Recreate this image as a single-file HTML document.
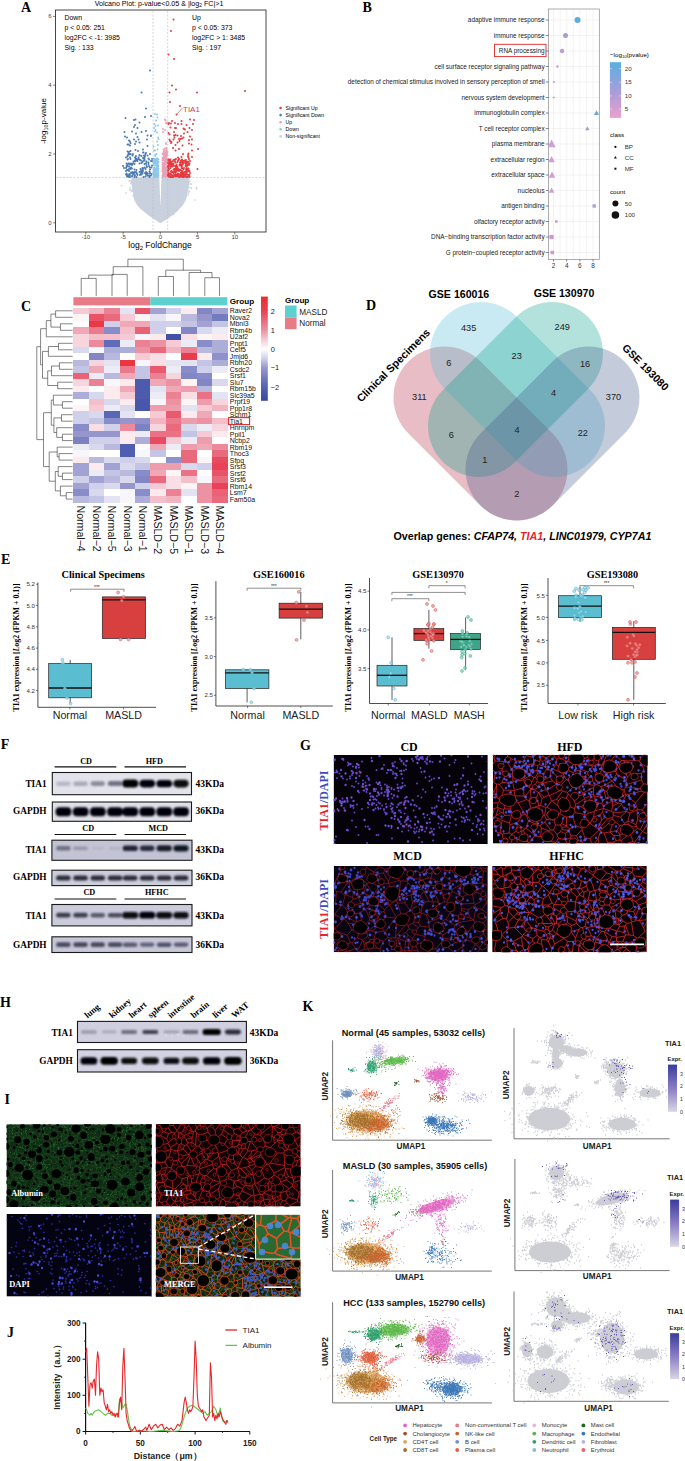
<!DOCTYPE html><html><head><meta charset="utf-8"><style>html,body{margin:0;padding:0;background:#fff;overflow:hidden}svg{display:block}</style></head><body>
<svg width="685" height="1461" viewBox="0 0 685 1461">
<rect width="685" height="1461" fill="#fff"/>
<text x="21" y="12.3" font-size="14" text-anchor="start" font-family='"Liberation Serif",serif' font-weight="bold" fill="#000">A</text>
<rect x="55.5" y="10" width="210.5" height="222" fill="none" stroke="#333" stroke-width="0.9"/>
<text x="159" y="6" font-size="7.1" text-anchor="middle" font-family='"Liberation Sans",sans-serif' fill="#000">Volcano Plot: p-value&lt;0.05 &amp; |log<tspan font-size="5" dy="1.3">2</tspan><tspan dy="-1.3"> FC|&gt;1</tspan></text>
<line x1="53" x2="55.5" y1="222.8" y2="222.8" stroke="#333" stroke-width="0.6"/>
<text x="51.5" y="224.8" font-size="6" text-anchor="end" font-family='"Liberation Sans",sans-serif' fill="#444">0</text>
<line x1="53" x2="55.5" y1="154" y2="154" stroke="#333" stroke-width="0.6"/>
<text x="51.5" y="156" font-size="6" text-anchor="end" font-family='"Liberation Sans",sans-serif' fill="#444">2</text>
<line x1="53" x2="55.5" y1="85.2" y2="85.2" stroke="#333" stroke-width="0.6"/>
<text x="51.5" y="87.2" font-size="6" text-anchor="end" font-family='"Liberation Sans",sans-serif' fill="#444">4</text>
<line x1="53" x2="55.5" y1="16.4" y2="16.4" stroke="#333" stroke-width="0.6"/>
<text x="51.5" y="18.4" font-size="6" text-anchor="end" font-family='"Liberation Sans",sans-serif' fill="#444">6</text>
<line y1="232" y2="234.5" x1="85.8" x2="85.8" stroke="#333" stroke-width="0.6"/>
<text x="85.8" y="238.6" font-size="6" text-anchor="middle" font-family='"Liberation Sans",sans-serif' fill="#444">-10</text>
<line y1="232" y2="234.5" x1="123.1" x2="123.1" stroke="#333" stroke-width="0.6"/>
<text x="123.1" y="238.6" font-size="6" text-anchor="middle" font-family='"Liberation Sans",sans-serif' fill="#444">-5</text>
<line y1="232" y2="234.5" x1="160.3" x2="160.3" stroke="#333" stroke-width="0.6"/>
<text x="160.3" y="238.6" font-size="6" text-anchor="middle" font-family='"Liberation Sans",sans-serif' fill="#444">0</text>
<line y1="232" y2="234.5" x1="197.6" x2="197.6" stroke="#333" stroke-width="0.6"/>
<text x="197.6" y="238.6" font-size="6" text-anchor="middle" font-family='"Liberation Sans",sans-serif' fill="#444">5</text>
<line y1="232" y2="234.5" x1="234.8" x2="234.8" stroke="#333" stroke-width="0.6"/>
<text x="234.8" y="238.6" font-size="6" text-anchor="middle" font-family='"Liberation Sans",sans-serif' fill="#444">10</text>
<text x="160" y="248" font-size="8.5" text-anchor="middle" font-family='"Liberation Sans",sans-serif' fill="#000">log<tspan font-size="6" dy="1.5">2</tspan><tspan dy="-1.5"> FoldChange</tspan></text>
<text transform="translate(46.3,121) rotate(-90)" font-size="8" text-anchor="middle" font-family="Liberation Sans">-log<tspan font-size="5.5" dy="1.5">10</tspan><tspan dy="-1.5">p-value</tspan></text>
<path d="M131.5 177.6L131.3 183L132.4 189.5L134.2 200L137 205L140.3 208.8L145 212.6L149 215.8L155 219.8L160.4 223.2L166 219.8L171.8 215.8L176 212.6L179.7 208.8L183 205L185.8 200L188.4 189.5L189.5 183L189.3 177.6Z" fill="#C9D1DE"/>
<path transform="scale(.5)" d="M243 371h0m15-9h0m3 4h0m0-5h0m0 1h0m2-1h0m0 5h0m2 2h0m1-7h0m4 7h0m4 1h0m22-8h0m81 8h0m2-6h0m2 5h0m2 0h0m-123 7h0m0 5h0m0-1h0m3 2h0m1 2h0m1-3h0m10 1h0m99-2h0m4 3h0m1 1h0m1-8h0m3 1h0m10 2h0m0-3h0m-141 11h0m14 4h0m2 3h0m1-2h0m0 2h0m1-4h0m0-3h0m0 3h0m3 6h0m1-3h0m6-4h0m64 4h0m26-1h0m1-1h0m1 3h0m0-8h0m4 5h0m1-4h0m-105 11h0m0 0h0m4 3h0m0 2h0m5 5h0m0-2h0m58-9h0m20 8h0m2-3h0m2-1h0m5-4h0m1 0h0m21 4h0m-107 9h0m2-1h0m65 11h0m4-2h0m1-3h0m2-6h0m-59 21h0m44-3h0m1-2h0m4-3h0m0 8h0m2-9h0m0 1h0" stroke="#C9D1DE" stroke-width="3.4" stroke-linecap="round" fill="none"/>
<path d="M159.3 177.6L161.5 177.6L160.4 207Z" fill="#fff"/>
<line x1="56" x2="265" y1="177.6" y2="177.6" stroke="#bbb" stroke-width="0.6" stroke-dasharray="2,1.5"/>
<line y1="11" y2="231" x1="153.0" x2="153.0" stroke="#bbb" stroke-width="0.6" stroke-dasharray="2,1.5"/>
<line y1="11" y2="231" x1="167.7" x2="167.7" stroke="#bbb" stroke-width="0.6" stroke-dasharray="2,1.5"/>
<path transform="scale(.5)" d="M310 228h0m4 1h0m1 6h0m-6 13h0m3-7h0m4 10h0m-8 5h0m2 7h0m1-11h0m0 8h0m3 5h0m2 10h0m-2 8h0m3-5h0m-10 15h0m8 6h0m1-9h0m-8 11h0m2 0h0m0 9h0m3-2h0m-6 9h0m0 6h0m1-3h0m0 0h0m0-1h0m0 4h0m1-5h0m0 0h0m0 1h0m0 2h0m1-3h0m1 1h0m0 3h0m0-2h0m0 0h0m0-8h0m1 7h0m0 0h0m1 2h0m0-2h0m0 1h0m0 1h0m1 1h0m0-5h0m0 5h0m0-5h0m1 4h0m0-4h0m0 1h0m1 0h0m1 1h0m-10 7h0m0 1h0m0-3h0m1 0h0m0 7h0m0-2h0m0-1h0m0-4h0m0 0h0m1 2h0m0 9h0m0 0h0m1-9h0m0-2h0m2 6h0m0-6h0m0 0h0m0 7h0m1-5h0m0 1h0m0 3h0m0-5h0m0 8h0m0-2h0m1 2h0m0 0h0m0-8h0m0 5h0m0 0h0m1 2h0m0-8h0m0 4h0m0 6h0m1-8h0m0-1h0m0 6h0m0 2h0m0-3h0m1 2h0m0 0h0m0-8h0m-10 21h0m0-2h0m0 4h0m0 0h0m0-7h0m0-1h0m1-3h0m0 5h0m0 0h0m0 6h0m0-6h0m0 1h0m0-4h0m0 6h0m0 3h0m0-9h0m1 8h0m0-4h0m0-2h0m0 7h0m0-2h0m0-5h0m0-2h0m1-1h0m0 3h0m0-2h0m0 8h0m0-6h0m0 4h0m1-5h0m0-1h0m0 6h0m0 1h0m0 2h0m1-10h0m0 0h0m0 8h0m0 0h0m0-7h0m0-1h0m0 6h0m0-3h0m1-2h0m0 3h0m0-3h0m0-1h0m1-1h0m0 5h0m0-5h0m0 10h0m1-7h0m0-1h0m0 9h0m0-1h0m0-5h0m0 5h0m0-8h0m1 3h0m1 2h0m0 4h0m0-10h0m-10 12h0m0 2h0m0 3h0m1-3h0m0 3h0m0-6h0m0 5h0m0-3h0m0-2h0m1 6h0m0-4h0m0 4h0m1-3h0m0 0h0m0 3h0m0-6h0m0 0h0m1 2h0m1 4h0m0-6h0m0 2h0m0 4h0m0-2h0m0 2h0m1-1h0m0 1h0m1-4h0m0 1h0m0 3h0m0-1h0m0-5h0m0 1h0m1 0h0m1 2h0m0-2h0m1 3h0m0-1h0m0 0h0" stroke="#8CC8E8" stroke-width="3.8" stroke-linecap="round" fill="none"/>
<path transform="scale(.5)" d="M330 239h0m0 0h0m1 2h0m1 5h0m2-1h0m0 2h0m-8 11h0m4 2h0m-4 4h0m0 0h0m6 22h0m-5 13h0m3-2h0m2-9h0m1 8h0m-8 12h0m1 1h0m1-1h0m0-1h0m0-3h0m0 2h0m1-1h0m0-2h0m0 2h0m1 2h0m0 0h0m0-5h0m0 7h0m0 2h0m1-4h0m1 2h0m0-1h0m1-1h0m0-2h0m0-3h0m0 6h0m1 3h0m0-3h0m0 3h0m0-7h0m0-4h0m1 2h0m0 7h0m0-6h0m0 4h0m0-5h0m1 9h0m0-6h0m0-1h0m-10 16h0m0-5h0m0 2h0m1 3h0m1-3h0m0 2h0m0-2h0m0-1h0m1 2h0m0-5h0m1 1h0m0-1h0m0 9h0m1-1h0m0 1h0m0-9h0m1 3h0m0 4h0m0 2h0m2-4h0m0 0h0m0-2h0m0 7h0m0-8h0m2 4h0m0 4h0m0-3h0m-10 13h0m0-5h0m0 1h0m0-1h0m0-3h0m1 6h0m0-6h0m0 7h0m1 1h0m0-7h0m1 7h0m0-5h0m1 2h0m0 4h0m0-5h0m0 3h0m0-3h0m0 2h0m0-4h0m0 8h0m1-11h0m0 3h0m1-2h0m0 4h0m1 5h0m1 1h0m0-6h0m1 4h0m0 0h0m0-9h0m0 10h0m0-9h0m1 0h0m0 2h0m-10 16h0m0-6h0m0 5h0m0-2h0m1 4h0m0-7h0m0 10h0m0-1h0m0-3h0m0 1h0m1 0h0m0 0h0m0 0h0m0-8h0m0 3h0m0-3h0m0 8h0m0-6h0m0-1h0m1-1h0m0 3h0m0 4h0m0 0h0m0-4h0m0 7h0m0-10h0m0 11h0m1-7h0m0 5h0m0-1h0m0-4h0m0 4h0m0-1h0m0 4h0m1-7h0m0 6h0m0 0h0m0 1h0m0-2h0m0-7h0m0 7h0m1-8h0m0 5h0m0-2h0m0-2h0m0 2h0m0 1h0m1 1h0m0 5h0m0-9h0m0 8h0m0 0h0m0 1h0m0-1h0m1-10h0m0 9h0m0 0h0m0 2h0m1-1h0m0-6h0m0 4h0m0 3h0m0-5h0m0-4h0m0-1h0m1 7h0m0 0h0m0-3h0m0 5h0m-10 6h0m0-1h0m1-3h0m0 0h0m0 4h0m0 1h0m0 1h0m1-3h0m0 2h0m0-1h0m0-1h0m0-1h0m1 3h0m0-2h0m0 2h0m1-4h0m0-1h0m1 4h0m0-2h0m1 4h0m0 0h0m0-3h0m1-1h0m1 3h0m0 0h0m0-1h0m0-4h0m0 5h0m0-3h0m1 0h0m0 3h0m0 0h0m1-3h0m0 0h0m0 3h0m0-2h0m0-1h0" stroke="#E9A1B9" stroke-width="3.8" stroke-linecap="round" fill="none"/>
<path transform="scale(.5)" d="M300 141h0m-17 44h0m9 32h0m-41 19h0m20 3h0m19-5h0m12-2h0m-34 8h0m2 10h0m9-5h0m-15 18h0m4-9h0m7 2h0m17 6h0m-43 2h0m1 9h0m4 2h0m18-8h0m3 7h0m8-10h0m12 7h0m7 0h0m0 1h0m-44 9h0m2 2h0m1 3h0m7-7h0m4 4h0m5-4h0m2 6h0m15-6h0m-39 10h0m2 0h0m3 2h0m10-3h0m16 11h0m9-7h0m-40 11h0m1 7h0m1-3h0m1-3h0m0 5h0m1-1h0m2 0h0m0-6h0m4 9h0m0-1h0m1-2h0m5-8h0m5 2h0m3 8h0m0 1h0m7-6h0m1 0h0m1 6h0m3-3h0m1-2h0m3 5h0m5-3h0m-48 7h0m3 4h0m0-7h0m0 1h0m1 5h0m4-3h0m1 3h0m6 5h0m3-2h0m0 2h0m0-8h0m1 5h0m0-4h0m1-4h0m1 6h0m0 3h0m2 1h0m0-3h0m2-4h0m1 3h0m2 2h0m2 1h0m1-9h0m3 4h0m1 5h0m2-7h0m0 0h0m0 7h0m0-3h0m0-3h0m1-3h0m3 11h0m0 0h0m4-6h0m1 2h0m4 3h0m2 0h0m0-4h0m-58 14h0m7-5h0m0 5h0m1 1h0m1-3h0m2-3h0m1 6h0m0-6h0m2 2h0m2 6h0m0-8h0m1 2h0m0-1h0m1 2h0m2-3h0m3 1h0m10-1h0m4-1h0m2-2h0m4 4h0m0 7h0m0 0h0m3-8h0m1 4h0m0-7h0m1 10h0m3-6h0m0-3h0m1 7h0m2 3h0m3 0h0m1-4h0m-56 5h0m4 6h0m0-6h0m1 11h0m1-7h0m3 1h0m0-2h0m1 3h0m1-5h0m2 1h0m1 7h0m1 1h0m0 0h0m1-9h0m1 7h0m1 3h0m2-2h0m1-6h0m1 5h0m2 0h0m1 2h0m0-6h0m1 7h0m5-3h0m2-6h0m1 4h0m0 2h0m3-4h0m0-1h0m0-3h0m0 9h0m0-3h0m0 5h0m1-5h0m0-4h0m0-1h0m0 0h0m4 9h0m1-9h0m0 1h0m0 0h0m1 6h0m2 2h0m1 1h0m4-4h0m0 4h0m1-1h0m0-7h0m-48 10h0m2 0h0m0 2h0m0 2h0m3-1h0m1-3h0m0 5h0m0-5h0m1-1h0m1 6h0m0-4h0m4 2h0m0 1h0m1-2h0m2-3h0m2 6h0m0-5h0m1 2h0m3 3h0m1-6h0m1 2h0m5 0h0m1-2h0m2 1h0m4 5h0m4-1h0m1-4h0m3 2h0m0-1h0m0 0h0m3 2h0m1 2h0m0-2h0m0 2h0m3-3h0m1-3h0" stroke="#4A7AB5" stroke-width="4.0" stroke-linecap="round" fill="none"/>
<path transform="scale(.5)" d="M347 39h0m-5 23h0m-5 47h0m11 9h0m-4 53h0m8 8h0m-13 6h0m55 0h0m96-3h0m-150 22h0m20 8h0m-7 17h0m27 10h0m-43 9h0m1-2h0m4 1h0m2-5h0m6 4h0m6 2h0m7-6h0m0 6h0m10 2h0m13-2h0m2-8h0m-47 15h0m9 1h0m2 0h0m15 1h0m1 1h0m2 1h0m9-3h0m5 4h0m-47 6h0m2 3h0m9-5h0m0 7h0m1 4h0m2-5h0m4 1h0m7 1h0m5 3h0m1-8h0m7-3h0m5 9h0m-41 6h0m1 3h0m2 4h0m1-2h0m4-5h0m8 6h0m3-7h0m1 4h0m2-4h0m3-1h0m14 3h0m0 7h0m6-8h0m-38 17h0m5-6h0m7 8h0m7-7h0m18-2h0m13 9h0m-45 3h0m15 7h0m10 2h0m1-3h0m7-6h0m-47 20h0m0-2h0m1 3h0m1-3h0m1 3h0m1-2h0m0 0h0m0-1h0m5 3h0m1-2h0m3 3h0m0-4h0m1 0h0m1-1h0m4 4h0m0-1h0m0-6h0m2 4h0m0-1h0m4 3h0m0 2h0m0 0h0m1-9h0m1 8h0m0-2h0m0-1h0m2 3h0m0 1h0m3-2h0m1 2h0m2-3h0m4 3h0m0-10h0m1 2h0m1 3h0m2 4h0m4-8h0m-48 18h0m0-6h0m0 8h0m1 1h0m1-3h0m0-3h0m0-2h0m1 0h0m0-3h0m0 1h0m1 0h0m0 3h0m1 4h0m1-5h0m0 1h0m0-3h0m1-1h0m0 1h0m1 8h0m0-3h0m0-3h0m1 6h0m0-2h0m1-2h0m1 2h0m0-4h0m3 5h0m0 0h0m1-7h0m1 10h0m1-6h0m0 5h0m0-3h0m2-7h0m0 10h0m0-10h0m4 7h0m0-1h0m1-5h0m0 3h0m1-3h0m1 5h0m1-1h0m0 5h0m0-1h0m1-4h0m0 3h0m1-8h0m0 2h0m0 3h0m0 0h0m2-3h0m0 1h0m4-1h0m0 6h0m1-3h0m0-5h0m0 1h0m0 0h0m1 3h0m0-3h0m1-1h0m0 8h0m2-3h0m0 0h0m1-3h0m1 3h0m0 1h0m1-3h0m-43 14h0m1-4h0m0 8h0m0-8h0m1 2h0m3-3h0m0 11h0m1-4h0m1-1h0m1 2h0m1 0h0m2-5h0m0 7h0m1-2h0m1-2h0m0-4h0m0 6h0m1 0h0m1-7h0m1 7h0m0-2h0m0-4h0m0 1h0m0-2h0m2 4h0m1-5h0m0 3h0m0-1h0m1 9h0m0-6h0m1-2h0m0-1h0m1 3h0m0 1h0m1-2h0m2 0h0m1 7h0m0-2h0m1-9h0m0 5h0m1-5h0m0 8h0m1 2h0m0-3h0m0 3h0m0-1h0m2-8h0m0 2h0m1-3h0m0 9h0m2-1h0m1-1h0m1 2h0m0-7h0m0 4h0m0 5h0m0-9h0m0 9h0m1-1h0m0-10h0m0 11h0m0-7h0m1 2h0m1-3h0m0 1h0m1-3h0m0 6h0m0-1h0m1-5h0m1 4h0m1 1h0m1 4h0m15-8h0m-59 13h0m0-2h0m1 4h0m1-5h0m0 5h0m0-1h0m1 1h0m1-1h0m0 2h0m0-6h0m2 6h0m0 0h0m1 0h0m0 0h0m0-5h0m1 5h0m0-3h0m0 2h0m1-2h0m0 2h0m1-1h0m0 2h0m0-2h0m0 2h0m1 0h0m0-2h0m0-1h0m1-1h0m0 1h0m3 1h0m0-4h0m0 5h0m1-1h0m1-3h0m1 4h0m1-2h0m1 0h0m0 1h0m1 0h0m0 1h0m0-1h0m0-4h0m1 5h0m0-4h0m0 5h0m1 0h0m1-5h0m0 5h0m1-5h0m0-1h0m0 1h0m0 0h0m0 3h0m1-4h0m2 6h0m0-4h0m0 2h0m1-3h0m0 2h0m1-1h0m0-2h0m0 6h0m1-3h0m0 0h0m0 2h0m1-3h0m0 1h0m0 2h0m0 1h0m0-3h0m0-3h0m0 6h0m2-1h0m0-3h0m1 2h0m1-4h0m0 5h0m0-4h0m1 0h0m0 5h0m1-5h0m1 5h0m0 0h0m1-1h0m0-3h0m1 0h0m1 3h0m1 1h0m0-4h0" stroke="#E63A3F" stroke-width="4.0" stroke-linecap="round" fill="none"/>
<line x1="176.6" y1="114.5" x2="182.5" y2="108" stroke="#E63A3F" stroke-width="0.6"/>
<text x="183" y="111.5" font-size="8" text-anchor="start" font-family='"Liberation Sans",sans-serif' fill="#E63A3F">TIA1</text>
<text x="64.5" y="19.6" font-size="6.9" text-anchor="start" font-family='"Liberation Sans",sans-serif' fill="#000">Down</text>
<text x="64.5" y="29.6" font-size="6.9" text-anchor="start" font-family='"Liberation Sans",sans-serif' fill="#000">p &lt; 0.05: 251</text>
<text x="64.5" y="39.6" font-size="6.9" text-anchor="start" font-family='"Liberation Sans",sans-serif' fill="#000">log2FC &lt; -1: 3985</text>
<text x="64.5" y="49.6" font-size="6.9" text-anchor="start" font-family='"Liberation Sans",sans-serif' fill="#000">Sig. : 133</text>
<text x="192" y="19.6" font-size="6.9" text-anchor="start" font-family='"Liberation Sans",sans-serif' fill="#000">Up</text>
<text x="192" y="29.6" font-size="6.9" text-anchor="start" font-family='"Liberation Sans",sans-serif' fill="#000">p &lt; 0.05: 373</text>
<text x="192" y="39.6" font-size="6.9" text-anchor="start" font-family='"Liberation Sans",sans-serif' fill="#000">log2FC &gt; 1: 3485</text>
<text x="192" y="49.6" font-size="6.9" text-anchor="start" font-family='"Liberation Sans",sans-serif' fill="#000">Sig. : 197</text>
<circle cx="280.6" cy="108" r="1.3" fill="#E63A3F"/>
<text x="285.6" y="109.8" font-size="5.2" text-anchor="start" font-family='"Liberation Sans",sans-serif' fill="#000">Significant Up</text>
<circle cx="280.6" cy="115.1" r="1.3" fill="#4A7AB5"/>
<text x="285.6" y="116.9" font-size="5.2" text-anchor="start" font-family='"Liberation Sans",sans-serif' fill="#000">Significant Down</text>
<circle cx="280.6" cy="122.2" r="1.3" fill="#E9A1B9"/>
<text x="285.6" y="124" font-size="5.2" text-anchor="start" font-family='"Liberation Sans",sans-serif' fill="#000">Up</text>
<circle cx="280.6" cy="129.3" r="1.3" fill="#8CC8E8"/>
<text x="285.6" y="131.1" font-size="5.2" text-anchor="start" font-family='"Liberation Sans",sans-serif' fill="#000">Down</text>
<circle cx="280.6" cy="136.4" r="1.3" fill="#C9D1DE"/>
<text x="285.6" y="138.2" font-size="5.2" text-anchor="start" font-family='"Liberation Sans",sans-serif' fill="#000">Non-significant</text>
<text x="362.5" y="12.3" font-size="14" text-anchor="start" font-family='"Liberation Serif",serif' font-weight="bold" fill="#000">B</text>
<rect x="548.5" y="9" width="50.799999999999955" height="250.5" fill="#fff"/>
<line x1="553.5" x2="553.5" y1="9" y2="259.5" stroke="#ebebeb" stroke-width="0.6"/>
<line x1="560.1" x2="560.1" y1="9" y2="259.5" stroke="#ebebeb" stroke-width="0.6"/>
<line x1="566.7" x2="566.7" y1="9" y2="259.5" stroke="#ebebeb" stroke-width="0.6"/>
<line x1="573.2" x2="573.2" y1="9" y2="259.5" stroke="#ebebeb" stroke-width="0.6"/>
<line x1="579.8" x2="579.8" y1="9" y2="259.5" stroke="#ebebeb" stroke-width="0.6"/>
<line x1="586.4" x2="586.4" y1="9" y2="259.5" stroke="#ebebeb" stroke-width="0.6"/>
<line x1="593" x2="593" y1="9" y2="259.5" stroke="#ebebeb" stroke-width="0.6"/>
<line x1="548.5" x2="599.3" y1="20" y2="20" stroke="#ebebeb" stroke-width="0.6"/>
<line x1="548.5" x2="599.3" y1="35.5" y2="35.5" stroke="#ebebeb" stroke-width="0.6"/>
<line x1="548.5" x2="599.3" y1="51" y2="51" stroke="#ebebeb" stroke-width="0.6"/>
<line x1="548.5" x2="599.3" y1="66.5" y2="66.5" stroke="#ebebeb" stroke-width="0.6"/>
<line x1="548.5" x2="599.3" y1="82" y2="82" stroke="#ebebeb" stroke-width="0.6"/>
<line x1="548.5" x2="599.3" y1="97.5" y2="97.5" stroke="#ebebeb" stroke-width="0.6"/>
<line x1="548.5" x2="599.3" y1="113" y2="113" stroke="#ebebeb" stroke-width="0.6"/>
<line x1="548.5" x2="599.3" y1="128.5" y2="128.5" stroke="#ebebeb" stroke-width="0.6"/>
<line x1="548.5" x2="599.3" y1="144" y2="144" stroke="#ebebeb" stroke-width="0.6"/>
<line x1="548.5" x2="599.3" y1="159.5" y2="159.5" stroke="#ebebeb" stroke-width="0.6"/>
<line x1="548.5" x2="599.3" y1="175" y2="175" stroke="#ebebeb" stroke-width="0.6"/>
<line x1="548.5" x2="599.3" y1="190.5" y2="190.5" stroke="#ebebeb" stroke-width="0.6"/>
<line x1="548.5" x2="599.3" y1="206" y2="206" stroke="#ebebeb" stroke-width="0.6"/>
<line x1="548.5" x2="599.3" y1="221.5" y2="221.5" stroke="#ebebeb" stroke-width="0.6"/>
<line x1="548.5" x2="599.3" y1="237" y2="237" stroke="#ebebeb" stroke-width="0.6"/>
<line x1="548.5" x2="599.3" y1="252.5" y2="252.5" stroke="#ebebeb" stroke-width="0.6"/>
<rect x="548.5" y="9" width="50.799999999999955" height="250.5" fill="none" stroke="#8a8a8a" stroke-width="0.7"/>
<text x="544.6" y="22.2" font-size="6.4" text-anchor="end" font-family='"Liberation Sans",sans-serif' fill="#1a1a1a">adaptive immune response</text>
<line x1="545.8" x2="548.5" y1="20" y2="20" stroke="#333" stroke-width="0.6"/>
<text x="544.6" y="37.7" font-size="6.4" text-anchor="end" font-family='"Liberation Sans",sans-serif' fill="#1a1a1a">immune response</text>
<line x1="545.8" x2="548.5" y1="35.5" y2="35.5" stroke="#333" stroke-width="0.6"/>
<text x="544.6" y="53.2" font-size="6.4" text-anchor="end" font-family='"Liberation Sans",sans-serif' fill="#1a1a1a">RNA processing</text>
<line x1="545.8" x2="548.5" y1="51" y2="51" stroke="#333" stroke-width="0.6"/>
<text x="544.6" y="68.7" font-size="6.4" text-anchor="end" font-family='"Liberation Sans",sans-serif' fill="#1a1a1a">cell surface receptor signaling pathway</text>
<line x1="545.8" x2="548.5" y1="66.5" y2="66.5" stroke="#333" stroke-width="0.6"/>
<text x="544.6" y="84.2" font-size="6.4" text-anchor="end" font-family='"Liberation Sans",sans-serif' fill="#1a1a1a">detection of chemical stimulus involved in sensory perception of smell</text>
<line x1="545.8" x2="548.5" y1="82" y2="82" stroke="#333" stroke-width="0.6"/>
<text x="544.6" y="99.7" font-size="6.4" text-anchor="end" font-family='"Liberation Sans",sans-serif' fill="#1a1a1a">nervous system development</text>
<line x1="545.8" x2="548.5" y1="97.5" y2="97.5" stroke="#333" stroke-width="0.6"/>
<text x="544.6" y="115.2" font-size="6.4" text-anchor="end" font-family='"Liberation Sans",sans-serif' fill="#1a1a1a">immunoglobulin complex</text>
<line x1="545.8" x2="548.5" y1="113" y2="113" stroke="#333" stroke-width="0.6"/>
<text x="544.6" y="130.7" font-size="6.4" text-anchor="end" font-family='"Liberation Sans",sans-serif' fill="#1a1a1a">T cell receptor complex</text>
<line x1="545.8" x2="548.5" y1="128.5" y2="128.5" stroke="#333" stroke-width="0.6"/>
<text x="544.6" y="146.2" font-size="6.4" text-anchor="end" font-family='"Liberation Sans",sans-serif' fill="#1a1a1a">plasma membrane</text>
<line x1="545.8" x2="548.5" y1="144" y2="144" stroke="#333" stroke-width="0.6"/>
<text x="544.6" y="161.7" font-size="6.4" text-anchor="end" font-family='"Liberation Sans",sans-serif' fill="#1a1a1a">extracellular region</text>
<line x1="545.8" x2="548.5" y1="159.5" y2="159.5" stroke="#333" stroke-width="0.6"/>
<text x="544.6" y="177.2" font-size="6.4" text-anchor="end" font-family='"Liberation Sans",sans-serif' fill="#1a1a1a">extracellular space</text>
<line x1="545.8" x2="548.5" y1="175" y2="175" stroke="#333" stroke-width="0.6"/>
<text x="544.6" y="192.7" font-size="6.4" text-anchor="end" font-family='"Liberation Sans",sans-serif' fill="#1a1a1a">nucleolus</text>
<line x1="545.8" x2="548.5" y1="190.5" y2="190.5" stroke="#333" stroke-width="0.6"/>
<text x="544.6" y="208.2" font-size="6.4" text-anchor="end" font-family='"Liberation Sans",sans-serif' fill="#1a1a1a">antigen binding</text>
<line x1="545.8" x2="548.5" y1="206" y2="206" stroke="#333" stroke-width="0.6"/>
<text x="544.6" y="223.7" font-size="6.4" text-anchor="end" font-family='"Liberation Sans",sans-serif' fill="#1a1a1a">olfactory receptor activity</text>
<line x1="545.8" x2="548.5" y1="221.5" y2="221.5" stroke="#333" stroke-width="0.6"/>
<text x="544.6" y="239.2" font-size="6.4" text-anchor="end" font-family='"Liberation Sans",sans-serif' fill="#1a1a1a">DNA−binding transcription factor activity</text>
<line x1="545.8" x2="548.5" y1="237" y2="237" stroke="#333" stroke-width="0.6"/>
<text x="544.6" y="254.7" font-size="6.4" text-anchor="end" font-family='"Liberation Sans",sans-serif' fill="#1a1a1a">G protein−coupled receptor activity</text>
<line x1="545.8" x2="548.5" y1="252.5" y2="252.5" stroke="#333" stroke-width="0.6"/>
<line y1="259.5" y2="261.5" x1="553.5" x2="553.5" stroke="#333" stroke-width="0.6"/>
<text x="553.5" y="268.3" font-size="6.4" text-anchor="middle" font-family='"Liberation Sans",sans-serif' fill="#333">2</text>
<line y1="259.5" y2="261.5" x1="566.7" x2="566.7" stroke="#333" stroke-width="0.6"/>
<text x="566.7" y="268.3" font-size="6.4" text-anchor="middle" font-family='"Liberation Sans",sans-serif' fill="#333">4</text>
<line y1="259.5" y2="261.5" x1="579.8" x2="579.8" stroke="#333" stroke-width="0.6"/>
<text x="579.8" y="268.3" font-size="6.4" text-anchor="middle" font-family='"Liberation Sans",sans-serif' fill="#333">6</text>
<line y1="259.5" y2="261.5" x1="593" x2="593" stroke="#333" stroke-width="0.6"/>
<text x="593" y="268.3" font-size="6.4" text-anchor="middle" font-family='"Liberation Sans",sans-serif' fill="#333">8</text>
<rect x="494.5" y="44.3" width="51.5" height="12.3" fill="none" stroke="#E0262B" stroke-width="0.9"/>
<circle cx="577.5" cy="20" r="3.0" fill="#5DAEE0"/>
<circle cx="565.5" cy="35.5" r="2.5" fill="#A99BD9"/>
<circle cx="562" cy="51" r="2.2" fill="#BC9CD8"/>
<circle cx="557.4" cy="66.5" r="1.2" fill="#DA92D0"/>
<circle cx="554" cy="82" r="1.1" fill="#DC93CF"/>
<circle cx="553.8" cy="97.5" r="1.1" fill="#DC93CF"/>
<path d="M596.5 110.2L599.1 115.1L593.9 115.1Z" fill="#6AA8DA"/>
<path d="M587.4 126.2L589.5 130.2L585.2 130.2Z" fill="#9D9CD8"/>
<path d="M551.6 139.6L555.7 147.3L547.5 147.3Z" fill="#CDA0D8"/>
<path d="M551.6 155.9L554.9 162.2L548.3 162.2Z" fill="#D29CD4"/>
<path d="M552 171.4L555.3 177.7L548.7 177.7Z" fill="#D29CD4"/>
<path d="M551.6 187.5L554.4 192.8L548.8 192.8Z" fill="#D49AD2"/>
<rect x="592.5" y="204.3" width="3.4" height="3.4" fill="#A9A3DA"/>
<rect x="555" y="220.2" width="2.5" height="2.5" fill="#DA92CE"/>
<rect x="549.4" y="234.9" width="4.2" height="4.2" fill="#DA92CE"/>
<rect x="550.5" y="250.7" width="3.6" height="3.6" fill="#DA92CE"/>
<text x="610" y="57" font-size="6.2" text-anchor="start" font-family='"Liberation Sans",sans-serif' fill="#000">−log<tspan font-size="4.2" dy="1.2">10</tspan><tspan dy="-1.2">(pvalue)</tspan></text>
<defs><linearGradient id="gb" x1="0" y1="0" x2="0" y2="1"><stop offset="0" stop-color="#58AFE1"/><stop offset="0.35" stop-color="#8FA3DC"/><stop offset="0.6" stop-color="#B39CD8"/><stop offset="1" stop-color="#E8A2CD"/></linearGradient></defs>
<rect x="609.9" y="62.2" width="11.2" height="55.7" fill="url(#gb)"/>
<line x1="609.9" x2="611.8" y1="68.6" y2="68.6" stroke="#fff" stroke-width="0.5"/><line x1="619.2" x2="621.1" y1="68.6" y2="68.6" stroke="#fff" stroke-width="0.5"/>
<text x="624.7" y="70.7" font-size="6.2" text-anchor="start" font-family='"Liberation Sans",sans-serif' fill="#333">20</text>
<line x1="609.9" x2="611.8" y1="82.3" y2="82.3" stroke="#fff" stroke-width="0.5"/><line x1="619.2" x2="621.1" y1="82.3" y2="82.3" stroke="#fff" stroke-width="0.5"/>
<text x="624.7" y="84.4" font-size="6.2" text-anchor="start" font-family='"Liberation Sans",sans-serif' fill="#333">15</text>
<line x1="609.9" x2="611.8" y1="95.9" y2="95.9" stroke="#fff" stroke-width="0.5"/><line x1="619.2" x2="621.1" y1="95.9" y2="95.9" stroke="#fff" stroke-width="0.5"/>
<text x="624.7" y="98" font-size="6.2" text-anchor="start" font-family='"Liberation Sans",sans-serif' fill="#333">10</text>
<line x1="609.9" x2="611.8" y1="109" y2="109" stroke="#fff" stroke-width="0.5"/><line x1="619.2" x2="621.1" y1="109" y2="109" stroke="#fff" stroke-width="0.5"/>
<text x="624.7" y="111.1" font-size="6.2" text-anchor="start" font-family='"Liberation Sans",sans-serif' fill="#333">5</text>
<text x="610" y="137.4" font-size="6.2" text-anchor="start" font-family='"Liberation Sans",sans-serif' fill="#000">class</text>
<circle cx="615.4" cy="146.9" r="1.1" fill="#111"/>
<text x="624.7" y="149" font-size="6.2" text-anchor="start" font-family='"Liberation Sans",sans-serif' fill="#333">BP</text>
<path d="M615.4 156.1L616.9 158.6L613.9 158.6Z" fill="#111"/>
<text x="624.7" y="159.6" font-size="6.2" text-anchor="start" font-family='"Liberation Sans",sans-serif' fill="#333">CC</text>
<rect x="614.4" y="167.7" width="2" height="2" fill="#111"/>
<text x="624.7" y="170.8" font-size="6.2" text-anchor="start" font-family='"Liberation Sans",sans-serif' fill="#333">MF</text>
<text x="610" y="194" font-size="6.2" text-anchor="start" font-family='"Liberation Sans",sans-serif' fill="#000">count</text>
<circle cx="615.4" cy="203.6" r="3" fill="#111"/>
<text x="624.7" y="205.7" font-size="6.2" text-anchor="start" font-family='"Liberation Sans",sans-serif' fill="#333">50</text>
<circle cx="615.4" cy="215" r="3.8" fill="#111"/>
<text x="624.7" y="217.1" font-size="6.2" text-anchor="start" font-family='"Liberation Sans",sans-serif' fill="#333">100</text>
<text x="21" y="310.5" font-size="14" text-anchor="start" font-family='"Liberation Serif",serif' font-weight="bold" fill="#000">C</text>
<g shape-rendering="crispEdges"><rect x="73.4" y="307.6" width="15.7" height="6.8" fill="#F5CAD4"/><rect x="88.8" y="307.6" width="15.7" height="6.8" fill="#F1B4C0"/><rect x="104.2" y="307.6" width="15.7" height="6.8" fill="#EB8293"/><rect x="119.6" y="307.6" width="15.7" height="6.8" fill="#E3E3F2"/><rect x="135" y="307.6" width="15.7" height="6.8" fill="#E95267"/><rect x="150.4" y="307.6" width="15.7" height="6.8" fill="#A2A2D3"/><rect x="165.9" y="307.6" width="15.7" height="6.8" fill="#D0D0EA"/><rect x="181.3" y="307.6" width="15.7" height="6.8" fill="#FBEAEE"/><rect x="196.7" y="307.6" width="15.7" height="6.8" fill="#8286C5"/><rect x="212.1" y="307.6" width="15.7" height="6.8" fill="#A2A2D3"/><rect x="73.4" y="314.1" width="15.7" height="6.8" fill="#FDF4F6"/><rect x="88.8" y="314.1" width="15.7" height="6.8" fill="#E95267"/><rect x="104.2" y="314.1" width="15.7" height="6.8" fill="#EA6A7D"/><rect x="119.6" y="314.1" width="15.7" height="6.8" fill="#F5CAD4"/><rect x="135" y="314.1" width="15.7" height="6.8" fill="#FDF4F6"/><rect x="150.4" y="314.1" width="15.7" height="6.8" fill="#E3E3F2"/><rect x="165.9" y="314.1" width="15.7" height="6.8" fill="#F6F6FB"/><rect x="181.3" y="314.1" width="15.7" height="6.8" fill="#B9B9DE"/><rect x="196.7" y="314.1" width="15.7" height="6.8" fill="#9696CD"/><rect x="212.1" y="314.1" width="15.7" height="6.8" fill="#747CC0"/><rect x="73.4" y="320.6" width="15.7" height="6.8" fill="#FFFFFF"/><rect x="88.8" y="320.6" width="15.7" height="6.8" fill="#EA3946"/><rect x="104.2" y="320.6" width="15.7" height="6.8" fill="#D0D0EA"/><rect x="119.6" y="320.6" width="15.7" height="6.8" fill="#F0A8B6"/><rect x="135" y="320.6" width="15.7" height="6.8" fill="#F0A8B6"/><rect x="150.4" y="320.6" width="15.7" height="6.8" fill="#D0D0EA"/><rect x="165.9" y="320.6" width="15.7" height="6.8" fill="#D0D0EA"/><rect x="181.3" y="320.6" width="15.7" height="6.8" fill="#C4C4E4"/><rect x="196.7" y="320.6" width="15.7" height="6.8" fill="#A2A2D3"/><rect x="212.1" y="320.6" width="15.7" height="6.8" fill="#C4C4E4"/><rect x="73.4" y="327.1" width="15.7" height="6.8" fill="#F0A8B6"/><rect x="88.8" y="327.1" width="15.7" height="6.8" fill="#EB7A8C"/><rect x="104.2" y="327.1" width="15.7" height="6.8" fill="#888CC8"/><rect x="119.6" y="327.1" width="15.7" height="6.8" fill="#F3BFCA"/><rect x="135" y="327.1" width="15.7" height="6.8" fill="#EA6276"/><rect x="150.4" y="327.1" width="15.7" height="6.8" fill="#D0D0EA"/><rect x="165.9" y="327.1" width="15.7" height="6.8" fill="#FFFFFF"/><rect x="181.3" y="327.1" width="15.7" height="6.8" fill="#8286C5"/><rect x="196.7" y="327.1" width="15.7" height="6.8" fill="#D9D9EE"/><rect x="212.1" y="327.1" width="15.7" height="6.8" fill="#ECECF7"/><rect x="73.4" y="333.6" width="15.7" height="6.8" fill="#F7D5DD"/><rect x="88.8" y="333.6" width="15.7" height="6.8" fill="#F3BFCA"/><rect x="104.2" y="333.6" width="15.7" height="6.8" fill="#F3BFCA"/><rect x="119.6" y="333.6" width="15.7" height="6.8" fill="#F5CAD4"/><rect x="135" y="333.6" width="15.7" height="6.8" fill="#F6F6FB"/><rect x="150.4" y="333.6" width="15.7" height="6.8" fill="#FBEAEE"/><rect x="165.9" y="333.6" width="15.7" height="6.8" fill="#4250A6"/><rect x="181.3" y="333.6" width="15.7" height="6.8" fill="#F9DFE5"/><rect x="196.7" y="333.6" width="15.7" height="6.8" fill="#FDF4F6"/><rect x="212.1" y="333.6" width="15.7" height="6.8" fill="#FBEAEE"/><rect x="73.4" y="340.1" width="15.7" height="6.8" fill="#F7D5DD"/><rect x="88.8" y="340.1" width="15.7" height="6.8" fill="#EC8A9B"/><rect x="104.2" y="340.1" width="15.7" height="6.8" fill="#606CB7"/><rect x="119.6" y="340.1" width="15.7" height="6.8" fill="#ECECF7"/><rect x="135" y="340.1" width="15.7" height="6.8" fill="#EB8293"/><rect x="150.4" y="340.1" width="15.7" height="6.8" fill="#EC92A2"/><rect x="165.9" y="340.1" width="15.7" height="6.8" fill="#F5CAD4"/><rect x="181.3" y="340.1" width="15.7" height="6.8" fill="#ECECF7"/><rect x="196.7" y="340.1" width="15.7" height="6.8" fill="#888CC8"/><rect x="212.1" y="340.1" width="15.7" height="6.8" fill="#ADADD9"/><rect x="73.4" y="346.5" width="15.7" height="6.8" fill="#D9D9EE"/><rect x="88.8" y="346.5" width="15.7" height="6.8" fill="#F6F6FB"/><rect x="104.2" y="346.5" width="15.7" height="6.8" fill="#ADADD9"/><rect x="119.6" y="346.5" width="15.7" height="6.8" fill="#ADADD9"/><rect x="135" y="346.5" width="15.7" height="6.8" fill="#EC92A2"/><rect x="150.4" y="346.5" width="15.7" height="6.8" fill="#EA6A7D"/><rect x="165.9" y="346.5" width="15.7" height="6.8" fill="#F1B4C0"/><rect x="181.3" y="346.5" width="15.7" height="6.8" fill="#EB8293"/><rect x="196.7" y="346.5" width="15.7" height="6.8" fill="#B9B9DE"/><rect x="212.1" y="346.5" width="15.7" height="6.8" fill="#ADADD9"/><rect x="73.4" y="353" width="15.7" height="6.8" fill="#FFFFFF"/><rect x="88.8" y="353" width="15.7" height="6.8" fill="#8286C5"/><rect x="104.2" y="353" width="15.7" height="6.8" fill="#B9B9DE"/><rect x="119.6" y="353" width="15.7" height="6.8" fill="#FFFFFF"/><rect x="135" y="353" width="15.7" height="6.8" fill="#F5CAD4"/><rect x="150.4" y="353" width="15.7" height="6.8" fill="#F9DFE5"/><rect x="165.9" y="353" width="15.7" height="6.8" fill="#FFFFFF"/><rect x="181.3" y="353" width="15.7" height="6.8" fill="#EA3C4C"/><rect x="196.7" y="353" width="15.7" height="6.8" fill="#FBEAEE"/><rect x="212.1" y="353" width="15.7" height="6.8" fill="#8F91CA"/><rect x="73.4" y="359.5" width="15.7" height="6.8" fill="#B9B9DE"/><rect x="88.8" y="359.5" width="15.7" height="6.8" fill="#F7D5DD"/><rect x="104.2" y="359.5" width="15.7" height="6.8" fill="#E3E3F2"/><rect x="119.6" y="359.5" width="15.7" height="6.8" fill="#EB3640"/><rect x="135" y="359.5" width="15.7" height="6.8" fill="#F6F6FB"/><rect x="150.4" y="359.5" width="15.7" height="6.8" fill="#F9DFE5"/><rect x="165.9" y="359.5" width="15.7" height="6.8" fill="#E3E3F2"/><rect x="181.3" y="359.5" width="15.7" height="6.8" fill="#E3E3F2"/><rect x="196.7" y="359.5" width="15.7" height="6.8" fill="#C4C4E4"/><rect x="212.1" y="359.5" width="15.7" height="6.8" fill="#ADADD9"/><rect x="73.4" y="366" width="15.7" height="6.8" fill="#C4C4E4"/><rect x="88.8" y="366" width="15.7" height="6.8" fill="#F0A8B6"/><rect x="104.2" y="366" width="15.7" height="6.8" fill="#ECECF7"/><rect x="119.6" y="366" width="15.7" height="6.8" fill="#EB7A8C"/><rect x="135" y="366" width="15.7" height="6.8" fill="#C4C4E4"/><rect x="150.4" y="366" width="15.7" height="6.8" fill="#E95A6E"/><rect x="165.9" y="366" width="15.7" height="6.8" fill="#ECECF7"/><rect x="181.3" y="366" width="15.7" height="6.8" fill="#888CC8"/><rect x="196.7" y="366" width="15.7" height="6.8" fill="#D0D0EA"/><rect x="212.1" y="366" width="15.7" height="6.8" fill="#ECECF7"/><rect x="73.4" y="372.5" width="15.7" height="6.8" fill="#EA6276"/><rect x="88.8" y="372.5" width="15.7" height="6.8" fill="#ECECF7"/><rect x="104.2" y="372.5" width="15.7" height="6.8" fill="#B9B9DE"/><rect x="119.6" y="372.5" width="15.7" height="6.8" fill="#F0A8B6"/><rect x="135" y="372.5" width="15.7" height="6.8" fill="#C4C4E4"/><rect x="150.4" y="372.5" width="15.7" height="6.8" fill="#EB8293"/><rect x="165.9" y="372.5" width="15.7" height="6.8" fill="#F7D5DD"/><rect x="181.3" y="372.5" width="15.7" height="6.8" fill="#8286C5"/><rect x="196.7" y="372.5" width="15.7" height="6.8" fill="#888CC8"/><rect x="212.1" y="372.5" width="15.7" height="6.8" fill="#FFFFFF"/><rect x="73.4" y="379" width="15.7" height="6.8" fill="#F7D5DD"/><rect x="88.8" y="379" width="15.7" height="6.8" fill="#EB8293"/><rect x="104.2" y="379" width="15.7" height="6.8" fill="#F6F6FB"/><rect x="119.6" y="379" width="15.7" height="6.8" fill="#FBEAEE"/><rect x="135" y="379" width="15.7" height="6.8" fill="#4C5BAD"/><rect x="150.4" y="379" width="15.7" height="6.8" fill="#F0A8B6"/><rect x="165.9" y="379" width="15.7" height="6.8" fill="#EC92A2"/><rect x="181.3" y="379" width="15.7" height="6.8" fill="#FDF4F6"/><rect x="196.7" y="379" width="15.7" height="6.8" fill="#8286C5"/><rect x="212.1" y="379" width="15.7" height="6.8" fill="#D9D9EE"/><rect x="73.4" y="385.5" width="15.7" height="6.8" fill="#FBEAEE"/><rect x="88.8" y="385.5" width="15.7" height="6.8" fill="#FFFFFF"/><rect x="104.2" y="385.5" width="15.7" height="6.8" fill="#FBEAEE"/><rect x="119.6" y="385.5" width="15.7" height="6.8" fill="#F0A8B6"/><rect x="135" y="385.5" width="15.7" height="6.8" fill="#4C5BAD"/><rect x="150.4" y="385.5" width="15.7" height="6.8" fill="#E3E3F2"/><rect x="165.9" y="385.5" width="15.7" height="6.8" fill="#F0A8B6"/><rect x="181.3" y="385.5" width="15.7" height="6.8" fill="#EE9DAC"/><rect x="196.7" y="385.5" width="15.7" height="6.8" fill="#B9B9DE"/><rect x="212.1" y="385.5" width="15.7" height="6.8" fill="#FFFFFF"/><rect x="73.4" y="392" width="15.7" height="6.8" fill="#ADADD9"/><rect x="88.8" y="392" width="15.7" height="6.8" fill="#D9D9EE"/><rect x="104.2" y="392" width="15.7" height="6.8" fill="#FBEAEE"/><rect x="119.6" y="392" width="15.7" height="6.8" fill="#F5CAD4"/><rect x="135" y="392" width="15.7" height="6.8" fill="#4C5BAD"/><rect x="150.4" y="392" width="15.7" height="6.8" fill="#ECECF7"/><rect x="165.9" y="392" width="15.7" height="6.8" fill="#EB8293"/><rect x="181.3" y="392" width="15.7" height="6.8" fill="#F9DFE5"/><rect x="196.7" y="392" width="15.7" height="6.8" fill="#EA7284"/><rect x="212.1" y="392" width="15.7" height="6.8" fill="#E3E3F2"/><rect x="73.4" y="398.5" width="15.7" height="6.8" fill="#FFFFFF"/><rect x="88.8" y="398.5" width="15.7" height="6.8" fill="#F3BFCA"/><rect x="104.2" y="398.5" width="15.7" height="6.8" fill="#D9D9EE"/><rect x="119.6" y="398.5" width="15.7" height="6.8" fill="#FBEAEE"/><rect x="135" y="398.5" width="15.7" height="6.8" fill="#4857AB"/><rect x="150.4" y="398.5" width="15.7" height="6.8" fill="#F6F6FB"/><rect x="165.9" y="398.5" width="15.7" height="6.8" fill="#EC92A2"/><rect x="181.3" y="398.5" width="15.7" height="6.8" fill="#FDF4F6"/><rect x="196.7" y="398.5" width="15.7" height="6.8" fill="#EE9DAC"/><rect x="212.1" y="398.5" width="15.7" height="6.8" fill="#F7D5DD"/><rect x="73.4" y="405" width="15.7" height="6.8" fill="#FDF4F6"/><rect x="88.8" y="405" width="15.7" height="6.8" fill="#F5CAD4"/><rect x="104.2" y="405" width="15.7" height="6.8" fill="#ECECF7"/><rect x="119.6" y="405" width="15.7" height="6.8" fill="#D9D9EE"/><rect x="135" y="405" width="15.7" height="6.8" fill="#4857AB"/><rect x="150.4" y="405" width="15.7" height="6.8" fill="#EE9DAC"/><rect x="165.9" y="405" width="15.7" height="6.8" fill="#EE9DAC"/><rect x="181.3" y="405" width="15.7" height="6.8" fill="#E3E3F2"/><rect x="196.7" y="405" width="15.7" height="6.8" fill="#F5CAD4"/><rect x="212.1" y="405" width="15.7" height="6.8" fill="#F1B4C0"/><rect x="73.4" y="411.4" width="15.7" height="6.8" fill="#D0D0EA"/><rect x="88.8" y="411.4" width="15.7" height="6.8" fill="#D9D9EE"/><rect x="104.2" y="411.4" width="15.7" height="6.8" fill="#5967B5"/><rect x="119.6" y="411.4" width="15.7" height="6.8" fill="#E3E3F2"/><rect x="135" y="411.4" width="15.7" height="6.8" fill="#FFFFFF"/><rect x="150.4" y="411.4" width="15.7" height="6.8" fill="#F5CAD4"/><rect x="165.9" y="411.4" width="15.7" height="6.8" fill="#E95A6E"/><rect x="181.3" y="411.4" width="15.7" height="6.8" fill="#FBEAEE"/><rect x="196.7" y="411.4" width="15.7" height="6.8" fill="#F0A8B6"/><rect x="212.1" y="411.4" width="15.7" height="6.8" fill="#FFFFFF"/><rect x="73.4" y="417.9" width="15.7" height="6.8" fill="#D0D0EA"/><rect x="88.8" y="417.9" width="15.7" height="6.8" fill="#C4C4E4"/><rect x="104.2" y="417.9" width="15.7" height="6.8" fill="#888CC8"/><rect x="119.6" y="417.9" width="15.7" height="6.8" fill="#9696CD"/><rect x="135" y="417.9" width="15.7" height="6.8" fill="#8F91CA"/><rect x="150.4" y="417.9" width="15.7" height="6.8" fill="#F1B4C0"/><rect x="165.9" y="417.9" width="15.7" height="6.8" fill="#EB7A8C"/><rect x="181.3" y="417.9" width="15.7" height="6.8" fill="#EE9DAC"/><rect x="196.7" y="417.9" width="15.7" height="6.8" fill="#EC92A2"/><rect x="212.1" y="417.9" width="15.7" height="6.8" fill="#F3BFCA"/><rect x="73.4" y="424.4" width="15.7" height="6.8" fill="#888CC8"/><rect x="88.8" y="424.4" width="15.7" height="6.8" fill="#F9DFE5"/><rect x="104.2" y="424.4" width="15.7" height="6.8" fill="#D0D0EA"/><rect x="119.6" y="424.4" width="15.7" height="6.8" fill="#EC8A9B"/><rect x="135" y="424.4" width="15.7" height="6.8" fill="#7B81C2"/><rect x="150.4" y="424.4" width="15.7" height="6.8" fill="#F7D5DD"/><rect x="165.9" y="424.4" width="15.7" height="6.8" fill="#EA6A7D"/><rect x="181.3" y="424.4" width="15.7" height="6.8" fill="#D9D9EE"/><rect x="196.7" y="424.4" width="15.7" height="6.8" fill="#ECECF7"/><rect x="212.1" y="424.4" width="15.7" height="6.8" fill="#F7D5DD"/><rect x="73.4" y="430.9" width="15.7" height="6.8" fill="#9696CD"/><rect x="88.8" y="430.9" width="15.7" height="6.8" fill="#9696CD"/><rect x="104.2" y="430.9" width="15.7" height="6.8" fill="#9696CD"/><rect x="119.6" y="430.9" width="15.7" height="6.8" fill="#FBEAEE"/><rect x="135" y="430.9" width="15.7" height="6.8" fill="#ECECF7"/><rect x="150.4" y="430.9" width="15.7" height="6.8" fill="#EA7284"/><rect x="165.9" y="430.9" width="15.7" height="6.8" fill="#EA7284"/><rect x="181.3" y="430.9" width="15.7" height="6.8" fill="#C4C4E4"/><rect x="196.7" y="430.9" width="15.7" height="6.8" fill="#F5CAD4"/><rect x="212.1" y="430.9" width="15.7" height="6.8" fill="#FBEAEE"/><rect x="73.4" y="437.4" width="15.7" height="6.8" fill="#7B81C2"/><rect x="88.8" y="437.4" width="15.7" height="6.8" fill="#D0D0EA"/><rect x="104.2" y="437.4" width="15.7" height="6.8" fill="#D0D0EA"/><rect x="119.6" y="437.4" width="15.7" height="6.8" fill="#FBEAEE"/><rect x="135" y="437.4" width="15.7" height="6.8" fill="#ADADD9"/><rect x="150.4" y="437.4" width="15.7" height="6.8" fill="#E84A5F"/><rect x="165.9" y="437.4" width="15.7" height="6.8" fill="#F5CAD4"/><rect x="181.3" y="437.4" width="15.7" height="6.8" fill="#ECECF7"/><rect x="196.7" y="437.4" width="15.7" height="6.8" fill="#EE9DAC"/><rect x="212.1" y="437.4" width="15.7" height="6.8" fill="#FFFFFF"/><rect x="73.4" y="443.9" width="15.7" height="6.8" fill="#ECECF7"/><rect x="88.8" y="443.9" width="15.7" height="6.8" fill="#D9D9EE"/><rect x="104.2" y="443.9" width="15.7" height="6.8" fill="#B9B9DE"/><rect x="119.6" y="443.9" width="15.7" height="6.8" fill="#4F5EB0"/><rect x="135" y="443.9" width="15.7" height="6.8" fill="#FEFAFB"/><rect x="150.4" y="443.9" width="15.7" height="6.8" fill="#F0A8B6"/><rect x="165.9" y="443.9" width="15.7" height="6.8" fill="#ECECF7"/><rect x="181.3" y="443.9" width="15.7" height="6.8" fill="#EE9DAC"/><rect x="196.7" y="443.9" width="15.7" height="6.8" fill="#F0A8B6"/><rect x="212.1" y="443.9" width="15.7" height="6.8" fill="#EC8A9B"/><rect x="73.4" y="450.4" width="15.7" height="6.8" fill="#F6F6FB"/><rect x="88.8" y="450.4" width="15.7" height="6.8" fill="#FFFFFF"/><rect x="104.2" y="450.4" width="15.7" height="6.8" fill="#FFFFFF"/><rect x="119.6" y="450.4" width="15.7" height="6.8" fill="#4F5EB0"/><rect x="135" y="450.4" width="15.7" height="6.8" fill="#F6F6FB"/><rect x="150.4" y="450.4" width="15.7" height="6.8" fill="#C4C4E4"/><rect x="165.9" y="450.4" width="15.7" height="6.8" fill="#FFFFFF"/><rect x="181.3" y="450.4" width="15.7" height="6.8" fill="#EA6A7D"/><rect x="196.7" y="450.4" width="15.7" height="6.8" fill="#FFFFFF"/><rect x="212.1" y="450.4" width="15.7" height="6.8" fill="#EA6A7D"/><rect x="73.4" y="456.9" width="15.7" height="6.8" fill="#FBEAEE"/><rect x="88.8" y="456.9" width="15.7" height="6.8" fill="#B9B9DE"/><rect x="104.2" y="456.9" width="15.7" height="6.8" fill="#D9D9EE"/><rect x="119.6" y="456.9" width="15.7" height="6.8" fill="#D0D0EA"/><rect x="135" y="456.9" width="15.7" height="6.8" fill="#D9D9EE"/><rect x="150.4" y="456.9" width="15.7" height="6.8" fill="#FFFFFF"/><rect x="165.9" y="456.9" width="15.7" height="6.8" fill="#8F91CA"/><rect x="181.3" y="456.9" width="15.7" height="6.8" fill="#EA6A7D"/><rect x="196.7" y="456.9" width="15.7" height="6.8" fill="#FDF4F6"/><rect x="212.1" y="456.9" width="15.7" height="6.8" fill="#E84A5F"/><rect x="73.4" y="463.4" width="15.7" height="6.8" fill="#A2A2D3"/><rect x="88.8" y="463.4" width="15.7" height="6.8" fill="#FBEAEE"/><rect x="104.2" y="463.4" width="15.7" height="6.8" fill="#A2A2D3"/><rect x="119.6" y="463.4" width="15.7" height="6.8" fill="#D9D9EE"/><rect x="135" y="463.4" width="15.7" height="6.8" fill="#C4C4E4"/><rect x="150.4" y="463.4" width="15.7" height="6.8" fill="#EE9DAC"/><rect x="165.9" y="463.4" width="15.7" height="6.8" fill="#EE9DAC"/><rect x="181.3" y="463.4" width="15.7" height="6.8" fill="#D9D9EE"/><rect x="196.7" y="463.4" width="15.7" height="6.8" fill="#D0D0EA"/><rect x="212.1" y="463.4" width="15.7" height="6.8" fill="#E84258"/><rect x="73.4" y="469.9" width="15.7" height="6.8" fill="#A2A2D3"/><rect x="88.8" y="469.9" width="15.7" height="6.8" fill="#ECECF7"/><rect x="104.2" y="469.9" width="15.7" height="6.8" fill="#C4C4E4"/><rect x="119.6" y="469.9" width="15.7" height="6.8" fill="#B9B9DE"/><rect x="135" y="469.9" width="15.7" height="6.8" fill="#888CC8"/><rect x="150.4" y="469.9" width="15.7" height="6.8" fill="#F0A8B6"/><rect x="165.9" y="469.9" width="15.7" height="6.8" fill="#FDF4F6"/><rect x="181.3" y="469.9" width="15.7" height="6.8" fill="#EA7284"/><rect x="196.7" y="469.9" width="15.7" height="6.8" fill="#FFFFFF"/><rect x="212.1" y="469.9" width="15.7" height="6.8" fill="#E95267"/><rect x="73.4" y="476.3" width="15.7" height="6.8" fill="#D0D0EA"/><rect x="88.8" y="476.3" width="15.7" height="6.8" fill="#A2A2D3"/><rect x="104.2" y="476.3" width="15.7" height="6.8" fill="#B9B9DE"/><rect x="119.6" y="476.3" width="15.7" height="6.8" fill="#D9D9EE"/><rect x="135" y="476.3" width="15.7" height="6.8" fill="#8286C5"/><rect x="150.4" y="476.3" width="15.7" height="6.8" fill="#EA6A7D"/><rect x="165.9" y="476.3" width="15.7" height="6.8" fill="#F9DFE5"/><rect x="181.3" y="476.3" width="15.7" height="6.8" fill="#F3BFCA"/><rect x="196.7" y="476.3" width="15.7" height="6.8" fill="#F6F6FB"/><rect x="212.1" y="476.3" width="15.7" height="6.8" fill="#EA6A7D"/><rect x="73.4" y="482.8" width="15.7" height="6.8" fill="#A2A2D3"/><rect x="88.8" y="482.8" width="15.7" height="6.8" fill="#D0D0EA"/><rect x="104.2" y="482.8" width="15.7" height="6.8" fill="#D9D9EE"/><rect x="119.6" y="482.8" width="15.7" height="6.8" fill="#9696CD"/><rect x="135" y="482.8" width="15.7" height="6.8" fill="#D0D0EA"/><rect x="150.4" y="482.8" width="15.7" height="6.8" fill="#F5CAD4"/><rect x="165.9" y="482.8" width="15.7" height="6.8" fill="#F9DFE5"/><rect x="181.3" y="482.8" width="15.7" height="6.8" fill="#FDF4F6"/><rect x="196.7" y="482.8" width="15.7" height="6.8" fill="#EC92A2"/><rect x="212.1" y="482.8" width="15.7" height="6.8" fill="#E84258"/><rect x="73.4" y="489.3" width="15.7" height="6.8" fill="#888CC8"/><rect x="88.8" y="489.3" width="15.7" height="6.8" fill="#D9D9EE"/><rect x="104.2" y="489.3" width="15.7" height="6.8" fill="#FFFFFF"/><rect x="119.6" y="489.3" width="15.7" height="6.8" fill="#F6F6FB"/><rect x="135" y="489.3" width="15.7" height="6.8" fill="#888CC8"/><rect x="150.4" y="489.3" width="15.7" height="6.8" fill="#FBEAEE"/><rect x="165.9" y="489.3" width="15.7" height="6.8" fill="#EB8293"/><rect x="181.3" y="489.3" width="15.7" height="6.8" fill="#E3E3F2"/><rect x="196.7" y="489.3" width="15.7" height="6.8" fill="#EC92A2"/><rect x="212.1" y="489.3" width="15.7" height="6.8" fill="#EA6276"/><rect x="73.4" y="495.8" width="15.7" height="6.8" fill="#B9B9DE"/><rect x="88.8" y="495.8" width="15.7" height="6.8" fill="#C4C4E4"/><rect x="104.2" y="495.8" width="15.7" height="6.8" fill="#E3E3F2"/><rect x="119.6" y="495.8" width="15.7" height="6.8" fill="#F6F6FB"/><rect x="135" y="495.8" width="15.7" height="6.8" fill="#ADADD9"/><rect x="150.4" y="495.8" width="15.7" height="6.8" fill="#F3BFCA"/><rect x="165.9" y="495.8" width="15.7" height="6.8" fill="#F1B4C0"/><rect x="181.3" y="495.8" width="15.7" height="6.8" fill="#FFFFFF"/><rect x="196.7" y="495.8" width="15.7" height="6.8" fill="#EC92A2"/><rect x="212.1" y="495.8" width="15.7" height="6.8" fill="#EA6A7D"/></g>
<rect x="73.4" y="297.2" width="77" height="8.2" fill="#E87C86"/>
<rect x="150.4" y="297.2" width="77" height="8.2" fill="#5ED0CD"/>
<text x="229.8" y="304.2" font-size="8.1" text-anchor="start" font-family='"Liberation Sans",sans-serif' font-weight="bold" fill="#000">Group</text>
<text x="229.8" y="313.2" font-size="6.9" text-anchor="start" font-family='"Liberation Sans",sans-serif' fill="#111">Raver2</text>
<text x="229.8" y="319.7" font-size="6.9" text-anchor="start" font-family='"Liberation Sans",sans-serif' fill="#111">Nova2</text>
<text x="229.8" y="326.2" font-size="6.9" text-anchor="start" font-family='"Liberation Sans",sans-serif' fill="#111">Mbnl3</text>
<text x="229.8" y="332.7" font-size="6.9" text-anchor="start" font-family='"Liberation Sans",sans-serif' fill="#111">Rbm4b</text>
<text x="229.8" y="339.2" font-size="6.9" text-anchor="start" font-family='"Liberation Sans",sans-serif' fill="#111">U2af2</text>
<text x="229.8" y="345.7" font-size="6.9" text-anchor="start" font-family='"Liberation Sans",sans-serif' fill="#111">Pnpt1</text>
<text x="229.8" y="352.2" font-size="6.9" text-anchor="start" font-family='"Liberation Sans",sans-serif' fill="#111">Celf5</text>
<text x="229.8" y="358.7" font-size="6.9" text-anchor="start" font-family='"Liberation Sans",sans-serif' fill="#111">Jmjd6</text>
<text x="229.8" y="365.2" font-size="6.9" text-anchor="start" font-family='"Liberation Sans",sans-serif' fill="#111">Rbm20</text>
<text x="229.8" y="371.7" font-size="6.9" text-anchor="start" font-family='"Liberation Sans",sans-serif' fill="#111">Csdc2</text>
<text x="229.8" y="378.1" font-size="6.9" text-anchor="start" font-family='"Liberation Sans",sans-serif' fill="#111">Srsf1</text>
<text x="229.8" y="384.6" font-size="6.9" text-anchor="start" font-family='"Liberation Sans",sans-serif' fill="#111">Slu7</text>
<text x="229.8" y="391.1" font-size="6.9" text-anchor="start" font-family='"Liberation Sans",sans-serif' fill="#111">Rbm15b</text>
<text x="229.8" y="397.6" font-size="6.9" text-anchor="start" font-family='"Liberation Sans",sans-serif' fill="#111">Slc39a5</text>
<text x="229.8" y="404.1" font-size="6.9" text-anchor="start" font-family='"Liberation Sans",sans-serif' fill="#111">Prpf19</text>
<text x="229.8" y="410.6" font-size="6.9" text-anchor="start" font-family='"Liberation Sans",sans-serif' fill="#111">Ppp1r8</text>
<text x="229.8" y="417.1" font-size="6.9" text-anchor="start" font-family='"Liberation Sans",sans-serif' fill="#111">Scnm1</text>
<text x="229.8" y="423.6" font-size="6.9" text-anchor="start" font-family='"Liberation Sans",sans-serif' fill="#111">Tia1</text>
<text x="229.8" y="430.1" font-size="6.9" text-anchor="start" font-family='"Liberation Sans",sans-serif' fill="#111">Hnrnpm</text>
<text x="229.8" y="436.6" font-size="6.9" text-anchor="start" font-family='"Liberation Sans",sans-serif' fill="#111">Ppil1</text>
<text x="229.8" y="443" font-size="6.9" text-anchor="start" font-family='"Liberation Sans",sans-serif' fill="#111">Ncbp2</text>
<text x="229.8" y="449.5" font-size="6.9" text-anchor="start" font-family='"Liberation Sans",sans-serif' fill="#111">Rbm19</text>
<text x="229.8" y="456" font-size="6.9" text-anchor="start" font-family='"Liberation Sans",sans-serif' fill="#111">Thoc3</text>
<text x="229.8" y="462.5" font-size="6.9" text-anchor="start" font-family='"Liberation Sans",sans-serif' fill="#111">Sfpq</text>
<text x="229.8" y="469" font-size="6.9" text-anchor="start" font-family='"Liberation Sans",sans-serif' fill="#111">Srsf3</text>
<text x="229.8" y="475.5" font-size="6.9" text-anchor="start" font-family='"Liberation Sans",sans-serif' fill="#111">Srsf2</text>
<text x="229.8" y="482" font-size="6.9" text-anchor="start" font-family='"Liberation Sans",sans-serif' fill="#111">Srsf6</text>
<text x="229.8" y="488.5" font-size="6.9" text-anchor="start" font-family='"Liberation Sans",sans-serif' fill="#111">Rbm14</text>
<text x="229.8" y="495" font-size="6.9" text-anchor="start" font-family='"Liberation Sans",sans-serif' fill="#111">Lsm7</text>
<text x="229.8" y="501.5" font-size="6.9" text-anchor="start" font-family='"Liberation Sans",sans-serif' fill="#111">Fam50a</text>
<rect x="228.6" y="417.6" width="21" height="7" fill="none" stroke="#E0262B" stroke-width="1.1"/>
<text transform="translate(77.3,505.5) rotate(90)" font-size="10.6" font-family="Liberation Sans" fill="#111">Normal−4</text>
<text transform="translate(92.7,505.5) rotate(90)" font-size="10.6" font-family="Liberation Sans" fill="#111">Normal−2</text>
<text transform="translate(108.1,505.5) rotate(90)" font-size="10.6" font-family="Liberation Sans" fill="#111">Normal−5</text>
<text transform="translate(123.5,505.5) rotate(90)" font-size="10.6" font-family="Liberation Sans" fill="#111">Normal−3</text>
<text transform="translate(138.9,505.5) rotate(90)" font-size="10.6" font-family="Liberation Sans" fill="#111">Normal−1</text>
<text transform="translate(154.4,505.5) rotate(90)" font-size="10.6" font-family="Liberation Sans" fill="#111">MASLD−2</text>
<text transform="translate(169.8,505.5) rotate(90)" font-size="10.6" font-family="Liberation Sans" fill="#111">MASLD−5</text>
<text transform="translate(185.2,505.5) rotate(90)" font-size="10.6" font-family="Liberation Sans" fill="#111">MASLD−1</text>
<text transform="translate(200.6,505.5) rotate(90)" font-size="10.6" font-family="Liberation Sans" fill="#111">MASLD−3</text>
<text transform="translate(216,505.5) rotate(90)" font-size="10.6" font-family="Liberation Sans" fill="#111">MASLD−4</text>
<path d="M81.2 295.9L81.2 278.4M96.2 295.9L96.2 278.4M81.2 278.4L96.2 278.4M88.7 278.4L88.7 275.1M88.7 275.1L113.2 275.1M112 295.9L112 274.4M127.2 295.9L127.2 274.4M112 274.4L127.2 274.4M113.2 275.1L113.2 266.7M113.2 266.7L142.9 266.7M142.9 295.9L142.9 266.7M127.9 266.7L127.9 259.2M127.9 259.2L183.3 259.2M183.3 259.2L183.3 270.2M165.8 270.2L200.6 270.2M165.8 270.2L165.8 276.5M158.3 276.5L173.5 276.5M158.3 295.9L158.3 276.5M173.5 295.9L173.5 276.5M200.6 270.2L200.6 272.5M189.1 272.5L212 272.5M189.1 295.9L189.1 272.5M212 272.5L212 277.7M204.8 277.7L219.5 277.7M204.8 295.9L204.8 277.7M219.5 295.9L219.5 277.7" stroke="#333" stroke-width="0.6" fill="none"/>
<path d="M72.6 310.8H55.6V317.3H72.6M72.6 323.8H60.4V330.3H72.6M55.6 314.1H50.9V327.1H60.4M50.9 320.6H46.3V336.8H72.6M72.6 343.3H58.5V349.8H72.6M58.5 346.5H48.4V356.3H72.6M72.6 362.8H59.4V369.3H72.6M59.4 366H51.5V375.7H72.6M72.6 382.2H57.7V388.7H72.6M51.5 370.9H47.7V385.5H57.7M48.4 351.4H42.5V378.2H47.7M46.3 328.7H40.6V364.8H42.5M72.6 401.7H62.4V408.2H72.6M72.6 395.2H53.4V405H62.4M72.6 414.7H61.5V421.2H72.6M72.6 434.2H62.4V440.6H72.6M72.6 427.7H56.7V437.4H62.4M61.5 417.9H53.9V432.5H56.7M53.4 400.1H51.3V425.2H53.9M72.6 453.6H59.1V460.1H72.6M72.6 447.1H57.2V456.9H59.1M72.6 473.1H62.4V479.6H72.6M72.6 466.6H58.2V476.3H62.4M72.6 492.6H66.2V499.1H72.6M72.6 486.1H60.4V495.8H66.2M58.2 471.5H55.3V490.9H60.4M57.2 452H49.2V481.2H55.3M51.3 412.7H43.5V466.6H49.2M40.6 346.7H36.8V439.6H43.5" stroke="#333" stroke-width="0.6" fill="none"/>
<defs><linearGradient id="gc" x1="0" y1="0" x2="0" y2="1"><stop offset="0.000" stop-color="#EE2A2A"/><stop offset="0.141" stop-color="#E84258"/><stop offset="0.322" stop-color="#EC92A2"/><stop offset="0.413" stop-color="#F5CAD4"/><stop offset="0.504" stop-color="#FFFFFF"/><stop offset="0.594" stop-color="#D0D0EA"/><stop offset="0.685" stop-color="#9696CD"/><stop offset="0.866" stop-color="#5262B2"/><stop offset="1.000" stop-color="#3A48A0"/></linearGradient></defs>
<rect x="261" y="296.6" width="6.8" height="104.2" fill="url(#gc)"/>
<text x="270.8" y="314" font-size="7.4" text-anchor="start" font-family='"Liberation Sans",sans-serif' fill="#222">2</text>
<text x="270.8" y="333" font-size="7.4" text-anchor="start" font-family='"Liberation Sans",sans-serif' fill="#222">1</text>
<text x="270.8" y="351.7" font-size="7.4" text-anchor="start" font-family='"Liberation Sans",sans-serif' fill="#222">0</text>
<text x="270.8" y="370.4" font-size="7.4" text-anchor="start" font-family='"Liberation Sans",sans-serif' fill="#222">−1</text>
<text x="270.8" y="389.5" font-size="7.4" text-anchor="start" font-family='"Liberation Sans",sans-serif' fill="#222">−2</text>
<text x="285" y="302.6" font-size="8.1" text-anchor="start" font-family='"Liberation Sans",sans-serif' font-weight="bold" fill="#000">Group</text>
<rect x="285" y="305.5" width="11.6" height="11.9" fill="#5ED0CD"/><rect x="285" y="317.4" width="11.6" height="11.8" fill="#E87C86"/>
<text x="299.3" y="314.6" font-size="8.2" text-anchor="start" font-family='"Liberation Sans",sans-serif' fill="#222">MASLD</text>
<text x="299.3" y="326.3" font-size="8.2" text-anchor="start" font-family='"Liberation Sans",sans-serif' fill="#222">Normal</text>
<text x="366" y="309.5" font-size="14" text-anchor="start" font-family='"Liberation Serif",serif' font-weight="bold" fill="#000">D</text>
<g>
<rect x="378.6" y="382.5" width="203.8" height="102" rx="51" transform="rotate(45 480.5 433.5)" fill="#B2263E" fill-opacity="0.3"/>
<rect x="414.9" y="338.5" width="205.2" height="102" rx="51" transform="rotate(45 517.5 389.5)" fill="#4DBBD5" fill-opacity="0.3"/>
<rect x="412.9" y="338.5" width="205.2" height="102" rx="51" transform="rotate(135 515.5 389.5)" fill="#00A087" fill-opacity="0.3"/>
<rect x="450.6" y="382.5" width="203.8" height="102" rx="51" transform="rotate(135 552.5 433.5)" fill="#3C5488" fill-opacity="0.3"/>
</g>
<text x="468.6" y="331" font-size="9.2" text-anchor="middle" font-family='"Liberation Sans",sans-serif' fill="#222">435</text>
<text x="562.2" y="329.7" font-size="9.2" text-anchor="middle" font-family='"Liberation Sans",sans-serif' fill="#222">249</text>
<text x="448.8" y="365.6" font-size="9.2" text-anchor="middle" font-family='"Liberation Sans",sans-serif' fill="#222">6</text>
<text x="516.7" y="359.1" font-size="9.2" text-anchor="middle" font-family='"Liberation Sans",sans-serif' fill="#222">23</text>
<text x="585" y="366.5" font-size="9.2" text-anchor="middle" font-family='"Liberation Sans",sans-serif' fill="#222">16</text>
<text x="419.4" y="400.3" font-size="9.2" text-anchor="middle" font-family='"Liberation Sans",sans-serif' fill="#222">311</text>
<text x="553.5" y="396.3" font-size="9.2" text-anchor="middle" font-family='"Liberation Sans",sans-serif' fill="#222">4</text>
<text x="613.5" y="400.3" font-size="9.2" text-anchor="middle" font-family='"Liberation Sans",sans-serif' fill="#222">370</text>
<text x="451.4" y="437.5" font-size="9.2" text-anchor="middle" font-family='"Liberation Sans",sans-serif' fill="#222">6</text>
<text x="517.1" y="433.1" font-size="9.2" text-anchor="middle" font-family='"Liberation Sans",sans-serif' fill="#222">4</text>
<text x="582.8" y="436.2" font-size="9.2" text-anchor="middle" font-family='"Liberation Sans",sans-serif' fill="#222">22</text>
<text x="484.7" y="462.9" font-size="9.2" text-anchor="middle" font-family='"Liberation Sans",sans-serif' fill="#222">1</text>
<text x="516.7" y="497.1" font-size="9.2" text-anchor="middle" font-family='"Liberation Sans",sans-serif' fill="#222">2</text>
<text x="458.9" y="297.6" font-size="10.6" text-anchor="middle" font-family='"Liberation Sans",sans-serif' font-weight="bold" fill="#000">GSE 160016</text>
<text x="564" y="296.6" font-size="10.6" text-anchor="middle" font-family='"Liberation Sans",sans-serif' font-weight="bold" fill="#000">GSE 130970</text>
<text transform="translate(396,368) rotate(-45)" font-size="10.8" font-weight="bold" text-anchor="middle" font-family="Liberation Sans">Clinical Specimens</text>
<text transform="translate(643,370) rotate(45)" font-size="10.6" font-weight="bold" text-anchor="middle" font-family="Liberation Sans">GSE 193080</text>
<text x="393.5" y="540" font-size="10.7" font-weight="bold" font-family="Liberation Sans">Overlap genes: <tspan font-style="italic">CFAP74, </tspan><tspan font-style="italic" fill="#E0262B">TIA1</tspan><tspan font-style="italic">, LINC01979, CYP7A1</tspan></text>
<text x="1" y="563.7" font-size="14" text-anchor="start" font-family='"Liberation Serif",serif' font-weight="bold" fill="#000">E</text>
<path d="M37.9 582.5V707.3H156" stroke="#222" stroke-width="0.8" fill="none"/>
<text x="103.2" y="577.5" font-size="10.3" text-anchor="middle" font-family='"Liberation Serif",serif' font-weight="bold" fill="#000">Clinical Specimens</text>
<line x1="35.9" x2="37.9" y1="584.2" y2="584.2" stroke="#222" stroke-width="0.6"/>
<text x="34.9" y="586.3" font-size="6.1" text-anchor="end" font-family='"Liberation Sans",sans-serif' fill="#333">5.2</text>
<line x1="35.9" x2="37.9" y1="605.4" y2="605.4" stroke="#222" stroke-width="0.6"/>
<text x="34.9" y="607.5" font-size="6.1" text-anchor="end" font-family='"Liberation Sans",sans-serif' fill="#333">5.0</text>
<line x1="35.9" x2="37.9" y1="626.9" y2="626.9" stroke="#222" stroke-width="0.6"/>
<text x="34.9" y="629" font-size="6.1" text-anchor="end" font-family='"Liberation Sans",sans-serif' fill="#333">4.8</text>
<line x1="35.9" x2="37.9" y1="648.1" y2="648.1" stroke="#222" stroke-width="0.6"/>
<text x="34.9" y="650.2" font-size="6.1" text-anchor="end" font-family='"Liberation Sans",sans-serif' fill="#333">4.6</text>
<line x1="35.9" x2="37.9" y1="669.3" y2="669.3" stroke="#222" stroke-width="0.6"/>
<text x="34.9" y="671.4" font-size="6.1" text-anchor="end" font-family='"Liberation Sans",sans-serif' fill="#333">4.4</text>
<line x1="35.9" x2="37.9" y1="690.5" y2="690.5" stroke="#222" stroke-width="0.6"/>
<text x="34.9" y="692.6" font-size="6.1" text-anchor="end" font-family='"Liberation Sans",sans-serif' fill="#333">4.2</text>
<text transform="translate(18.8,647.4) rotate(-90)" font-size="7.9" font-weight="bold" text-anchor="middle" font-family="Liberation Serif">TIA1 expression [<tspan font-style="italic">L</tspan>og2 (FPKM + 0.1)]</text>
<line x1="69.9" x2="69.9" y1="707.3" y2="709.3" stroke="#222" stroke-width="0.6"/>
<text x="69.9" y="719.2" font-size="10.7" text-anchor="middle" font-family='"Liberation Sans",sans-serif' fill="#222">Normal</text>
<line x1="123.6" x2="123.6" y1="707.3" y2="709.3" stroke="#222" stroke-width="0.6"/>
<text x="123.6" y="719.2" font-size="10.7" text-anchor="middle" font-family='"Liberation Sans",sans-serif' fill="#222">MASLD</text>
<line x1="70.2" x2="70.2" y1="659.8" y2="703.5" stroke="#333" stroke-width="0.8"/>
<rect x="48.7" y="663.6" width="42.9" height="34.2" fill="#5BBDD0" stroke="#222" stroke-width="0.7"/>
<line x1="48.7" x2="91.6" y1="688" y2="688" stroke="#111" stroke-width="1.3"/>
<circle cx="62.4" cy="659.8" r="1.45" fill="#A6E0EE" fill-opacity="0.75" stroke="#4AAAC8" stroke-width="0.5"/>
<circle cx="63" cy="663.2" r="1.45" fill="#A6E0EE" fill-opacity="0.75" stroke="#4AAAC8" stroke-width="0.5"/>
<circle cx="64.9" cy="688.5" r="1.45" fill="#A6E0EE" fill-opacity="0.75" stroke="#4AAAC8" stroke-width="0.5"/>
<circle cx="66.9" cy="697.8" r="1.45" fill="#A6E0EE" fill-opacity="0.75" stroke="#4AAAC8" stroke-width="0.5"/>
<circle cx="70.6" cy="703.5" r="1.45" fill="#A6E0EE" fill-opacity="0.75" stroke="#4AAAC8" stroke-width="0.5"/>
<line x1="123.9" x2="123.9" y1="596.9" y2="638.4" stroke="#333" stroke-width="0.8"/>
<rect x="102.3" y="596.9" width="43.2" height="41.5" fill="#D8403F" stroke="#222" stroke-width="0.7"/>
<line x1="102.3" x2="145.5" y1="599.9" y2="599.9" stroke="#111" stroke-width="1.3"/>
<circle cx="118.1" cy="592.4" r="1.45" fill="#F2A0A2" fill-opacity="0.75" stroke="#D04848" stroke-width="0.5"/>
<circle cx="123.6" cy="596.9" r="1.45" fill="#F2A0A2" fill-opacity="0.75" stroke="#D04848" stroke-width="0.5"/>
<circle cx="121.8" cy="600.7" r="1.45" fill="#F2A0A2" fill-opacity="0.75" stroke="#D04848" stroke-width="0.5"/>
<circle cx="120.6" cy="639.4" r="1.45" fill="#F2A0A2" fill-opacity="0.75" stroke="#D04848" stroke-width="0.5"/>
<circle cx="128.6" cy="639.4" r="1.45" fill="#F2A0A2" fill-opacity="0.75" stroke="#D04848" stroke-width="0.5"/>
<path d="M70.6 591.8000000000001V589.2H124V591.8000000000001" stroke="#444" stroke-width="0.6" fill="none"/>
<text x="96.9" y="588.8" font-size="5" text-anchor="middle" font-family='"Liberation Sans",sans-serif' fill="#333">***</text>
<path d="M215.9 581.2V706H332.8" stroke="#222" stroke-width="0.8" fill="none"/>
<text x="278.8" y="577.5" font-size="10.3" text-anchor="middle" font-family='"Liberation Serif",serif' font-weight="bold" fill="#000">GSE160016</text>
<line x1="213.9" x2="215.9" y1="617.9" y2="617.9" stroke="#222" stroke-width="0.6"/>
<text x="212.9" y="620" font-size="6.1" text-anchor="end" font-family='"Liberation Sans",sans-serif' fill="#333">3.5</text>
<line x1="213.9" x2="215.9" y1="656.6" y2="656.6" stroke="#222" stroke-width="0.6"/>
<text x="212.9" y="658.7" font-size="6.1" text-anchor="end" font-family='"Liberation Sans",sans-serif' fill="#333">3.0</text>
<line x1="213.9" x2="215.9" y1="695.3" y2="695.3" stroke="#222" stroke-width="0.6"/>
<text x="212.9" y="697.4" font-size="6.1" text-anchor="end" font-family='"Liberation Sans",sans-serif' fill="#333">2.5</text>
<text transform="translate(197.3,647.4) rotate(-90)" font-size="7.9" font-weight="bold" text-anchor="middle" font-family="Liberation Serif">TIA1 expression [<tspan font-style="italic">L</tspan>og2 (FPKM + 0.1)]</text>
<line x1="247.6" x2="247.6" y1="706" y2="708" stroke="#222" stroke-width="0.6"/>
<text x="247.6" y="719.2" font-size="10.7" text-anchor="middle" font-family='"Liberation Sans",sans-serif' fill="#222">Normal</text>
<line x1="300.8" x2="300.8" y1="706" y2="708" stroke="#222" stroke-width="0.6"/>
<text x="300.8" y="719.2" font-size="10.7" text-anchor="middle" font-family='"Liberation Sans",sans-serif' fill="#222">MASLD</text>
<line x1="247.1" x2="247.1" y1="669.8" y2="702.3" stroke="#333" stroke-width="0.8"/>
<rect x="225.4" y="669.8" width="43.5" height="18.7" fill="#5BBDD0" stroke="#222" stroke-width="0.7"/>
<line x1="225.4" x2="268.9" y1="672.8" y2="672.8" stroke="#111" stroke-width="1.3"/>
<circle cx="243.4" cy="669.8" r="1.45" fill="#A6E0EE" fill-opacity="0.75" stroke="#4AAAC8" stroke-width="0.5"/>
<circle cx="250.4" cy="669.8" r="1.45" fill="#A6E0EE" fill-opacity="0.75" stroke="#4AAAC8" stroke-width="0.5"/>
<circle cx="252.1" cy="672.8" r="1.45" fill="#A6E0EE" fill-opacity="0.75" stroke="#4AAAC8" stroke-width="0.5"/>
<circle cx="254.1" cy="688.5" r="1.45" fill="#A6E0EE" fill-opacity="0.75" stroke="#4AAAC8" stroke-width="0.5"/>
<circle cx="251.4" cy="702.3" r="1.45" fill="#A6E0EE" fill-opacity="0.75" stroke="#4AAAC8" stroke-width="0.5"/>
<line x1="300.8" x2="300.8" y1="591.9" y2="639.4" stroke="#333" stroke-width="0.8"/>
<rect x="279.1" y="603.2" width="43.4" height="14.9" fill="#D8403F" stroke="#222" stroke-width="0.7"/>
<line x1="279.1" x2="322.5" y1="609.2" y2="609.2" stroke="#111" stroke-width="1.3"/>
<circle cx="298.8" cy="591.9" r="1.45" fill="#F2A0A2" fill-opacity="0.75" stroke="#D04848" stroke-width="0.5"/>
<circle cx="296.3" cy="602.7" r="1.45" fill="#F2A0A2" fill-opacity="0.75" stroke="#D04848" stroke-width="0.5"/>
<circle cx="306.5" cy="606.2" r="1.45" fill="#F2A0A2" fill-opacity="0.75" stroke="#D04848" stroke-width="0.5"/>
<circle cx="307.5" cy="612.4" r="1.45" fill="#F2A0A2" fill-opacity="0.75" stroke="#D04848" stroke-width="0.5"/>
<circle cx="304" cy="620.1" r="1.45" fill="#F2A0A2" fill-opacity="0.75" stroke="#D04848" stroke-width="0.5"/>
<circle cx="296.6" cy="639.9" r="1.45" fill="#F2A0A2" fill-opacity="0.75" stroke="#D04848" stroke-width="0.5"/>
<path d="M247.1 590.8000000000001V588.2H300.8V590.8000000000001" stroke="#444" stroke-width="0.6" fill="none"/>
<text x="273.8" y="587.8" font-size="5" text-anchor="middle" font-family='"Liberation Sans",sans-serif' fill="#333">***</text>
<path d="M369.5 578V703.5H488" stroke="#222" stroke-width="0.8" fill="none"/>
<text x="438.1" y="577.5" font-size="10.3" text-anchor="middle" font-family='"Liberation Serif",serif' font-weight="bold" fill="#000">GSE130970</text>
<line x1="367.5" x2="369.5" y1="591.2" y2="591.2" stroke="#222" stroke-width="0.6"/>
<text x="366.5" y="593.3" font-size="6.1" text-anchor="end" font-family='"Liberation Sans",sans-serif' fill="#333">4.5</text>
<line x1="367.5" x2="369.5" y1="629.9" y2="629.9" stroke="#222" stroke-width="0.6"/>
<text x="366.5" y="632" font-size="6.1" text-anchor="end" font-family='"Liberation Sans",sans-serif' fill="#333">4.0</text>
<line x1="367.5" x2="369.5" y1="668.6" y2="668.6" stroke="#222" stroke-width="0.6"/>
<text x="366.5" y="670.7" font-size="6.1" text-anchor="end" font-family='"Liberation Sans",sans-serif' fill="#333">3.5</text>
<text transform="translate(350.8,647.4) rotate(-90)" font-size="7.9" font-weight="bold" text-anchor="middle" font-family="Liberation Serif">TIA1 expression [<tspan font-style="italic">L</tspan>og2 (FPKM + 0.1)]</text>
<line x1="388.2" x2="388.2" y1="703.5" y2="705.5" stroke="#222" stroke-width="0.6"/>
<text x="388.2" y="719.2" font-size="10.7" text-anchor="middle" font-family='"Liberation Sans",sans-serif' fill="#222">Normal</text>
<line x1="429.4" x2="429.4" y1="703.5" y2="705.5" stroke="#222" stroke-width="0.6"/>
<text x="429.4" y="719.2" font-size="10.7" text-anchor="middle" font-family='"Liberation Sans",sans-serif' fill="#222">MASLD</text>
<line x1="469.3" x2="469.3" y1="703.5" y2="705.5" stroke="#222" stroke-width="0.6"/>
<text x="469.3" y="719.2" font-size="10.7" text-anchor="middle" font-family='"Liberation Sans",sans-serif' fill="#222">MASH</text>
<line x1="392" x2="392" y1="637.4" y2="699.8" stroke="#333" stroke-width="0.8"/>
<rect x="377" y="665.3" width="30" height="20.7" fill="#5BBDD0" stroke="#222" stroke-width="0.7"/>
<line x1="377" x2="407" y1="675.3" y2="675.3" stroke="#111" stroke-width="1.3"/>
<circle cx="388.2" cy="637.4" r="1.45" fill="#A6E0EE" fill-opacity="0.75" stroke="#4AAAC8" stroke-width="0.5"/>
<circle cx="391.2" cy="662.8" r="1.45" fill="#A6E0EE" fill-opacity="0.75" stroke="#4AAAC8" stroke-width="0.5"/>
<circle cx="390.7" cy="673.1" r="1.45" fill="#A6E0EE" fill-opacity="0.75" stroke="#4AAAC8" stroke-width="0.5"/>
<circle cx="389.4" cy="677.3" r="1.45" fill="#A6E0EE" fill-opacity="0.75" stroke="#4AAAC8" stroke-width="0.5"/>
<circle cx="393.7" cy="688.5" r="1.45" fill="#A6E0EE" fill-opacity="0.75" stroke="#4AAAC8" stroke-width="0.5"/>
<circle cx="395.2" cy="699.8" r="1.45" fill="#A6E0EE" fill-opacity="0.75" stroke="#4AAAC8" stroke-width="0.5"/>
<line x1="428.9" x2="428.9" y1="609.9" y2="648.6" stroke="#333" stroke-width="0.8"/>
<rect x="413.9" y="628.6" width="29.9" height="11.8" fill="#D8403F" stroke="#222" stroke-width="0.7"/>
<line x1="413.9" x2="443.8" y1="633.6" y2="633.6" stroke="#111" stroke-width="1.3"/>
<circle cx="428.3" cy="624.4" r="1.45" fill="#F2A0A2" fill-opacity="0.75" stroke="#D04848" stroke-width="0.5"/>
<circle cx="432.3" cy="635.6" r="1.45" fill="#F2A0A2" fill-opacity="0.75" stroke="#D04848" stroke-width="0.5"/>
<circle cx="429.1" cy="640" r="1.45" fill="#F2A0A2" fill-opacity="0.75" stroke="#D04848" stroke-width="0.5"/>
<circle cx="430.3" cy="629.4" r="1.45" fill="#F2A0A2" fill-opacity="0.75" stroke="#D04848" stroke-width="0.5"/>
<circle cx="428.9" cy="623.7" r="1.45" fill="#F2A0A2" fill-opacity="0.75" stroke="#D04848" stroke-width="0.5"/>
<circle cx="430.5" cy="632.5" r="1.45" fill="#F2A0A2" fill-opacity="0.75" stroke="#D04848" stroke-width="0.5"/>
<circle cx="428.5" cy="636.3" r="1.45" fill="#F2A0A2" fill-opacity="0.75" stroke="#D04848" stroke-width="0.5"/>
<circle cx="426.7" cy="640.7" r="1.45" fill="#F2A0A2" fill-opacity="0.75" stroke="#D04848" stroke-width="0.5"/>
<circle cx="433.9" cy="624.5" r="1.45" fill="#F2A0A2" fill-opacity="0.75" stroke="#D04848" stroke-width="0.5"/>
<circle cx="433.9" cy="623.9" r="1.45" fill="#F2A0A2" fill-opacity="0.75" stroke="#D04848" stroke-width="0.5"/>
<circle cx="432.3" cy="637.9" r="1.45" fill="#F2A0A2" fill-opacity="0.75" stroke="#D04848" stroke-width="0.5"/>
<circle cx="431" cy="636.3" r="1.45" fill="#F2A0A2" fill-opacity="0.75" stroke="#D04848" stroke-width="0.5"/>
<circle cx="427.1" cy="643.7" r="1.45" fill="#F2A0A2" fill-opacity="0.75" stroke="#D04848" stroke-width="0.5"/>
<circle cx="426.2" cy="639.9" r="1.45" fill="#F2A0A2" fill-opacity="0.75" stroke="#D04848" stroke-width="0.5"/>
<circle cx="426.8" cy="632.3" r="1.45" fill="#F2A0A2" fill-opacity="0.75" stroke="#D04848" stroke-width="0.5"/>
<circle cx="424.6" cy="631.1" r="1.45" fill="#F2A0A2" fill-opacity="0.75" stroke="#D04848" stroke-width="0.5"/>
<circle cx="431.6" cy="651" r="1.45" fill="#F2A0A2" fill-opacity="0.75" stroke="#D04848" stroke-width="0.5"/>
<circle cx="427.9" cy="631" r="1.45" fill="#F2A0A2" fill-opacity="0.75" stroke="#D04848" stroke-width="0.5"/>
<circle cx="432.4" cy="627.5" r="1.45" fill="#F2A0A2" fill-opacity="0.75" stroke="#D04848" stroke-width="0.5"/>
<circle cx="427.8" cy="625" r="1.45" fill="#F2A0A2" fill-opacity="0.75" stroke="#D04848" stroke-width="0.5"/>
<circle cx="433.5" cy="633.7" r="1.45" fill="#F2A0A2" fill-opacity="0.75" stroke="#D04848" stroke-width="0.5"/>
<circle cx="432.4" cy="634" r="1.45" fill="#F2A0A2" fill-opacity="0.75" stroke="#D04848" stroke-width="0.5"/>
<circle cx="423.9" cy="630.6" r="1.45" fill="#F2A0A2" fill-opacity="0.75" stroke="#D04848" stroke-width="0.5"/>
<circle cx="426" cy="632.6" r="1.45" fill="#F2A0A2" fill-opacity="0.75" stroke="#D04848" stroke-width="0.5"/>
<circle cx="433" cy="634.9" r="1.45" fill="#F2A0A2" fill-opacity="0.75" stroke="#D04848" stroke-width="0.5"/>
<circle cx="428.6" cy="637.8" r="1.45" fill="#F2A0A2" fill-opacity="0.75" stroke="#D04848" stroke-width="0.5"/>
<circle cx="433.7" cy="640.7" r="1.45" fill="#F2A0A2" fill-opacity="0.75" stroke="#D04848" stroke-width="0.5"/>
<circle cx="427.9" cy="634.5" r="1.45" fill="#F2A0A2" fill-opacity="0.75" stroke="#D04848" stroke-width="0.5"/>
<circle cx="423" cy="659.8" r="1.45" fill="#F2A0A2" fill-opacity="0.75" stroke="#D04848" stroke-width="0.5"/>
<circle cx="427" cy="604" r="1.45" fill="#F2A0A2" fill-opacity="0.75" stroke="#D04848" stroke-width="0.5"/>
<circle cx="433" cy="606" r="1.45" fill="#F2A0A2" fill-opacity="0.75" stroke="#D04848" stroke-width="0.5"/>
<circle cx="435.5" cy="610" r="1.45" fill="#F2A0A2" fill-opacity="0.75" stroke="#D04848" stroke-width="0.5"/>
<line x1="465.6" x2="465.6" y1="617.4" y2="669.8" stroke="#333" stroke-width="0.8"/>
<rect x="450.6" y="633.6" width="29.9" height="15.8" fill="#3FA58A" stroke="#222" stroke-width="0.7"/>
<line x1="450.6" x2="480.5" y1="639.4" y2="639.4" stroke="#111" stroke-width="1.3"/>
<circle cx="462" cy="651.4" r="1.45" fill="#8AD8C0" fill-opacity="0.75" stroke="#3A9E84" stroke-width="0.5"/>
<circle cx="464.2" cy="645.6" r="1.45" fill="#8AD8C0" fill-opacity="0.75" stroke="#3A9E84" stroke-width="0.5"/>
<circle cx="469.8" cy="641.3" r="1.45" fill="#8AD8C0" fill-opacity="0.75" stroke="#3A9E84" stroke-width="0.5"/>
<circle cx="467.2" cy="633" r="1.45" fill="#8AD8C0" fill-opacity="0.75" stroke="#3A9E84" stroke-width="0.5"/>
<circle cx="460.7" cy="646.9" r="1.45" fill="#8AD8C0" fill-opacity="0.75" stroke="#3A9E84" stroke-width="0.5"/>
<circle cx="471.4" cy="644.2" r="1.45" fill="#8AD8C0" fill-opacity="0.75" stroke="#3A9E84" stroke-width="0.5"/>
<circle cx="462.1" cy="654.8" r="1.45" fill="#8AD8C0" fill-opacity="0.75" stroke="#3A9E84" stroke-width="0.5"/>
<circle cx="462.6" cy="636.6" r="1.45" fill="#8AD8C0" fill-opacity="0.75" stroke="#3A9E84" stroke-width="0.5"/>
<circle cx="468.8" cy="645" r="1.45" fill="#8AD8C0" fill-opacity="0.75" stroke="#3A9E84" stroke-width="0.5"/>
<circle cx="463.4" cy="644.6" r="1.45" fill="#8AD8C0" fill-opacity="0.75" stroke="#3A9E84" stroke-width="0.5"/>
<circle cx="463.1" cy="642.5" r="1.45" fill="#8AD8C0" fill-opacity="0.75" stroke="#3A9E84" stroke-width="0.5"/>
<circle cx="460.4" cy="641.9" r="1.45" fill="#8AD8C0" fill-opacity="0.75" stroke="#3A9E84" stroke-width="0.5"/>
<circle cx="460.6" cy="641.6" r="1.45" fill="#8AD8C0" fill-opacity="0.75" stroke="#3A9E84" stroke-width="0.5"/>
<circle cx="466.5" cy="634.6" r="1.45" fill="#8AD8C0" fill-opacity="0.75" stroke="#3A9E84" stroke-width="0.5"/>
<circle cx="462.4" cy="630.9" r="1.45" fill="#8AD8C0" fill-opacity="0.75" stroke="#3A9E84" stroke-width="0.5"/>
<circle cx="466.7" cy="636.4" r="1.45" fill="#8AD8C0" fill-opacity="0.75" stroke="#3A9E84" stroke-width="0.5"/>
<circle cx="464" cy="645.3" r="1.45" fill="#8AD8C0" fill-opacity="0.75" stroke="#3A9E84" stroke-width="0.5"/>
<circle cx="464.9" cy="653.6" r="1.45" fill="#8AD8C0" fill-opacity="0.75" stroke="#3A9E84" stroke-width="0.5"/>
<circle cx="471" cy="648.8" r="1.45" fill="#8AD8C0" fill-opacity="0.75" stroke="#3A9E84" stroke-width="0.5"/>
<circle cx="465.3" cy="649.5" r="1.45" fill="#8AD8C0" fill-opacity="0.75" stroke="#3A9E84" stroke-width="0.5"/>
<circle cx="466.4" cy="647" r="1.45" fill="#8AD8C0" fill-opacity="0.75" stroke="#3A9E84" stroke-width="0.5"/>
<circle cx="469.9" cy="646.3" r="1.45" fill="#8AD8C0" fill-opacity="0.75" stroke="#3A9E84" stroke-width="0.5"/>
<circle cx="461.7" cy="641.7" r="1.45" fill="#8AD8C0" fill-opacity="0.75" stroke="#3A9E84" stroke-width="0.5"/>
<circle cx="461.3" cy="646.9" r="1.45" fill="#8AD8C0" fill-opacity="0.75" stroke="#3A9E84" stroke-width="0.5"/>
<circle cx="470.4" cy="656" r="1.45" fill="#8AD8C0" fill-opacity="0.75" stroke="#3A9E84" stroke-width="0.5"/>
<circle cx="469.3" cy="637.1" r="1.45" fill="#8AD8C0" fill-opacity="0.75" stroke="#3A9E84" stroke-width="0.5"/>
<circle cx="462.5" cy="633.8" r="1.45" fill="#8AD8C0" fill-opacity="0.75" stroke="#3A9E84" stroke-width="0.5"/>
<circle cx="461.8" cy="657.6" r="1.45" fill="#8AD8C0" fill-opacity="0.75" stroke="#3A9E84" stroke-width="0.5"/>
<circle cx="462" cy="671" r="1.45" fill="#8AD8C0" fill-opacity="0.75" stroke="#3A9E84" stroke-width="0.5"/>
<circle cx="465" cy="668" r="1.45" fill="#8AD8C0" fill-opacity="0.75" stroke="#3A9E84" stroke-width="0.5"/>
<circle cx="468" cy="617" r="1.45" fill="#8AD8C0" fill-opacity="0.75" stroke="#3A9E84" stroke-width="0.5"/>
<circle cx="471" cy="620" r="1.45" fill="#8AD8C0" fill-opacity="0.75" stroke="#3A9E84" stroke-width="0.5"/>
<path d="M428.9 588.3000000000001V585.7H465.1V588.3000000000001" stroke="#444" stroke-width="0.6" fill="none"/>
<text x="446.8" y="585.3" font-size="5" text-anchor="middle" font-family='"Liberation Sans",sans-serif' fill="#333">*</text>
<path d="M391.9 595.0V592.4H465.1V595.0" stroke="#444" stroke-width="0.6" fill="none"/>
<text x="428" y="592" font-size="5" text-anchor="middle" font-family='"Liberation Sans",sans-serif' fill="#333"></text>
<path d="M391.9 601.3000000000001V598.7H428.9V601.3000000000001" stroke="#444" stroke-width="0.6" fill="none"/>
<text x="409.9" y="598.3" font-size="5" text-anchor="middle" font-family='"Liberation Sans",sans-serif' fill="#333">***</text>
<path d="M548 578V703.5H665.8" stroke="#222" stroke-width="0.8" fill="none"/>
<text x="612.4" y="577.5" font-size="10.3" text-anchor="middle" font-family='"Liberation Serif",serif' font-weight="bold" fill="#000">GSE193080</text>
<line x1="546" x2="548" y1="595.4" y2="595.4" stroke="#222" stroke-width="0.6"/>
<text x="545" y="597.5" font-size="6.1" text-anchor="end" font-family='"Liberation Sans",sans-serif' fill="#333">5.5</text>
<line x1="546" x2="548" y1="617.4" y2="617.4" stroke="#222" stroke-width="0.6"/>
<text x="545" y="619.5" font-size="6.1" text-anchor="end" font-family='"Liberation Sans",sans-serif' fill="#333">5.0</text>
<line x1="546" x2="548" y1="640.4" y2="640.4" stroke="#222" stroke-width="0.6"/>
<text x="545" y="642.5" font-size="6.1" text-anchor="end" font-family='"Liberation Sans",sans-serif' fill="#333">4.5</text>
<line x1="546" x2="548" y1="662.8" y2="662.8" stroke="#222" stroke-width="0.6"/>
<text x="545" y="664.9" font-size="6.1" text-anchor="end" font-family='"Liberation Sans",sans-serif' fill="#333">4.0</text>
<line x1="546" x2="548" y1="685.3" y2="685.3" stroke="#222" stroke-width="0.6"/>
<text x="545" y="687.4" font-size="6.1" text-anchor="end" font-family='"Liberation Sans",sans-serif' fill="#333">3.5</text>
<text transform="translate(527.3,647.4) rotate(-90)" font-size="7.9" font-weight="bold" text-anchor="middle" font-family="Liberation Serif">TIA1 expression [<tspan font-style="italic">L</tspan>og2 (FPKM + 0.1)]</text>
<line x1="577.9" x2="577.9" y1="703.5" y2="705.5" stroke="#222" stroke-width="0.6"/>
<text x="577.9" y="719.2" font-size="10.7" text-anchor="middle" font-family='"Liberation Sans",sans-serif' fill="#222">Low risk</text>
<line x1="633.6" x2="633.6" y1="703.5" y2="705.5" stroke="#222" stroke-width="0.6"/>
<text x="633.6" y="719.2" font-size="10.7" text-anchor="middle" font-family='"Liberation Sans",sans-serif' fill="#222">High risk</text>
<line x1="580" x2="580" y1="587.4" y2="621.9" stroke="#333" stroke-width="0.8"/>
<rect x="558.4" y="595.7" width="43.2" height="21.7" fill="#5BBDD0" stroke="#222" stroke-width="0.7"/>
<line x1="558.4" x2="601.6" y1="606.2" y2="606.2" stroke="#111" stroke-width="1.3"/>
<circle cx="579.3" cy="612.7" r="1.45" fill="#A6E0EE" fill-opacity="0.75" stroke="#4AAAC8" stroke-width="0.5"/>
<circle cx="574.7" cy="619.1" r="1.45" fill="#A6E0EE" fill-opacity="0.75" stroke="#4AAAC8" stroke-width="0.5"/>
<circle cx="576.1" cy="595.3" r="1.45" fill="#A6E0EE" fill-opacity="0.75" stroke="#4AAAC8" stroke-width="0.5"/>
<circle cx="578.4" cy="619.4" r="1.45" fill="#A6E0EE" fill-opacity="0.75" stroke="#4AAAC8" stroke-width="0.5"/>
<circle cx="580.9" cy="617.2" r="1.45" fill="#A6E0EE" fill-opacity="0.75" stroke="#4AAAC8" stroke-width="0.5"/>
<circle cx="575.6" cy="608.3" r="1.45" fill="#A6E0EE" fill-opacity="0.75" stroke="#4AAAC8" stroke-width="0.5"/>
<circle cx="578.3" cy="602.5" r="1.45" fill="#A6E0EE" fill-opacity="0.75" stroke="#4AAAC8" stroke-width="0.5"/>
<circle cx="584.7" cy="592.3" r="1.45" fill="#A6E0EE" fill-opacity="0.75" stroke="#4AAAC8" stroke-width="0.5"/>
<circle cx="585.8" cy="590.2" r="1.45" fill="#A6E0EE" fill-opacity="0.75" stroke="#4AAAC8" stroke-width="0.5"/>
<circle cx="581.9" cy="619.8" r="1.45" fill="#A6E0EE" fill-opacity="0.75" stroke="#4AAAC8" stroke-width="0.5"/>
<circle cx="582.3" cy="596.6" r="1.45" fill="#A6E0EE" fill-opacity="0.75" stroke="#4AAAC8" stroke-width="0.5"/>
<circle cx="581" cy="611.5" r="1.45" fill="#A6E0EE" fill-opacity="0.75" stroke="#4AAAC8" stroke-width="0.5"/>
<circle cx="575.7" cy="597.2" r="1.45" fill="#A6E0EE" fill-opacity="0.75" stroke="#4AAAC8" stroke-width="0.5"/>
<circle cx="574.4" cy="615.4" r="1.45" fill="#A6E0EE" fill-opacity="0.75" stroke="#4AAAC8" stroke-width="0.5"/>
<circle cx="574.2" cy="608.1" r="1.45" fill="#A6E0EE" fill-opacity="0.75" stroke="#4AAAC8" stroke-width="0.5"/>
<circle cx="584.9" cy="598.4" r="1.45" fill="#A6E0EE" fill-opacity="0.75" stroke="#4AAAC8" stroke-width="0.5"/>
<circle cx="582.4" cy="594.6" r="1.45" fill="#A6E0EE" fill-opacity="0.75" stroke="#4AAAC8" stroke-width="0.5"/>
<circle cx="585.6" cy="612.1" r="1.45" fill="#A6E0EE" fill-opacity="0.75" stroke="#4AAAC8" stroke-width="0.5"/>
<circle cx="574.3" cy="591.2" r="1.45" fill="#A6E0EE" fill-opacity="0.75" stroke="#4AAAC8" stroke-width="0.5"/>
<circle cx="581.6" cy="596.3" r="1.45" fill="#A6E0EE" fill-opacity="0.75" stroke="#4AAAC8" stroke-width="0.5"/>
<circle cx="579.8" cy="606.9" r="1.45" fill="#A6E0EE" fill-opacity="0.75" stroke="#4AAAC8" stroke-width="0.5"/>
<circle cx="582.8" cy="616.3" r="1.45" fill="#A6E0EE" fill-opacity="0.75" stroke="#4AAAC8" stroke-width="0.5"/>
<circle cx="577.8" cy="608.7" r="1.45" fill="#A6E0EE" fill-opacity="0.75" stroke="#4AAAC8" stroke-width="0.5"/>
<circle cx="586" cy="598" r="1.45" fill="#A6E0EE" fill-opacity="0.75" stroke="#4AAAC8" stroke-width="0.5"/>
<circle cx="574.9" cy="618.4" r="1.45" fill="#A6E0EE" fill-opacity="0.75" stroke="#4AAAC8" stroke-width="0.5"/>
<circle cx="580.6" cy="595.5" r="1.45" fill="#A6E0EE" fill-opacity="0.75" stroke="#4AAAC8" stroke-width="0.5"/>
<circle cx="582.8" cy="589.5" r="1.45" fill="#A6E0EE" fill-opacity="0.75" stroke="#4AAAC8" stroke-width="0.5"/>
<circle cx="584.8" cy="597.6" r="1.45" fill="#A6E0EE" fill-opacity="0.75" stroke="#4AAAC8" stroke-width="0.5"/>
<circle cx="585" cy="587.4" r="1.45" fill="#A6E0EE" fill-opacity="0.75" stroke="#4AAAC8" stroke-width="0.5"/>
<circle cx="588" cy="588" r="1.45" fill="#A6E0EE" fill-opacity="0.75" stroke="#4AAAC8" stroke-width="0.5"/>
<circle cx="576" cy="588.5" r="1.45" fill="#A6E0EE" fill-opacity="0.75" stroke="#4AAAC8" stroke-width="0.5"/>
<circle cx="579" cy="590" r="1.45" fill="#A6E0EE" fill-opacity="0.75" stroke="#4AAAC8" stroke-width="0.5"/>
<line x1="633.8" x2="633.8" y1="621.1" y2="699.8" stroke="#333" stroke-width="0.8"/>
<rect x="612.4" y="627.4" width="42.9" height="31.9" fill="#D8403F" stroke="#222" stroke-width="0.7"/>
<line x1="612.4" x2="655.3" y1="632.4" y2="632.4" stroke="#111" stroke-width="1.3"/>
<circle cx="637.1" cy="649.7" r="1.45" fill="#F2A0A2" fill-opacity="0.75" stroke="#D04848" stroke-width="0.5"/>
<circle cx="632.3" cy="648.4" r="1.45" fill="#F2A0A2" fill-opacity="0.75" stroke="#D04848" stroke-width="0.5"/>
<circle cx="637.2" cy="651.9" r="1.45" fill="#F2A0A2" fill-opacity="0.75" stroke="#D04848" stroke-width="0.5"/>
<circle cx="635" cy="656.7" r="1.45" fill="#F2A0A2" fill-opacity="0.75" stroke="#D04848" stroke-width="0.5"/>
<circle cx="633.1" cy="634.7" r="1.45" fill="#F2A0A2" fill-opacity="0.75" stroke="#D04848" stroke-width="0.5"/>
<circle cx="638.6" cy="647.7" r="1.45" fill="#F2A0A2" fill-opacity="0.75" stroke="#D04848" stroke-width="0.5"/>
<circle cx="628.1" cy="656.1" r="1.45" fill="#F2A0A2" fill-opacity="0.75" stroke="#D04848" stroke-width="0.5"/>
<circle cx="637.4" cy="655" r="1.45" fill="#F2A0A2" fill-opacity="0.75" stroke="#D04848" stroke-width="0.5"/>
<circle cx="627.3" cy="637.3" r="1.45" fill="#F2A0A2" fill-opacity="0.75" stroke="#D04848" stroke-width="0.5"/>
<circle cx="635.3" cy="651.8" r="1.45" fill="#F2A0A2" fill-opacity="0.75" stroke="#D04848" stroke-width="0.5"/>
<circle cx="633.6" cy="654.7" r="1.45" fill="#F2A0A2" fill-opacity="0.75" stroke="#D04848" stroke-width="0.5"/>
<circle cx="630.1" cy="643.3" r="1.45" fill="#F2A0A2" fill-opacity="0.75" stroke="#D04848" stroke-width="0.5"/>
<circle cx="636.7" cy="645.4" r="1.45" fill="#F2A0A2" fill-opacity="0.75" stroke="#D04848" stroke-width="0.5"/>
<circle cx="633.9" cy="635.9" r="1.45" fill="#F2A0A2" fill-opacity="0.75" stroke="#D04848" stroke-width="0.5"/>
<circle cx="635.5" cy="643.7" r="1.45" fill="#F2A0A2" fill-opacity="0.75" stroke="#D04848" stroke-width="0.5"/>
<circle cx="639.8" cy="644.7" r="1.45" fill="#F2A0A2" fill-opacity="0.75" stroke="#D04848" stroke-width="0.5"/>
<circle cx="630.5" cy="624.1" r="1.45" fill="#F2A0A2" fill-opacity="0.75" stroke="#D04848" stroke-width="0.5"/>
<circle cx="627.1" cy="645.9" r="1.45" fill="#F2A0A2" fill-opacity="0.75" stroke="#D04848" stroke-width="0.5"/>
<circle cx="631.1" cy="659.7" r="1.45" fill="#F2A0A2" fill-opacity="0.75" stroke="#D04848" stroke-width="0.5"/>
<circle cx="636.4" cy="655.3" r="1.45" fill="#F2A0A2" fill-opacity="0.75" stroke="#D04848" stroke-width="0.5"/>
<circle cx="628" cy="662.8" r="1.45" fill="#F2A0A2" fill-opacity="0.75" stroke="#D04848" stroke-width="0.5"/>
<circle cx="632" cy="662.8" r="1.45" fill="#F2A0A2" fill-opacity="0.75" stroke="#D04848" stroke-width="0.5"/>
<circle cx="635" cy="662" r="1.45" fill="#F2A0A2" fill-opacity="0.75" stroke="#D04848" stroke-width="0.5"/>
<circle cx="637" cy="673" r="1.45" fill="#F2A0A2" fill-opacity="0.75" stroke="#D04848" stroke-width="0.5"/>
<circle cx="635" cy="677" r="1.45" fill="#F2A0A2" fill-opacity="0.75" stroke="#D04848" stroke-width="0.5"/>
<circle cx="628" cy="699.8" r="1.45" fill="#F2A0A2" fill-opacity="0.75" stroke="#D04848" stroke-width="0.5"/>
<circle cx="636" cy="622" r="1.45" fill="#F2A0A2" fill-opacity="0.75" stroke="#D04848" stroke-width="0.5"/>
<circle cx="630" cy="622" r="1.45" fill="#F2A0A2" fill-opacity="0.75" stroke="#D04848" stroke-width="0.5"/>
<path d="M579.9 588.3000000000001V585.7H633.6V588.3000000000001" stroke="#444" stroke-width="0.6" fill="none"/>
<text x="606.6" y="585.3" font-size="5" text-anchor="middle" font-family='"Liberation Sans",sans-serif' fill="#333">***</text>
<text x="0.8" y="749" font-size="14" text-anchor="start" font-family='"Liberation Serif",serif' font-weight="bold" fill="#000">F</text>
<defs><filter id="bb" x="-30%" y="-60%" width="160%" height="220%"><feGaussianBlur stdDeviation="1.1"/></filter><filter id="bb2" x="-30%" y="-60%" width="160%" height="220%"><feGaussianBlur stdDeviation="0.8"/></filter></defs>
<text x="86.1" y="763.9" font-size="8.2" text-anchor="middle" font-family='"Liberation Serif",serif' font-weight="bold" fill="#000">CD</text>
<text x="154.3" y="763.9" font-size="8.2" text-anchor="middle" font-family='"Liberation Serif",serif' font-weight="bold" fill="#000">HFD</text>
<line x1="54.6" x2="116.3" y1="766.9" y2="766.9" stroke="#111" stroke-width="1.1"/><line x1="124.5" x2="186" y1="766.9" y2="766.9" stroke="#111" stroke-width="1.1"/>
<rect x="52.3" y="772.5" width="139.2" height="22.2" fill="#E3E3EC"/><g filter="url(#bb)"><rect x="56.1" y="781.4" width="14.5" height="4.5" rx="2.2" fill="#B8B8C4"/><rect x="73.3" y="781.4" width="14.5" height="4.5" rx="2.2" fill="#A8A8B8"/><rect x="90.5" y="781.2" width="14.5" height="4.8" rx="2.4" fill="#8A8A9C"/><rect x="107.8" y="781.1" width="14.5" height="5" rx="2.5" fill="#707084"/><rect x="122.1" y="779.5" width="16.2" height="8.1" rx="4" fill="#020204"/><rect x="139.4" y="779.8" width="15.7" height="7.6" rx="3.8" fill="#040408"/><rect x="156.4" y="780" width="15.7" height="7.3" rx="3.6" fill="#06060A"/><rect x="173.4" y="779.8" width="15.2" height="7.6" rx="3.8" fill="#08080C"/></g><rect x="52.3" y="772.5" width="139.2" height="22.2" fill="none" stroke="#1a1a1a" stroke-width="1.1"/>
<text x="46.6" y="787" font-size="9.3" text-anchor="end" font-family='"Liberation Serif",serif' font-weight="bold" fill="#000">TIA1</text>
<text x="195.6" y="787" font-size="9.5" text-anchor="start" font-family='"Liberation Serif",serif' font-weight="bold" fill="#000">43KDa</text>
<rect x="52.3" y="802" width="139.2" height="19.3" fill="#E0E0EA"/><g filter="url(#bb)"><rect x="55.6" y="807.2" width="15.7" height="9" rx="4" fill="#060608"/><rect x="72.8" y="807.2" width="15.7" height="9" rx="4" fill="#060608"/><rect x="90" y="807.2" width="15.7" height="9" rx="4" fill="#060608"/><rect x="107.2" y="807.2" width="15.7" height="9" rx="4" fill="#060608"/><rect x="122.4" y="807.2" width="15.7" height="9" rx="4" fill="#060608"/><rect x="139.4" y="807.2" width="15.7" height="9" rx="4" fill="#060608"/><rect x="156.4" y="807.2" width="15.7" height="9" rx="4" fill="#060608"/><rect x="173.2" y="807.2" width="15.7" height="9" rx="4" fill="#060608"/></g><rect x="52.3" y="802" width="139.2" height="19.3" fill="none" stroke="#1a1a1a" stroke-width="1.1"/>
<text x="46.6" y="813.8" font-size="9.3" text-anchor="end" font-family='"Liberation Serif",serif' font-weight="bold" fill="#000">GAPDH</text>
<text x="195.6" y="813.8" font-size="9.5" text-anchor="start" font-family='"Liberation Serif",serif' font-weight="bold" fill="#000">36KDa</text>
<text x="88.2" y="830.9" font-size="8.2" text-anchor="middle" font-family='"Liberation Serif",serif' font-weight="bold" fill="#000">CD</text>
<text x="158.2" y="830.9" font-size="8.2" text-anchor="middle" font-family='"Liberation Serif",serif' font-weight="bold" fill="#000">MCD</text>
<line x1="54.6" x2="116.3" y1="834.5" y2="834.5" stroke="#111" stroke-width="1.1"/><line x1="124.5" x2="186" y1="834.5" y2="834.5" stroke="#111" stroke-width="1.1"/>
<rect x="51.9" y="840.2" width="140.1" height="20.1" fill="#C2C4D4"/><g filter="url(#bb)"><rect x="56.1" y="846" width="14.5" height="4.5" rx="2.2" fill="#6E7084"/><rect x="73.3" y="846.6" width="14.5" height="3.4" rx="1.7" fill="#9496A8"/><rect x="92" y="847.1" width="11.6" height="2.2" rx="1.1" fill="#B4B6C6"/><rect x="109.2" y="846.9" width="11.6" height="2.8" rx="1.4" fill="#AEB0C0"/><rect x="122.6" y="845.5" width="15.2" height="5.6" rx="2.8" fill="#202230"/><rect x="139.9" y="845.6" width="14.5" height="5.3" rx="2.7" fill="#282A3A"/><rect x="156.6" y="845.3" width="15.2" height="5.9" rx="2.9" fill="#181A28"/><rect x="173.4" y="845.2" width="15.2" height="6.2" rx="3.1" fill="#101220"/></g><rect x="51.9" y="840.2" width="140.1" height="20.1" fill="none" stroke="#1a1a1a" stroke-width="1.1"/>
<text x="46.6" y="853" font-size="9.3" text-anchor="end" font-family='"Liberation Serif",serif' font-weight="bold" fill="#000">TIA1</text>
<text x="195.6" y="853" font-size="9.5" text-anchor="start" font-family='"Liberation Serif",serif' font-weight="bold" fill="#000">43KDa</text>
<rect x="51.9" y="870.2" width="140.1" height="15.4" fill="#CDCEDC"/><g filter="url(#bb)"><rect x="56.1" y="875.4" width="14.5" height="5" rx="2.5" fill="#2A2C3A"/><rect x="73.3" y="875.4" width="14.5" height="5" rx="2.5" fill="#2A2C3A"/><rect x="90.5" y="875.4" width="14.5" height="5" rx="2.5" fill="#2A2C3A"/><rect x="107.8" y="875.4" width="14.5" height="5" rx="2.5" fill="#2A2C3A"/><rect x="122.9" y="875.4" width="14.5" height="5" rx="2.5" fill="#2A2C3A"/><rect x="139.9" y="875.4" width="14.5" height="5" rx="2.5" fill="#2A2C3A"/><rect x="156.9" y="875.4" width="14.5" height="5" rx="2.5" fill="#2A2C3A"/><rect x="173.8" y="875.4" width="14.5" height="5" rx="2.5" fill="#2A2C3A"/></g><rect x="51.9" y="870.2" width="140.1" height="15.4" fill="none" stroke="#1a1a1a" stroke-width="1.1"/>
<text x="46.6" y="880.4" font-size="9.3" text-anchor="end" font-family='"Liberation Serif",serif' font-weight="bold" fill="#000">GAPDH</text>
<text x="195.6" y="880.4" font-size="9.5" text-anchor="start" font-family='"Liberation Serif",serif' font-weight="bold" fill="#000">36KDa</text>
<text x="89.3" y="894.8" font-size="8.2" text-anchor="middle" font-family='"Liberation Serif",serif' font-weight="bold" fill="#000">CD</text>
<text x="156.8" y="894.8" font-size="8.2" text-anchor="middle" font-family='"Liberation Serif",serif' font-weight="bold" fill="#000">HFHC</text>
<line x1="54.6" x2="116.3" y1="899" y2="899" stroke="#111" stroke-width="1.1"/><line x1="124.5" x2="186" y1="899" y2="899" stroke="#111" stroke-width="1.1"/>
<rect x="51.9" y="904.5" width="140.1" height="21.4" fill="#CBCCDB"/><g filter="url(#bb)"><rect x="56.1" y="912.8" width="14.5" height="4.8" rx="2.4" fill="#3A3C4C"/><rect x="73.3" y="912.8" width="14.5" height="4.8" rx="2.4" fill="#3E4050"/><rect x="90.5" y="913" width="14.5" height="4.5" rx="2.2" fill="#585A6C"/><rect x="107.8" y="913" width="14.5" height="4.5" rx="2.2" fill="#4A4C5E"/><rect x="122.2" y="912" width="16" height="6.4" rx="3.2" fill="#08080E"/><rect x="139.2" y="911.8" width="16" height="6.7" rx="3.4" fill="#06060C"/><rect x="156.2" y="912" width="16" height="6.4" rx="3.2" fill="#08080E"/><rect x="173.4" y="912" width="15.2" height="6.4" rx="3.2" fill="#0A0A12"/></g><rect x="51.9" y="904.5" width="140.1" height="21.4" fill="none" stroke="#1a1a1a" stroke-width="1.1"/>
<text x="46.6" y="919.2" font-size="9.3" text-anchor="end" font-family='"Liberation Serif",serif' font-weight="bold" fill="#000">TIA1</text>
<text x="195.6" y="919.2" font-size="9.5" text-anchor="start" font-family='"Liberation Serif",serif' font-weight="bold" fill="#000">43KDa</text>
<rect x="51.9" y="936.8" width="140.1" height="15.7" fill="#C6C8D8"/><g filter="url(#bb)"><rect x="56.1" y="942.3" width="14.5" height="4.8" rx="2.4" fill="#4A4C5E"/><rect x="73.3" y="942.3" width="14.5" height="4.8" rx="2.4" fill="#44465A"/><rect x="90.5" y="942.3" width="14.5" height="4.8" rx="2.4" fill="#46485C"/><rect x="107.8" y="942.3" width="14.5" height="4.8" rx="2.4" fill="#4A4C60"/><rect x="122.9" y="942.4" width="14.5" height="4.5" rx="2.2" fill="#5A5C70"/><rect x="139.9" y="942.5" width="14.5" height="4.2" rx="2.1" fill="#60627A"/><rect x="156.9" y="942.4" width="14.5" height="4.5" rx="2.2" fill="#50526A"/><rect x="173.8" y="942.5" width="14.5" height="4.2" rx="2.1" fill="#585A72"/></g><rect x="51.9" y="936.8" width="140.1" height="15.7" fill="none" stroke="#1a1a1a" stroke-width="1.1"/>
<text x="46.6" y="947.8" font-size="9.3" text-anchor="end" font-family='"Liberation Serif",serif' font-weight="bold" fill="#000">GAPDH</text>
<text x="195.6" y="947.8" font-size="9.5" text-anchor="start" font-family='"Liberation Serif",serif' font-weight="bold" fill="#000">36KDa</text>
<text x="300" y="749.5" font-size="14" text-anchor="start" font-family='"Liberation Serif",serif' font-weight="bold" fill="#000">G</text>
<defs><filter id="sb" x="-5%" y="-5%" width="110%" height="110%"><feGaussianBlur stdDeviation="0.35"/></filter><filter id="sb2" x="-5%" y="-5%" width="110%" height="110%"><feGaussianBlur stdDeviation="0.7"/></filter></defs>
<defs><filter id="hz" x="-50%" y="-50%" width="200%" height="200%"><feGaussianBlur stdDeviation="8"/></filter></defs>
<clipPath id="gc1"><rect x="333.6" y="755" width="154.2" height="89"/></clipPath><g clip-path="url(#gc1)"><rect x="333.6" y="755" width="154.2" height="89" fill="#05020A"/><path transform="scale(.5)" d="M859 1510h0m23 1h0m21-1h0m-234 10h0m17-2h0m58 4h0m15-10h0m44 10h0m10 0h0m19-8h0m3-2h0m3 7h0m4-4h0m12 4h0m6 4h0m20 0h0m56-10h0m-238 15h0m3 0h0m11 6h0m2-6h0m3 2h0m68-3h0m1 5h0m49-6h0m-161 18h0m8-4h0m9 7h0m15-2h0m7 1h0m8-1h0m44-8h0m11 3h0m5 0h0m68 3h0m-166 10h0m29 3h0m25 1h0m54-1h0m12-8h0m75 8h0m48-5h0m33 8h0m-268 11h0m35-2h0m13 2h0m17-2h0m3-3h0m150 5h0m5-1h0m15 2h0m7-2h0m26-7h0m-246 20h0m9-9h0m9 6h0m14-1h0m27-3h0m1 5h0m2 3h0m18-7h0m5-1h0m1 1h0m3-3h0m89 6h0m31 4h0m3-3h0m-225 15h0m37-8h0m5 6h0m11-8h0m2 4h0m5-3h0m12-2h0m0 8h0m1-5h0m12 4h0m7 2h0m18 1h0m65-1h0m11 2h0m2-9h0m4 6h0m31-4h0m18 6h0m1-7h0m-277 13h0m4-3h0m8 5h0m3 5h0m6-4h0m5-7h0m1 7h0m12-1h0m29 4h0m4-6h0m43 7h0m26-2h0m2-3h0m79-1h0m9 3h0m9-7h0m8 5h0m29 2h0m-262 7h0m61-2h0m29 5h0m10 4h0m14-9h0m11 0h0m3 7h0m11-7h0m7 1h0m10 7h0m34-4h0m52-3h0m12 3h0m36 3h0m-296 5h0m13 0h0m57-1h0m26 7h0m12-4h0m5 3h0m57 2h0m19-1h0m3-2h0m22-5h0m5 8h0m37-4h0m8-3h0m20 9h0m-232 10h0m54-4h0m7-4h0m6 7h0m3 4h0m3-9h0m11 6h0m3-2h0m15-4h0m5 9h0m41-10h0m8 6h0m8-5h0m18 5h0m16-3h0m3 5h0m26-2h0m-185 12h0m6 1h0m6 0h0m16-8h0m7 8h0m2 1h0m5-4h0m17 0h0m12 4h0m1 1h0m11-8h0m36 8h0m-196 6h0m45-2h0m57-2h0m48 4h0m16 5h0m4-2h0m80-3h0m16-1h0m-93 10h0m-51 14h0" stroke="#6448C8" stroke-width="4.75" stroke-linecap="round" fill="none"/><path transform="scale(.5)" d="M670 1519h0m14-1h0m3 2h0m37 3h0m19-7h0m57 2h0m14 4h0m10-4h0m2 4h0m8-4h0m6-2h0m3 1h0m2-3h0m1 4h0m4 5h0m3-5h0m2-4h0m34 3h0m22 3h0m53-7h0m11 10h0m-279 8h0m0-6h0m10 8h0m12 2h0m50-5h0m20 3h0m2-9h0m17 2h0m1 3h0m4 2h0m41-5h0m1 2h0m11-4h0m34 6h0m10-5h0m34 2h0m-273 18h0m3-4h0m6 6h0m24-5h0m1 0h0m1 5h0m7-11h0m1 11h0m6-4h0m34-3h0m10-2h0m11 8h0m9-6h0m3 4h0m4 3h0m1 0h0m3-11h0m6 6h0m3 0h0m0-1h0m5 0h0m4-2h0m29-3h0m2 8h0m84-8h0m41 8h0m-294 12h0m12 1h0m8 2h0m6-2h0m0-4h0m4-3h0m15 2h0m15 0h0m52-4h0m7 0h0m0 2h0m1 1h0m11 6h0m46-2h0m8-2h0m4 6h0m5-2h0m31-5h0m23 5h0m29-9h0m10 5h0m-249 10h0m5 4h0m9-6h0m5 4h0m2 6h0m5-11h0m15 5h0m6 2h0m2 4h0m9-2h0m4 2h0m21-2h0m10-3h0m5 5h0m24-4h0m25-5h0m56 6h0m21-5h0m-232 9h0m4 2h0m19 0h0m0 7h0m2 0h0m2-9h0m1 5h0m16 5h0m3 0h0m1-4h0m11 0h0m0-2h0m10 4h0m1-5h0m4-1h0m5 4h0m0-2h0m5 3h0m7-4h0m2 7h0m49-3h0m18-4h0m20 0h0m28 4h0m19 4h0m4-1h0m8-8h0m2 8h0m4 1h0m20-8h0m2-2h0m-253 12h0m15-1h0m8 9h0m6 1h0m7-2h0m14-1h0m2-7h0m5 5h0m1 2h0m7-3h0m53 4h0m7 3h0m8-11h0m46 3h0m5 4h0m0-7h0m9 1h0m2 7h0m0-3h0m4 6h0m2-8h0m1 8h0m1-10h0m28 6h0m2-3h0m8-3h0m8 2h0m5-1h0m-302 14h0m10 4h0m2 0h0m3-1h0m0 0h0m0-6h0m1 8h0m4-2h0m5-3h0m50 6h0m2-7h0m1 8h0m2-9h0m3 2h0m4 5h0m3 2h0m17-9h0m8-2h0m15 10h0m3-1h0m7-9h0m6 6h0m1 2h0m8-4h0m1 1h0m51 0h0m7 3h0m20 3h0m1-9h0m3 6h0m1-3h0m0 3h0m11-6h0m3 5h0m0 3h0m12-9h0m13 8h0m18-3h0m-291 16h0m13-2h0m0 0h0m13-6h0m0 4h0m1-3h0m3 1h0m2 4h0m0-5h0m7-2h0m10 9h0m12-3h0m2-6h0m13 8h0m2-7h0m3 5h0m1 3h0m4-1h0m3-6h0m4 7h0m4-10h0m9 4h0m4 4h0m1-7h0m8 5h0m39-2h0m31 4h0m5 0h0m50-7h0m0-1h0m1 10h0m10-1h0m-262 3h0m1 3h0m20-2h0m20 4h0m59-5h0m2 5h0m2 4h0m16-2h0m10-6h0m2 0h0m2 4h0m7 2h0m18-6h0m28 9h0m8-4h0m7 3h0m17 2h0m11-8h0m1-2h0m2 2h0m5 1h0m8-3h0m-210 20h0m85-3h0m22 3h0m3-5h0m2-3h0m5 9h0m28-7h0m10 3h0m19-3h0m3 3h0m2 1h0m16-7h0m1 3h0m0-1h0m23 0h0m1 9h0m9-9h0m2 5h0m4 1h0m13-7h0m4 10h0m3-2h0m8 1h0m-255 12h0m19-1h0m5 0h0m66-5h0m8-4h0m7 9h0m1-2h0m2 0h0m2 4h0m12 0h0m3-10h0m8 9h0m8 1h0m2-9h0m5-1h0m17 2h0m2 8h0m4-6h0m9 3h0m6 1h0m2-7h0m12 4h0m17-6h0m17 3h0m7 7h0m1-4h0m7-1h0m2-2h0m4 2h0m8 2h0m-279 10h0m87-5h0m21 7h0m13-2h0m11 2h0m1-6h0m1 9h0m3-3h0m5 0h0m1-4h0m6 0h0m5 4h0m3-6h0m9 0h0m6 1h0m26 5h0m74-6h0m1 4h0m-297 12h0m45-3h0m36 0h0m4 0h0m27 7h0m54-2h0m71 2h0m11 0h0m0-1h0m35-8h0m11 1h0m-298 12h0m1-1h0m0 7h0m65-1h0m110-2h0m22-3h0m30 2h0m30-2h0m14-1h0" stroke="#6448C8" stroke-width="3.8" stroke-linecap="round" fill="none"/><path transform="scale(.5)" d="M882 1511h0m21-1h0m-144 2h0m44 10h0m10 0h0m22-10h0m3 7h0m42 4h0m56-10h0m-222 15h0m3 2h0m69 2h0m49-6h0m-144 21h0m22-1h0m8-1h0m-38 8h0m29 3h0m166 0h0m48-5h0m-170 17h0m3-3h0m170 6h0m33-9h0m-237 11h0m9 6h0m14-1h0m28 2h0m20-4h0m98 3h0m31 4h0m-222 12h0m53-10h0m19 7h0m38 2h0m65-1h0m11 2h0m2-9h0m4 6h0m31-4h0m18 6h0m-272 3h0m11 10h0m6-4h0m5-7h0m46 4h0m43 7h0m26-2h0m81-4h0m9 3h0m17-2h0m29 2h0m-262 7h0m90 3h0m10 4h0m25-9h0m3 7h0m126-3h0m-260 8h0m13 0h0m57-1h0m100 8h0m19-1h0m25-7h0m5 8h0m65 2h0m-232 10h0m61-8h0m9 11h0m17-5h0m20 5h0m-65 8h0m12 1h0m23 0h0m2 1h0m5-4h0m17 0h0m12 4h0m1 1h0m11-8h0m-115 12h0m57-2h0m48 4h0m16 5h0m84-5h0m-128 23h0" stroke="#C050B8" stroke-width="1.9" stroke-linecap="round" fill="none"/></g>
<clipPath id="gc2"><rect x="492.8" y="754.8" width="154.8" height="88.8"/></clipPath><g clip-path="url(#gc2)"><rect x="492.8" y="754.8" width="154.8" height="88.8" fill="#0C0208"/><path filter="url(#sb)" transform="scale(.5)" d="M991 1545l-4 20M991 1545l-10-10M981 1535l-14 0M1298 1603l28 15M1298 1603l0-22M1279 1522l9 16M981 1535l9-13M990 1522l-2-6M988 1516l-10-4M1014 1500l1 14M1014 1500l9-36M1015 1514l17 8M1032 1522l9 0M1014 1500l-22 8M992 1508l-2-4M1054 1530l1 0M1054 1530l2 19M1055 1530l6 13M1061 1543l1 8M1062 1551l-3 1M1056 1549l3 3M1043 1539l6-11M1043 1539l13 10M1049 1528l5 2M1047 1559l12-7M1047 1559l-7-16M1043 1539l-3 4M1070 1555l5-7M1070 1555l-2 0M1068 1555l-6-4M1061 1543l13-2M1075 1548l-1-7M1055 1694l-15-2M1287 1689l12-5M1302 1686l-3-2M1270 1687l-1-2M1247 1689l-1 1M1247 1689l19-6M1266 1683l3 2M1270 1687l17 2M1228 1684l4 13M1228 1684l-13 1M1213 1690l2-5M1213 1690l15 14M1213 1690l0 0M1246 1690l-14 7M1271 1606l-19-16M1271 1606l21-26M1292 1580l-40 10M1298 1581l-5-2M1283 1560l0-13M1283 1560l10 19M1288 1538l-5 9M1293 1579l0 0M1011 1547l14 1M1011 1547l-7-6M1004 1541l3-18M1024 1539l2 7M1024 1539l-13-19M1007 1523l4-3M1025 1548l1-2M991 1545l13-4M990 1522l17 1M1049 1528l-3-4M1040 1543l-14 3M1032 1522l-8 17M1041 1522l5 2M1015 1514l-4 6M992 1508l-4 8M1058 1574l-6-2M1058 1574l10-19M1047 1559l0 1M1047 1560l5 12M1025 1548l1 15M1047 1560l-21 3M1004 1565l7-18M1004 1565l21-1M1026 1563l-1 1M1279 1522l-10-1M1269 1521l-6-37M985 1500l-9 8M985 1500l1-13M990 1504l-5-4M978 1512l-2-4M1046 1524l6-13M1052 1511l15 4M1068 1512l-1 3M1055 1530l12-3M1067 1515l0 12M1074 1541l2-12M1067 1527l9 2M1070 1555l6 5M1075 1548l12-1M1087 1547l1 12M1076 1560l9 5M1085 1565l1 0M1088 1559l-2 6M1088 1559l12-5M1087 1566l-1-1M1087 1566l18-4M1100 1554l5 8M1067 1579l-2-1M1067 1579l10 6M1065 1578l-3 0M1062 1596l-1-17M1062 1596l11-1M1073 1595l4-10M1077 1585l0 0M1062 1578l-1 1M1076 1560l-11 18M1085 1565l-18 14M1092 1579l-15 6M1092 1579l-5-13M1077 1585l0 0M1058 1574l4 4M1078 1611l-5-16M1078 1611l-16 6M1058 1602l4 15M1058 1602l4-6M1077 1585l12 9M1077 1585l7 12M1084 1597l5-3M1092 1579l2 1M1089 1594l9-4M1094 1580l4 10M1055 1694l3-6M1082 1695l-24-7M978 1601l3 5M981 1606l-1 2M978 1601l1-4M976 1586l3 11M1058 1602l-5-3M1061 1579l-11 14M1050 1593l3 6M987 1565l6 3M1004 1565l-5 4M999 1569l-6-1M1062 1617l-6 8M1052 1629l4-4M1052 1629l-1 0M1053 1599l-17 7M1036 1606l15 23M1283 1547l-22 1M1269 1521l-15 1M1261 1548l-7-26M1254 1522l-3-1M1196 1678l3 12M1196 1678l-11 13M1199 1690l-16 14M1185 1691l-2 13M1213 1690l-14 0M1144 1687l-6 5M1136 1693l2-1M1180 1677l-10-1M1180 1677l5 14M1165 1685l5-9M1247 1689l-5-7M1266 1683l-5-14M1261 1669l-3-1M1258 1668l-16 14M1253 1623l-27 3M1253 1623l0 0M1226 1626l1 5M1227 1631l14 3M1241 1634l12-11M1215 1685l-7-19M1196 1678l5-15M1208 1666l-7-3M1158 1576l-13-1M1158 1576l6-8M1164 1568l-1-4M1163 1564l-9-8M1145 1575l-1-10M1144 1565l6-9M1150 1556l4 0M1175 1568l-7-12M1175 1568l-11 0M1168 1556l-5 8M1161 1552l-7 4M1161 1552l8 1M1169 1553l-1 3M1182 1525l-7-10M1182 1525l9-13M1175 1515l4-17M1191 1512l-3-9M1162 1529l22 2M1162 1529l-4-7M1184 1531l-2-6M1158 1522l2-2M1160 1520l15-5M1158 1506l2 14M1191 1512l7 6M1188 1503l30-1M1198 1518l20-16M1184 1531l1 1M1198 1518l-2 10M1185 1532l11-4M1158 1506l-13 3M1218 1502l0 0M1160 1540l-9 2M1160 1540l1 12M1150 1556l-4-11M1151 1542l-5 3M1040 1692l-6-6M1034 1686l-4 4M1030 1697l0-7M1034 1679l0 7M1034 1679l8 0M1058 1688l0-2M1058 1686l-2-2M1042 1679l14 5M1068 1669l-16-13M1068 1669l7-19M1052 1656l5-14M1057 1642l15 6M1075 1650l-3-2M1035 1648l-3 15M1035 1648l14 10M1032 1663l12-1M1044 1662l3-1M1049 1658l-2 3M1042 1679l2-17M1056 1684l-9-23M1069 1672l-11 14M1069 1672l-1-3M1052 1656l-3 2M1034 1679l-9-7M1030 1690l-8-2M1025 1672l-3 16M1032 1663l-9 5M1025 1672l-2-4M980 1616l-3 6M980 1616l-1-3M979 1613l-8 0M984 1632l-7-10M984 1632l5-15M989 1617l-9-1M989 1617l6-2M981 1606l15 0M995 1615l1-9M980 1608l-1 5M984 1632l1 3M985 1635l-10 13M1048 1592l-18 0M1048 1592l-1-17M1030 1592l-2-11M1047 1575l-18 6M1028 1581l1 0M1029 1594l1-2M1029 1594l0 7M1050 1593l-2-1M1029 1601l7 5M1052 1572l-5 3M1029 1594l-26 2M1003 1596l4-16M1007 1580l21 1M1025 1564l4 17M1007 1580l-8-11M1000 1599l-6-4M1000 1599l3-3M993 1568l0 4M994 1595l-1-23M985 1635l5-1M990 1634l6 3M996 1637l-5 25M991 1662l3 3M1035 1648l0-2M1018 1666l5 2M1018 1666l2-17M1035 1646l-15 3M1052 1629l5 13M1051 1629l-7 1M1035 1646l9-16M1237 1533l16 18M1237 1533l5-12M1253 1551l-5-30M1242 1521l6 0M1261 1548l-6 6M1255 1554l-2-3M1251 1521l-3 0M1231 1510l11 11M1233 1540l-1 3M1233 1540l-19-9M1232 1543l-13 1M1219 1544l-6-12M1214 1531l-1 1M1231 1510l-17 21M1237 1533l-4 7M1180 1647l-16 9M1180 1647l-11-16M1164 1656l-13-5M1151 1651l-6-19M1145 1632l5-7M1169 1631l0-2M1150 1625l19 4M1164 1659l6 17M1164 1659l-11 12M1165 1685l-8-4M1153 1671l4 10M1144 1687l1-2M1157 1681l-12 4M1253 1623l-10-14M1226 1626l0-1M1226 1625l17-16M1252 1590l-1-1M1252 1590l-9 18M1225 1602l11 4M1225 1602l0-3M1225 1599l26-10M1236 1606l7 2M1225 1602l0 11M1225 1602l-19 10M1207 1617l-1-5M1207 1617l16 6M1223 1623l2-10M1225 1602l0 0M1236 1606l-11 7M1226 1625l-3-2M1243 1609l0-1M1264 1654l-1 0M1264 1654l-11-10M1263 1654l-15-5M1253 1644l-4 3M1248 1649l1-2M1261 1669l14-12M1258 1668l-4-4M1254 1664l9-10M1275 1657l-2-4M1273 1653l-9 1M1272 1649l1 4M1272 1649l-16-7M1256 1642l-3 2M1247 1650l1-1M1247 1650l7 14M1254 1664l0 0M1256 1642l4-16M1241 1634l8 13M1253 1623l7 3M1269 1685l16-22M1299 1684l-4-16M1285 1663l10 5M1295 1668l3-3M1180 1677l18-17M1201 1663l-1-1M1198 1660l2 2M1240 1651l-13-10M1240 1651l-6 10M1227 1641l-7 23M1234 1661l-14 3M1220 1664l0 0M1227 1631l-2 4M1247 1650l-7 1M1225 1635l1 4M1226 1639l1 2M1254 1664l-14 6M1240 1670l-6-9M1208 1666l12-2M1226 1639l-26 23M1162 1539l0-10M1162 1539l14 5M1185 1532l-1 3M1184 1535l-8 9M1160 1540l2-1M1169 1553l6-5M1175 1548l1-4M1209 1541l2-9M1209 1541l-6 0M1203 1541l-1-11M1211 1532l-7-2M1204 1530l-2 0M1214 1547l5-3M1214 1547l-5-6M1213 1532l-2 0M1211 1552l3-5M1211 1552l-12 4M1197 1550l2 6M1197 1550l6-9M1196 1528l6 2M1184 1535l13 15M1218 1502l-14 28M1088 1505l-12-1M1068 1512l8-4M1076 1504l0 4M1158 1522l-1 0M1145 1509l-3 4M1142 1513l15 9M1151 1542l0-15M1157 1522l-6 5M1112 1529l21 10M1112 1529l-6 9M1133 1540l0-1M1133 1540l-5 8M1106 1538l22 10M1087 1547l7-9M1094 1538l8 3M1100 1554l2-13M1102 1541l0 0M1092 1615l-3 16M1092 1615l-11-4M1078 1611l3 0M1078 1611l0 21M1089 1631l-9 2M1078 1632l2 1M1078 1611l0 0M1084 1597l-3 14M1056 1625l22 7M1072 1648l8-15M1094 1614l21 14M1094 1614l9-12M1104 1602l-1 0M1104 1602l18 15M1122 1617l0 2M1122 1619l-2 8M1120 1627l-5 1M1108 1640l7-12M1108 1640l-15-1M1093 1639l-4-8M1092 1615l2-1M1098 1590l1 1M1099 1591l4 11M1125 1582l-12 17M1125 1582l-2-2M1123 1580l-24 11M1113 1599l-9 3M1113 1599l12 6M1125 1605l-3 12M1069 1672l12 1M1081 1673l2-17M1075 1650l5 1M1083 1656l-3-5M1093 1639l-3 5M1080 1651l10-7M1005 1675l15 16M1005 1668l0 7M1005 1668l-5-2M1000 1666l-6-1M1030 1697l-13 2M1018 1666l-13 2M1022 1688l-2 3M992 1631l10-6M992 1631l4-12M996 1619l6 6M995 1615l0 0M990 1634l2-3M995 1615l1 4M995 1615l12 4M1002 1625l5 1M1007 1626l0-7M1136 1693l-5-14M1145 1685l-4-9M1131 1679l10-3M1153 1671l-11 1M1142 1672l-1 4M1164 1656l0 3M1151 1651l-12 7M1138 1662l4 10M1138 1662l0-1M1139 1658l-1 3M1083 1656l15 6M1090 1644l11 16M1101 1660l-3 2M1081 1673l7 4M1098 1662l-10 15M1082 1695l7-14M1089 1681l-1-4M1089 1681l23 4M1131 1679l-14-3M1112 1685l5-9M1138 1662l-21 13M1117 1676l0-1M1135 1585l1 3M1135 1585l-10-3M1125 1605l6-5M1136 1588l-5 12M1135 1585l10-10M1158 1576l8 10M1165 1589l1-3M1165 1589l-19 7M1136 1588l10 8M1122 1619l16-6M1131 1600l7 13M1169 1631l19-11M1169 1629l3-8M1188 1620l-8-10M1180 1610l-1 0M1179 1610l-7 11M1180 1647l0 0M1180 1647l7-13M1188 1620l1 2M1187 1634l2-12M1233 1548l-8 14M1233 1548l19 12M1225 1562l10 15M1235 1577l13 3M1252 1560l1 9M1253 1569l-1 5M1252 1574l-4 6M1211 1552l13 10M1232 1543l1 5M1224 1562l1 0M1255 1554l-3 6M1224 1562l-15 9M1209 1571l20 9M1229 1580l6-3M1283 1560l-30 9M1293 1579l-41-5M1292 1580l1-1M1252 1590l0 0M1251 1589l-3-9M1221 1595l1-9M1221 1595l-9 2M1212 1597l-4-16M1222 1586l-14-5M1225 1599l-4-4M1229 1580l-7 6M1180 1610l11-5M1207 1617l0 0M1206 1612l-2-5M1207 1617l-18 5M1191 1605l13 2M1212 1597l-7 5M1204 1607l1-5M1275 1657l6 2M1285 1663l0 0M1281 1659l4 4M1225 1635l-9 2M1198 1660l-1-2M1216 1637l-19 21M1180 1647l15 10M1195 1657l2 1M1240 1680l0-9M1240 1680l-8 1M1240 1671l-13 0M1232 1681l-5-10M1242 1682l-2-2M1240 1670l0 1M1228 1684l4-3M1220 1664l7 7M1092 1516l-1 14M1092 1516l-7-1M1081 1516l4-1M1081 1516l-4 13M1077 1529l13 4M1090 1533l1-3M1109 1514l-3-6M1109 1514l-18 16M1106 1508l-14 8M1088 1505l-3 10M1076 1508l5 8M1076 1529l1 0M1094 1538l-4-5M1113 1518l-1 11M1113 1518l-4-4M1106 1538l-4 3M1133 1539l18-12M1133 1539l1-16M1134 1523l17 4M1146 1545l-13-5M1133 1539l0 0M1151 1527l0 0M1131 1503l10 11M1131 1503l-9 14M1141 1514l-7 9M1122 1517l12 6M1142 1513l-1 1M1113 1518l9-1M1134 1523l0 0M1132 1559l-5-10M1132 1559l-13 15M1127 1549l-11 6M1116 1555l-4 12M1119 1574l-7-5M1112 1567l0 2M1144 1565l-12-6M1128 1548l-1 1M1123 1580l-4-6M1102 1541l14 14M1105 1562l7 5M1094 1580l18-11M988 1589l-8-2M988 1589l6 5M988 1595l-9-8M988 1595l6-1M979 1587l1 0M988 1582l0 7M988 1582l-8 5M994 1595l0-1M993 1572l-5 10M976 1586l3 1M979 1597l9-2M996 1606l4-6M1000 1600l0-1M1009 1631l14-1M1009 1631l-7 8M1004 1641l-2-2M1004 1641l15 5M1019 1646l4-16M996 1637l6 2M1007 1626l2 5M1000 1666l4-25M1020 1649l-1-3M1044 1630l-19-1M1025 1629l-2 1M1008 1605l1 13M1008 1605l14 3M1009 1618l12 0M1022 1608l-1 10M1000 1600l8 5M1007 1619l2-1M1029 1601l-7 7M1025 1629l-4-11M1133 1652l-10-5M1133 1652l0-18M1123 1647l6-14M1133 1634l-4-1M1145 1632l-12 2M1139 1658l-5-5M1134 1653l-1-1M1150 1625l-1-8M1120 1627l9 6M1138 1613l11 4M1107 1660l8 10M1107 1660l4-10M1115 1670l9-11M1111 1650l9 0M1120 1650l4 5M1124 1659l0-4M1101 1660l6 0M1117 1675l-2-5M1108 1640l3 10M1138 1661l-14-2M1123 1647l-3 3M1134 1653l-10 2M1146 1596l5 13M1149 1617l1-3M1151 1609l-1 5M1172 1621l-10-8M1150 1614l12-1M1179 1610l-4-4M1162 1613l13-7M1191 1605l-2-13M1205 1602l-4-8M1189 1592l12 2M1208 1581l-5-5M1201 1594l2-18M1175 1568l14 3M1166 1586l21-11M1187 1575l2-4M1175 1548l16 22M1199 1556l-5 13M1194 1569l-3 1M1209 1571l-8 2M1194 1569l7 4M1189 1571l2-1M1201 1573l2 3M1298 1639l-10 5M1298 1639l-11-17M1288 1644l-13-5M1284 1620l3 2M1284 1620l-9-1M1275 1639l-1-19M1275 1619l-1 1M1272 1649l3-10M1281 1659l7-15M1298 1603l-14 17M1271 1606l4 13M1260 1626l14-6M1302 1640l-3 12M1302 1640l-3-1M1299 1639l-8 15M1299 1652l-8 2M1298 1665l1-13M1298 1639l1 0M1285 1663l6-9M1210 1635l-7 5M1210 1635l-5-11M1203 1640l-2-11M1205 1624l-4 5M1216 1637l-6-2M1195 1657l8-17M1207 1617l-2 7M1187 1634l14-5M1174 1604l-5-6M1174 1604l14-13M1188 1591l-1-3M1187 1588l-18 9M1169 1597l0 1M1151 1609l18-11M1175 1606l-1-2M1189 1592l-1-1M1187 1575l0 13M1165 1589l4 8" stroke="#E42A2A" stroke-width="1.6" stroke-opacity="0.9" fill="none"/><path transform="scale(.5)" d="M998 1519h0m13 4h0m45-1h0m10-10h0m14 2h0m25 4h0m27-2h0m21-2h0m21 8h0m23-8h0m51-1h0m16 0h0m4 5h0m-251 6h0m21 9h0m26-1h0m11-6h0m11 2h0m9-4h0m2 10h0m47 1h0m15-3h0m2-7h0m3 10h0m7-7h0m26 2h0m12-3h0m15 8h0m6-8h0m2-2h0m16 5h0m2-4h0m1 4h0m31 0h0m-291 16h0m9 1h0m23-8h0m17-2h0m5 8h0m7-2h0m13-3h0m1 4h0m0 0h0m14 0h0m53-1h0m57-2h0m19 2h0m8-6h0m13 1h0m-212 12h0m2 3h0m39-3h0m93 7h0m5-7h0m1 1h0m0 1h0m1-4h0m1 11h0m33-9h0m6 9h0m13-9h0m1-1h0m4 6h0m32 0h0m-227 10h0m31 6h0m3-6h0m29 4h0m84-3h0m3-4h0m7 4h0m19-1h0m32-5h0m19 2h0m4 8h0m17-3h0m-252 5h0m28 6h0m32-4h0m18 3h0m105 5h0m16-10h0m44 7h0m-240 6h0m30 9h0m108-9h0m10 4h0m26-1h0m4-4h0m4 11h0m66-7h0m-245 13h0m102 1h0m51 3h0m15-5h0m31-1h0m8 1h0m9 1h0m8 2h0m12-6h0m-104 17h0m19-4h0m1 0h0m17 2h0m2-4h0m37 11h0m26-10h0m-240 14h0m3 1h0m18 5h0m15-6h0m5-3h0m24 2h0m49-1h0m37 3h0m12-2h0m-137 20h0m125-8h0m96 7h0m-275 12h0m3-1h0m33 3h0m7-8h0m112 7h0m47-3h0m103 0h0m-228 12h0m70-1h0m122-1h0m15 4h0m-277 5h0m74 0h0m60 8h0m30-4h0m118 0h0m-278 9h0m1 0h0m62-3h0m106 0h0m107 7h0m17-2h0" stroke="#4650D8" stroke-width="5.75" stroke-linecap="round" fill="none"/><path transform="scale(.5)" d="M986 1510h0m211 0h0m19 1h0m5 0h0m38 0h0m-264 6h0m15 3h0m20-2h0m17-4h0m2 8h0m21-1h0m23-4h0m4 4h0m28-7h0m29 5h0m14 3h0m8-1h0m27-4h0m3-4h0m26 9h0m1-9h0m13 0h0m35 2h0m-275 17h0m24 2h0m0-2h0m2-7h0m2 9h0m5-9h0m1-1h0m3 11h0m2-3h0m4-1h0m3-4h0m2 7h0m4-1h0m9-4h0m1-4h0m4 0h0m19 9h0m9-7h0m7 3h0m5-5h0m7 9h0m1-5h0m2 6h0m6-2h0m4-9h0m3 7h0m11-6h0m15 3h0m30 5h0m24-1h0m2-3h0m1 1h0m4-6h0m0 3h0m7 2h0m1-4h0m4 5h0m2-5h0m1 0h0m26 2h0m3 6h0m-239 10h0m3-1h0m3-4h0m10 5h0m6-2h0m5-4h0m8 4h0m3 4h0m12-3h0m2 0h0m2-6h0m3 0h0m12 3h0m7 1h0m1-2h0m2 7h0m18-6h0m2 2h0m5 3h0m1 3h0m18-6h0m2-4h0m9 6h0m0-7h0m9 10h0m10-7h0m0-1h0m3 5h0m5-4h0m3-1h0m1 2h0m8-2h0m3-1h0m16 3h0m13-2h0m8-1h0m5 0h0m10 0h0m22 4h0m11 2h0m-295 13h0m6-1h0m10 3h0m10-8h0m14 1h0m12-3h0m3 6h0m1-2h0m9-4h0m29 0h0m4 6h0m10-2h0m13 3h0m13 0h0m10 4h0m1-8h0m8-1h0m6-1h0m0 4h0m3-1h0m4 2h0m12 0h0m0 5h0m11-7h0m1 2h0m14 2h0m4-5h0m1 4h0m14-2h0m5-3h0m2 4h0m9 3h0m5-5h0m33 0h0m13 2h0m-270 6h0m4 7h0m15-3h0m1-2h0m81 6h0m4 2h0m22-7h0m0-1h0m3 7h0m6 0h0m0 0h0m26-8h0m14 6h0m4-7h0m0 1h0m14 1h0m3 7h0m3-9h0m10 11h0m18-3h0m12-1h0m-241 9h0m36-2h0m16 4h0m19 3h0m52-6h0m6 6h0m11-3h0m14-5h0m2 6h0m11 0h0m26 2h0m1-1h0m21 0h0m16-7h0m16 9h0m3-9h0m9 5h0m4 1h0m9-3h0m6 6h0m-300 13h0m2-6h0m76-4h0m110 2h0m3 2h0m1 5h0m1-10h0m15 5h0m27 5h0m3-9h0m0 2h0m4 2h0m5-4h0m3 9h0m6-2h0m12 0h0m10-7h0m-258 17h0m1 5h0m9-7h0m13 1h0m28-2h0m14 3h0m54 2h0m41 0h0m12 2h0m2-3h0m22-3h0m8 5h0m1-9h0m27 6h0m4 1h0m-155 6h0m66 8h0m15-1h0m16-3h0m2-1h0m18 0h0m41 4h0m5 3h0m14-9h0m2 4h0m20-4h0m-278 15h0m34 0h0m25 1h0m8-2h0m16 6h0m1-3h0m11 3h0m106-6h0m63 2h0m10 1h0m-299 9h0m16-3h0m28 0h0m28 9h0m39-9h0m28 4h0m14-3h0m4 0h0m2-1h0m52-1h0m11 1h0m35 7h0m37 3h0m8 0h0m-287 12h0m29-8h0m11 8h0m13-3h0m21-5h0m8-2h0m15 1h0m0 1h0m42 3h0m10 4h0m23-8h0m25 3h0m33 4h0m16-3h0m-256 12h0m15 1h0m70 1h0m121-6h0m4-2h0m0 10h0m31-3h0m21-5h0m1-1h0m4 3h0m-226 16h0m27-3h0m112 5h0m20-2h0m34 1h0m0 1h0m53 1h0m8-2h0m-287 5h0m86 3h0m31 0h0m45-4h0m132 5h0" stroke="#4650D8" stroke-width="4.6" stroke-linecap="round" fill="none"/><path transform="scale(.5)" d="M1056 1522h0m24-8h0m25 4h0m48-4h0m44 0h0m51-1h0m16 0h0m-226 20h0m37-7h0m11 2h0m9-4h0m2 10h0m47 1h0m17-10h0m3 10h0m7-7h0m26 2h0m33-3h0m2-2h0m16 5h0m2-4h0m-259 20h0m49-9h0m12 6h0m157 0h0m-189 10h0m39-3h0m93 7h0m6-6h0m0 1h0m54-2h0m1-1h0m36 6h0m-196 16h0m3-6h0m123 1h0m74 4h0m-235 2h0m60 2h0m18 3h0m105 5h0m60-3h0m-210 15h0m108-9h0m10 4h0m30-5h0m4 11h0m-179 6h0m207-1h0m9 1h0m8 2h0m-92 11h0m-138 9h0m36 0h0m5-3h0m24 2h0m86 2h0m12-2h0m-191 31h0m43-6h0m112 7h0m47-3h0m103 0h0m-158 11h0m122-1h0m-262 9h0m134 8h0m-129 5h0m62-3h0m106 0h0m107 7h0" stroke="#7078F0" stroke-width="2.3" stroke-linecap="round" fill="none"/><path d="M632.7 779.8L631 777.9L631.2 775.7L632.3 773.7L634.8 772.8L637.1 774.2L638.4 776.2L637.5 778.5L635.4 779.8ZM617.6 799.6L612.3 798.8L608.2 795.9L606.9 791.1L609.7 786.6L615.3 785.9L619.8 787.9L623.3 791.6L622 796.6ZM560.4 782.3L557.9 782.4L556.3 780.6L556.1 778.6L557.2 776.7L559.5 775.8L562 776.7L563.3 778.8L562.6 781.1ZM544.5 831.9L548.8 831.8L552 833.6L553.3 836.7L552.3 840L549 841.5L545.1 841.5L541.8 839L542 835.1ZM505.8 760.8L505.3 759.3L505.7 757.6L507.5 756.9L509.5 757.1L510.7 758.6L510.6 760.4L509 761.3L507.3 762ZM594.9 777.6L595.5 774.6L598.7 773.7L602 773.8L603.8 776.3L603.4 779L601.9 781.7L598.5 781.9L596.1 780.1ZM593.7 818.2L595.3 818L596.7 818.9L596.7 820.4L596 821.5L594.6 822L593.2 821.6L592.3 820.5L592.4 819ZM569.4 783L568.4 778.4L572.3 775.3L577.4 772.9L581.7 776.2L584.9 780.6L581.7 785L577.5 787.9L572 787.2ZM512.6 775.4L512.7 771.6L515.5 768.8L519.5 768.6L523.8 769.8L525.3 773.8L523.4 777.6L519.4 779.7L514.8 778.9ZM513.6 805.3L508.4 806.9L503.9 804.8L499.6 801.8L500 796.5L505.1 794.3L509.7 794.1L515 795.7L516.3 800.8ZM620.8 771.4L619.1 767.4L621.3 763.6L625.6 762.6L630.2 762.5L633 766.1L632 770.2L628.8 772.7L624.6 773.5ZM572.5 752.9L577.3 751L581.4 753.9L584.3 757.6L583.2 762.6L578.3 764.7L573.1 764.4L568.9 761.2L568.7 756.2ZM631.9 833.5L628.3 836.1L624 834.7L620.5 832.1L620.4 827.8L623.6 824.7L628 824.4L631.2 826.6L634 829.8ZM533.1 803.8L530.9 802.8L529.8 800.9L530.2 798.7L532.3 797.8L534.6 797.3L536.2 799L536.3 801L535.6 803.1ZM588.8 763.8L588.7 762L589.9 760.7L591.6 760.2L593.6 760.5L594.1 762.3L593.6 763.8L592.2 764.7L590.5 764.7ZM565.6 834.3L565.2 836.7L563.9 839L561.1 838.9L558.6 838L557.2 835.7L558.3 833.1L560.9 831.8L563.7 832.5ZM633.1 810.6L631.2 810.4L629.6 809.9L629.2 808.4L629.5 807L630.9 805.8L632.9 806L634.1 807.3L634.1 809.1ZM583.2 806L584.8 802.3L588.4 800.2L592.7 800.6L596.8 803.1L596.6 807.7L594 811.7L588.7 813.1L585.1 809.6ZM522.2 841.4L519 840.1L519.2 836.9L521.1 834.5L524.2 833.9L527.6 834.4L528.2 837.5L527.5 840.1L525.1 841.7ZM594.2 757.9L593.8 755.8L595.7 754.3L598.1 754L600 755.4L600.8 757.4L599.8 759.5L597.6 760.8L594.9 760.2ZM563.3 763L567 763.7L569.1 766.8L568.4 770.3L565.2 772.4L561.2 772.8L558 770.5L558.4 766.9L559.7 763.8ZM541.1 819.9L535.4 821.8L530.2 819.7L527.5 815.7L527.8 811L531.8 808.1L536.8 807.5L541.6 809.8L543.3 814.8ZM575.8 838.5L577.4 840.6L576.5 843L574.5 844.5L571.6 844.9L569.8 842.9L569.5 840.6L570.8 838.6L573.3 837.8ZM501.1 763.4L502.8 764.3L504.3 765.7L503.4 767.4L502 768.5L499.9 768.9L498.6 767.5L497.8 765.7L499 764ZM544.6 756.9L545.2 758.5L544.9 759.9L543.8 761.1L541.9 761.3L540.3 760.3L540.5 758.6L541 757.1L542.7 756.7ZM511.6 814.8L512.5 812L515.3 810.8L518.6 810.6L520.6 813L520.8 815.9L518.7 818.1L515.7 818.9L512.5 817.7ZM582.1 819.2L585.4 819.2L587.9 820.7L589.3 823.1L587.9 825.6L585.5 827.6L582.2 826.9L579.7 824.7L580.6 821.8ZM526.1 784.5L525 782.6L525.2 780.3L527.4 779.3L529.7 779.6L531 781L531.7 782.9L530.6 784.8L528.3 785.4ZM592.5 778.3L592.7 780L591.6 781.4L589.8 781.5L588 781.3L587.6 779.7L588.1 778.3L589.3 777.5L591 777.4ZM614.4 823.4L612.9 824.5L610.7 824.9L608.9 823.5L609.2 821.5L610.2 819.9L612.1 819.5L613.8 820.2L615.4 821.6ZM638.6 816.4L639.6 814.3L641.4 813L643.9 812.8L645.5 814.5L646.5 816.7L645 818.9L642.3 819.2L639.9 818.5ZM558.5 757L558.9 755.1L559.8 753.5L561.9 753.5L563.7 754.2L564.7 755.8L563.7 757.5L562.1 758.6L560 758.3ZM532.9 824.1L535.3 824.2L536.9 825.6L537.3 827.6L536.4 829.6L534.1 830L532 829.3L530.7 827.6L531.6 825.8ZM537.3 776.4L539.8 775.9L542 776.5L543.5 778L543.7 780.3L542 782.2L539.2 782.6L537.1 780.9L536.9 778.7ZM502.7 771.8L504.8 771.2L507 771.1L508.2 772.7L508.1 774.4L507.3 776.3L505.1 776.4L503.4 775.4L502.3 773.9ZM556.4 786.7L557.7 785.3L559.7 784.7L561.5 785.7L562.6 787.4L561.5 789.1L560 790.6L558 789.7L556.6 788.5ZM578.7 794.3L578.9 797L577.3 799.1L574.6 800.6L572.2 798.8L570.5 796.8L571.2 794.3L573.4 792.6L576.4 792.4ZM611.8 772L607 772.9L602.7 770.2L603.4 765.7L604.5 761.5L609.3 759.8L613.9 761.6L617.1 765.2L615.7 769.6ZM648 785L649.5 787.4L649.9 790.2L647.5 792L644.5 792.2L641.5 791L640.4 788.1L641.9 785.4L644.9 783.7ZM503.6 838.9L505.3 838.1L507.2 838.8L508.1 840.3L507.8 842L506.2 842.8L504.5 843L503 842L502.3 840.3ZM509.9 838.9L509.4 837.1L510.4 835.6L512.3 834.9L514.2 835.5L514.7 837.2L514.6 838.7L513.3 839.9L511.5 839.7ZM539.7 764.3L538.1 765.2L536.3 765.4L534.3 764.6L534.1 762.7L535.1 761.1L537 760.2L538.7 761.2L539.9 762.5ZM558.5 816.2L555.5 818.8L551.7 819.7L548.5 817.8L546.8 814.7L548.5 811.7L551.5 810L555.2 810L558.4 812.4ZM563.1 811.5L559.3 808.4L557.6 804.8L558.3 800.8L561.9 797.4L567.1 798.6L569.7 802.1L570.3 806.1L568.4 810.4ZM532.4 786.3L533.3 784.9L535.1 784.5L536.6 785.3L537.3 786.7L537 788.1L535.6 789.1L533.7 789.2L532.2 788.1ZM499.6 825.1L497.8 826.2L495.8 825.6L494.5 824.2L494.5 822.4L495.8 820.9L497.8 820.7L499.9 821.4L500.5 823.4ZM650.1 764.7L646.2 766.2L642.4 764.6L639.5 761.7L640.7 757.9L643.5 754.6L648 755.2L651.4 757.5L652.1 761.3ZM518.5 827.1L520.4 828L521.1 829.6L520.9 831.3L519.4 832.2L517.4 832.7L516.3 831.2L515.8 829.6L516.6 828Z" fill="#040002" stroke="#E02828" stroke-width="0.7" stroke-linejoin="round" filter="url(#sb2)"/></g>
<clipPath id="gc3"><rect x="333.7" y="865.9" width="154.1" height="86.3"/></clipPath><g clip-path="url(#gc3)"><rect x="333.7" y="865.9" width="154.1" height="86.3" fill="#0A0512"/><path filter="url(#sb)" transform="scale(.5)" d="M936 1747l12-12M936 1747l11 4M948 1735l15 2M947 1751l18-10M963 1737l2 4M684 1734l16-17M684 1734l-8 19M675 1753l1 0M675 1753l-9 22M733 1735l-7-23M733 1735l-13 20M720 1755l-8 0M957 1729l5 7M985 1744l-6-2M979 1742l-12 0M963 1737l-1-1M965 1741l2 1M841 1791l7-8M841 1791l-17-2M825 1782l19-4M825 1782l-1 7M844 1778l4 5M848 1783l0 0M848 1783l10 20M841 1795l10 9M841 1795l0-4M858 1803l-7 1M824 1774l15-5M824 1774l1 8M839 1769l5 9M676 1753l20 11M666 1775l7 8M673 1783l9 1M682 1784l14-20M700 1764l12-9M700 1764l-2 1M698 1765l-2-1M720 1755l13 12M733 1767l0 0M733 1767l-1 3M700 1764l14 11M714 1775l18-5M733 1735l15 9M733 1767l9-2M748 1744l-6 21M733 1767l14 23M755 1777l-8 13M755 1777l1-5M742 1765l14 7M674 1867l4 16M674 1867l-15 32M678 1883l-15 16M659 1899l4 0M676 1902l-13-3M676 1902l0 0M676 1902l8-13M684 1889l-6-6M674 1863l0 4M674 1863l-4-6M670 1857l-1 0M893 1740l-3 1M893 1740l12 1M890 1741l-1 12M889 1753l13 9M902 1762l14-1M916 1761l-11-20M893 1740l12-30M913 1726l-4 12M905 1741l4-3M921 1726l0 13M936 1731l-4 12M932 1743l-11-4M948 1735l-12-4M913 1726l8 0M909 1738l12 1M936 1747l-3-1M933 1746l-1-3M921 1763l-5-2M921 1763l12-17M879 1906l-7-9M872 1897l-11 2M861 1899l-4 6M951 1767l2 13M951 1767l13-1M953 1780l9-4M962 1776l4-8M966 1768l-2-2M947 1751l1 14M967 1742l-3 24M948 1765l3 2M952 1785l18 5M952 1785l1-5M970 1790l-8-14M977 1771l-11-3M977 1771l9 16M970 1790l4 3M977 1771l8-27M889 1753l-6 9M899 1770l3-8M899 1770l-13 1M886 1771l-3-9M839 1769l2-9M848 1783l7-2M855 1781l4-9M859 1772l-18-12M774 1737l13 1M787 1738l8-4M798 1731l-3 3M758 1731l8-16M841 1795l-4 7M851 1804l-7 10M837 1802l7 12M791 1797l7-11M791 1797l1 4M798 1786l9 9M807 1795l-15 6M836 1902l-13-2M836 1902l-7-15M823 1900l6-13M829 1887l0 0M861 1899l-10-14M836 1902l4 4M857 1905l-17 1M829 1887l22-2M673 1783l-2 24M666 1807l5 0M666 1807l-7 19M682 1784l8 7M685 1811l5-20M685 1811l-2-1M671 1807l12 3M698 1765l2 13M690 1791l3-1M700 1778l-7 12M713 1845l-1-18M713 1845l2 3M715 1848l9-3M724 1845l-5-19M719 1826l-7 1M692 1832l21 13M692 1832l3-7M695 1825l17 2M689 1838l3-6M689 1838l7 8M696 1846l18 3M714 1849l1-1M835 1742l-18 4M809 1735l8 11M798 1731l11 4M899 1770l5 9M886 1771l-2 7M904 1779l-20-1M923 1768l-1 1M923 1768l11 5M922 1769l-3 21M934 1773l5 13M939 1786l-17 10M922 1796l-3-6M921 1763l2 5M904 1779l0 0M904 1779l18-10M948 1765l-14 8M904 1783l0-4M904 1783l15 7M945 1789l7-4M945 1789l-6-3M858 1803l8 1M855 1781l6 3M866 1804l-5-20M975 1810l2 18M980 1831l-3-3M974 1793l-3 4M975 1810l-2-4M973 1806l-2-9M977 1828l-13-9M973 1806l-9 13M945 1789l3 18M971 1797l-21 12M948 1807l2 2M964 1819l-12-3M952 1816l-2-5M950 1809l0 2M983 1862l3 19M973 1896l7-13M973 1896l-8 4M851 1728l22-2M890 1741l-14-7M873 1726l3 8M870 1772l6-9M870 1772l-10-2M860 1770l2-14M876 1763l-14-7M875 1780l8 1M875 1780l-5-8M883 1762l-7 1M884 1778l-1 3M875 1780l-7 3M859 1772l1-2M861 1784l7-1M817 1757l23 1M817 1757l0-11M835 1742l5 4M840 1746l0 12M824 1774l-8-8M817 1757l-2 5M841 1760l0 0M816 1766l-1-4M840 1758l1 2M770 1739l-12-7M770 1739l-3 7M767 1746l-10 1M758 1732l-10 12M748 1744l9 3M758 1731l0 1M774 1737l-4 2M787 1738l-10 25M777 1763l-10-17M748 1744l0 0M756 1772l8-4M764 1768l-7-21M799 1781l2-19M799 1781l-19-6M780 1775l-3-8M798 1761l-21 6M798 1761l3 1M777 1767l0 0M806 1781l-7 0M806 1781l10-15M799 1781l0 0M815 1762l-14 0M778 1785l13 12M778 1785l2-10M798 1786l1-5M795 1734l3 27M777 1763l0 4M764 1768l13-1M778 1785l-4 12M778 1785l-14 5M774 1797l-13 1M764 1790l-3 8M755 1777l9 13M778 1785l0 0M714 1775l2 16M732 1770l-4 16M728 1786l-12 5M747 1790l-1 2M761 1798l-2 2M746 1792l13 8M778 1809l-19-6M778 1809l-4-12M759 1800l0 3M820 1821l-10-15M820 1821l1-1M821 1820l4-14M825 1806l-3-16M810 1806l0-11M810 1795l5-4M822 1790l-7 1M837 1802l-12 4M830 1824l12 1M830 1824l-9-4M844 1814l-2 11M824 1789l-2 1M806 1781l9 10M807 1795l3 0M792 1801l-1 1M810 1806l-15 0M791 1802l4 4M820 1821l-17 11M795 1806l8 26M830 1824l-2 20M842 1825l1 1M843 1826l-6 19M837 1845l-9-1M837 1845l4 7M825 1847l12 8M825 1847l3-3M837 1855l4-3M843 1826l9 3M841 1852l17 2M858 1854l0-10M852 1829l6 15M672 1830l-9 8M672 1830l-2-2M670 1828l-11-2M663 1838l-4-12M687 1839l-15-9M687 1839l-17 18M669 1857l-6-19M689 1838l-2 1M695 1825l-3-8M685 1811l7 6M683 1810l-13 18M659 1826l0 0M795 1876l-4-1M795 1876l10 26M791 1875l4 22M795 1897l6 6M805 1902l-4 1M810 1896l-1 6M810 1896l1-13M809 1902l-4 0M811 1883l-15-7M796 1876l-1 0M783 1900l12-3M783 1900l-1-24M782 1876l9-1M791 1875l0 0M812 1848l-21 26M812 1848l-10-14M791 1874l3-38M802 1834l-8 2M816 1851l-4-3M816 1851l9-4M803 1832l-1 2M763 1853l2-12M763 1853l-6-1M757 1852l-6-2M760 1839l-13 6M760 1839l5 2M751 1850l-4-5M744 1862l7 3M744 1862l13-10M751 1865l17-3M768 1862l-5-9M744 1862l-6-1M738 1861l13-11M757 1836l-16 5M757 1836l3 3M741 1841l6 4M738 1861l-2 0M736 1861l-4-9M739 1840l2 1M739 1840l-8 9M731 1849l1 3M839 1907l-14 16M839 1907l-14-1M825 1906l0 17M823 1900l-2 1M840 1906l-1 1M821 1901l4 5M818 1901l-8 1M818 1901l0 0M818 1901l4 28M810 1902l6 40M817 1892l1 9M817 1892l-7 4M809 1902l1 0M821 1901l-3 0M904 1783l-10 21M883 1781l6 23M894 1804l-5 0M868 1783l11 25M889 1804l-10 4M866 1804l8 6M879 1808l-5 2M852 1829l20-14M858 1844l23-9M881 1835l-9-20M874 1810l-2 5M950 1846l13 3M950 1846l-14 18M936 1864l-3 16M963 1849l6 10M949 1885l-16-5M949 1885l18-19M969 1859l-2 7M947 1840l5-24M947 1840l3 6M980 1831l-17 18M983 1862l-14-3M973 1878l7 5M973 1878l-6-12M896 1894l22-13M896 1894l12 11M908 1905l2-1M910 1904l14-10M924 1894l3-11M927 1883l-6-2M918 1881l3 0M882 1886l3-10M882 1886l14 8M885 1876l33 5M872 1897l10-11M919 1913l-9-9M919 1913l14-2M933 1911l-9-17M958 1895l2 3M958 1895l-7-7M951 1888l-16 27M960 1898l-11 14M949 1912l-1 1M948 1913l-11 7M973 1878l-15 17M965 1900l-5-2M949 1885l2 3M933 1911l2 4M933 1880l-6 3M849 1741l15 7M849 1741l-5 3M844 1744l14 12M864 1748l-2 8M862 1756l-4 0M851 1728l-2 13M876 1734l-12 14M840 1746l4-2M841 1760l17-4M862 1756l0 0M733 1789l-1 10M733 1789l12 4M732 1799l8 8M745 1793l-5 14M728 1786l5 3M746 1792l-1 1M696 1813l11-17M696 1813l25-6M721 1807l-5-16M707 1796l8-5M715 1791l1 0M692 1817l4-4M693 1790l14 6M729 1819l-7-11M729 1819l-10 7M722 1808l-1-1M716 1791l0 0M722 1808l10-9M700 1778l15 13M757 1836l-1-2M739 1840l0-4M756 1834l-4-5M739 1836l13-7M731 1849l-7-4M729 1819l2 0M739 1836l-8-17M779 1810l-10 9M779 1810l0 0M779 1810l14 25M768 1823l1-4M768 1823l5 11M773 1834l18 2M791 1836l2-1M778 1809l1 1M791 1802l-12 8M794 1836l-1-1M756 1834l8-10M764 1824l4-1M765 1841l8-7M768 1862l2 2M770 1864l21-28M782 1876l-6-1M791 1875l0-1M776 1875l-6-11M701 1885l3 1M701 1885l-7-15M704 1886l11-10M694 1870l10-10M715 1876l2-8M717 1868l-4-7M704 1860l6 0M710 1860l3 1M674 1863l20 7M684 1889l13-2M697 1887l4-2M696 1846l8 14M736 1861l-2 5M732 1852l-19 9M734 1866l-17 2M714 1849l-4 11M676 1902l8-2M697 1887l-6 11M684 1900l7-2M676 1902l12 19M762 1909l-2-11M776 1875l-9 7M760 1898l7-16M751 1865l-3 13M767 1882l-19-4M734 1866l1 7M715 1876l10 4M725 1880l10-7M748 1878l-2 1M746 1879l-6 0M735 1873l5 6M817 1892l1-9M829 1887l-5-5M818 1883l6-1M811 1883l0 0M818 1883l-7 0M948 1807l-27 1M937 1819l13-8M937 1819l-14-2M923 1817l-2-9M922 1796l-4 10M894 1804l4 3M898 1807l20-1M918 1806l3 2M885 1876l0-6M921 1881l-14-23M907 1858l-22 12M851 1885l-1-12M850 1873l9-16M859 1857l20 5M879 1862l6 8M859 1857l-1-3M881 1835l6 5M879 1862l8-22M898 1807l2 19M900 1826l-8 13M887 1840l5-1M740 1809l17-1M740 1809l-5 8M735 1817l17 5M757 1809l0-1M757 1809l-5 12M752 1821l0 1M759 1803l-2 5M740 1807l0 2M731 1819l4-2M752 1829l0-7M769 1819l-12-10M764 1824l-12-3M692 1904l1-1M692 1904l0 5M692 1909l9-8M693 1903l8-2M684 1900l8 4M691 1898l2 5M704 1886l7 11M711 1897l-10 4M762 1909l-22-4M740 1912l0-7M754 1896l-6-9M754 1896l-15 0M748 1887l-9 5M739 1896l0-4M760 1898l-6-2M746 1879l2 8M740 1905l-4-7M736 1898l3-2M740 1879l-1 3M739 1882l0 10M831 1868l-2-4M831 1868l-6 9M825 1877l-9-7M829 1864l-11-7M816 1870l-4-5M818 1857l-6 8M837 1855l-8 9M850 1873l-19-5M824 1882l1-5M811 1883l5-13M816 1851l2 6M796 1876l16-11M923 1820l-3 10M923 1820l12 6M920 1830l22 7M935 1826l7 11M937 1819l-2 7M923 1817l0 3M947 1840l0 0M947 1840l-5-3M909 1830l8 3M909 1830l-7 16M917 1833l0 12M917 1845l-2 3M915 1848l-5 3M902 1846l8 5M900 1826l9 4M920 1830l-3 3M892 1839l10 7M947 1840l-30 5M936 1864l-21-16M907 1858l3-7M715 1902l2 2M715 1902l10-21M717 1904l11-5M725 1881l1 1M726 1882l3 8M728 1899l1-9M711 1897l4 5M725 1880l0 1M736 1898l-8 1M739 1882l-7 4M732 1886l-6-4M732 1886l-3 4" stroke="#C02028" stroke-width="1.4" stroke-opacity="0.75" fill="none"/><path transform="scale(.5)" d="M679 1738h0m116-4h0m68 4h0m-173 6h0m12-4h0m12 11h0m39-1h0m95-1h0m7-8h0m16 5h0m19 1h0m65 2h0m-272 8h0m11-4h0m25 1h0m68 0h0m3-1h0m26 5h0m4-3h0m63 4h0m28-7h0m18 8h0m27-1h0m-285 16h0m41-6h0m1-4h0m1-1h0m3 2h0m5 3h0m0-4h0m2 5h0m33 3h0m38-1h0m39 2h0m5-10h0m4 3h0m2-3h0m8 8h0m3 0h0m4-8h0m2 1h0m27 6h0m12 2h0m28-5h0m4 0h0m13-4h0m20 8h0m-275 14h0m1-2h0m16 1h0m18 1h0m9-6h0m10 6h0m12-2h0m51-2h0m3-4h0m8 4h0m10-5h0m3 6h0m21 1h0m47-8h0m55 2h0m-225 17h0m7-1h0m25 0h0m2-5h0m7 4h0m0-3h0m36 7h0m56-3h0m4-2h0m58 6h0m36 0h0m-280 6h0m16 7h0m29-2h0m2-9h0m7 7h0m6-6h0m3 2h0m3 4h0m5 3h0m13-9h0m8 6h0m70-4h0m-123 10h0m8 5h0m28 4h0m38-5h0m36 0h0m23 6h0m36-8h0m64 5h0m-261 14h0m21 1h0m30-1h0m15-7h0m12 6h0m67 0h0m46-1h0m22-1h0m-234 13h0m12-6h0m2-2h0m63 5h0m40 2h0m94-6h0m45 0h0m-202 17h0m11 2h0m146-7h0m24 10h0m19-5h0m-194 8h0m9 8h0m110-8h0m0 6h0m8-1h0m5 2h0m16-3h0m20-5h0m10 2h0m11 6h0m11-3h0m2 2h0m17-5h0m16-1h0m-282 11h0m133 7h0m19-1h0m49 0h0m35 3h0m21-8h0m22 3h0m-295 8h0m220 7h0m-26 4h0m24 3h0" stroke="#3C46C4" stroke-width="5.75" stroke-linecap="round" fill="none"/><path transform="scale(.5)" d="M684 1735h0m25 1h0m72-1h0m29 4h0m29-6h0m1 2h0m20-1h0m16 2h0m58 3h0m2-6h0m39 1h0m-297 15h0m6 1h0m0-1h0m7-2h0m6 0h0m4 2h0m15-4h0m39 0h0m18-2h0m22 3h0m36-3h0m9 7h0m12-3h0m47-2h0m32-3h0m21 0h0m-267 17h0m9 4h0m1-10h0m3 1h0m1 8h0m1-8h0m11 6h0m2-2h0m1-2h0m10-3h0m15 1h0m17 6h0m68-3h0m4 3h0m57-4h0m14 1h0m12-3h0m2 9h0m1-10h0m7 6h0m0 3h0m3 1h0m8-9h0m12 5h0m4-3h0m1 7h0m1-7h0m0 3h0m9-5h0m3 0h0m-293 13h0m2 8h0m0-3h0m5-5h0m3-1h0m0-2h0m19 10h0m18-10h0m11 7h0m41 4h0m57-3h0m2 0h0m1 1h0m4-8h0m6 10h0m5-11h0m0 1h0m3 6h0m0 4h0m0-8h0m5 4h0m20-7h0m27 3h0m8 2h0m21 0h0m9-5h0m0 3h0m0 5h0m12-8h0m0 2h0m5 0h0m0 8h0m-254 8h0m11-5h0m7-1h0m1 0h0m37 10h0m7-7h0m6 6h0m19-4h0m10 1h0m10-1h0m5-5h0m1 11h0m10-10h0m5 7h0m5-8h0m18 1h0m11 9h0m1-1h0m4-9h0m4 6h0m1 3h0m2 0h0m7 2h0m1-1h0m16 1h0m19-4h0m2-6h0m0 10h0m12-6h0m-262 10h0m45-3h0m5 6h0m14 2h0m7-2h0m2-3h0m8 7h0m2-3h0m4-2h0m1-1h0m7-2h0m2 1h0m17 7h0m16-4h0m0 0h0m5-6h0m3 2h0m7 8h0m13-10h0m2 7h0m2-7h0m1 11h0m0-8h0m5 1h0m24-1h0m52 4h0m-241 13h0m9 2h0m51-9h0m11 2h0m0 4h0m5-7h0m3 11h0m1-3h0m10-8h0m0 4h0m7-4h0m1 9h0m22 2h0m8-11h0m29 2h0m6 1h0m2-3h0m2 9h0m5 1h0m2-5h0m33 3h0m33-4h0m3 2h0m8 2h0m12-7h0m-238 16h0m8 3h0m34-2h0m13 4h0m1-4h0m2-6h0m65 9h0m34 0h0m12-9h0m83 4h0m-265 17h0m24-8h0m13 2h0m2 4h0m1 2h0m21-5h0m1-4h0m62 7h0m23 4h0m36-2h0m10-9h0m46 6h0m9-2h0m3-2h0m36 9h0m-272 3h0m20 8h0m19 1h0m12 0h0m4 0h0m40-5h0m15-2h0m48 5h0m8-7h0m12 8h0m12 0h0m12-3h0m5-4h0m5 3h0m3 0h0m42 5h0m-250 3h0m44 3h0m28 2h0m14 1h0m81-7h0m5 6h0m3-6h0m11 1h0m1-1h0m9 10h0m11-10h0m-161 16h0m18 2h0m8 2h0m21 2h0m57-4h0m4-7h0m3 3h0m6 8h0m16-9h0m12 3h0m7 4h0m2-8h0m1 1h0m2 7h0m15 2h0m17-3h0m0 3h0m-237 4h0m5 2h0m69 4h0m30-8h0m1 0h0m40 8h0m32-5h0m21 3h0m1-4h0m8 1h0m4 0h0m1 2h0m10-3h0m5 6h0m23-2h0m-243 7h0m4-1h0m51 2h0m17 5h0m16-5h0m57 0h0m49 3h0m22 1h0m37-7h0m-294 16h0m3-4h0m11 1h0m29 1h0m54 4h0m7-4h0m2 3h0m41-5h0m58 8h0m0-2h0m3-3h0m32 3h0m15 0h0m15 1h0m11-5h0" stroke="#3C46C4" stroke-width="4.6" stroke-linecap="round" fill="none"/><path transform="scale(.5)" d="M795 1734h0m68 4h0m-173 6h0m158 5h0m107 0h0m-272 8h0m11-4h0m189 6h0m28-7h0m18 8h0m-215 4h0m3 2h0m5 3h0m0-4h0m73 7h0m48-5h0m10 5h0m9-7h0m39 8h0m32-5h0m13-4h0m20 8h0m-275 14h0m1-2h0m34 2h0m31-2h0m51-2h0m11 0h0m10-5h0m3 6h0m21 1h0m47-8h0m-138 18h0m9-1h0m92 1h0m62 4h0m-228 13h0m31-11h0m13 1h0m3 2h0m21-2h0m29 16h0m95-2h0m-197 19h0m21 1h0m124-2h0m46-1h0m22-1h0m-234 13h0m117-1h0m94-6h0m-157 17h0m11 2h0m170 3h0m19-5h0m-194 8h0m9 8h0m110-8h0m8 5h0m5 2h0m70-1h0m33-6h0m-282 11h0m133 7h0m19-1h0m49 0h0m78-2h0m-295 8h0m218 14h0" stroke="#5C64DC" stroke-width="2.3" stroke-linecap="round" fill="none"/><path d="M374.7 911.7L375.3 913.6L374 915L372.3 915.7L370.6 915.1L369.1 913.9L369.6 912.1L370.9 910.6L373.1 910.4ZM422.5 880.6L424.1 881.6L424.7 883.4L423.5 884.7L421.9 885.8L420 885.2L419.2 883.7L419.2 882L420.4 880.5ZM366.6 880L367.5 876.8L369.5 874L373.2 874.1L376.2 875.8L377.7 879L375.8 882L372.5 883.5L369.1 882.4ZM465.9 884.4L470 883.5L473.7 885.2L476.6 888.6L473.9 892.2L470.8 895.3L466.5 893.6L463 891.3L463.5 887.4ZM438.1 890.2L436.2 888.8L435.1 886.7L436.3 884.2L439.1 883.7L441.8 884.2L442.8 886.5L442.9 888.9L440.8 890.7ZM480.5 918.4L478.7 917.5L477.7 915.8L478.6 913.9L480.6 913.3L483 913.1L484.5 914.8L484.4 917.1L482.8 918.8ZM384.8 890.3L388.7 886.6L394.9 886.1L399.4 889.9L398.8 895L397 899.5L391.8 902L387.1 898.9L384.2 895.1ZM354.1 912.2L354 914.5L352.5 916.2L350.2 917.1L347.8 916L347.3 913.8L347.6 911.7L349.7 910.7L352.3 910.3ZM411.6 940.1L414.3 940.1L416.8 941L417.5 943.4L416.4 945.5L414.3 947L411.7 946.2L409.9 944.5L410.2 942.1ZM401.3 913.8L406 914.1L409.5 917.5L408.3 921.8L405.5 925.3L400.7 925.7L396 923.9L394.9 919.4L397.5 915.8ZM331.9 938L331.2 935.1L333.5 933.1L336.3 932.8L339.6 933L341.1 935.8L339.9 938.7L337.2 940.3L334.3 939.4ZM348.7 906L348.2 904.2L349.1 902.2L351.4 901.9L353.2 903L354.5 904.5L354.1 906.5L352.2 907.8L350 907.4ZM401.8 865.7L404.4 870.6L402.1 875.4L398.1 878.9L392.8 877.4L387.9 874.9L388.1 869.8L391.4 866.3L396.2 864ZM437.6 874.3L435.6 873.6L433.6 872.4L433.8 870.1L435.6 868.7L437.9 868.2L439.9 869.4L440.5 871.5L439.3 873.1ZM454.8 907.4L453.9 910.5L450.5 912L446.9 910.8L445.7 907.8L445.8 904.8L448.5 903.1L452 901.8L454.5 904.4ZM450.3 944.8L448.5 947.2L445.7 947.8L442.9 947.4L441.6 945.1L441.9 942.6L443.9 940.9L446.8 940.4L449.4 942ZM356.2 921.8L361.2 920.3L365 923.4L368.3 927L366.2 931.5L362 934.2L357 933.1L353.1 930.1L353.7 925.6ZM431.5 949.4L427.7 951.4L424.1 949.5L420.6 947.3L421 943.3L423.9 940.3L428.3 940.2L432.1 942.1L433.1 945.9ZM413.5 875.4L411.3 876.5L408.9 876.7L407.1 875.1L406.9 873L408.3 871.4L410.3 870.4L412.7 871L413.8 873.1ZM378.6 882.6L378.6 880.8L380 879.5L382 878.5L383.7 879.9L384.3 881.5L383.7 883.2L382.2 884.7L380 884ZM481.3 896.1L480.9 894.4L480.9 892.7L482.4 891.6L484.5 891.6L485.7 893L485.6 894.6L484.8 895.9L483.2 896.7ZM374.8 896.8L377.6 898.6L378.6 901.5L377.9 904.8L374.3 905.8L370.9 905.2L368.4 902.8L368.7 899.4L371.3 897ZM457.2 934.9L456.5 931.9L457.3 929.4L459.6 927.8L462.9 927L465.3 929.3L465.1 932.3L463.5 934.6L460.6 935.5ZM478 942.7L475.6 943.7L473.4 942.4L471.6 940.6L472.5 938.1L474.8 937.1L477.4 936.7L479.4 938.5L480 941ZM430.3 868.3L431.7 869.6L432.5 871.2L431.6 872.9L429.7 873.6L427.9 873L426.8 871.6L427.4 870.1L428.3 868.6ZM433.4 928.3L433.4 924.8L436.7 922.1L440.5 923.6L443.5 925.6L444.4 929.1L441.6 931.5L438.2 933.2L434.2 931.9ZM460.9 895.7L462.1 897.3L463 899.1L461.6 900.5L459.7 901.4L458 900.4L456.3 899.1L457.2 897.2L458.6 895.7ZM436.5 909.9L438.3 912.7L437.6 916.2L434.3 918.2L430.6 917.3L427.9 915L427.5 911.7L430 909.3L433.4 909ZM342.4 874.4L345.2 875.3L347.8 877.6L346.7 880.8L344 882.8L340.6 882.4L337.6 880.7L337.9 877.6L338.9 874.6ZM368.6 948.9L366.8 947.2L366 945L366.8 942.5L369.6 942.2L372.6 942.1L373.5 944.7L373.7 947.3L371.3 948.6ZM355.4 894.6L356.7 895.6L357.7 896.9L356.8 898.3L355.4 899L353.6 899.1L352.8 897.7L352.6 896.2L353.6 894.8ZM391.3 946.2L389.3 945.5L389 943.6L389.5 941.7L391.5 941.2L393.5 941.3L394.8 942.8L394.9 944.7L393.4 946.3ZM386 924.1L384.2 926.9L381 928.5L377.5 927.5L375.5 924.8L376.5 921.9L378.7 920.2L382 918.9L384 921.4ZM456.8 942.6L455.1 942.5L453.8 941.8L453.2 940.4L453.9 939.2L455.2 938.1L456.8 938.8L457.7 939.9L457.9 941.4ZM460.2 914.5L462.1 914.2L463.7 915.3L464.1 917.2L463 918.8L461 918.9L459.2 918.6L458.5 917L458.4 915.3ZM446.2 864.8L448.6 864.5L450.4 865.9L451.1 867.8L450.7 869.9L448.5 871L446.2 870.3L444.7 868.7L444.5 866.5ZM342.4 949.9L339.3 948.3L337.1 945.6L338.8 942.6L341.5 940.6L344.8 941.5L347.2 943.3L348.3 946.5L345.9 949.2ZM487.7 866.8L486.4 868.5L484.3 868.4L482.7 867.6L481.5 866.1L481.9 864.1L483.9 863.1L486 863.5L487.5 864.9ZM458.1 875.2L454.3 871.3L455.8 866.4L458.8 861.6L464.8 862.4L470.1 864.7L472 870.1L468.8 874.9L463.4 877.4ZM438.6 903.5L438.1 905.2L436.5 906.1L434.8 905.8L433.5 904.7L433.2 903.1L434.4 901.9L436 901.5L437.5 902.2ZM361.6 874.4L360 873L360.1 871L361.6 869.7L363.7 869L365.4 870.3L365.9 872L365.4 873.7L363.7 875.2ZM416.9 930.9L416.4 932.4L415.7 933.7L414 934.1L412.6 933.1L411.9 931.8L412.5 930.3L414 929.8L415.4 930.1ZM414.5 907.4L417.4 906.5L419.6 908.5L420 911.1L418.4 913.2L415.9 914.1L413.1 913.7L411.8 911.3L412.5 908.9ZM449.3 895.2L449.2 897L448.3 898.5L446.6 899.4L444.6 898.7L443.9 897L443.5 895.1L445.6 894.3L447.7 893.7ZM345.1 867.2L344.5 868.7L343.1 869.4L341.3 869.8L340 868.5L339.9 866.8L341.1 865.7L342.6 865.3L344.6 865.5ZM400.8 948.3L400.9 950.3L399.2 951.8L396.9 951.6L395.1 950.5L394.4 948.5L395.7 946.9L397.6 946.1L399.6 946.7ZM363.2 888.7L358.7 889.7L354.3 889.6L352.2 886.1L351.5 882.1L355 879.6L359.3 878.5L363.6 880.5L363.7 884.6ZM476.7 930.8L473.4 928.6L473.3 924.8L475.9 921.8L480 921.8L483.6 923L485.7 926.4L483.8 929.8L480.5 932.1ZM485.2 944.7L484 943.4L484.4 941.8L485.6 940.7L487.3 940.3L488.7 941.4L489.2 942.9L488.2 944.1L486.9 944.8ZM375.3 939.2L377 938.6L378.7 939.1L379.7 940.5L379.5 942.1L378 943.1L376.3 943L374.7 942.3L374.4 940.6Z" fill="#040002" stroke="#B82226" stroke-width="0.6" stroke-linejoin="round" filter="url(#sb2)"/></g>
<clipPath id="gc4"><rect x="492.2" y="865.9" width="154.6" height="86.3"/></clipPath><g clip-path="url(#gc4)"><rect x="492.2" y="865.9" width="154.6" height="86.3" fill="#0C0208"/><path filter="url(#sb)" transform="scale(.5)" d="M992 1907l-3-8M1134 1906l-14 0M1134 1906l5-4M1120 1906l13-17M1133 1889l6 13M989 1899l5-26M1102 1913l-1-1M1302 1810l-4 16M1302 1810l23-1M1298 1826l27-17M1171 1903l3 0M1171 1903l-15 4M1173 1906l1-3M1154 1909l2-2M1158 1891l13 12M1158 1891l-2 16M1187 1912l0-13M1210 1911l-23-12M1302 1810l-5-1M1298 1826l-1 1M1297 1827l-5-2M1297 1809l-5 16M1139 1914l-7 0M1150 1909l-5-5M1150 1909l-6 7M1134 1906l5 8M1139 1902l6 2M1150 1909l4 0M1120 1906l0 1M1120 1907l12 7M1102 1913l18-6M1174 1764l-11-2M1174 1764l7-5M1181 1759l6-7M1186 1750l-18-13M1186 1750l1 2M1162 1738l6-1M1162 1738l-6 13M1163 1762l-8-5M1156 1751l-1 6M1175 1837l-2 3M1175 1837l-13-10M1156 1830l17 10M1156 1830l0-2M1156 1828l6-1M979 1798l11-13M983 1781l7 4M1017 1914l19-11M1017 1914l4 24M1036 1903l1 1M1012 1906l-20 1M1012 1906l5 8M1039 1904l-2 0M1297 1841l12 6M1297 1841l-1-2M1296 1839l2-10M1301 1831l-3-2M1298 1829l0 0M1290 1863l-3-8M1287 1855l10-14M1287 1855l-8-14M1279 1841l17-2M1279 1841l-1 0M1278 1841l10-16M1297 1827l1 2M1292 1825l-4 0M1232 1848l-13 2M1232 1848l0-12M1219 1850l-1-11M1232 1836l-14 3M1290 1888l5 14M1290 1888l-14-6M1276 1882l-5 24M1295 1902l-24 4M1295 1902l0 0M1298 1888l-8 0M1290 1863l-15 14M1272 1840l6 1M1272 1840l-7 3M1265 1843l-2 2M1263 1845l4 26M1275 1877l-8-6M1276 1882l-1-4M1275 1877l0 1M1157 1885l1 6M1157 1885l1 0M1174 1903l8-6M1158 1885l24 12M1187 1899l-2-3M1182 1897l3-1M1175 1837l3-3M1173 1840l-3 13M1175 1855l-5-2M1175 1855l15-3M1190 1852l0 0M1178 1834l10 5M1190 1852l-2-13M1209 1863l-1 0M1209 1863l15 10M1224 1873l-6 13M1218 1886l0 0M1218 1886l-3-7M1208 1863l7 16M1212 1835l3 0M1212 1835l-6 0M1217 1856l2-6M1217 1856l-8 7M1198 1857l8-22M1198 1857l5 6M1215 1835l3 4M1208 1863l-5 0M1218 1886l-4 7M1214 1893l-15-6M1199 1887l10-6M1209 1881l6-2M1296 1769l-11-5M1296 1769l20-27M1285 1764l-1-10M1284 1754l11-12M1295 1742l6-1M1303 1781l-7-12M1280 1732l15 10M1303 1781l-15-4M1285 1764l-4 5M1281 1769l7 8M1280 1732l-10-3M1266 1736l4-7M1266 1736l-2 9M1284 1754l-15-2M1264 1745l0 0M1269 1752l-5-7M1185 1726l9 5M1195 1739l-1-8M1195 1739l10-1M1205 1738l8-8M1172 1723l-4 14M1172 1723l13 3M1195 1739l-9 11M1148 1729l-4 3M1130 1740l0 1M1130 1741l14-9M1148 1729l14 9M1156 1751l-10-5M1146 1746l-2-14M1155 1757l-9 6M1146 1763l-11-8M1146 1746l-14 2M1135 1755l-3-7M1130 1741l-1 2M1129 1743l3 5M1136 1802l-2-20M1136 1802l15 2M1151 1804l0 0M1151 1804l3-10M1134 1782l5-2M1154 1794l-15-14M1060 1906l1 9M1060 1906l26-6M1101 1912l-1-2M1086 1900l14 10M1133 1889l2-6M1145 1904l2-21M1135 1883l12 0M1157 1885l-7-3M1150 1882l-3 1M983 1781l0-11M1015 1899l-1-19M1015 1899l18 2M1033 1901l-6-16M1014 1880l12 3M1027 1885l-1-2M1012 1906l3-7M999 1870l-5 3M999 1870l4 0M1003 1870l11 10M1036 1903l-3-2M1039 1904l9-5M1027 1885l18 8M1045 1893l3 6M1026 1883l17-9M1045 1893l-2-19M1060 1906l-5-7M1048 1899l7 0M979 1798l20 0M990 1785l3-2M999 1798l-6-15M1003 1815l7-4M1003 1815l-42-7M1010 1811l-3-8M999 1798l8 5M983 1770l7-3M990 1767l8 10M993 1783l5-6M1001 1818l-1 8M1001 1818l-27 16M1000 1826l-13 15M1003 1815l-2 3M1006 1837l-6-11M1006 1837l-15 8M991 1845l-4-4M999 1870l-8-25M1047 1854l4-13M1047 1854l-6-1M1041 1853l10-12M1052 1840l-1 0M1052 1840l11 16M1051 1840l0 1M1063 1856l-11 7M1052 1863l-5-9M1049 1805l-2 3M1049 1805l5-2M1047 1808l11 17M1054 1803l15 8M1060 1825l-2 1M1060 1825l10-13M1070 1812l-1-1M1058 1826l0-1M1037 1792l-10 0M1037 1792l0 9M1027 1792l-5 12M1022 1804l15-3M1045 1784l-8 8M1045 1784l4 21M1047 1808l-5 0M1037 1801l5 7M1022 1804l-8 8M1014 1812l3 3M1042 1808l-12 9M1017 1815l13 2M1238 1850l8-8M1238 1850l-1-13M1246 1842l-4-7M1237 1837l5-2M1238 1850l0 0M1238 1850l-6-2M1232 1836l0 0M1232 1836l5 1M1254 1827l-10 4M1254 1827l11 16M1254 1847l-8-5M1254 1847l9-2M1244 1831l-2 4M1238 1850l1 3M1254 1847l-3 3M1239 1853l10-1M1251 1850l-2 2M1267 1871l-9-1M1251 1850l7 20M1271 1906l-2 4M1269 1910l-2 35M1217 1903l-7 8M1217 1903l9 1M1269 1910l-16-12M1253 1898l-9 8M1169 1873l14-1M1169 1873l-2 5M1167 1878l22 9M1183 1872l9 6M1192 1878l0 1M1192 1879l-1 5M1191 1884l-2 3M1175 1855l8 17M1165 1855l5-2M1165 1855l4 18M1158 1885l9-7M1185 1896l4-9M1198 1857l-8-5M1203 1863l-11 15M1209 1881l-17-2M1199 1887l-8-3M1217 1903l-3-10M1190 1852l11-16M1188 1839l2-2M1190 1837l11-1M1206 1835l-1 0M1205 1835l-4 1M1226 1904l8-5M1244 1906l-8-7M1234 1899l2 0M1254 1827l1-5M1244 1831l-4-7M1255 1822l-1-4M1254 1818l-6-2M1240 1824l8-8M1230 1820l2 0M1230 1820l-7-3M1222 1815l1 2M1222 1815l19-10M1232 1820l10-9M1241 1805l1 6M1232 1836l-2-16M1240 1824l-8-4M1215 1835l8-18M1248 1816l-6-5M1271 1832l8-17M1271 1832l-4-9M1267 1823l10-13M1279 1815l-2-5M1272 1840l-1-8M1288 1825l-9-10M1255 1822l12 1M1297 1809l-5-4M1277 1810l0 0M1277 1810l15-5M1295 1791l-3 14M1212 1835l-8-20M1218 1810l-9 0M1218 1810l4 5M1204 1815l5-5M1240 1742l6-5M1240 1742l-9 0M1231 1741l0 1M1246 1737l2-3M1248 1734l6-42M1264 1745l-18-8M1249 1753l15-8M1249 1753l-9-11M1213 1730l18 11M1266 1736l-18-2M1270 1729l-16-37M1218 1810l6-9M1217 1789l-4 2M1217 1789l2 1M1213 1791l-7 15M1209 1810l-3-4M1224 1801l-5-11M1241 1805l0-7M1224 1801l17-3M1281 1769l-1 1M1269 1752l-5 11M1280 1770l-16-7M1205 1738l8 8M1229 1744l-5 5M1229 1744l2-2M1224 1749l-11-3M1187 1752l13 9M1213 1746l-13 15M1116 1796l-7 13M1116 1796l13 14M1109 1809l20 1M1129 1810l0 0M1150 1822l1-18M1150 1822l-18 2M1136 1802l-7 8M1132 1824l-2-2M1130 1822l-1-12M1052 1840l6-14M1072 1857l-9-1M1072 1857l8-13M1060 1825l20 12M1080 1837l0 7M1134 1782l-3-1M1114 1789l14-7M1114 1789l2 7M1131 1781l-3 1M1099 1786l15 3M1099 1786l11-17M1128 1782l-18-13M1165 1783l-2-6M1165 1783l-6 5M1159 1788l-6-10M1153 1778l6-2M1159 1776l4 1M1173 1772l-10 5M1173 1772l3 9M1176 1781l-8 3M1168 1784l-3-1M1159 1790l0-2M1159 1790l8 4M1168 1784l-1 10M1159 1790l-5 4M1144 1775l-5 5M1144 1775l9 3M1163 1762l-4 14M1146 1763l-2 12M1174 1764l-1 8M1100 1910l4-12M1128 1877l7 6M1128 1877l-19 11M1109 1888l-5 10M1158 1859l-16 4M1158 1859l-7 17M1151 1876l-9-13M1161 1855l-3 4M1161 1855l4 0M1150 1882l1-6M1128 1877l0 0M1128 1877l5-15M1135 1861l-2 1M1135 1861l7 2M982 1729l2 11M982 1729l8-29M984 1740l7 1M991 1741l14-8M1005 1733l-15-33M984 1740l-1 1M983 1741l-31 14M990 1762l12-9M990 1762l-5-5M985 1748l0 9M985 1748l12 1M997 1749l5 4M990 1767l0-5M983 1741l2 7M991 1741l6 8M1006 1752l-4 1M1006 1752l-1-19M1005 1733l0 0M1130 1740l-19-25M1129 1743l-19 5M1110 1748l-2-6M1108 1742l3-27M1008 1776l-1 1M1008 1776l16-3M1007 1777l4 11M1011 1788l13-1M1024 1773l0 14M998 1777l9 0M1006 1752l0 1M1006 1753l3 3M1009 1756l-1 20M1007 1803l4-15M1010 1811l4 1M1027 1792l-2-4M1025 1788l-1-1M1047 1869l19 8M1047 1869l-2 2M1045 1871l-1 1M1044 1872l15 16M1059 1888l6-6M1065 1882l1-5M1029 1855l12-2M1029 1855l16 16M1052 1863l-5 6M1003 1870l15-14M1018 1856l11-1M1029 1855l0 0M1043 1874l1-2M1055 1899l0-1M1055 1898l4-10M1039 1825l-4-1M1039 1825l0 15M1035 1824l-5 11M1030 1835l6 6M1036 1841l3-1M1058 1825l-19 0M1030 1817l5 7M1051 1840l-12 0M1029 1855l7-14M1027 1834l-10-12M1027 1834l-11 11M1017 1822l-4 16M1016 1845l-3-7M1017 1815l0 7M1030 1835l-3-1M1018 1856l-2-11M1006 1837l7 1M1249 1852l-1 13M1258 1870l-6 0M1248 1865l4 5M1239 1853l-5 9M1248 1865l-14-3M1217 1856l16 6M1233 1862l1 0M1224 1873l8 1M1233 1862l-1 12M1275 1878l-22 10M1253 1898l-2-3M1253 1888l-2 7M1236 1899l9-4M1251 1895l-6 0M1205 1835l-11-12M1204 1815l-5 3M1199 1818l-5 5M1190 1837l4-14M1194 1823l0 0M1181 1759l8 22M1176 1781l4 3M1180 1784l9-3M1235 1778l2 4M1235 1778l-16 12M1241 1798l0 0M1241 1798l-4-16M1249 1753l0 2M1229 1744l9 16M1238 1760l11-5M1264 1763l-2 1M1262 1764l-11-5M1249 1755l2 4M1262 1764l0 1M1245 1772l6-13M1245 1772l12 4M1257 1776l5-11M1280 1770l-6 9M1262 1765l12 14M1215 1774l-13-8M1215 1774l6-3M1202 1766l-1-4M1201 1762l14-3M1215 1759l6 12M1116 1869l12 8M1116 1869l2-19M1133 1862l-10-10M1123 1852l-5-2M1128 1763l-18-5M1128 1763l0 11M1128 1774l-17-15M1110 1758l1 1M1135 1755l-7 8M1108 1753l2-5M1108 1753l2 5M1131 1781l-3-7M1110 1769l1-10M1113 1868l-5 4M1113 1868l3 1M1109 1888l-3-10M1108 1872l-2 6M1086 1900l-2-4M1055 1898l20-6M1084 1896l-9-4M1065 1882l8 7M1075 1892l-2-3M1243 1884l3-2M1243 1884l-9-1M1233 1875l17-3M1233 1875l0 7M1250 1872l-4 10M1233 1882l1 1M1253 1888l-7-6M1245 1895l-2-11M1234 1899l0-16M1252 1870l-2 2M1232 1874l1 1M1218 1886l15-4M1198 1800l-5 0M1198 1800l5-10M1193 1800l-3-19M1203 1790l-1-3M1202 1787l-4-7M1190 1781l7-2M1197 1779l1 1M1213 1791l-10-1M1206 1806l-8-6M1217 1789l-3-7M1214 1782l-12 5M1214 1782l0 0M1214 1782l-16-2M1202 1766l-5 13M1200 1761l1 1M1189 1781l1 0M1215 1774l-1 8M1265 1790l9-7M1265 1790l-1 7M1264 1797l2 3M1274 1783l11 2M1266 1800l5 3M1271 1803l21-13M1285 1785l7 5M1257 1776l4 9M1261 1785l4 5M1274 1779l0 4M1241 1798l23-1M1237 1782l24 3M1254 1818l12-18M1288 1777l-3 8M1277 1810l-6-7M1295 1791l-3-1M1224 1753l-1 0M1224 1753l11 13M1223 1753l1 18M1224 1771l11 6M1235 1766l1 9M1235 1777l1-2M1224 1749l0 4M1215 1759l8-6M1238 1760l-3 6M1221 1771l3 0M1235 1778l0-1M1245 1772l-9 3M1134 1833l1 12M1134 1833l18 9M1135 1845l8 6M1143 1851l10-4M1152 1842l1 5M1133 1832l-16 16M1133 1832l1 1M1123 1852l12-7M1118 1850l-1-2M1150 1822l5 4M1156 1830l-4 12M1156 1828l-1-2M1132 1824l1 8M1135 1861l8-10M1161 1855l-8-8M1107 1816l-7 7M1107 1816l1-7M1100 1823l-3-13M1108 1809l-4-3M1104 1806l-7 4M1130 1822l-9 2M1109 1809l-1 0M1121 1824l-14-8M1084 1810l0 0M1084 1810l6 17M1084 1810l13 0M1100 1823l-2 2M1098 1825l-8 2M1084 1810l-14 2M1080 1837l10-9M1090 1827l0 1M1080 1844l6 3M1086 1847l19 0M1090 1828l15 19M1086 1847l5 6M1107 1848l-2-1M1107 1848l-10 6M1097 1854l-6-1M1087 1727l24-38M1087 1727l1 2M1088 1729l10-4M1098 1725l12-17M1083 1726l4 1M1095 1736l3-11M1095 1736l-6 0M1089 1736l-1-7M1108 1742l-13-6M1045 1784l0 0M1025 1788l11-9M1045 1784l-9-5M1054 1803l5-7M1059 1796l-6-9M1053 1787l-7-3M1045 1784l1 0M1024 1773l2-2M1036 1779l-10-8M1016 1758l-7-2M1016 1758l10 12M1026 1770l0 0M1026 1771l0-1M1108 1753l-1 0M1089 1736l-7 6M1107 1753l-22-3M1082 1742l3 8M1187 1821l0-17M1187 1821l-1 0M1186 1821l-11-20M1187 1804l0-2M1187 1802l-11-2M1176 1800l-1 1M1199 1818l-12-14M1194 1823l-7-2M1193 1800l-6 2M1180 1784l-4 16M1167 1794l7 7M1174 1801l1 0M1178 1826l2-2M1178 1826l-7-1M1180 1824l-9-19M1171 1825l-6-12M1165 1813l3-6M1168 1807l3-2M1178 1834l0-8M1186 1821l-6 3M1162 1827l9-2M1174 1801l-3 4M1155 1826l10-13M1151 1804l17 3M1113 1832l-13-6M1113 1832l0 15M1100 1826l10 22M1113 1847l-3 1M1121 1824l-8 8M1098 1825l2 1M1117 1848l-4-1M1109 1848l-2 0M1109 1848l1 0M1105 1860l8 8M1105 1860l4-12M1104 1898l-7-14M1084 1896l-1-17M1097 1884l-4-4M1093 1880l-10-1M1106 1878l-5-2M1097 1884l2-8M1101 1876l-2 0M1093 1880l2-4M1099 1876l-4 0M1069 1811l-1-12M1059 1796l4 0M1068 1799l-5-3M1016 1758l12-6M1006 1753l17-9M1028 1752l-5-8M1026 1770l7-16M1028 1752l5 2M1042 1768l7 6M1042 1768l-1-10M1047 1763l-6-5M1047 1763l5 9M1052 1772l-3 2M1046 1784l3-10M1026 1770l16-2M1040 1753l-7 1M1040 1753l1 5M1047 1763l5-5M1052 1772l11-7M1063 1765l-11-7M1040 1753l3-3M1052 1758l-9-8M1097 1854l-1 6M1091 1853l1 5M1092 1858l4 2M1105 1860l-5 4M1096 1860l4 4M1108 1872l-9-6M1100 1864l-1 2M1101 1876l-2-10M1099 1866l0 0M1084 1810l3-13M1068 1799l10-5M1087 1797l-9-3M1104 1806l-7-16M1087 1797l10-7M1099 1786l0 0M1099 1786l-2 4M1107 1753l-20 20M1099 1786l-12-13M1005 1733l17 1M1025 1728l-3 6M1023 1744l0-4M1022 1734l1 6M1043 1750l1-3M1023 1740l17 1M1044 1747l-4-6M1032 1729l-7-1M1032 1729l7 7M1039 1736l1 5M1093 1869l0 0M1093 1869l-12 7M1093 1869l-6-7M1087 1862l-14-3M1073 1859l1 12M1074 1871l5 3M1079 1874l2 2M1095 1876l-2-7M1099 1866l-6 3M1083 1879l-2-3M1092 1858l-5 4M1072 1857l1 2M1066 1877l8-6M1073 1889l6-15M1074 1787l10-15M1074 1787l-6-1M1065 1782l3 4M1065 1782l0-17M1065 1765l1 0M1066 1765l11 0M1077 1765l7 7M1078 1794l-4-7M1087 1773l-3-1M1063 1796l5-10M1053 1787l12-5M1063 1765l2 0M1085 1750l-8 15M1044 1747l10-5M1066 1765l-2-16M1064 1749l-10-7M1083 1726l-6 1M1082 1742l-6-3M1076 1739l1-12M1032 1729l18-15M1039 1736l12-13M1051 1723l-1-9M1077 1727l-7-9M1065 1732l-9 1M1065 1732l10 7M1073 1741l-18-5M1073 1741l2-2M1055 1736l1-3M1051 1723l5 10M1076 1739l-1 0M1064 1749l9-8M1054 1742l1-6" stroke="#E82A2A" stroke-width="1.6" stroke-opacity="0.95" fill="none"/><path transform="scale(.5)" d="M988 1737h0m145-3h0m46 0h0m-116 12h0m1 1h0m40-2h0m44 6h0m86-6h0m8 2h0m-231 13h0m41-4h0m42 4h0m20 0h0m7 2h0m6-5h0m9-5h0m14 11h0m30-3h0m41 2h0m33-4h0m7 4h0m8-4h0m19 1h0m-253 16h0m60-8h0m35 6h0m4 0h0m7 0h0m3-4h0m26-4h0m41 9h0m21-6h0m18 6h0m17 0h0m-279 6h0m44 1h0m20 5h0m16-1h0m54-8h0m5 1h0m10 7h0m94-1h0m19-1h0m1-5h0m6 9h0m0-9h0m25 6h0m0-5h0m-260 11h0m15 0h0m9 2h0m24-3h0m6 3h0m13-2h0m98 0h0m34 7h0m26-8h0m0 4h0m21-1h0m22 0h0m-275 8h0m1 2h0m10-1h0m14 5h0m6 1h0m26 3h0m4-8h0m83 4h0m10-4h0m19 8h0m2-5h0m61 2h0m-265 15h0m47-10h0m2 1h0m10 4h0m1-5h0m20 8h0m6-7h0m6 0h0m72 10h0m77-1h0m16-1h0m35-4h0m-235 9h0m6 9h0m76 0h0m1-3h0m32 0h0m32-6h0m1 4h0m18 2h0m49-1h0m27-4h0m-295 13h0m64-1h0m66-2h0m38 3h0m45 5h0m25-8h0m2 7h0m11-3h0m-205 13h0m147-4h0m11 4h0m5 0h0m13 0h0m7-1h0m-163 17h0m32 1h0m29-8h0m-102 11h0m7 7h0m84-8h0m74 10h0m21-1h0m77-3h0m-107 12h0m29-6h0m26 0h0m39 2h0m24-1h0m-184 10h0m79 2h0m92 6h0" stroke="#4650D8" stroke-width="5.75" stroke-linecap="round" fill="none"/><path transform="scale(.5)" d="M1046 1739h0m18-1h0m64 1h0m2-2h0m14 2h0m62-5h0m37-1h0m34 5h0m-240 2h0m57 11h0m2-3h0m0-2h0m9 4h0m7-10h0m7 11h0m9-4h0m2-4h0m5 6h0m1-4h0m6 4h0m29-6h0m53 1h0m32 3h0m-261 14h0m30-1h0m2-5h0m5 2h0m55-4h0m18 9h0m12-8h0m4 3h0m0-2h0m2 3h0m2-6h0m11 2h0m21 3h0m5-4h0m8 4h0m84-2h0m2-3h0m11 8h0m7 3h0m6-3h0m13-2h0m-247 15h0m13-9h0m13 8h0m14-7h0m12 3h0m3-4h0m1 1h0m10 4h0m5 1h0m7-1h0m4 3h0m1-1h0m7 0h0m59-7h0m42 5h0m5 6h0m1 0h0m4-4h0m4-4h0m9-1h0m10 0h0m5 2h0m3 6h0m0-1h0m-256 14h0m8-9h0m12 6h0m46-2h0m37 5h0m18-8h0m15-2h0m41 2h0m28 0h0m5 3h0m14 3h0m0 1h0m1-10h0m3 0h0m0 2h0m3 6h0m7 2h0m3-3h0m4 3h0m10-8h0m2 5h0m10-1h0m-277 13h0m1-5h0m5 5h0m2 2h0m9-8h0m3 5h0m2 2h0m6 2h0m6-5h0m4-3h0m5-2h0m0 3h0m6 3h0m45-6h0m12 10h0m96-4h0m15-1h0m8-4h0m7 5h0m2 5h0m11-10h0m-254 11h0m14 6h0m1-1h0m2-2h0m7 6h0m3-3h0m3-2h0m11 6h0m5-4h0m1-6h0m0 2h0m2 6h0m6 0h0m7 1h0m12-6h0m65-3h0m27 5h0m1-2h0m6 6h0m16-6h0m2 8h0m11-2h0m1-4h0m27 6h0m-214 3h0m20 2h0m3-2h0m4-1h0m1 2h0m39-1h0m10 2h0m5 7h0m8-3h0m52 3h0m1-4h0m3 1h0m6 2h0m1-8h0m21 3h0m2 0h0m2 6h0m6-6h0m67-3h0m8 0h0m-274 12h0m45-2h0m33 11h0m14-5h0m11-3h0m36 1h0m25 6h0m16-7h0m6 3h0m1 1h0m3-7h0m6 9h0m5 2h0m7-11h0m7 9h0m0-8h0m7 8h0m36 1h0m8 0h0m3 1h0m-213 1h0m1 3h0m5 0h0m13 3h0m23-6h0m14 2h0m13 3h0m31 2h0m1-3h0m5 0h0m10 5h0m7-2h0m6 4h0m6-6h0m0 5h0m0-7h0m6-3h0m5 7h0m1-1h0m10-1h0m1-4h0m2 7h0m66 3h0m-272 8h0m30-2h0m19 3h0m9-4h0m14 4h0m42 3h0m45-2h0m26-5h0m1 0h0m4 4h0m5-2h0m4-4h0m-199 15h0m56-4h0m53 3h0m9 5h0m17-6h0m23 2h0m13-5h0m6 6h0m6-3h0m20-2h0m15 6h0m18-4h0m-261 10h0m33 6h0m157 0h0m8 0h0m2-5h0m7 5h0m17 3h0m55-2h0m-260 5h0m18 3h0m10 3h0m21-6h0m10 6h0m69 0h0m10-7h0m2 4h0m11 3h0m13 3h0m50-5h0m31-4h0m-229 17h0m26-1h0m43-3h0m94-2h0m7 5h0m3-2h0m10 1h0m4 3h0m13-3h0" stroke="#4650D8" stroke-width="4.6" stroke-linecap="round" fill="none"/><path transform="scale(.5)" d="M1179 1734h0m-115 13h0m84 4h0m-137 9h0m125-8h0m14 11h0m111-1h0m8-4h0m-234 17h0m99-2h0m7 0h0m3-4h0m26-4h0m41 9h0m39 0h0m17 0h0m-279 6h0m134-3h0m15 8h0m94-1h0m51 0h0m0-5h0m-245 11h0m33-1h0m6 3h0m111-2h0m34 7h0m26-8h0m0 4h0m21-1h0m22 0h0m-275 8h0m1 2h0m24 4h0m6 1h0m30-5h0m83 4h0m31-1h0m-204 17h0m47-10h0m12 5h0m1-5h0m26 1h0m171 8h0m35-4h0m-120 15h0m33-2h0m67 1h0m27-4h0m-165 10h0m38 3h0m45 5h0m25-8h0m2 7h0m11-3h0m-205 13h0m-14 27h0m84-8h0m74 10h0m98-4h0m-13 8h0m-160 9h0m171 8h0" stroke="#7078F0" stroke-width="2.3" stroke-linecap="round" fill="none"/><path d="M542.8 919.8L542.8 922.2L540.6 923.3L538.1 923.7L536.4 921.9L535.5 919.8L537.1 918L539.3 917.1L541.4 918.1ZM604 897.9L601.6 897.5L599.8 896.3L599.3 894.2L600.7 892.3L602.9 892.1L605.5 892.2L606.4 894.4L606 896.6ZM528.7 928L530.4 928L531.4 929.3L531.1 930.7L530.1 931.9L528.5 932L527.2 931.2L526.7 929.9L527.4 928.7ZM554.8 883.6L552.8 883.9L551.5 882.5L550.8 880.7L552.1 879.2L554.1 878.9L556.2 879.2L557.1 881L556.5 882.8ZM553.8 890.3L555.3 889.1L557.3 889.4L558.9 890.6L559.2 892.5L557.6 893.6L555.8 894.1L554.2 893.3L553.4 891.9ZM613.7 924.6L609.5 928.1L604.2 928.4L599.2 926.3L599.1 921.5L600.2 917.1L604.8 914.8L610.2 915.5L613.3 919.6ZM631.1 920L631.2 918.6L632.4 917.6L634.1 917.5L635.4 918.6L635.3 920.1L634.8 921.6L633.1 921.7L631.5 921.4ZM575.1 886.3L574.6 888.3L572.5 888.9L570.5 888.2L569 886.7L569.2 884.6L571.1 883.6L573.1 883.6L574.7 884.7ZM598.6 953.7L598 949.4L600.8 945.9L605.4 944.5L609.3 946.9L611.9 950.4L609.5 953.9L606.6 956.9L602.3 956ZM527 866.6L530.8 868.9L534 872L531.6 875.6L529 878.9L524.2 878.7L521.1 875.7L519.8 871.6L523.1 868.7ZM622.3 900.2L626.7 898.9L631 899.7L633.2 903L633.4 906.9L630.3 909.7L625.8 910.7L622 908.2L620.1 904.2ZM623 946.1L621.4 947.5L619.2 947.4L617.5 946.1L617 944.2L618.1 942.5L620.2 941.5L622.1 942.6L623.3 944.1ZM503.5 896.2L499.9 898.4L495.5 898.4L493.3 895.2L492.4 891.9L493.9 888.3L498.1 887.8L501.7 889.2L504.3 892.2ZM618.1 878.4L620.6 877L623.4 877.8L624.8 879.8L625.2 882.2L623.2 883.8L620.8 884L618 883.4L616.9 880.9ZM571.4 927.1L571.1 931.8L569.2 935.6L564.9 937.8L560 936.4L556.7 932.6L557.8 927.9L561.4 924.4L566.8 924.5ZM497.1 930.4L501.3 931.2L501.8 935.1L501.2 938.7L497.7 940.8L493.3 940.3L491.2 937.1L490.4 933.5L493.2 930.9ZM509.5 873.4L512.1 874.2L513.7 875.9L514.7 878.4L512.3 880L509.8 880.5L507.1 879.8L506.1 877.2L507 874.7ZM636.5 896.4L634 895.3L632.2 893.3L632.8 890.6L635.1 889.1L637.9 889.1L640.6 890.4L640.3 893.2L639.5 895.8ZM599 903.4L600.1 902.1L601.5 901L603.1 901.8L604.2 902.9L604.4 904.5L603 905.7L601.3 905.6L599.8 904.9ZM547.7 871L549.8 871.3L551.2 872.8L551.5 874.7L550 876.2L547.9 876.7L546.2 875.6L545.1 873.9L545.8 872ZM520.8 916.2L520.3 918.2L518.5 919.2L516.5 919.4L514.8 918.3L514.1 916.4L515.3 914.7L517.3 913.9L519.3 914.7ZM595.9 869.1L594.9 871.2L592.5 872.1L590.4 871L589 869.3L589.5 867.3L591.2 866.1L593.4 865.6L595.3 867ZM541.2 944.1L543.2 948.5L542.2 952.9L538.1 955.2L532.9 956.2L529 952.7L528.9 948L531.8 944.6L536.2 942.7ZM611 902.6L610.4 901.3L611.2 900L612.6 899.4L614.1 899.8L615 901L615 902.4L613.9 903.6L612.1 903.9ZM540.6 873.7L542.6 874.1L543.4 875.9L542.5 877.6L541 878.6L538.7 878.9L537.4 877.3L537.6 875.4L538.7 874ZM501.8 868.5L501.2 867.1L500.9 865.6L502.2 864.5L503.9 864.6L505 865.5L505.5 866.8L505.2 868.3L503.5 868.9ZM589.1 949.9L585.7 948.5L583.1 945.7L583.8 941.8L587.6 940.2L591.3 940.4L594.3 942.5L594.7 945.9L592.9 949ZM524.7 898.2L525.5 900.1L524.6 902L522.5 902.6L520.6 902.3L518.9 901L518.8 898.9L520.7 897.8L522.6 897.4ZM647.6 907.9L649.1 909.7L648.7 911.8L647.6 913.8L645 913.8L642.5 913L641.8 910.6L642.6 908.2L645.2 907.3ZM556.4 869.1L558.5 868.3L560.7 868.1L562.5 869.6L562.3 871.7L560.9 873L559 873.5L556.9 873L556.1 871.1ZM632.1 866.4L632.8 864.7L634.8 864.4L636.9 864.4L637.8 866.2L637.5 868L636 869.1L634 869.2L632.7 868ZM596.7 907.3L598.2 908.1L598.7 909.6L598.1 911.1L596.6 911.8L595 911.3L593.9 910.3L593.9 908.8L595.1 907.8ZM524.9 890.2L525.3 887.4L526.5 884.8L529.7 884.4L532.4 885.7L534.3 888.1L533 890.9L530.2 891.9L527.1 892.4ZM513.6 882.5L515.8 883.7L517.8 885.3L516.8 887.5L515.2 889.3L512.5 889.4L510.9 887.6L509.8 885.5L511.5 883.7ZM584.2 909.5L581.9 909.8L580 908.7L579.3 906.8L580.4 905.2L582.1 904.1L584.3 904.4L585.6 906L585.2 907.8ZM546.6 906.5L550 906.5L552.8 908.7L553.4 912.3L550.3 914.2L547 915.8L544.1 913.7L543 910.9L543.7 908ZM580.4 943.4L579.1 944.5L577.6 945.3L575.7 944.7L575.4 943L575.8 941.6L577.1 940.6L578.7 940.8L580 941.8ZM560.8 952.7L558.6 951.8L558 949.7L559.1 948L560.7 946.5L563 947.2L564.8 948.5L564.9 950.8L562.8 951.9ZM595.5 918.4L593.9 919.9L591.5 920.1L589.4 919L589.1 916.8L590.2 915.1L592.2 914.3L594.5 914.4L595.7 916.3ZM565.9 912.5L564.2 914L561.9 913.1L560.5 911.6L560.5 909.7L561.9 908L564.2 907.5L566.2 908.7L567.3 910.7ZM566.1 902.4L566.7 903.8L565.4 904.7L564 905.4L562.5 904.6L561.6 903.3L562.1 901.8L563.7 901.2L565.3 901.2ZM509.4 948.1L511 950.8L509.7 953.6L506.8 954.8L503.5 954.9L501.8 952.3L501.7 949.6L503.5 947.2L506.7 946.6ZM567 891.4L568.2 893.4L567.6 895.7L565.6 897L563 897.2L561.4 895.4L561 893.2L561.9 890.9L564.6 890.6ZM635.2 945.6L634.5 941.9L636.1 938.3L640.2 937.6L644.3 938L645.7 941.5L645.2 944.8L642.8 947.8L638.6 947.9ZM625.2 886.9L626.4 884.8L628.9 885L631.2 885.9L632.1 888.1L630.8 890.2L628.6 891.4L626.4 890.5L625.1 888.8ZM585.8 938.5L583.8 939.2L582 938.3L581.2 936.8L581.1 935.1L582.4 933.6L584.5 933.8L585.8 935.1L586.1 936.6Z" fill="#040002" stroke="#E02828" stroke-width="0.7" stroke-linejoin="round" filter="url(#sb2)"/></g>
<line x1="610.2" x2="643.9" y1="944.4" y2="944.4" stroke="#fff" stroke-width="1.8"/>
<text x="409.1" y="750.7" font-size="12" text-anchor="middle" font-family='"Liberation Serif",serif' font-weight="bold" fill="#000">CD</text>
<text x="569.8" y="750.7" font-size="12" text-anchor="middle" font-family='"Liberation Serif",serif' font-weight="bold" fill="#000">HFD</text>
<text x="407.5" y="860.4" font-size="12" text-anchor="middle" font-family='"Liberation Serif",serif' font-weight="bold" fill="#000">MCD</text>
<text x="566.7" y="860.4" font-size="12" text-anchor="middle" font-family='"Liberation Serif",serif' font-weight="bold" fill="#000">HFHC</text>
<text transform="translate(327.6,800.5) rotate(-90)" font-size="12" font-weight="bold" text-anchor="middle" font-family="Liberation Serif"><tspan fill="#E0262B">TIA1</tspan><tspan fill="#3E4BC0">/DAPI</tspan></text>
<text transform="translate(327.6,909) rotate(-90)" font-size="12" font-weight="bold" text-anchor="middle" font-family="Liberation Serif"><tspan fill="#E0262B">TIA1</tspan><tspan fill="#3E4BC0">/DAPI</tspan></text>
<text x="0" y="1007" font-size="14" text-anchor="start" font-family='"Liberation Serif",serif' font-weight="bold" fill="#000">H</text>
<rect x="77.5" y="1021.4" width="168.9" height="21.1" fill="#CFCFE0"/><g filter="url(#bb)"><rect x="80.9" y="1030.3" width="16" height="3.4" rx="1.7" fill="#9A9AAA"/><rect x="102" y="1030.5" width="14.4" height="2.8" rx="1.4" fill="#A6A6B6"/><rect x="121.1" y="1030" width="16" height="3.9" rx="2" fill="#6E6E80"/><rect x="142.3" y="1029.9" width="16" height="4.2" rx="2.1" fill="#3E3E50"/><rect x="163.5" y="1030.5" width="16" height="2.8" rx="1.4" fill="#9C9CAE"/><rect x="182.5" y="1030" width="16" height="3.9" rx="2" fill="#6A6A7C"/><rect x="202.5" y="1028.9" width="18.4" height="6.2" rx="3.1" fill="#020204"/><rect x="224.9" y="1029.6" width="16" height="4.8" rx="2.4" fill="#2A2A3A"/></g><rect x="77.5" y="1021.4" width="168.9" height="21.1" fill="none" stroke="#1a1a1a" stroke-width="1.1"/>
<g fill="#fff" opacity="0.8"><circle cx="166" cy="1035" r="0.7"/><circle cx="172" cy="1036" r="0.6"/><circle cx="178" cy="1034.5" r="0.7"/><circle cx="184" cy="1035.5" r="0.6"/></g>
<rect x="77.5" y="1049.7" width="168.9" height="22.3" fill="#D2D2E2"/><g filter="url(#bb)"><rect x="80.5" y="1057.2" width="16.8" height="7.3" rx="3.6" fill="#050508"/><rect x="100.4" y="1056.9" width="17.6" height="7.8" rx="3.9" fill="#030306"/><rect x="121.1" y="1057.8" width="16" height="6.2" rx="3.1" fill="#0A0A10"/><rect x="141.9" y="1057.5" width="16.8" height="6.7" rx="3.4" fill="#08080C"/><rect x="163.5" y="1057.8" width="16" height="6.2" rx="3.1" fill="#0C0C12"/><rect x="182.1" y="1057.5" width="16.8" height="6.7" rx="3.4" fill="#08080C"/><rect x="202.9" y="1057.2" width="17.6" height="7.3" rx="3.6" fill="#040408"/><rect x="224.1" y="1056.9" width="17.6" height="7.8" rx="3.9" fill="#030306"/></g><rect x="77.5" y="1049.7" width="168.9" height="22.3" fill="none" stroke="#1a1a1a" stroke-width="1.1"/>
<text x="72.8" y="1035.8" font-size="9.3" text-anchor="end" font-family='"Liberation Serif",serif' font-weight="bold" fill="#000">TIA1</text>
<text x="72.8" y="1064.2" font-size="9.3" text-anchor="end" font-family='"Liberation Serif",serif' font-weight="bold" fill="#000">GAPDH</text>
<text x="249.8" y="1035.8" font-size="9.5" text-anchor="start" font-family='"Liberation Serif",serif' font-weight="bold" fill="#000">43KDa</text>
<text x="249.8" y="1064.2" font-size="9.5" text-anchor="start" font-family='"Liberation Serif",serif' font-weight="bold" fill="#000">36KDa</text>
<text transform="translate(87.6,1018.6) rotate(-40)" font-size="8.9" font-weight="bold" font-family="Liberation Serif">lung</text>
<text transform="translate(111.9,1018.6) rotate(-40)" font-size="8.9" font-weight="bold" font-family="Liberation Serif">kidney</text>
<text transform="translate(131.7,1018.6) rotate(-40)" font-size="8.9" font-weight="bold" font-family="Liberation Serif">heart</text>
<text transform="translate(150.8,1018.6) rotate(-40)" font-size="8.9" font-weight="bold" font-family="Liberation Serif">spleen</text>
<text transform="translate(170.7,1018.6) rotate(-40)" font-size="8.9" font-weight="bold" font-family="Liberation Serif">intestine</text>
<text transform="translate(193.8,1018.6) rotate(-40)" font-size="8.9" font-weight="bold" font-family="Liberation Serif">brain</text>
<text transform="translate(215.4,1018.6) rotate(-40)" font-size="8.9" font-weight="bold" font-family="Liberation Serif">liver</text>
<text transform="translate(234.5,1018.6) rotate(-40)" font-size="8.9" font-weight="bold" font-family="Liberation Serif">WAT</text>
<text x="4.5" y="1103.7" font-size="14" text-anchor="start" font-family='"Liberation Serif",serif' font-weight="bold" fill="#000">I</text>
<clipPath id="ic1"><rect x="6.5" y="1124.2" width="145.3" height="82.7"/></clipPath><g clip-path="url(#ic1)"><rect x="6.5" y="1124.2" width="145.3" height="82.7" fill="#102C14"/><path filter="url(#sb)" transform="scale(.5)" d="M300 2423l6-3M309 2421l-3-1M299 2411l-2 8M299 2411l-11-2M288 2409l9 10M300 2423l-2-1M306 2420l1-3M299 2411l1-2M298 2422l-1-3M300 2409l7 8M300 2240l8 6M205 2403l5 10M205 2403l9-7M210 2413l11-6M221 2407l-7-11M309 2364l3 7M309 2364l5-4M313 2331l-5 6M308 2337l-1 7M307 2344l3 2M309 2364l-6-1M303 2363l7-15M310 2346l0 2M308 2416l0-1M306 2403l2 12M306 2403l15 0M307 2417l1-1M300 2409l2-8M302 2401l4 2M298 2422l-15 0M311 2271l-3 5M306 2288l2-12M308 2276l0 0M299 2288l5 3M299 2288l1-10M304 2291l2-3M308 2276l-2-1M306 2275l-2 1M300 2278l4-2M306 2295l0 0M304 2291l2 4M155 2251l1 0M160 2244l-4 7M174 2242l6 10M174 2242l-7 9M167 2251l0 2M167 2253l12 3M179 2256l1-4M174 2239l0 3M160 2244l7 7M164 2257l-6 2M164 2257l3-4M156 2251l1 7M157 2258l1 1M273 2240l6 8M281 2252l-2-4M134 2421l10 8M134 2421l2-8M136 2413l2-1M138 2412l7 14M124 2407l13-1M124 2407l3-12M127 2394l0 1M127 2394l10 11M137 2405l0 1M158 2261l0-2M158 2261l9 5M164 2257l4 4M167 2266l1-5M159 2267l-1-6M159 2267l8 4M167 2266l0 5M135 2306l7-9M135 2306l-4-6M142 2297l0 0M142 2297l-5-3M137 2294l-6 6M6 2344l4-3M6 2344l-41 4M10 2341l3-6M13 2335l-6-9M162 2382l0 17M162 2382l5-1M162 2399l6-1M168 2398l7-5M175 2393l-4-9M167 2381l4 3M166 2415l13 7M166 2415l13-1M179 2422l2-2M181 2420l-2-6M210 2415l15 5M210 2415l-3 18M230 2416l-5 4M230 2416l-5-9M210 2414l0-1M210 2414l0 1M225 2407l-4 0M162 2382l-1 0M161 2382l-1-8M160 2374l3-5M163 2369l8-1M172 2377l-5 4M172 2377l1-8M173 2369l-2-1M207 2362l-6-5M207 2362l0 0M201 2357l5-9M210 2360l-3 2M210 2360l1-8M206 2348l5 4M178 2408l-1-4M178 2408l1 1M195 2399l-4 7M195 2399l-1-1M177 2404l9-10M191 2406l-12 3M194 2398l-8-4M172 2377l1 0M173 2377l10 7M171 2384l12 1M183 2384l0 1M175 2393l9-1M183 2385l1 7M168 2398l9 6M186 2394l-2-2M173 2377l7-2M173 2369l4-1M180 2375l-3-7M273 2297l-12 5M273 2297l2 3M261 2302l8 8M269 2310l6-4M275 2300l0 6M273 2296l0 1M273 2296l5-1M275 2300l3-5M275 2306l6 0M278 2295l4-3M282 2292l2 11M281 2306l3-3M299 2288l-2 0M306 2295l-1 4M297 2288l-4 1M293 2289l-4 13M305 2299l-10 6M289 2302l6 3M296 2346l4 15M296 2346l11-2M303 2363l0 0M303 2363l-3-2M312 2371l-11 4M303 2363l-2 12M312 2383l-11-8M301 2375l0 0M282 2350l13-4M282 2350l-2-4M280 2346l0-2M280 2344l8-8M288 2336l3 3M295 2346l-4-7M308 2337l-5-3M296 2346l-1 0M295 2346l0 0M303 2334l-12 5M230 2416l3 0M233 2416l6 22M268 2400l3 3M268 2400l-6 1M271 2403l-8 13M262 2401l-6 5M256 2406l3 9M259 2415l4 1M282 2383l3 2M282 2383l-2 0M285 2385l-3 7M278 2389l0-6M278 2389l4 3M282 2392l0 0M280 2383l-2 0M282 2383l10-7M292 2376l-4-7M280 2383l8-14M268 2400l0-5M271 2403l4 1M268 2395l10-6M282 2392l-2 7M275 2404l5-5M269 2421l11-11M269 2421l-4-1M265 2420l-2-4M275 2404l5 6M283 2422l-2-12M281 2410l-1 0M288 2409l-1 0M281 2410l6-1M258 2300l2-5M258 2300l-7 2M251 2302l-5-3M260 2295l-7-10M253 2285l-7 12M246 2297l0 2M235 2302l11-3M235 2302l-1 0M234 2302l-7-4M246 2297l-4-8M242 2289l-4-1M238 2288l-11 8M227 2296l0 2M125 2249l4-5M125 2249l-7-6M129 2244l2-7M118 2243l2-6M118 2243l-7-1M111 2242l-3-5M106 2253l5-11M106 2253l-13-9M181 2239l-7 0M185 2319l-5-11M185 2319l6-4M191 2315l-1-4M190 2311l-8-4M180 2308l2-1M204 2308l-5 10M204 2308l-3-4M199 2318l-8-3M201 2304l-5 0M196 2304l-6 7M196 2304l-8-3M188 2301l-6 6M183 2323l2-4M183 2323l-8-5M178 2308l-1 3M178 2308l2 0M175 2318l2-7M188 2301l-2-9M178 2308l-9-9M169 2299l0-1M169 2298l17-6M200 2294l0 0M200 2294l12 0M200 2294l2-6M202 2288l8-4M210 2284l4 6M212 2294l2-4M201 2304l-1-10M186 2292l1-1M187 2291l13 3M200 2284l2-3M200 2284l2 4M211 2281l-1-2M211 2281l-1 3M202 2281l8-2M195 2275l6-2M195 2275l-5-2M197 2258l4 2M197 2258l-11 9M190 2273l-4-6M202 2266l-1-6M202 2266l-1 7M201 2273l0 0M195 2275l3 7M198 2282l2 2M202 2281l1-3M201 2273l2 5M210 2279l0-1M203 2278l7 0M181 2239l6 6M180 2252l5-3M187 2245l-2 4M187 2245l9-5M308 2246l2 6M310 2252l5 6M311 2271l0 0M311 2271l1-6M70 2422l4-2M70 2422l15 16M74 2420l3-1M77 2419l6 3M63 2422l7 0M77 2411l0 8M77 2411l-7-6M70 2405l4 15M96 2422l-5-5M96 2422l2 9M85 2419l6-2M85 2419l-2 3M45 2396l4 7M45 2396l11 3M56 2399l-7 4M69 2405l1 0M69 2405l-2 0M63 2422l3-14M66 2408l1-3M26 2422l1 1M27 2423l6 1M161 2382l-9 1M162 2399l-3 4M159 2403l-1-1M152 2383l-3 2M158 2402l-9-17M166 2415l-2-1M164 2414l0 2M178 2408l-15 3M179 2409l0 5M164 2414l-1-3M108 2396l-7 6M108 2396l5 3M113 2399l1 3M114 2402l-2 10M101 2402l6 10M112 2412l-5 0M123 2409l-9-7M123 2409l1-2M127 2395l-14 4M85 2419l-2-8M77 2411l5 0M82 2411l1 0M6 2344l13 18M19 2362l0 1M19 2363l-5 4M8 2367l6 0M142 2297l5-9M142 2297l3 2M147 2288l9 3M156 2291l-5 9M145 2299l6 1M135 2306l1 7M139 2313l4-3M139 2313l-2 0M136 2313l1 0M145 2299l-2 11M175 2318l-5 3M177 2311l-14 6M170 2321l-5-1M165 2320l0 0M165 2320l-2-3M152 2249l3 2M152 2249l-3 5M157 2258l-1 0M149 2254l7 4M146 2397l12 5M146 2397l-4-8M149 2385l-6 3M142 2389l1-1M152 2383l-2-4M143 2388l-5-13M138 2375l12 4M19 2323l0-5M19 2323l-10 0M19 2318l-11-2M9 2323l-1-7M22 2329l-9 6M22 2329l-3-6M7 2326l2-3M10 2341l9 3M19 2362l7-7M26 2355l-1-7M25 2348l-6-4M3 2279l6 4M9 2283l-9 14M9 2283l8-1M19 2297l-19 0M19 2297l2-1M21 2296l-4-14M19 2297l-3 10M16 2307l4 5M21 2296l11 3M32 2299l1 3M20 2312l13-10M192 2413l-4 6M192 2413l6 4M198 2420l-6 5M198 2420l0-3M191 2406l1 7M181 2420l7-1M195 2399l10 4M210 2414l-12 3M227 2395l4 4M227 2395l-7-2M220 2393l-3 2M217 2395l10 7M227 2402l4-3M225 2407l2-5M214 2396l0 0M214 2396l3-1M233 2416l3-1M233 2398l-2 1M233 2398l5 1M236 2415l2-16M229 2388l-4-3M229 2388l10 0M240 2383l-1 5M240 2383l-11-1M229 2382l-5 1M225 2385l0-1M225 2384l-1-1M233 2398l-4-10M227 2395l-2-10M238 2399l3-2M241 2397l-2-9M244 2376l8 5M244 2376l-4 7M252 2381l-6 15M246 2396l-3 1M241 2397l2 0M220 2393l5-9M261 2386l-7-6M261 2386l5 2M266 2388l5-7M263 2375l-9 5M263 2375l1 1M264 2376l7 5M266 2388l2 7M275 2381l3 2M275 2381l-4 0M271 2381l0 0M255 2391l-1-3M255 2391l0 4M254 2388l-7 8M247 2396l8 0M255 2395l0 1M261 2386l0 1M261 2387l-6 4M253 2381l1 7M253 2381l1-1M254 2380l0 0M261 2387l-6 8M252 2381l1 0M246 2396l1 0M262 2401l-7-5M183 2323l0 0M170 2321l2 2M183 2323l-11 0M198 2356l-5-9M198 2356l-10 0M193 2347l-5 9M188 2356l0 0M186 2362l2-6M186 2362l-4-4M188 2356l-2-1M182 2358l4-3M192 2346l1 1M192 2346l0-1M192 2345l-4 1M186 2355l2-9M160 2374l-6-4M163 2369l-1-3M154 2370l-2-8M152 2362l6 0M158 2362l4 4M198 2356l-7 9M198 2356l0 0M186 2362l1 3M191 2365l-4 0M302 2401l-1-1M311 2388l-10 12M312 2383l-1 1M311 2388l0-4M287 2409l9-11M301 2400l-5-2M282 2291l1-1M282 2291l0 1M293 2289l-2 0M284 2303l5-1M283 2290l8-1M300 2240l-3 10M281 2252l-1 1M297 2250l-2 1M280 2253l15-2M280 2253l-2 7M295 2251l-11 12M284 2263l-5-1M278 2260l1 2M313 2331l-3-10M310 2321l2-3M288 2319l6-9M288 2319l-7-13M295 2305l0 2M294 2310l1-3M253 2424l0-1M253 2424l2 1M253 2423l11-1M264 2422l-2 5M259 2415l-7 5M265 2420l-1 2M252 2420l1 3M251 2407l-3-1M251 2407l-2 12M248 2406l-10 9M238 2415l7 4M249 2419l-4 0M256 2406l-5 1M243 2397l5 9M252 2420l-3-1M236 2415l2 0M253 2285l-1 0M242 2289l2-4M252 2285l-8 0M148 2243l4-5M148 2243l-3 2M145 2245l-7-7M152 2249l-4-6M143 2247l2-2M143 2247l0 5M143 2252l6 2M143 2247l-6-1M137 2246l1-8M135 2246l2 0M135 2246l-6-2M214 2246l-11-6M215 2248l4-8M215 2248l-1-2M219 2240l-5-3M198 2282l-11 5M187 2291l-1-3M187 2287l-1 1M190 2273l-4 11M187 2287l-1-3M169 2298l-4-7M165 2291l1-2M166 2289l11-4M186 2288l-9-3M167 2280l-1 9M167 2280l0-1M167 2279l11 1M177 2285l1-5M202 2266l5 2M201 2273l6 1M207 2268l0 6M225 2259l-8-7M225 2259l-10 0M215 2252l2 0M215 2252l-2 2M213 2254l0 2M213 2256l2 3M201 2260l9-2M207 2268l3-1M210 2258l0 9M225 2259l5 2M230 2261l0 3M230 2264l-10 2M215 2259l5 7M208 2274l-1 0M208 2274l3-5M211 2269l-1-2M210 2277l0 0M210 2277l5-8M210 2277l5-2M215 2275l1-6M215 2269l1 0M210 2278l0-1M208 2274l2 3M211 2269l4 0M213 2256l-3 2M220 2266l-1 2M219 2268l-3 1M198 2241l0 8M198 2241l3 1M198 2249l14 4M201 2242l11 11M196 2257l2-8M196 2257l-11-8M196 2240l2 1M203 2240l-2 2M197 2258l-1-1M213 2254l-1-1M215 2252l0-4M306 2275l-3-6M311 2271l-7-2M303 2269l1 0M312 2265l-8 0M304 2269l0-4M304 2265l-1-4M310 2252l-9 8M303 2261l-2-1M297 2250l2 10M299 2260l2 0M107 2422l5-1M114 2423l-2-2M107 2422l-4-7M103 2415l4-3M112 2412l1 2M112 2421l1-7M40 2393l-2 0M40 2393l-2-8M38 2393l-5-8M38 2385l-5 0M57 2399l-1 0M57 2399l-2-7M44 2394l0 1M44 2394l1-2M44 2395l1 1M45 2392l10 0M16 2420l-9 9M16 2420l-3-11M13 2409l-7 9M21 2418l5 4M21 2418l-5 2M21 2418l4-8M13 2409l1-1M14 2408l4-4M25 2410l-7-6M33 2385l0 0M33 2385l-3 7M30 2392l0 4M38 2393l-8 4M30 2397l0-1M48 2410l9-5M48 2410l-1 1M57 2405l-3 6M47 2411l1 2M48 2413l6-2M57 2399l4 4M49 2403l-1 7M61 2403l-4 2M43 2408l-2-5M43 2408l4 3M41 2403l2-5M44 2395l-1 3M61 2403l6 2M66 2408l-12 3M67 2405l0 0M48 2418l0-5M164 2416l0 2M164 2418l-10 5M159 2404l-14 8M159 2404l3 6M162 2410l-11 11M145 2412l5 9M150 2421l1 0M138 2411l-1-5M138 2411l7 1M137 2405l9-8M159 2403l0 1M163 2411l-1-1M154 2423l-3-2M138 2412l0-1M78 2344l-12 3M78 2344l0-1M78 2343l-3-9M66 2347l-1-1M65 2346l3-9M68 2337l5-5M75 2334l-1-2M73 2332l1 0M98 2352l7-2M98 2352l-1-5M111 2345l-6 5M111 2345l-2-2M109 2343l-12 4M108 2386l0-1M108 2386l20 6M108 2385l7-4M115 2381l11 3M126 2384l2 8M128 2392l0 0M127 2394l1-2M108 2396l-1-2M107 2394l0-7M107 2387l1-1M117 2372l-1 1M117 2372l11 8M116 2373l-1 8M128 2380l-2 4M131 2375l7-1M131 2375l-3 5M142 2389l-14 3M138 2374l0 1M91 2417l0-3M88 2409l-5 2M88 2409l3 4M91 2413l0 1M100 2416l-3-2M100 2416l3-1M103 2415l-5-7M97 2414l1-6M96 2422l4-6M91 2414l6 0M103 2415l0 0M99 2403l2-1M99 2403l-1 5M98 2408l0 0M98 2408l-7 5M106 2383l0-5M106 2383l2 2M111 2370l5 3M111 2370l-4 4M107 2374l-1 4M97 2361l11 0M97 2361l0 1M111 2370l-3-9M107 2374l-10-12M102 2381l-6-6M102 2381l-7 2M96 2375l-1 8M99 2403l-7-2M88 2409l1-5M92 2401l-3 3M82 2411l1-7M89 2404l-6 0M76 2398l-1 2M76 2398l-5-9M71 2389l-1 0M70 2389l4 11M75 2400l0 0M74 2400l1 0M69 2405l3-3M72 2402l2-2M83 2404l-8-4M62 2345l3 1M62 2345l-6-5M68 2337l-7 0M61 2337l-5 3M52 2351l3-11M52 2351l-1 1M51 2352l-7-4M44 2348l10-9M54 2339l1 1M52 2351l6 0M58 2351l4-6M55 2340l1 0M66 2348l-1 4M66 2348l9 6M65 2352l3 9M75 2354l0 2M69 2362l5-6M69 2362l-1-1M75 2356l-1 0M58 2351l-1 4M57 2355l8-3M66 2347l0 1M79 2346l-4 8M79 2346l-1-2M79 2346l5 4M84 2350l0 3M84 2353l-9 3M76 2371l-7-9M76 2371l-3 6M58 2364l10-3M58 2364l5 10M73 2377l-2 0M71 2377l-4 0M63 2374l4 3M86 2357l-2-4M86 2357l-8 0M78 2357l-4-1M34 2367l-11-1M34 2367l-1 9M23 2366l8 11M33 2376l-2 1M19 2363l4 3M26 2355l9 1M34 2367l2-2M36 2365l-1-9M17 2382l-10 1M17 2382l2 2M19 2384l0 0M19 2384l-2 8M17 2392l-8-1M9 2391l0 0M9 2391l-3-7M6 2384l1-1M8 2367l-1 16M14 2367l3 15M30 2380l1-3M30 2380l-11 4M30 2380l3 5M30 2392l-11-8M19 2398l11-2M19 2398l-2-6M151 2300l1 3M143 2310l7-3M150 2307l2-4M166 2303l3-4M166 2303l-14 0M157 2290l-1 1M157 2290l8 1M152 2303l0 0M109 2343l-1-4M97 2347l0-1M97 2346l10-10M108 2339l-1-3M146 2287l1 1M146 2287l-10 0M137 2294l-2-4M136 2287l0 0M135 2290l1-3M156 2333l9-13M156 2333l-2-1M163 2317l0 0M163 2317l-12 6M154 2332l-3-9M154 2332l-9 3M145 2335l-5-4M149 2322l2 1M149 2322l-9 7M140 2329l0 2M140 2331l0 0M136 2313l-2 1M137 2313l3 16M134 2314l-6 8M140 2331l-12-9M118 2311l13 2M118 2311l-2-6M123 2303l-7 2M123 2303l4 4M127 2307l4 6M116 2305l0 0M134 2314l-3-1M117 2320l0-6M117 2320l9 4M117 2314l1-3M126 2324l2-2M129 2299l0 0M129 2299l-2 8M129 2299l-6 4M131 2300l-2-1M135 2246l1 8M125 2249l-1 7M124 2256l12-2M143 2252l-1 2M136 2254l6 0M156 2258l-10 6M146 2264l-4-7M142 2254l0 3M153 2371l-6-1M153 2371l-4 4M149 2375l-5-4M147 2370l-3 1M154 2370l-1 1M151 2361l1 1M151 2361l-4 9M150 2379l-1-4M139 2371l-1 3M139 2371l5 0M26 2282l-8-1M26 2282l7 3M32 2299l2-5M17 2282l1-1M33 2285l3 4M34 2294l2-5M26 2282l8-8M18 2281l1-8M19 2273l15 1M25 2348l2-2M19 2344l8-10M27 2346l0-12M40 2348l-3 7M40 2348l-2-6M37 2355l-2 1M27 2346l11-4M22 2329l6 1M27 2334l1-4M14 2307l-14-6M14 2307l-7 8M7 2315l-1-1M16 2307l-2 0M19 2318l1-3M8 2316l-1-1M20 2315l0-3M34 2303l-3 13M34 2303l11 4M45 2307l0 4M45 2311l-8 7M37 2318l-6-2M31 2316l0 0M20 2315l11 1M33 2302l1 1M49 2316l11-2M49 2316l-4-5M60 2314l-9-11M50 2302l1 1M50 2302l-5 5M28 2330l0 0M28 2330l3-14M9 2249l5 2M9 2249l9-8M14 2251l6-2M18 2241l2 8M28 2253l-8-4M28 2253l-2 3M26 2256l-10 0M16 2256l-2-5M11 2264l0-1M11 2264l-6 2M11 2263l-5-13M5 2266l-20-7M3 2279l2-13M19 2269l0 4M19 2269l-8-5M6 2249l0 1M6 2249l3 0M16 2256l-5 7M3 2241l3 2M6 2243l0 6M263 2375l-2-5M254 2380l3-13M261 2370l-4-3M181 2330l3-7M181 2330l1 0M182 2331l0-1M182 2331l12 5M184 2323l7 2M191 2325l4 10M195 2335l-1 1M182 2340l0-9M182 2340l-7-3M175 2337l7-7M192 2345l2-9M184 2346l4 0M184 2346l-2-6M199 2319l0 0M199 2319l-8 6M199 2318l0 1M183 2323l1 0M202 2328l-3-9M202 2328l0 3M202 2331l-3 3M199 2334l-4 1M172 2330l7-1M172 2330l0-7M172 2323l7 6M169 2331l3-1M169 2331l-2 7M169 2341l-2-3M169 2341l6-4M181 2330l-2-1M169 2331l-4-11M172 2323l0 0M169 2359l8-3M169 2359l0-1M169 2358l-4-2M165 2356l-1-2M177 2356l0 0M177 2356l1-8M170 2343l-6 9M170 2343l8 5M164 2354l0-2M171 2368l-2-9M178 2367l-1 1M178 2367l-1-11M162 2366l7-8M158 2362l7-6M148 2357l1-2M148 2357l3 4M149 2355l15-1M178 2367l7 0M182 2358l-5-2M187 2365l-2 2M184 2346l-6 2M169 2341l1 2M148 2348l1 3M148 2348l10-13M149 2351l8-4M157 2347l4-10M158 2335l3 2M156 2333l2 2M144 2341l4 7M144 2341l1-6M149 2355l0-4M149 2351l0 0M164 2352l-7-5M167 2338l-6-1M223 2368l-3 1M223 2368l1 1M222 2381l3-7M222 2381l-5 0M220 2369l-3 12M224 2369l1 5M229 2382l6-8M224 2383l-2-2M225 2374l10 0M244 2376l-2-4M235 2374l7-2M210 2360l7-2M207 2362l12 7M223 2368l0-7M217 2358l5 2M219 2369l1 0M223 2361l-1-1M199 2375l-4 6M199 2375l-1 0M198 2375l-12 0M195 2381l-11 1M184 2382l1-5M185 2377l1-2M207 2362l-2 12M198 2356l3 1M205 2374l-6 1M191 2365l7 10M185 2367l1 8M194 2398l2-3M183 2384l1-2M196 2395l-1-14M180 2375l5 2M294 2382l9 3M294 2382l-2 4M303 2385l-7 12M292 2386l1 6M293 2392l1 4M294 2396l2 1M294 2378l7-3M294 2378l0 4M311 2384l-8 1M285 2385l7 1M292 2376l2 2M296 2398l0-1M282 2392l11 0M280 2399l14-3M283 2290l-2-11M291 2289l-5-10M286 2279l-5 0M297 2288l-6-12M286 2279l5-3M298 2319l11 3M298 2319l-10 2M288 2321l-4 8M304 2327l-18 5M304 2327l5-5M284 2329l2 3M288 2319l0 2M294 2310l4 4M298 2314l0 5M269 2323l5 4M269 2323l-1-6M268 2317l1-7M274 2327l10 2M303 2334l1-7M288 2336l-2-4M310 2321l-1 1M274 2327l-5 10M269 2337l3 8M272 2345l8-1M300 2311l-1 2M300 2311l8-1M299 2313l10 0M308 2310l1 3M295 2307l5 4M298 2314l1-1M305 2299l3 11M312 2318l-3-5M251 2302l-2 9M235 2302l2 12M237 2314l12-3M268 2317l-18-2M258 2300l3 2M250 2315l-1-4M248 2359l-4-8M248 2359l-6 11M242 2370l-2-2M244 2351l0 0M244 2351l-4 16M240 2367l0 1M226 2369l14-1M226 2369l-2 0M242 2372l1-2M243 2370l-1 0M232 2363l5 1M232 2363l-3-3M237 2364l-1-9M229 2360l3-6M236 2355l-4-1M226 2369l6-6M240 2367l-3-3M223 2361l6-1M244 2351l-1 0M241 2352l2-1M241 2352l-5 3M273 2296l-4-9M260 2295l7-8M267 2287l2 0M291 2276l0-2M291 2274l-14-1M281 2279l-3-3M278 2276l-1-3M282 2291l-12-4M278 2276l-8 11M270 2287l-1 0M211 2281l8-1M214 2290l5-1M219 2289l1-8M219 2280l1 1M181 2280l-3 0M181 2280l1-14M178 2280l-2-10M182 2266l-3 1M182 2266l0 0M179 2267l-3 3M186 2284l-5-4M178 2280l0 0M186 2267l-4-1M167 2279l2-6M169 2273l7-3M179 2256l3 10M168 2261l11 6M167 2271l2 2M301 2271l-4 2M301 2271l1-1M302 2270l-6-8M297 2273l-4-2M293 2271l-2-5M291 2266l5-4M300 2278l-3-5M304 2276l-3-5M303 2269l-1 1M299 2260l-3 2M291 2274l2-3M284 2263l7 3M279 2262l-3 6M276 2268l1 5M124 2423l-4-1M124 2423l1-10M120 2422l-2-8M125 2413l-2-1M123 2412l-5 2M114 2423l6-1M136 2413l-11 0M113 2414l5 0M123 2409l0 3M43 2383l-2-8M43 2383l2 1M45 2384l8-3M53 2381l0-6M53 2375l-3-5M50 2370l-7 2M41 2375l2-3M38 2385l5-2M33 2376l8-1M44 2394l-4-1M45 2392l0-8M55 2392l3-4M58 2388l-2-4M56 2384l-3-3M63 2374l-10 1M67 2377l-11 7M58 2364l-4-1M54 2363l-4 7M40 2368l-4-3M40 2368l3 4M6 2418l-4-10M14 2408l-11 0M19 2398l-1 2M9 2391l-2 7M18 2400l-11-2M18 2404l0-1M3 2408l3-6M18 2403l-12-1M33 2424l2-4M25 2410l3 0M28 2410l7 10M48 2418l-12 2M35 2420l1 0M39 2409l-4 0M39 2409l-3 9M35 2409l1 9M43 2408l-4 1M36 2420l0-2M144 2359l-8-5M144 2359l-5-10M136 2354l-2-7M139 2349l-4-4M134 2347l0-2M134 2345l1 0M148 2357l-4 2M144 2359l0 0M149 2351l-10-2M144 2341l-9 4M131 2344l1-10M131 2344l3 1M132 2334l8-3M136 2354l-6 3M134 2347l-6 10M130 2357l-2 0M107 2394l-13-2M107 2387l-14 1M94 2392l-1-4M92 2401l-1-3M94 2392l-3 6M75 2400l14-3M91 2398l-2-1M84 2350l11-6M98 2352l-1 9M95 2344l2 2M86 2357l3 5M97 2362l-1 0M96 2362l-7 0M78 2357l1 12M89 2362l-10 7M76 2371l1 0M79 2369l-2 2M102 2381l4 2M95 2383l-2 1M93 2388l-2-2M93 2384l-2 2M113 2361l-2 0M113 2361l6 2M111 2361l7 10M119 2363l1 6M118 2371l2-2M122 2353l-9 8M122 2353l4 4M126 2359l0-2M126 2359l-7 4M108 2361l0 0M117 2372l1-1M108 2361l3 0M126 2369l1-4M126 2369l-6 0M126 2359l1 6M131 2375l-5-6M110 2354l3-8M110 2354l0 2M110 2356l12-5M113 2346l2 0M115 2346l7 5M122 2351l0 0M111 2345l2 1M105 2350l5 4M108 2361l2-5M122 2353l0-2M131 2344l-2 0M129 2344l-7 7M126 2357l2 0M67 2387l1 2M67 2387l-8 1M64 2394l-5-6M64 2394l4-5M68 2389l0 0M58 2388l1 0M71 2377l-4 10M67 2405l-3-11M72 2402l-4-13M70 2389l-2 0M39 2355l4 7M39 2355l12 2M43 2362l11 1M51 2357l2 3M53 2360l1 3M40 2368l3-6M37 2355l2 0M51 2352l0 5M40 2348l4 0M54 2363l0 0M57 2355l-4 5M146 2287l0-3M136 2287l-1-8M146 2284l-3-6M143 2278l-8 1M155 2272l-10-5M155 2272l0 3M145 2267l0 0M145 2267l-1 6M145 2275l-1-2M145 2275l8 2M155 2275l-2 2M153 2277l0 0M159 2267l-4 5M146 2264l-1 3M167 2280l-12-5M137 2267l8 0M137 2267l-4-3M133 2264l9-7M137 2267l-2 7M135 2274l9-1M143 2278l2-3M135 2279l-2-2M133 2277l2-3M146 2284l7-7M157 2290l-4-13M132 2334l-2-2M126 2324l0 4M126 2328l4 4M117 2320l-4 3M117 2314l-10 1M113 2323l-6-8M116 2305l-5 0M111 2305l-6 9M107 2315l-2-1M91 2333l0-2M91 2333l-1 3M91 2331l12-4M90 2336l4 5M94 2341l12-6M106 2335l0-7M106 2328l-3-1M75 2334l16-1M74 2332l15-3M89 2329l2 2M78 2343l12-7M95 2344l-1-3M107 2336l-1-1M139 2313l3 2M149 2322l0-2M142 2315l7 5M75 2262l-8 3M75 2262l5 10M67 2265l9 8M80 2272l-3 1M76 2273l1 0M80 2253l6 17M80 2253l-5 9M80 2272l4 0M86 2270l-2 2M135 2290l-8 4M136 2287l-9-1M127 2286l0 8M129 2299l-3-5M116 2305l2-11M118 2294l8 0M126 2294l1 0M87 2251l3 17M87 2251l13 12M90 2268l6 0M100 2263l-4 5M52 2264l-3 3M52 2264l2 10M54 2274l-4 1M50 2275l-1-8M38 2265l8 3M38 2265l1-13M52 2264l-7-14M52 2264l0 0M45 2250l-6 2M46 2268l3-1M55 2278l-10 0M55 2278l-9 7M45 2285l1 0M45 2285l-1-7M44 2278l1 0M37 2275l-4 10M37 2275l6 2M36 2289l9-4M43 2277l1 1M50 2275l-5 3M46 2268l-3 9M55 2290l-5 10M55 2290l-9-5M46 2285l-1 10M50 2300l-5-5M34 2294l11 1M46 2285l0 0M50 2302l0-2M26 2256l-3 9M19 2269l2-2M23 2265l-2 2M49 2320l12 2M49 2320l0 1M49 2321l5 7M54 2328l7-6M61 2337l7-9M54 2339l-1-2M53 2337l1-4M54 2333l14-5M48 2336l-5-11M48 2336l-10 2M38 2338l-5-6M33 2332l8-7M41 2325l2 0M49 2321l-6 4M53 2337l-5-1M54 2328l0 5M38 2342l0-4M28 2330l5 2M37 2318l4 7M49 2320l0-4M257 2367l0-1M243 2370l10-4M253 2366l4 0M264 2376l3-6M271 2381l1-13M267 2370l5-2M206 2375l-3 14M206 2375l4 2M210 2377l4 3M214 2380l-2 11M212 2391l-9-2M196 2395l7-6M205 2374l1 1M219 2369l-9 8M217 2381l-3-1M214 2396l-2-5M219 2240l13-6M269 2323l-16 5M250 2315l0 3M250 2318l3 10M247 2349l0 0M247 2349l3-1M258 2341l-1 4M258 2341l-6-9M257 2345l-3 2M247 2349l-2-6M250 2348l4-1M245 2343l7-11M269 2337l-11 4M253 2328l-1 3M252 2332l0-1M250 2275l4-15M250 2275l-6 2M242 2276l9-16M242 2276l2 1M254 2260l-1-1M251 2260l2-1M252 2285l4-7M244 2285l0-8M256 2278l-6-3M243 2262l-4 12M243 2262l3-3M239 2274l3 2M246 2259l5 1M265 2283l4-14M265 2283l-7-5M258 2278l4-10M269 2269l-7-1M267 2287l-2-4M276 2268l-7 1M256 2278l2 0M255 2261l-1-1M255 2261l7 7M278 2260l-10-6M268 2254l-13 7M216 2275l4-3M216 2275l3 2M219 2277l1-5M219 2268l1 2M215 2275l1 0M220 2270l0 2M219 2280l0-3M238 2288l-5-5M239 2274l-1 0M233 2283l5-9M231 2265l12-3M231 2265l2 6M233 2271l5 3M6 2243l10-10M28 2253l4-2M18 2241l1-5M32 2251l-4-11M28 2240l-9-4M62 2239l-8 7M62 2239l-15-45M48 2246l6 0M28 2240l16-18M45 2250l3-4M32 2251l7 1M71 2239l5 8M88 2244l-3 3M85 2247l-4 2M81 2249l-5-2M62 2239l9 0M93 2244l-5 0M63 2252l13-5M63 2252l-9-6M106 2253l3 7M87 2251l-2-4M109 2260l-9 3M80 2253l1-4M90 2268l-4 2M7 2398l0 1M7 2398l0 0M6 2402l1-3M18 2400l0 3M33 2409l-4 0M33 2409l3-6M29 2409l2-10M36 2403l-5-4M31 2399l0 0M28 2410l1-1M35 2409l-2 0M41 2403l-5 0M30 2397l1 2M43 2398l-12 1M133 2364l-2-6M133 2364l6 1M131 2358l10 4M139 2365l2-3M130 2357l1 1M127 2365l6-1M139 2371l0-6M144 2359l-3 3M96 2369l0-6M96 2369l-1 5M96 2363l-8 12M95 2374l-3 3M92 2377l-2 0M90 2377l0 0M90 2377l-2-2M106 2378l-10-9M96 2362l0 1M96 2375l-1-1M77 2371l11 4M77 2371l0 0M93 2384l-1-7M87 2381l3-4M87 2381l-10-10M90 2385l1 1M90 2385l-3-4M91 2386l-8 4M87 2381l-9 5M83 2390l-3 0M80 2390l-1-3M78 2386l1 1M91 2386l0 0M90 2377l0 8M87 2381l0 0M89 2397l-6-7M73 2377l5 9M76 2398l4-8M71 2389l8-2M124 2340l-5 0M124 2340l0-3M124 2337l-5-5M119 2340l-1-5M118 2335l0-3M118 2332l1 0M129 2344l-5-4M115 2346l4-6M130 2332l-6 5M126 2328l-7 4M108 2339l10-4M111 2327l-5 1M111 2327l7 5M113 2323l-2 4M163 2317l0 0M149 2320l3-3M152 2317l11 0M166 2303l-4 10M162 2313l1 4M61 2322l2-1M68 2328l0-1M63 2321l5 6M60 2314l3 0M63 2321l0-7M51 2303l6-1M57 2302l6 2M63 2304l1 9M63 2314l1-1M73 2332l-1-3M72 2329l-4-2M76 2281l-5 0M76 2281l1-8M76 2273l-6 3M70 2276l1 5M66 2274l-7 4M66 2274l-1-9M65 2265l-3-2M59 2278l-1-1M60 2264l2-1M60 2264l-3 12M57 2276l1 1M67 2265l-2 0M70 2276l-2-1M68 2275l-2-1M63 2252l-1 11M52 2264l8 0M54 2274l3 2M55 2278l3-1M87 2285l0-5M87 2285l12-10M87 2280l11-6M99 2275l-1-1M87 2286l-3 2M87 2286l0-1M76 2281l5 8M84 2272l3 8M84 2288l-3 1M96 2268l2 6M124 2271l8 6M124 2271l-5-9M119 2262l4-3M132 2277l-6-16M132 2277l0 0M123 2259l3 2M124 2282l-2 0M124 2282l8-5M122 2282l2-11M124 2256l-1 3M109 2260l5 3M114 2263l5-1M133 2264l-7-3M133 2277l-1 0M127 2286l-3-4M122 2282l-6 1M118 2294l-4-5M116 2283l-2 6M114 2263l-2 12M116 2283l-4-8M111 2305l-4-2M107 2303l1-10M108 2293l5-4M113 2289l1 0M31 2270l0-4M31 2270l3 4M36 2274l-2 0M36 2274l1-9M37 2265l-6 1M23 2265l8 1M21 2267l10 3M34 2274l0 0M37 2275l-1-1M38 2265l-1 0M262 2359l-1 1M262 2359l-5-2M261 2360l-9 1M257 2357l-3 0M254 2357l-2 1M252 2358l0 1M252 2359l0 2M253 2366l-1-5M257 2366l4-6M250 2348l4 9M254 2347l3 10M247 2349l5 9M247 2349l-3 2M248 2359l4 0M261 2370l3-2M262 2359l2 0M264 2368l0-9M267 2370l-2-1M264 2368l1 1M282 2350l-2 6M280 2346l-6 7M280 2356l-6-3M265 2369l4-7M264 2359l2-1M269 2362l-3-4M272 2345l-2 8M274 2353l-4 0M257 2345l11 9M266 2358l2-4M270 2353l-2 1M252 2242l2 10M252 2242l12-11M254 2252l12-5M246 2259l-2-2M243 2242l-1 6M243 2242l9 0M253 2259l1-7M244 2257l-2-9M268 2254l-2-7M273 2240l-6-3M208 2332l0 9M208 2332l3 0M211 2332l3 5M214 2337l-5 4M208 2341l1 0M202 2331l6 1M199 2334l8 8M208 2341l-1 1M192 2346l15-3M207 2342l0 1M206 2348l1-3M207 2343l0 2M218 2327l0-2M218 2327l-5 3M218 2325l-5-5M213 2330l-5-5M208 2325l2-4M210 2321l3-1M211 2332l2-2M214 2337l4 1M218 2338l1-11M219 2327l-1 0M202 2328l6-3M199 2319l11 2M218 2325l3-5M213 2320l0-8M221 2320l-8-8M227 2296l-1-3M227 2298l-10 8M212 2294l5 12M226 2293l-7-4M217 2306l0 0M204 2308l9 0M217 2306l-4 2M213 2308l0 4M250 2318l-10 4M240 2322l3 8M252 2331l-8-1M243 2330l1 0M232 2347l2-3M232 2347l-3 3M234 2344l-9-5M229 2350l-2 0M227 2350l-6-5M221 2345l1-3M222 2342l3-3M241 2352l-9-5M232 2354l-3-4M222 2360l5-10M218 2338l4 4M219 2327l2 1M227 2337l-2 2M227 2337l0-6M227 2331l-6-3M226 2293l1-6M220 2281l1 0M221 2281l6 6M233 2283l-2 0M227 2287l4-4M152 2313l0 0M152 2313l-2-5M152 2313l8-1M150 2308l9 4M159 2312l1 0M142 2315l10-2M152 2317l0-4M150 2307l0 1M162 2313l-2-1M152 2303l7 9M63 2304l0-1M67 2312l-3 1M67 2312l5-6M63 2303l4-2M72 2306l-5-5M89 2329l-3-6M72 2329l9-11M86 2323l-5-5M81 2318l0 0M67 2312l14 6M81 2318l0 0M80 2291l1-2M80 2291l-2 4M84 2288l5 9M78 2295l1 1M79 2296l6 5M85 2301l4-4M68 2275l-3 8M71 2281l-2 2M65 2283l4 0M59 2278l2 7M65 2283l-4 2M55 2290l4-1M61 2285l-2 4M80 2291l-7-3M73 2288l-4-5M78 2295l-2 2M76 2297l-8 0M68 2297l-5-6M73 2288l-10 3M102 2278l1 0M102 2278l-5 6M103 2278l2 7M105 2285l-4 3M97 2284l4 4M99 2275l3 3M112 2275l-9 3M87 2286l2 1M89 2287l8-3M113 2289l-8-4M108 2293l-6-1M102 2292l-1-4M273 2368l-1-2M273 2368l8 2M272 2366l10-8M281 2370l7-1M288 2367l0 2M288 2367l-4-8M284 2359l-2-1M272 2368l1 0M269 2362l3 4M275 2381l6-11M280 2356l2 2M288 2369l0 0M300 2361l-12 6M295 2346l-11 13M238 2250l-1 6M238 2250l-10-1M228 2250l0-1M228 2250l3 6M231 2256l6 0M244 2257l-7-1M242 2248l-4 2M217 2252l11-2M230 2261l1-5M230 2264l1 1M220 2345l-1 0M220 2345l-3 5M219 2345l-10 1M217 2350l-4 0M213 2350l-4-4M209 2341l10 4M221 2345l-1 0M217 2358l0-8M207 2345l2 1M211 2352l2-2M234 2302l-6 12M217 2306l3 3M228 2314l-8-5M221 2320l1-1M220 2309l2 10M231 2329l-4-7M231 2329l1 0M232 2329l1-1M233 2328l4-8M231 2316l-3 4M231 2316l4 1M227 2322l1-2M235 2317l2 3M227 2331l4-2M221 2328l6-6M240 2322l-3-2M243 2330l-10-2M228 2314l3 2M222 2319l6 1M237 2314l-2 3M239 2335l-4 0M239 2335l1 5M240 2340l-5 4M232 2337l3 7M232 2337l3-2M235 2344l0 0M244 2330l-5 5M232 2329l3 6M245 2343l-5-3M243 2351l-8-7M227 2337l5 0M234 2344l1 0M223 2279l5 1M223 2279l2-5M228 2280l2-7M225 2274l5-1M221 2281l2-2M231 2283l-3-3M220 2270l5 4M233 2271l-3 2M60 2297l3 5M60 2297l1-7M63 2302l0-11M61 2290l2 1M57 2302l3-5M63 2303l0-1M59 2289l2 1M68 2297l-1 4M63 2291l0 0M80 2305l-6-2M80 2305l1 2M81 2307l-6 0M75 2307l-2-1M73 2306l1-3M79 2296l1 9M76 2297l-2 6M86 2311l-5 7M86 2311l-5-4M81 2318l-6-11M72 2306l1 0M86 2323l10-4M86 2311l1 0M87 2311l9 8M85 2301l4 7M87 2311l2-3M89 2308l3 0M96 2319l2 0M92 2308l6 11M105 2314l-1 0M103 2327l-2-7M104 2314l-3 6M101 2320l-3-1M97 2307l-4 0M97 2307l5-5M93 2307l0-7M93 2300l3-6M102 2302l-2-8M96 2294l4 0M92 2308l1-1M104 2314l-7-7M107 2303l-5-1M89 2297l4 3M89 2287l7 7M102 2292l-2 2" stroke="#2A7A34" stroke-width="1.4" stroke-opacity="0.4" fill="none"/><path transform="scale(.5)" d="M19 2249h0m1 5h0m9 1h0m6-2h0m2 2h0m11-3h0m12-1h0m1 0h0m10 4h0m6-4h0m12 3h0m1-1h0m10 2h0m5-3h0m9 2h0m6 0h0m2 0h0m2 0h0m2-3h0m3 2h0m2 1h0m12 0h0m9-4h0m2 2h0m19 3h0m7-3h0m37-3h0m9 4h0m29 2h0m2-6h0m3 5h0m9-1h0m4-1h0m16-3h0m5 2h0m1 3h0m-275 8h0m5 5h0m0-6h0m9 5h0m9 0h0m0-7h0m3-3h0m1 8h0m4 0h0m1-2h0m0-5h0m1 4h0m6-2h0m5 7h0m0-1h0m3-1h0m10 0h0m3 3h0m3-8h0m2 4h0m2-6h0m0-1h0m2 10h0m12-9h0m1 9h0m19-3h0m5 3h0m7-7h0m2 1h0m4-3h0m1 4h0m2-4h0m2 0h0m9 6h0m2-1h0m1 5h0m1-1h0m9-7h0m0 1h0m1 7h0m6-5h0m0 3h0m4-6h0m3-3h0m11 11h0m4-10h0m15 0h0m1 6h0m7-2h0m4-4h0m17 7h0m5 1h0m0-4h0m1 2h0m1-2h0m7 0h0m0 1h0m5 1h0m2-5h0m0-2h0m4 3h0m6 1h0m2 4h0m0-2h0m2-2h0m3 5h0m8 0h0m1 0h0m4-4h0m4-2h0m9 7h0m-277 9h0m1-1h0m1 2h0m1 0h0m1-5h0m3 8h0m2-7h0m3-1h0m5-3h0m4 7h0m4 1h0m2-8h0m2 9h0m5-3h0m11 5h0m4-2h0m2 1h0m3-10h0m6 8h0m1-3h0m4-5h0m3 1h0m1 0h0m9 9h0m1-9h0m2-1h0m3 0h0m3 4h0m3 6h0m6-5h0m2-3h0m4 8h0m6-8h0m1 9h0m12-6h0m1-1h0m4 0h0m13-1h0m1 4h0m1 1h0m1-5h0m1 5h0m0-7h0m1 9h0m14-1h0m0-1h0m1 0h0m2-1h0m2 2h0m19-8h0m2-1h0m3 0h0m3 1h0m0-1h0m2 1h0m3 10h0m2-2h0m6 0h0m7-2h0m1 2h0m10-2h0m3-3h0m1-3h0m5 9h0m1 0h0m5-2h0m3 0h0m0-3h0m2-5h0m1 0h0m1 8h0m4-3h0m1 0h0m2-3h0m14-1h0m3 5h0m-273 8h0m4-1h0m7 1h0m19 2h0m3 6h0m0-6h0m1 6h0m4-10h0m2 0h0m0 5h0m0-1h0m2-4h0m2 4h0m7 3h0m8 4h0m3-11h0m0 9h0m5-2h0m2-2h0m3 3h0m3-2h0m12 3h0m1-3h0m0 4h0m1-1h0m2-5h0m9 0h0m2 6h0m1-9h0m10 4h0m7 2h0m1-1h0m3 4h0m6-1h0m5-9h0m5 4h0m4-2h0m1 4h0m0-4h0m11 4h0m0 4h0m3 0h0m1-10h0m7 11h0m1-6h0m2 6h0m3-11h0m4 6h0m1 3h0m2-7h0m9 7h0m8-6h0m3 6h0m15-9h0m13 11h0m6-8h0m5 4h0m0 1h0m1 2h0m1-5h0m9 4h0m3-7h0m2 7h0m1-5h0m1 5h0m1 2h0m2-5h0m11 4h0m-274 3h0m0 0h0m12 3h0m8 4h0m3-6h0m2 1h0m3 1h0m6-3h0m0 7h0m3-7h0m2 5h0m2-4h0m15 3h0m9 0h0m13 4h0m1-3h0m2 5h0m3-10h0m7-1h0m8 3h0m0 1h0m1 2h0m1-2h0m9 3h0m1 0h0m1-7h0m3 2h0m1 3h0m3-1h0m1 4h0m9-8h0m0 1h0m2 3h0m4 1h0m4-5h0m6 9h0m3 0h0m3-5h0m4 5h0m7-4h0m1-2h0m1 8h0m1 0h0m1-2h0m5-5h0m6 6h0m4-7h0m1 0h0m6 2h0m4 5h0m5-7h0m4-3h0m9 7h0m1-3h0m4 5h0m1 2h0m2-5h0m12-4h0m6 2h0m1 0h0m7-3h0m1 0h0m3 6h0m1-1h0m1-1h0m5 2h0m5-1h0m5-5h0m2 9h0m0-6h0m1-3h0m1 2h0m1 5h0m0-2h0m5-1h0m3 5h0m8-6h0m-282 9h0m7 2h0m1 1h0m4 6h0m1-5h0m1 6h0m14 0h0m4 0h0m10-3h0m9-3h0m2 6h0m10-4h0m2-2h0m0 6h0m21-6h0m1 2h0m1-7h0m3 8h0m12-4h0m4 4h0m1-1h0m11 3h0m9 0h0m9-8h0m1-2h0m0 1h0m21-1h0m6 4h0m1-4h0m7 11h0m2-6h0m8 2h0m4-1h0m0 1h0m18 0h0m1 2h0m8-5h0m15 7h0m9-9h0m8 6h0m6 0h0m10-8h0m5 7h0m6 0h0m4-7h0m0 10h0m-283 6h0m3 0h0m9 5h0m12-7h0m3 8h0m3-5h0m2-3h0m2 3h0m10-1h0m2 2h0m6 2h0m4 1h0m0-5h0m0-4h0m1 6h0m7-5h0m3 0h0m0 7h0m1 2h0m0-6h0m2-2h0m2 9h0m2-7h0m14 2h0m13 3h0m6-6h0m0 1h0m1-4h0m4 1h0m7 8h0m4 1h0m5-2h0m8-3h0m10 5h0m2-2h0m1-6h0m11 1h0m1 8h0m1-1h0m7-2h0m6 0h0m0 3h0m3-7h0m1 4h0m6-8h0m14 8h0m0-2h0m3-4h0m6-2h0m16 6h0m5 3h0m3-7h0m8-2h0m1 3h0m10-1h0m1 4h0m3-1h0m0-1h0m8-4h0m3 11h0m2-4h0m6-7h0m3 0h0m-264 17h0m17 6h0m4-6h0m1-1h0m1-4h0m3 0h0m5 1h0m0 2h0m1 6h0m1-3h0m2-1h0m2 4h0m2-1h0m15-3h0m3-4h0m1 6h0m0 3h0m3-4h0m1-5h0m3 7h0m2-1h0m4-6h0m7 10h0m13-6h0m22 2h0m1-5h0m4 8h0m14-9h0m5 3h0m2 2h0m1 2h0m6-4h0m1-3h0m5 10h0m5-1h0m3-7h0m4-2h0m0 2h0m2 5h0m7-1h0m12 3h0m13-3h0m3 0h0m5 4h0m8-2h0m5-3h0m16 5h0m2-9h0m15 3h0m0-5h0m1 5h0m3 2h0m0-3h0m7 0h0m4 1h0m8-4h0m-286 19h0m12-2h0m3 0h0m4-1h0m7 0h0m1 1h0m0 2h0m0-6h0m8 7h0m2-4h0m5-1h0m2 2h0m9-4h0m0 5h0m13 0h0m6-6h0m6 7h0m2 1h0m5-2h0m4-7h0m7 0h0m6 4h0m1-3h0m8 9h0m2-2h0m13-4h0m3 5h0m2-8h0m7 4h0m4 0h0m2 1h0m0-2h0m18-3h0m11 9h0m4 0h0m9 1h0m1-10h0m4 9h0m2-7h0m3 3h0m5 1h0m1 0h0m21 1h0m10-1h0m5-2h0m1 4h0m3 1h0m3-5h0m10 4h0m1-8h0m1 5h0m6-5h0m0 0h0m1 5h0m3 5h0m2-11h0m6 2h0m6 5h0m3-4h0m-285 18h0m0-5h0m7 6h0m1-10h0m8 6h0m0-4h0m8 2h0m3-3h0m1 7h0m2-4h0m0 5h0m4-2h0m6 3h0m6-10h0m3 3h0m0-1h0m16 9h0m3-5h0m15-4h0m2 5h0m15-7h0m5 0h0m5 10h0m0 1h0m3-4h0m1-6h0m2-1h0m3 3h0m3 2h0m1 3h0m2-4h0m1 2h0m2 1h0m8 4h0m2-3h0m3-3h0m2-3h0m3-1h0m3 10h0m10-3h0m0 3h0m4-2h0m15-1h0m12-4h0m4 5h0m2-4h0m5 3h0m4-8h0m4 7h0m5-6h0m0 10h0m14-5h0m0-3h0m2 7h0m5-6h0m11-1h0m20 6h0m0-9h0m0 11h0m-265 3h0m0 7h0m3-7h0m1 0h0m8 6h0m2-8h0m3 7h0m2-6h0m2 10h0m0-9h0m2-2h0m17 10h0m1-9h0m8 2h0m4-3h0m8 9h0m4 0h0m1-4h0m7-4h0m0 8h0m4-7h0m3 2h0m1 4h0m9 3h0m3-11h0m2 3h0m4-3h0m12 6h0m0 4h0m4-5h0m2 1h0m0 1h0m2-5h0m3 5h0m1-5h0m6 2h0m3-4h0m3 10h0m11-7h0m4-2h0m1 9h0m2-2h0m16 3h0m4-5h0m1-5h0m14 10h0m7-4h0m1-4h0m4 0h0m0 7h0m6-6h0m4 3h0m9-6h0m4 4h0m1-3h0m6 5h0m5-2h0m0 2h0m4 3h0m1-2h0m4-3h0m5-5h0m2 4h0m8 1h0m12 3h0m2-1h0m6-2h0m2 1h0m1 4h0m2-6h0m-288 18h0m2 0h0m0-6h0m4 4h0m2-8h0m2 6h0m5 5h0m5-3h0m3-1h0m10-7h0m11 11h0m6-11h0m4 7h0m3 0h0m0-4h0m8 1h0m8 0h0m5 5h0m1-2h0m8 2h0m3 0h0m9 0h0m6-7h0m7 9h0m3-11h0m1 2h0m0 9h0m3-2h0m2 1h0m4 1h0m5-4h0m4 2h0m9-8h0m6 8h0m12-6h0m7 3h0m1-1h0m8 5h0m1-8h0m0-2h0m5 8h0m6 3h0m3-7h0m3 1h0m1 3h0m0 1h0m1 1h0m20-2h0m1-6h0m2 6h0m9 3h0m8-7h0m4 4h0m5 2h0m9-5h0m1 6h0m2-2h0m18-2h0m3 4h0m0-10h0m1 5h0m6-4h0m0 6h0m-283 14h0m9-8h0m3 8h0m1-9h0m2-1h0m1 5h0m11 4h0m7-8h0m3 2h0m3 4h0m1-3h0m2 6h0m3-8h0m7 8h0m15 0h0m1-7h0m2-1h0m1-2h0m0 9h0m3-6h0m2 4h0m4 2h0m6 0h0m2-7h0m2 9h0m11-1h0m2-5h0m2-4h0m7 7h0m6-6h0m1 0h0m4 3h0m9 0h0m2-5h0m7 6h0m4-5h0m1-1h0m8 8h0m5-7h0m3 3h0m11 3h0m8-4h0m2 3h0m2 0h0m3 2h0m2 2h0m5-2h0m1 1h0m2-8h0m2 10h0m0-10h0m4 1h0m2-2h0m2 3h0m7-2h0m2 6h0m1 4h0m4-1h0m5-9h0m1-1h0m5 0h0m1 5h0m6-2h0m4-3h0m1 5h0m2-3h0m1 3h0m2-1h0m13 4h0m4-8h0m1 1h0m1 3h0m1-1h0m3 7h0m6-7h0m-274 20h0m1-6h0m6-2h0m0 5h0m7 3h0m15-11h0m5 3h0m7 6h0m4-6h0m2 3h0m2 3h0m6-5h0m2 0h0m0-2h0m3-2h0m9 8h0m0 2h0m9-7h0m5 4h0m1-2h0m0 0h0m2 1h0m2 5h0m3-9h0m3 9h0m5-1h0m3-1h0m6 0h0m2-4h0m12 2h0m13 2h0m3 1h0m3-1h0m15-3h0m3 1h0m2-5h0m3-1h0m8 8h0m4-8h0m5 3h0m14 7h0m2-4h0m1-5h0m2-1h0m0 7h0m2-4h0m0-1h0m0 7h0m6 0h0m5-6h0m10 1h0m1-1h0m1 4h0m5 3h0m3-9h0m5-2h0m1 2h0m4 6h0m1 1h0m6-7h0m1 1h0m1 1h0m1 2h0m5-3h0m10 2h0m1 2h0m2 1h0m0-8h0m10 11h0m-285 2h0m52 1h0m12-2h0m2 1h0m15 1h0m6-2h0m17 1h0m18-1h0m25 1h0m20-1h0m31 0h0m58 2h0" stroke="#3A9444" stroke-width="2.4" stroke-linecap="round" fill="none" opacity="0.6"/><path transform="scale(.5)" d="M20 2252h0m2-3h0m26-1h0m10 3h0m6 4h0m2-6h0m3 5h0m9-4h0m2 0h0m5 4h0m27 1h0m26-2h0m1 1h0m6 1h0m4-3h0m10 1h0m28-4h0m11 6h0m12-2h0m5-4h0m9 6h0m34-6h0m14 6h0m2-2h0m30-3h0m-258 16h0m3-9h0m5 7h0m13-5h0m9 1h0m7 3h0m0-1h0m3 1h0m7 4h0m8-1h0m2-4h0m2 2h0m6-8h0m11 9h0m3 0h0m36 1h0m10-8h0m9 4h0m0 4h0m2-9h0m3 1h0m10-2h0m4 7h0m0-2h0m27-1h0m25-2h0m10 5h0m2 3h0m14-4h0m6-2h0m9-2h0m0-1h0m4 4h0m6 1h0m-282 14h0m10 1h0m20-8h0m1 4h0m14-2h0m7 8h0m5-4h0m2 2h0m3-5h0m0 5h0m14 2h0m0-9h0m24 8h0m15 1h0m5-8h0m6-2h0m2 7h0m3-7h0m2-1h0m3 11h0m11-10h0m13 1h0m4-1h0m1 1h0m19 1h0m0 5h0m3 0h0m11-8h0m4 4h0m10 5h0m7-3h0m5-3h0m3 2h0m27 4h0m3 1h0m0-4h0m17-4h0m-269 15h0m5-4h0m11 5h0m31 0h0m9 1h0m8-3h0m11-2h0m13-2h0m10 11h0m1-5h0m4 4h0m13-9h0m23 6h0m10 3h0m1-1h0m4 0h0m5-8h0m15 10h0m8-8h0m1 1h0m7-1h0m3 7h0m10-6h0m4-2h0m1 3h0m7 6h0m6-1h0m4-7h0m0 8h0m1-9h0m6 1h0m4-2h0m2 3h0m9 0h0m9 5h0m12 2h0m6-8h0m-283 16h0m15-3h0m5 7h0m22-10h0m2 10h0m1-4h0m2-7h0m4 3h0m5 8h0m0-8h0m6 4h0m0-3h0m27 5h0m21-9h0m2 1h0m20 5h0m4 5h0m3 0h0m0-8h0m2 7h0m1-3h0m12-1h0m7-6h0m7 3h0m1 5h0m4 2h0m8-4h0m12-4h0m3 6h0m14-7h0m0 0h0m2 8h0m15-6h0m9 1h0m11-4h0m3 5h0m0 3h0m2-4h0m1-2h0m6-2h0m11 0h0m12 1h0m5 6h0m-268 15h0m11-3h0m4-2h0m6-2h0m4 1h0m9 3h0m4-1h0m7-4h0m2 5h0m5-1h0m19-4h0m7-1h0m7 6h0m6-5h0m25-1h0m1 2h0m7 1h0m20 3h0m15 1h0m0-6h0m3 8h0m16-4h0m6 4h0m4-9h0m28 3h0m5 7h0m2-8h0m7 8h0m5-7h0m4 1h0m6-2h0m-267 19h0m15-5h0m4-2h0m1-1h0m6 8h0m34-9h0m1 6h0m6-7h0m2 2h0m20 9h0m2-10h0m9 10h0m14-3h0m4-6h0m5 7h0m40-1h0m10 2h0m35-3h0m15-2h0m3-1h0m7-2h0m31-1h0m26 7h0m-284 12h0m3 1h0m7-3h0m4 0h0m7 5h0m0-11h0m24 7h0m9 0h0m1 3h0m5 0h0m4-4h0m4 0h0m16-5h0m2 0h0m0 10h0m3-10h0m11 4h0m4-4h0m10 3h0m9-2h0m5 3h0m14-5h0m2 8h0m14-3h0m3 2h0m1-5h0m1 4h0m7-2h0m25 7h0m8-10h0m6 5h0m9-2h0m1 7h0m21-8h0m6-2h0m1-1h0m20 4h0m4-4h0m3 11h0m9-7h0m-286 17h0m1-2h0m13-2h0m11 0h0m15-2h0m4 3h0m8-1h0m14 6h0m6-3h0m1-8h0m0 4h0m6 5h0m4-6h0m0 4h0m1-2h0m2 2h0m0-2h0m3 5h0m16 1h0m15-3h0m1-8h0m11 5h0m1-3h0m3-1h0m5 4h0m24 6h0m13-3h0m12-7h0m17 7h0m3 3h0m3-4h0m5-5h0m14 6h0m13-8h0m17 10h0m2-10h0m-261 14h0m5 0h0m13 2h0m16 7h0m2-7h0m7 5h0m3 1h0m22-5h0m1-5h0m7 10h0m2-8h0m9-1h0m4 6h0m18 3h0m2-8h0m14 7h0m8 2h0m1-4h0m11-4h0m0 6h0m7-1h0m11 3h0m1-4h0m36 2h0m9-7h0m8 7h0m5 2h0m13-4h0m19 1h0m5 2h0m4-6h0m15 2h0m1-1h0m1-3h0m-282 20h0m1-3h0m24-7h0m0 10h0m3-3h0m10 1h0m0-8h0m1 3h0m1 3h0m3-1h0m1 5h0m2 0h0m5-8h0m6-1h0m1-1h0m6 8h0m15-8h0m0 9h0m7 2h0m10-8h0m6 3h0m4-5h0m9 3h0m14 2h0m1 4h0m5-10h0m4 10h0m1-10h0m5 3h0m18 6h0m9-8h0m1 4h0m5-2h0m6-3h0m5 6h0m20 0h0m7-1h0m1-2h0m17 8h0m4-9h0m1 9h0m0 0h0m2-4h0m5 2h0m33-6h0m-280 19h0m15 1h0m1-8h0m9-2h0m3 8h0m3 2h0m4-10h0m28 4h0m8 0h0m6-4h0m11 9h0m0-5h0m7 0h0m1-1h0m5 0h0m7 5h0m24-7h0m16 0h0m10 5h0m27-1h0m0-2h0m1 0h0m2-1h0m1-3h0m8 11h0m0-9h0m5 3h0m10-3h0m6-2h0m1 11h0m12-7h0m5 4h0m6 2h0m2-7h0m9 1h0m1-1h0m5-1h0m8 8h0m-263 6h0m0 6h0m6 1h0m3-6h0m5 1h0m4-5h0m7 2h0m8 4h0m0-7h0m11 7h0m8 3h0m2-9h0m1 6h0m1-2h0m6-2h0m5-3h0m0 3h0m13 2h0m2-5h0m11 6h0m1 1h0m16-6h0m14 4h0m1 0h0m3-5h0m2 2h0m1 9h0m17-11h0m15 6h0m1-5h0m10 6h0m25-5h0m6-1h0m8 3h0m25 3h0m6-2h0m3-5h0m-245 22h0m2-8h0m12 1h0m7 3h0m3 0h0m4-6h0m6 9h0m6-9h0m26 6h0m0 1h0m0-7h0m4 7h0m9-2h0m1 6h0m8-6h0m8 0h0m5 6h0m1-4h0m4-1h0m4 4h0m0-5h0m16-3h0m16-1h0m1 8h0m2 0h0m61-1h0m26 1h0m10-8h0m6 9h0m3 0h0m1-8h0m6 8h0m9-9h0m1 7h0m6-3h0m0 1h0m-244 7h0m6 0h0m60 0h0m166-1h0" stroke="#0A200C" stroke-width="2.8" stroke-linecap="round" fill="none" opacity="0.7"/><path d="M91 1183.7a4 3.3 0 1 0 8 0a4 3.3 0 1 0 -8 0M147.8 1158.9a3.1 2.6 0 1 0 6.2 0a3.1 2.6 0 1 0 -6.2 0M100.2 1139.3a5.2 4.9 0 1 0 10.4 0a5.2 4.9 0 1 0 -10.4 0M30.3 1196.2a5.4 5.2 0 1 0 10.9 0a5.4 5.2 0 1 0 -10.9 0M30.8 1204.9a1.3 1.2 0 1 0 2.6 0a1.3 1.2 0 1 0 -2.6 0M100.3 1160.4a2.1 1.8 0 1 0 4.3 0a2.1 1.8 0 1 0 -4.3 0M73.6 1188.2a1.4 1.3 0 1 0 2.9 0a1.4 1.3 0 1 0 -2.9 0M111.3 1165.3a1.2 1.1 0 1 0 2.4 0a1.2 1.1 0 1 0 -2.4 0M32.9 1136.9a1.9 1.8 0 1 0 3.8 0a1.9 1.8 0 1 0 -3.8 0M5.1 1138.9a1.5 1.5 0 1 0 3 0a1.5 1.5 0 1 0 -3 0M87.6 1157a3.6 3.5 0 1 0 7.1 0a3.6 3.5 0 1 0 -7.1 0M97.6 1123.2a1.4 1.4 0 1 0 2.9 0a1.4 1.4 0 1 0 -2.9 0M105 1128.9a5.3 4.9 0 1 0 10.6 0a5.3 4.9 0 1 0 -10.6 0M140.2 1123.8a1.6 1.3 0 1 0 3.3 0a1.6 1.3 0 1 0 -3.3 0M54.1 1198.7a1 0.9 0 1 0 2 0a1 0.9 0 1 0 -2 0M43.4 1137.8a2.8 2.5 0 1 0 5.6 0a2.8 2.5 0 1 0 -5.6 0M116.5 1199.6a1.4 1.4 0 1 0 2.8 0a1.4 1.4 0 1 0 -2.8 0M121 1123.5a1.1 0.9 0 1 0 2.1 0a1.1 0.9 0 1 0 -2.1 0M49.1 1193.9a3.5 3.3 0 1 0 7 0a3.5 3.3 0 1 0 -7 0M91 1201.4a3.2 3.1 0 1 0 6.3 0a3.2 3.1 0 1 0 -6.3 0M132.8 1201.9a1.6 1.5 0 1 0 3.1 0a1.6 1.5 0 1 0 -3.1 0M2.4 1146.2a3.6 3.5 0 1 0 7.2 0a3.6 3.5 0 1 0 -7.2 0M115.1 1153.1a1 0.9 0 1 0 2.1 0a1 0.9 0 1 0 -2.1 0M88.1 1163.2a1.2 1.1 0 1 0 2.4 0a1.2 1.1 0 1 0 -2.4 0M1.6 1173.3a3.9 3.6 0 1 0 7.8 0a3.9 3.6 0 1 0 -7.8 0M117.7 1177.2a0.9 0.9 0 1 0 1.9 0a0.9 0.9 0 1 0 -1.9 0M66.7 1197.2a1.2 1.2 0 1 0 2.4 0a1.2 1.2 0 1 0 -2.4 0M53.8 1186.7a3.4 3.1 0 1 0 6.8 0a3.4 3.1 0 1 0 -6.8 0M103 1202.8a2.6 2.1 0 1 0 5.2 0a2.6 2.1 0 1 0 -5.2 0M137.5 1154.7a3.5 3 0 1 0 7 0a3.5 3 0 1 0 -7 0M6.2 1192a2.8 2.5 0 1 0 5.5 0a2.8 2.5 0 1 0 -5.5 0M65.6 1175.1a1.2 1.1 0 1 0 2.4 0a1.2 1.1 0 1 0 -2.4 0M6.8 1159.3a1.5 1.5 0 1 0 3 0a1.5 1.5 0 1 0 -3 0M93.2 1139.9a0.9 0.9 0 1 0 1.8 0a0.9 0.9 0 1 0 -1.8 0M12.5 1147.7a1.5 1.4 0 1 0 3.1 0a1.5 1.4 0 1 0 -3.1 0M5.3 1123.1a0.9 0.9 0 1 0 1.8 0a0.9 0.9 0 1 0 -1.8 0M139.3 1163.8a2 1.9 0 1 0 4.1 0a2 1.9 0 1 0 -4.1 0M119.1 1152a1.8 1.8 0 1 0 3.7 0a1.8 1.8 0 1 0 -3.7 0M21.6 1158.4a1.9 1.6 0 1 0 3.9 0a1.9 1.6 0 1 0 -3.9 0M22.2 1175a5.5 5.3 0 1 0 11 0a5.5 5.3 0 1 0 -11 0M36 1158.6a3.4 3.4 0 1 0 6.8 0a3.4 3.4 0 1 0 -6.8 0M102.9 1149a2.5 2.4 0 1 0 5 0a2.5 2.4 0 1 0 -5 0M119.2 1146.5a2.7 2.4 0 1 0 5.5 0a2.7 2.4 0 1 0 -5.5 0M92.2 1129.1a1.2 1.1 0 1 0 2.4 0a1.2 1.1 0 1 0 -2.4 0M42.7 1144.7a3.3 2.8 0 1 0 6.6 0a3.3 2.8 0 1 0 -6.6 0M149.8 1165.6a2.6 2.2 0 1 0 5.2 0a2.6 2.2 0 1 0 -5.2 0M135.3 1186.9a4.4 3.8 0 1 0 8.7 0a4.4 3.8 0 1 0 -8.7 0M50.1 1202.2a2.4 2 0 1 0 4.8 0a2.4 2 0 1 0 -4.8 0M17 1187a1.6 1.5 0 1 0 3.1 0a1.6 1.5 0 1 0 -3.1 0M56.1 1125.1a1.5 1.3 0 1 0 3.1 0a1.5 1.3 0 1 0 -3.1 0M111.7 1140.2a1 0.9 0 1 0 1.9 0a1 0.9 0 1 0 -1.9 0M80.6 1170.3a1.5 1.3 0 1 0 2.9 0a1.5 1.3 0 1 0 -2.9 0M138.6 1203.3a1.4 1.3 0 1 0 2.9 0a1.4 1.3 0 1 0 -2.9 0M64 1152a5.2 5.1 0 1 0 10.4 0a5.2 5.1 0 1 0 -10.4 0M84.6 1145.1a4.2 3.8 0 1 0 8.5 0a4.2 3.8 0 1 0 -8.5 0M83.9 1123.6a3.7 3.2 0 1 0 7.4 0a3.7 3.2 0 1 0 -7.4 0M47 1181.7a2.7 2.3 0 1 0 5.4 0a2.7 2.3 0 1 0 -5.4 0M80.7 1149.1a1 1 0 1 0 2 0a1 1 0 1 0 -2 0M96.1 1191.3a2.4 2.4 0 1 0 4.9 0a2.4 2.4 0 1 0 -4.9 0M75.4 1145.9a1.9 1.8 0 1 0 3.7 0a1.9 1.8 0 1 0 -3.7 0M36.6 1150.2a2.6 2.5 0 1 0 5.1 0a2.6 2.5 0 1 0 -5.1 0M35.4 1179.2a0.9 0.8 0 1 0 1.9 0a0.9 0.8 0 1 0 -1.9 0M25.8 1167.5a1.2 1 0 1 0 2.3 0a1.2 1 0 1 0 -2.3 0M135.1 1135.1a4.2 3.7 0 1 0 8.3 0a4.2 3.7 0 1 0 -8.3 0M128.3 1131.8a1 1 0 1 0 2 0a1 1 0 1 0 -2 0M42.9 1202.5a1 0.8 0 1 0 2 0a1 0.8 0 1 0 -2 0M83.3 1192.7a1.7 1.4 0 1 0 3.4 0a1.7 1.4 0 1 0 -3.4 0M137.5 1145.1a1.9 1.7 0 1 0 3.8 0a1.9 1.7 0 1 0 -3.8 0M80.4 1135.4a3.3 3.1 0 1 0 6.5 0a3.3 3.1 0 1 0 -6.5 0M142.9 1171.6a3.2 2.8 0 1 0 6.3 0a3.2 2.8 0 1 0 -6.3 0M23.6 1141.9a3.1 2.8 0 1 0 6.1 0a3.1 2.8 0 1 0 -6.1 0M145.5 1125.4a3.2 3.1 0 1 0 6.3 0a3.2 3.1 0 1 0 -6.3 0M56.6 1152.6a2.9 2.8 0 1 0 5.8 0a2.9 2.8 0 1 0 -5.8 0M145.4 1144.6a2.1 1.7 0 1 0 4.1 0a2.1 1.7 0 1 0 -4.1 0M19.9 1126.3a2.5 2.4 0 1 0 5 0a2.5 2.4 0 1 0 -5 0M28 1154.3a4 3.7 0 1 0 8 0a4 3.7 0 1 0 -8 0M-0.2 1199.8a4.8 4 0 1 0 9.6 0a4.8 4 0 1 0 -9.6 0M86.3 1152.4a0.9 0.9 0 1 0 1.9 0a0.9 0.9 0 1 0 -1.9 0M75.4 1152.5a2.4 2.2 0 1 0 4.8 0a2.4 2.2 0 1 0 -4.8 0M150.4 1199a2 1.8 0 1 0 4 0a2 1.8 0 1 0 -4 0M64.6 1132.5a1.1 1 0 1 0 2.2 0a1.1 1 0 1 0 -2.2 0M26.1 1188a1.4 1.3 0 1 0 2.9 0a1.4 1.3 0 1 0 -2.9 0M24 1152.7a1.5 1.4 0 1 0 3.1 0a1.5 1.4 0 1 0 -3.1 0M26.2 1147.3a1.2 1.1 0 1 0 2.3 0a1.2 1.1 0 1 0 -2.3 0M103.3 1165.3a1.4 1.3 0 1 0 2.9 0a1.4 1.3 0 1 0 -2.9 0M124.6 1199.4a0.9 0.8 0 1 0 1.8 0a0.9 0.8 0 1 0 -1.8 0M71.3 1128.7a4.6 4 0 1 0 9.3 0a4.6 4 0 1 0 -9.3 0M81.4 1208.5a1.2 1 0 1 0 2.3 0a1.2 1 0 1 0 -2.3 0M84.1 1186.8a1.4 1.2 0 1 0 2.8 0a1.4 1.2 0 1 0 -2.8 0M43.8 1171.1a0.9 0.9 0 1 0 1.9 0a0.9 0.9 0 1 0 -1.9 0M109.8 1174.9a0.9 0.8 0 1 0 1.8 0a0.9 0.8 0 1 0 -1.8 0M8.1 1164.7a2.3 2.2 0 1 0 4.5 0a2.3 2.2 0 1 0 -4.5 0M86.7 1180.6a1.6 1.4 0 1 0 3.2 0a1.6 1.4 0 1 0 -3.2 0M33 1125.2a3.6 3.5 0 1 0 7.3 0a3.6 3.5 0 1 0 -7.3 0M32.9 1183.9a1.3 1.1 0 1 0 2.7 0a1.3 1.1 0 1 0 -2.7 0M37.4 1131.2a1.3 1.2 0 1 0 2.7 0a1.3 1.2 0 1 0 -2.7 0M124.8 1205a1.3 1.1 0 1 0 2.7 0a1.3 1.1 0 1 0 -2.7 0M116.9 1129.4a2.4 2 0 1 0 4.7 0a2.4 2 0 1 0 -4.7 0M41.7 1176.2a3 2.7 0 1 0 6.1 0a3 2.7 0 1 0 -6.1 0M73.8 1170.2a2.5 2.4 0 1 0 4.9 0a2.5 2.4 0 1 0 -4.9 0M75.7 1163.1a1.9 1.8 0 1 0 3.8 0a1.9 1.8 0 1 0 -3.8 0M65.4 1208.6a3.6 3.5 0 1 0 7.2 0a3.6 3.5 0 1 0 -7.2 0M5 1207a1.9 1.6 0 1 0 3.8 0a1.9 1.6 0 1 0 -3.8 0M81.9 1162.9a1 0.9 0 1 0 2 0a1 0.9 0 1 0 -2 0M143.3 1208.2a1.1 0.9 0 1 0 2.2 0a1.1 0.9 0 1 0 -2.2 0M83.8 1160.3a1 0.9 0 1 0 2 0a1 0.9 0 1 0 -2 0M106.7 1184.8a5.4 5.3 0 1 0 10.8 0a5.4 5.3 0 1 0 -10.8 0M51 1134.4a3 2.6 0 1 0 6 0a3 2.6 0 1 0 -6 0M51.4 1173.7a5.1 4.4 0 1 0 10.2 0a5.1 4.4 0 1 0 -10.2 0M48.1 1123.2a1.7 1.6 0 1 0 3.4 0a1.7 1.6 0 1 0 -3.4 0M28.4 1182.1a0.9 0.8 0 1 0 1.8 0a0.9 0.8 0 1 0 -1.8 0M105.9 1161.4a1.3 1.3 0 1 0 2.7 0a1.3 1.3 0 1 0 -2.7 0M120.7 1181.5a4.6 4 0 1 0 9.2 0a4.6 4 0 1 0 -9.2 0M3.7 1182.1a1.9 1.6 0 1 0 3.7 0a1.9 1.6 0 1 0 -3.7 0M4.1 1126.9a1.8 1.7 0 1 0 3.6 0a1.8 1.7 0 1 0 -3.6 0M146 1152.6a2.5 2.2 0 1 0 5 0a2.5 2.2 0 1 0 -5 0M46.3 1151.5a1.7 1.6 0 1 0 3.5 0a1.7 1.6 0 1 0 -3.5 0M120.8 1163a2.2 2.2 0 1 0 4.5 0a2.2 2.2 0 1 0 -4.5 0M75.1 1205.4a1.2 1.2 0 1 0 2.5 0a1.2 1.2 0 1 0 -2.5 0M72.2 1144.9a1 0.9 0 1 0 2.1 0a1 0.9 0 1 0 -2.1 0M129.4 1167a1.6 1.6 0 1 0 3.2 0a1.6 1.6 0 1 0 -3.2 0M113.9 1159.9a1 0.9 0 1 0 1.9 0a1 0.9 0 1 0 -1.9 0M14.6 1167.9a4.6 4.1 0 1 0 9.3 0a4.6 4.1 0 1 0 -9.3 0M126.9 1192.7a4.2 3.9 0 1 0 8.4 0a4.2 3.9 0 1 0 -8.4 0M58.3 1195.5a1 0.9 0 1 0 2 0a1 0.9 0 1 0 -2 0M92.3 1175.8a2.8 2.4 0 1 0 5.6 0a2.8 2.4 0 1 0 -5.6 0M116.9 1135.1a2.1 2.1 0 1 0 4.3 0a2.1 2.1 0 1 0 -4.3 0M85.7 1174.5a1.5 1.4 0 1 0 2.9 0a1.5 1.4 0 1 0 -2.9 0M58.3 1129.3a2.4 2.1 0 1 0 4.8 0a2.4 2.1 0 1 0 -4.8 0M41.8 1131.9a1.2 1.1 0 1 0 2.3 0a1.2 1.1 0 1 0 -2.3 0M87.7 1170.4a1 1 0 1 0 2 0a1 1 0 1 0 -2 0M9.3 1204.4a4.7 4.2 0 1 0 9.4 0a4.7 4.2 0 1 0 -9.4 0M109.2 1148.6a3 2.8 0 1 0 6.1 0a3 2.8 0 1 0 -6.1 0M101.1 1194a0.9 0.9 0 1 0 1.9 0a0.9 0.9 0 1 0 -1.9 0M104.8 1157a1.4 1.3 0 1 0 2.8 0a1.4 1.3 0 1 0 -2.8 0M136.1 1171.2a1.3 1.1 0 1 0 2.6 0a1.3 1.1 0 1 0 -2.6 0M62.5 1173.2a0.9 0.8 0 1 0 1.8 0a0.9 0.8 0 1 0 -1.8 0M126.1 1152.5a0.9 0.8 0 1 0 1.9 0a0.9 0.8 0 1 0 -1.9 0M60.4 1158a0.9 0.9 0 1 0 1.8 0a0.9 0.9 0 1 0 -1.8 0M16.2 1130.6a0.9 0.8 0 1 0 1.8 0a0.9 0.8 0 1 0 -1.8 0M140.5 1198a2.6 2.5 0 1 0 5.1 0a2.6 2.5 0 1 0 -5.1 0M93.4 1208.2a2.8 2.7 0 1 0 5.7 0a2.8 2.7 0 1 0 -5.7 0M22.2 1197.9a1.5 1.4 0 1 0 2.9 0a1.5 1.4 0 1 0 -2.9 0M79.5 1158.2a1.7 1.6 0 1 0 3.3 0a1.7 1.6 0 1 0 -3.3 0M147.3 1135.8a2.5 2.1 0 1 0 5 0a2.5 2.1 0 1 0 -5 0M103.5 1190.9a0.9 0.8 0 1 0 1.8 0a0.9 0.8 0 1 0 -1.8 0M14.2 1139.7a3.4 3.4 0 1 0 6.8 0a3.4 3.4 0 1 0 -6.8 0M21.8 1206.7a1.6 1.5 0 1 0 3.2 0a1.6 1.5 0 1 0 -3.2 0M106.5 1171.2a2.3 2.1 0 1 0 4.6 0a2.3 2.1 0 1 0 -4.6 0M144 1137.9a1.2 1 0 1 0 2.3 0a1.2 1 0 1 0 -2.3 0M109.8 1206.7a4.5 4.1 0 1 0 9 0a4.5 4.1 0 1 0 -9 0M53.4 1155.1a1 1 0 1 0 2.1 0a1 1 0 1 0 -2.1 0M60.5 1191a4.3 3.9 0 1 0 8.6 0a4.3 3.9 0 1 0 -8.6 0M136.4 1177.5a3.3 3.2 0 1 0 6.5 0a3.3 3.2 0 1 0 -6.5 0M51.6 1127.1a1.1 0.9 0 1 0 2.1 0a1.1 0.9 0 1 0 -2.1 0M126.3 1162.4a1.9 1.9 0 1 0 3.9 0a1.9 1.9 0 1 0 -3.9 0M145.5 1204.1a1.8 1.8 0 1 0 3.6 0a1.8 1.8 0 1 0 -3.6 0M36.3 1167.1a3 2.8 0 1 0 6 0a3 2.8 0 1 0 -6 0M129.4 1152.2a3 2.9 0 1 0 6.1 0a3 2.9 0 1 0 -6.1 0M101.9 1129.8a1 0.9 0 1 0 1.9 0a1 0.9 0 1 0 -1.9 0M68.9 1134.1a0.9 0.8 0 1 0 1.9 0a0.9 0.8 0 1 0 -1.9 0M77.8 1141.2a0.9 0.8 0 1 0 1.8 0a0.9 0.8 0 1 0 -1.8 0M45.3 1157.5a1.4 1.3 0 1 0 2.8 0a1.4 1.3 0 1 0 -2.8 0M90.3 1178.2a0.9 0.8 0 1 0 1.8 0a0.9 0.8 0 1 0 -1.8 0M58.1 1140.4a1.1 1 0 1 0 2.3 0a1.1 1 0 1 0 -2.3 0M120.3 1167.7a1 1 0 1 0 2.1 0a1 1 0 1 0 -2.1 0M68.6 1169.7a0.9 0.8 0 1 0 1.8 0a0.9 0.8 0 1 0 -1.8 0M80.4 1181a2.6 2.5 0 1 0 5.3 0a2.6 2.5 0 1 0 -5.3 0M99.6 1151a1.1 1 0 1 0 2.3 0a1.1 1 0 1 0 -2.3 0M89.1 1129.4a1.1 1 0 1 0 2.2 0a1.1 1 0 1 0 -2.2 0M134.2 1147.5a0.9 0.8 0 1 0 1.8 0a0.9 0.8 0 1 0 -1.8 0M126 1137.5a2.7 2.4 0 1 0 5.3 0a2.7 2.4 0 1 0 -5.3 0M15.9 1145a1 0.8 0 1 0 2 0a1 0.8 0 1 0 -2 0M129.7 1125.8a1.5 1.3 0 1 0 3 0a1.5 1.3 0 1 0 -3 0M96 1162.3a1.7 1.5 0 1 0 3.4 0a1.7 1.5 0 1 0 -3.4 0M14.2 1191.8a2.2 2.1 0 1 0 4.4 0a2.2 2.1 0 1 0 -4.4 0M126.9 1174a0.9 0.8 0 1 0 1.8 0a0.9 0.8 0 1 0 -1.8 0M150.1 1146.5a2.5 2.1 0 1 0 5 0a2.5 2.1 0 1 0 -5 0M149 1192.3a1.4 1.3 0 1 0 2.8 0a1.4 1.3 0 1 0 -2.8 0M4.7 1164.4a1.2 1.2 0 1 0 2.4 0a1.2 1.2 0 1 0 -2.4 0M4.2 1134a1.5 1.4 0 1 0 3 0a1.5 1.4 0 1 0 -3 0M83.3 1206a0.9 0.9 0 1 0 1.8 0a0.9 0.9 0 1 0 -1.8 0M10.9 1196.2a0.9 0.8 0 1 0 1.9 0a0.9 0.8 0 1 0 -1.9 0M94.8 1142.6a2.3 1.9 0 1 0 4.6 0a2.3 1.9 0 1 0 -4.6 0M89.1 1207.3a0.9 0.8 0 1 0 1.8 0a0.9 0.8 0 1 0 -1.8 0M120.1 1198.4a1.5 1.4 0 1 0 3.1 0a1.5 1.4 0 1 0 -3.1 0M71.4 1158.6a1.5 1.3 0 1 0 3 0a1.5 1.3 0 1 0 -3 0M50.8 1142.8a0.9 0.9 0 1 0 1.8 0a0.9 0.9 0 1 0 -1.8 0M42.8 1125.4a1.5 1.5 0 1 0 3 0a1.5 1.5 0 1 0 -3 0M67.8 1178.3a1.1 1 0 1 0 2.2 0a1.1 1 0 1 0 -2.2 0M70.1 1197.2a3.2 3 0 1 0 6.3 0a3.2 3 0 1 0 -6.3 0M29.4 1133.7a1.2 1 0 1 0 2.3 0a1.2 1 0 1 0 -2.3 0M11.9 1169.5a1 0.9 0 1 0 2 0a1 0.9 0 1 0 -2 0M25.9 1206.3a1 0.9 0 1 0 2.1 0a1 0.9 0 1 0 -2.1 0M103.6 1174.3a1.5 1.4 0 1 0 2.9 0a1.5 1.4 0 1 0 -2.9 0M39.9 1189.7a4.4 3.7 0 1 0 8.8 0a4.4 3.7 0 1 0 -8.8 0M18 1155.8a1.5 1.3 0 1 0 3 0a1.5 1.3 0 1 0 -3 0M68 1138.7a2.9 2.7 0 1 0 5.9 0a2.9 2.7 0 1 0 -5.9 0M151.7 1151a1.1 0.9 0 1 0 2.2 0a1.1 0.9 0 1 0 -2.2 0M57.2 1202.9a1.2 1.1 0 1 0 2.3 0a1.2 1.1 0 1 0 -2.3 0M76.7 1177.9a1.9 1.8 0 1 0 3.8 0a1.9 1.8 0 1 0 -3.8 0M32.7 1146.1a0.9 0.8 0 1 0 1.9 0a0.9 0.8 0 1 0 -1.9 0M85.3 1129.5a1.3 1.1 0 1 0 2.6 0a1.3 1.1 0 1 0 -2.6 0M69.8 1188.4a1 0.9 0 1 0 2.1 0a1 0.9 0 1 0 -2.1 0M11 1183.7a2.9 2.4 0 1 0 5.7 0a2.9 2.4 0 1 0 -5.7 0M133.8 1158.2a1 0.9 0 1 0 2 0a1 0.9 0 1 0 -2 0M60.7 1165.4a1.4 1.3 0 1 0 2.8 0a1.4 1.3 0 1 0 -2.8 0M21.7 1187.4a1.7 1.4 0 1 0 3.4 0a1.7 1.4 0 1 0 -3.4 0M27.5 1162.1a1.4 1.4 0 1 0 2.9 0a1.4 1.4 0 1 0 -2.9 0M58.6 1161.8a1.8 1.6 0 1 0 3.6 0a1.8 1.6 0 1 0 -3.6 0" fill="#020603" filter="url(#sb)"/></g>
<clipPath id="ic2"><rect x="155.8" y="1123.9" width="144.9" height="82.7"/></clipPath><g clip-path="url(#ic2)"><rect x="155.8" y="1123.9" width="144.9" height="82.7" fill="#120206"/><path filter="url(#sb)" transform="scale(.5)" d="M309 2295l-41 23M605 2314l7 1M605 2314l4-15M609 2299l7-2M567 2244l8 6M575 2250l10-18M609 2299l0 0M611 2287l-8 4M609 2299l-6-8M590 2280l6 13M590 2280l12-8M602 2272l-2 18M596 2293l4-3M602 2271l10 1M602 2271l0 1M600 2290l3 1M555 2306l-15 20M555 2306l12 0M569 2322l0 9M569 2322l-1-14M569 2331l-29-5M567 2306l1 2M609 2299l-19 4M596 2293l-8 8M590 2303l-2-2M303 2262l13 10M309 2295l1 0M310 2295l4-4M314 2291l2-19M303 2262l9-14M312 2240l0 8M321 2271l-5 1M321 2271l5-7M312 2248l9 4M326 2264l-5-12M320 2309l14 7M320 2309l-6 16M330 2324l4-8M330 2324l-14 2M314 2325l2 1M310 2295l9 10M319 2305l1 4M314 2325l-4 0M303 2351l7-14M310 2325l0 12M384 2276l0 9M384 2276l3-13M387 2263l3-1M391 2290l2-25M391 2290l-7-5M393 2265l-3-3M382 2352l1 12M382 2352l15-4M383 2364l8 6M397 2348l-6 22M316 2326l6 11M310 2337l10 5M322 2337l-2 5M405 2281l-7 11M405 2281l-5-10M391 2290l2 2M400 2271l-7-6M393 2292l5 0M469 2421l12 0M481 2422l0-1M566 2416l-6 0M481 2422l3 1M484 2423l3-3M487 2420l6 1M493 2421l1 2M494 2423l8 0M493 2421l6-8M502 2423l-3-10M605 2244l0 1M602 2271l-3-3M605 2245l-6 23M539 2242l4 9M567 2244l-18 9M543 2251l2 1M545 2252l1 1M549 2253l-3 0M539 2242l-10 1M529 2243l-15-15M569 2322l18 2M587 2324l0-1M568 2308l17 10M587 2323l-2-5M605 2314l-4 3M590 2303l6 9M601 2317l-5-5M336 2287l1-2M336 2287l-22 4M321 2271l12 7M333 2278l4 7M356 2282l2-17M356 2282l-9-6M354 2263l4 2M354 2263l-5 3M347 2276l2-10M355 2302l5-18M355 2302l-13-3M341 2295l16-11M341 2295l1 4M357 2284l3 0M342 2299l0 0M336 2287l5 8M356 2282l1 2M337 2285l10-9M319 2305l23-6M338 2314l-4 2M338 2314l4-15M384 2276l-12 3M384 2285l-8 1M376 2286l-4-7M312 2240l6-18M329 2264l6-10M329 2264l8 3M335 2254l8 11M337 2267l6-2M326 2264l3 0M333 2278l4-11M349 2266l-6-1M305 2353l4 1M305 2353l-2-2M320 2342l0 5M309 2354l11-7M358 2265l5 1M360 2284l0 0M360 2284l8-10M368 2274l0-3M368 2271l-5-5M402 2245l13-4M322 2337l11-2M323 2349l-3-2M323 2349l6 0M329 2349l4-14M330 2324l5 10M335 2334l-2 1M404 2306l-12 8M404 2306l7 14M392 2314l9 14M411 2320l-10 8M376 2286l-2 3M360 2284l8 8M372 2279l-4-5M374 2289l-6 3M393 2292l-10 12M374 2289l9 15M355 2302l11-4M355 2302l4 11M359 2313l19-4M366 2298l12 11M355 2302l0 0M368 2292l-2 6M383 2304l-3 6M380 2310l-2-1M404 2300l-6-8M404 2300l0 6M392 2314l-11-3M380 2310l0 0M381 2311l-1-1M425 2329l-1-6M425 2329l-27 9M398 2338l0 0M398 2338l3-10M411 2320l4-1M415 2319l9 4M551 2412l-1 1M551 2412l7 2M558 2414l2 2M550 2413l-6 10M544 2423l0 0M550 2413l-12-4M538 2409l-4 2M544 2423l-10-12M570 2335l-1-4M570 2335l-22 11M540 2326l-3 3M537 2329l11 17M606 2335l14 0M606 2335l-2 10M604 2345l19 7M602 2245l-15 9M575 2250l2 4M577 2254l9 1M586 2255l1-1M605 2244l-3 1M586 2255l6 9M599 2268l-7-4M547 2274l2 13M547 2274l7 3M554 2277l1 4M555 2281l0 1M549 2287l6-5M544 2273l-14 13M544 2273l3 1M541 2295l-11-3M541 2295l8-8M530 2292l0-6M555 2306l-14-11M567 2306l3-4M570 2302l-15-20M577 2254l-5 6M549 2253l16 6M572 2260l-7-1M534 2328l3 1M534 2328l-9 8M548 2346l0 4M548 2350l-9 9M529 2356l-6-15M529 2356l10 3M525 2336l-2 5M606 2335l-6-1M602 2322l-2 12M601 2317l-1 1M602 2322l-2-4M587 2323l9-2M585 2318l11-6M600 2318l-4 3M509 2328l-11 4M509 2328l3 3M504 2341l8-10M504 2341l-7-8M497 2333l1-1M347 2251l3-10M347 2251l-12 0M335 2248l6-8M335 2248l0 2M341 2240l9 1M335 2251l0-1M354 2263l0-2M335 2254l0-3M354 2261l-7-10M321 2252l14-2M354 2261l7-11M350 2241l2-1M361 2250l-9-10M400 2251l-6 3M400 2251l2-6M394 2254l-17-25M370 2254l14 9M370 2254l-3-6M367 2248l5-6M372 2242l13 21M385 2263l-1 0M368 2271l16-8M363 2266l7-12M361 2250l6-2M387 2263l-2 0M394 2254l-4 8M412 2351l14 9M412 2351l15-14M427 2337l5 1M432 2338l9 27M426 2360l15 5M441 2365l0 0M400 2347l6 4M400 2347l-2-9M425 2329l2 8M406 2351l3 0M409 2351l3 0M438 2333l-6 5M438 2333l4-5M432 2338l0 0M442 2328l-4-13M438 2315l-1-2M424 2323l13-10M445 2329l9 0M445 2329l1 8M454 2329l9 12M463 2341l-6 7M446 2337l5 6M457 2348l-6-5M442 2328l3 1M438 2315l15 5M453 2320l1 9M438 2333l8 4M478 2361l-10 1M478 2361l2-7M468 2362l-13-6M455 2356l2-8M480 2354l-5-18M475 2336l-12 5M432 2338l19 5M455 2356l-11 10M444 2366l-2 0M442 2366l-1-1M309 2354l6 11M313 2370l2-5M323 2349l3 16M315 2365l11 0M336 2356l-8 9M336 2356l-4-5M332 2351l-3-2M328 2365l-2 0M389 2332l-8-20M389 2332l-15-1M374 2331l7-19M398 2338l-9-6M381 2311l0 1M359 2313l-2 7M380 2310l-18 17M362 2327l-5-7M338 2314l10 8M335 2334l7 2M348 2322l-6 14M348 2322l9-2M332 2351l11-13M343 2338l-1-2M432 2420l-13-17M432 2420l3 1M435 2421l8-22M421 2400l-2 3M421 2400l19-3M440 2397l3 2M437 2378l-16 10M437 2378l3 19M421 2388l0 12M444 2366l14 16M442 2366l-5 12M447 2399l11-17M447 2399l-4 0M469 2421l-1-3M481 2421l-5-15M468 2418l0-1M468 2417l8-11M478 2392l6-10M478 2392l2 7M480 2399l8 5M503 2391l-14 13M503 2391l-19-9M488 2404l1 0M487 2420l1-16M476 2406l1-4M477 2402l3-3M500 2409l-1 4M500 2409l-11-5M468 2364l6 9M468 2364l-2 13M466 2377l8-4M489 2372l-4 5M489 2372l-11-11M468 2362l0 2M485 2377l-11-4M458 2382l1 1M459 2383l7-6M485 2377l-1 5M468 2389l-9-6M468 2389l10 3M604 2345l-6-2M600 2334l-4 5M598 2343l-2-4M596 2321l-6 16M596 2339l-6-2M587 2324l-3 13M590 2337l-6 0M570 2335l1 2M571 2337l10 1M581 2338l2 0M584 2337l-1 1M608 2359l15-7M608 2359l-3 0M598 2343l-1 5M605 2359l-8-11M583 2338l9 14M592 2352l5-4M530 2409l3 2M530 2409l-14 12M533 2411l0 11M533 2422l-15 10M516 2421l2 11M544 2423l-11-1M534 2411l-1 0M481 2337l9-2M481 2337l13 13M490 2335l13 14M503 2349l-9 1M504 2341l2 8M490 2335l7-2M503 2349l3 0M512 2331l13 5M523 2341l-17 9M506 2349l0 1M489 2372l3-1M508 2390l-3-20M508 2390l-5 1M492 2371l13-1M480 2354l11 1M492 2371l-1-16M507 2409l9 10M507 2409l2-6M509 2403l14-1M516 2419l7-17M500 2409l7 0M516 2421l0-2M508 2390l0 1M508 2391l1 12M527 2400l-4 2M527 2400l3 9M566 2416l10-5M578 2412l-2-1M558 2414l7-13M565 2401l6 1M576 2411l-5-9M606 2372l-4 8M608 2359l-2 13M578 2412l17-9M571 2402l5-8M576 2394l19 6M595 2400l0 3M595 2403l2 1M610 2416l-9-9M597 2404l4 3M565 2278l0 3M565 2278l10-6M565 2281l9 19M577 2273l-2-1M577 2273l3 11M580 2284l-5 15M575 2299l-1 1M570 2302l4-2M555 2281l10 0M592 2264l-15 9M572 2260l0 7M572 2267l3 5M590 2280l-10 4M588 2301l-13-2M562 2265l1 5M562 2265l-7 0M558 2272l3 0M558 2272l-3-7M561 2272l2-2M565 2259l-3 6M572 2267l-9 3M546 2253l9 12M554 2277l4-5M565 2278l-4-6M545 2252l-1 21M473 2247l1-18M473 2247l-12 8M461 2255l-6-3M455 2252l18-25M485 2246l12 4M498 2245l-1 5M504 2239l-6 6M473 2247l2 4M485 2246l-2 2M475 2251l8-3M400 2251l15 5M400 2271l16-7M416 2264l-1-8M405 2281l22-1M416 2264l11 16M404 2300l9-1M413 2299l16-14M429 2285l0-3M429 2282l0-1M427 2280l2 1M452 2252l-2-11M452 2252l3 0M432 2242l11-5M432 2243l8 6M432 2243l-10 6M440 2249l-10 12M430 2261l-9-10M422 2249l-1 2M432 2242l0 1M452 2252l-3 1M449 2253l-9-4M415 2241l7 8M449 2253l-2 6M433 2275l-3-14M433 2275l10-6M443 2269l4-10M433 2275l-4 6M415 2256l6-5M543 2251l-20 16M530 2286l-9-16M523 2267l-2 3M512 2240l5 3M512 2240l-7 0M505 2240l7 10M512 2250l6-4M517 2243l2 2M519 2245l-1 1M504 2239l1 1M497 2250l5 10M502 2260l10-10M529 2243l-10 2M523 2267l-5-21M522 2310l0-1M522 2310l-13 14M522 2309l-20 9M502 2318l5 5M509 2324l-2-1M530 2292l-9 9M534 2328l-12-18M521 2301l1 8M509 2328l0-4M498 2325l0 7M498 2325l9-2M481 2337l-5-2M498 2325l-4-7M486 2315l8 3M486 2315l-1 0M485 2315l-9 20M475 2336l1-1M491 2355l3-5M476 2335l0 0M432 2420l-23 7M419 2403l-7 2M412 2405l-3 22M409 2351l1 19M426 2360l-9 13M410 2370l7 3M441 2365l-22 11M417 2373l2 3M421 2388l-3-4M418 2384l1-8M302 2402l9-16M313 2414l2-10M315 2404l-13-2M319 2384l11-14M319 2384l0 2M319 2386l2 2M321 2388l13-16M334 2372l-4-2M313 2370l6 14M328 2365l2 5M311 2386l8 0M336 2356l8 1M344 2357l2 20M346 2377l-12-5M322 2390l-4 13M322 2390l17-1M339 2389l-7 17M332 2406l-10-1M322 2405l-4-2M315 2404l3-1M321 2388l1 2M342 2413l-10-7M410 2370l-6 9M418 2384l-13-3M405 2381l-1-2M412 2405l-15-5M405 2381l-8 19M369 2333l-5 0M369 2333l10 19M364 2333l-11 12M364 2358l11-4M364 2358l-11-9M353 2349l0-4M379 2352l-4 2M374 2331l-5 2M362 2327l2 6M382 2352l-3 0M397 2348l3-1M343 2338l10 7M344 2357l9-8M383 2364l-3 8M380 2372l-4-1M376 2371l-1-17M427 2306l-11 11M427 2306l-6 0M421 2306l-5 9M416 2317l0-2M415 2319l1-2M437 2313l0-6M437 2307l-1-2M436 2305l-9 1M413 2299l1 2M414 2301l7 5M436 2305l-7-20M414 2301l2 14M451 2402l6 1M451 2402l2 17M453 2419l1 0M454 2419l8-11M457 2403l5 2M462 2405l0 3M447 2399l4 3M468 2389l-11 14M468 2418l-14 1M468 2417l-6-9M477 2402l-15 3M597 2384l1 5M597 2384l-12-11M573 2382l5-5M573 2382l3 12M598 2389l-3 11M585 2373l-7 4M539 2362l7 7M539 2362l-3 6M536 2368l2 12M538 2380l2 0M546 2369l-6 11M598 2389l11 2M601 2407l12-7M597 2384l5-4M461 2255l6 5M475 2251l-2 6M467 2260l6-3M429 2282l20 6M443 2269l13 8M456 2277l-7 11M447 2259l17 14M456 2277l6-1M464 2273l-2 3M467 2260l1 7M464 2273l4-6M521 2270l-12-2M502 2260l0 0M502 2260l7 8M536 2368l-10 8M538 2380l-10 5M528 2385l-2-9M529 2356l-14 10M539 2359l0 3M526 2376l-11-10M508 2391l13-2M505 2370l4-3M521 2389l-12-22M506 2350l4 16M515 2366l-5 0M510 2366l-1 1M495 2300l6-17M495 2300l-4-3M501 2283l-11 0M491 2297l-1-14M486 2315l10-13M495 2300l1 2M480 2310l5 5M480 2310l7-13M491 2297l-4 0M475 2292l4 4M475 2292l2-3M477 2289l7 2M479 2296l3 0M482 2296l2-5M487 2297l-5-1M490 2283l0 0M490 2283l-6 8M517 2300l-16 17M517 2300l-2-1M515 2299l-12 3M503 2302l-2 15M501 2317l0 0M521 2301l-4-1M502 2318l-1-1M509 2268l-7 15M502 2283l13 16M496 2302l7 0M502 2283l-1 0M494 2318l7-1M480 2310l-3-2M479 2296l-2 11M477 2307l0 1M475 2292l-7 2M477 2307l-9-13M437 2307l20-7M449 2288l9 10M457 2300l1-2M465 2281l-3-5M465 2281l-1 12M458 2298l6-5M465 2281l15 0M480 2281l-3 8M468 2294l-4-1M453 2320l1-1M476 2335l-5-6M454 2319l17 10M397 2400l-2 0M357 2414l-8-10M357 2414l-4 9M349 2404l-7 8M353 2423l-11-11M342 2413l0-1M351 2377l8 6M351 2377l-5 1M359 2383l-9 20M346 2378l-6 10M340 2388l9 16M349 2404l1-1M346 2377l0 1M363 2364l1-6M363 2364l-12 13M365 2386l-3-2M365 2386l-5 16M362 2384l-3-1M360 2402l-10 1M339 2389l1-1M349 2404l0 0M367 2376l-1-9M367 2376l6-2M366 2367l9 5M373 2374l2-2M362 2384l5-8M363 2364l3 3M376 2371l-1 1M406 2351l-5 16M404 2379l0 0M401 2367l3 12M605 2359l-18 6M592 2352l-5 8M587 2365l0-5M585 2373l0-4M587 2365l-2 4M571 2337l0 3M581 2338l4 18M571 2340l6 13M585 2356l-8-3M585 2356l2 4M559 2357l2 6M559 2357l9-7M561 2363l12-3M568 2350l4 6M572 2356l1 4M548 2350l11 7M561 2365l0-2M561 2365l-7 8M546 2369l8 4M571 2340l-3 10M578 2377l-17-12M585 2369l-12-9M577 2353l-5 3M554 2373l1 7M540 2380l8 4M548 2384l7-4M573 2382l-11 3M562 2385l-7-5M483 2248l0 5M473 2257l6 1M483 2253l-4 5M480 2272l3 7M480 2272l5-7M485 2265l9-3M483 2279l4 2M487 2281l11-20M498 2261l-4 1M468 2267l12 5M480 2281l3-2M479 2258l6 7M483 2253l11 9M490 2283l-3-2M502 2260l-4 1M525 2389l3-3M525 2389l2 9M528 2386l17 7M527 2398l13 2M540 2400l5-3M545 2397l0-4M528 2385l0 1M521 2389l4 0M527 2400l0-2M548 2384l-3 9M538 2409l2-9M460 2306l7 3M460 2306l-4 11M467 2309l0 12M456 2317l11 4M477 2308l-10 1M457 2300l3 6M454 2319l2-2M471 2329l-4-8M401 2367l-1 1M404 2379l-6-3M400 2368l-2 8M391 2370l1 2M400 2368l-8 4M382 2387l-12 3M382 2387l-2-5M380 2382l0-1M380 2381l-7 0M373 2381l-8 5M365 2386l5 4M380 2372l1 1M373 2374l0 7M381 2373l-1 8M365 2386l0 0M384 2417l-14 6M357 2414l11 5M388 2391l2 3M388 2391l-1-12M390 2394l4-19M387 2379l3-5M394 2375l-3-2M390 2374l1-1M382 2387l6 4M380 2382l7-3M395 2400l-2 0M393 2400l-3-6M398 2376l-4-1M381 2373l9 1M392 2372l-1 1M551 2404l-5-7M551 2404l11-6M546 2397l15-6M562 2398l-1-7M551 2412l0-8M545 2397l1 0M565 2401l-3-3M562 2385l-1 6M390 2402l-16-5M390 2402l-1 1M389 2403l-21 6M374 2397l-9 7M365 2404l3 5M393 2400l-3 2M370 2390l4 7M384 2417l5-14M368 2419l0-10M360 2402l5 2" stroke="#D82222" stroke-width="1.8" stroke-opacity="0.8" fill="none"/><path d="M235.8 1200.6a2.6 2.3 0 1 0 5.3 0a2.6 2.3 0 1 0 -5.3 0M203.8 1187.5a3.5 3.2 0 1 0 6.9 0a3.5 3.2 0 1 0 -6.9 0M229 1142.9a1.6 1.3 0 1 0 3.2 0a1.6 1.3 0 1 0 -3.2 0M203.5 1123.2a1.4 1.3 0 1 0 2.7 0a1.4 1.3 0 1 0 -2.7 0M151.9 1167.5a4.9 4.4 0 1 0 9.9 0a4.9 4.4 0 1 0 -9.9 0M162.1 1203.4a2.4 2.1 0 1 0 4.9 0a2.4 2.1 0 1 0 -4.9 0M207.9 1140.1a5.9 5.1 0 1 0 11.9 0a5.9 5.1 0 1 0 -11.9 0M271.9 1193.8a1.8 1.7 0 1 0 3.5 0a1.8 1.7 0 1 0 -3.5 0M196 1168.5a1.8 1.7 0 1 0 3.7 0a1.8 1.7 0 1 0 -3.7 0M275 1188.2a4.2 3.9 0 1 0 8.5 0a4.2 3.9 0 1 0 -8.5 0M263.5 1138.6a4.1 4.1 0 1 0 8.3 0a4.1 4.1 0 1 0 -8.3 0M245.2 1180.1a3.2 3 0 1 0 6.3 0a3.2 3 0 1 0 -6.3 0M163.8 1147.9a1.3 1.1 0 1 0 2.6 0a1.3 1.1 0 1 0 -2.6 0M180.7 1186.8a2.4 2.2 0 1 0 4.9 0a2.4 2.2 0 1 0 -4.9 0M254.2 1162.2a5.3 4.9 0 1 0 10.6 0a5.3 4.9 0 1 0 -10.6 0M278.2 1176.5a2.4 2.3 0 1 0 4.8 0a2.4 2.3 0 1 0 -4.8 0M218.4 1123.4a1.5 1.4 0 1 0 3 0a1.5 1.4 0 1 0 -3 0M249.5 1134.5a1.2 1 0 1 0 2.4 0a1.2 1 0 1 0 -2.4 0M214.5 1164.3a1.5 1.3 0 1 0 3 0a1.5 1.3 0 1 0 -3 0M240.5 1140.5a3.7 3.3 0 1 0 7.4 0a3.7 3.3 0 1 0 -7.4 0M221.6 1192.5a5.9 5.6 0 1 0 11.9 0a5.9 5.6 0 1 0 -11.9 0M281.5 1125.6a3.9 3.6 0 1 0 7.7 0a3.9 3.6 0 1 0 -7.7 0M230.1 1123.3a5.6 5.6 0 1 0 11.3 0a5.6 5.6 0 1 0 -11.3 0M291.2 1194.3a1.2 1 0 1 0 2.4 0a1.2 1 0 1 0 -2.4 0M257.9 1134a1.5 1.4 0 1 0 3 0a1.5 1.4 0 1 0 -3 0M237.5 1177.7a2.2 2 0 1 0 4.5 0a2.2 2 0 1 0 -4.5 0M179.8 1205a2 1.8 0 1 0 3.9 0a2 1.8 0 1 0 -3.9 0M226.1 1178.3a1.3 1.2 0 1 0 2.5 0a1.3 1.2 0 1 0 -2.5 0M268.9 1180a2.1 2.1 0 1 0 4.2 0a2.1 2.1 0 1 0 -4.2 0M181.8 1122.9a2.1 1.9 0 1 0 4.2 0a2.1 1.9 0 1 0 -4.2 0M209 1199.2a3.5 3 0 1 0 7 0a3.5 3 0 1 0 -7 0M284.7 1159.9a5 4.1 0 1 0 9.9 0a5 4.1 0 1 0 -9.9 0M247.5 1204.2a3.4 3.3 0 1 0 6.8 0a3.4 3.3 0 1 0 -6.8 0M251.5 1139.6a2.7 2.5 0 1 0 5.4 0a2.7 2.5 0 1 0 -5.4 0M227.3 1151.2a4.8 4 0 1 0 9.6 0a4.8 4 0 1 0 -9.6 0M199.4 1200.3a2.6 2.3 0 1 0 5.3 0a2.6 2.3 0 1 0 -5.3 0M197.2 1161.7a1.2 1.1 0 1 0 2.4 0a1.2 1.1 0 1 0 -2.4 0M197.9 1138.1a4.4 3.8 0 1 0 8.8 0a4.4 3.8 0 1 0 -8.8 0M166.7 1175.8a5 4.6 0 1 0 10 0a5 4.6 0 1 0 -10 0M259.2 1188.6a3.1 2.7 0 1 0 6.1 0a3.1 2.7 0 1 0 -6.1 0M189.9 1187.2a5.8 4.9 0 1 0 11.6 0a5.8 4.9 0 1 0 -11.6 0M272.4 1203a1.6 1.5 0 1 0 3.1 0a1.6 1.5 0 1 0 -3.1 0M195 1165a1.2 1 0 1 0 2.4 0a1.2 1 0 1 0 -2.4 0M267.6 1198a1.2 1.2 0 1 0 2.4 0a1.2 1.2 0 1 0 -2.4 0M220.4 1182.9a3.2 2.6 0 1 0 6.4 0a3.2 2.6 0 1 0 -6.4 0M204.3 1151.3a3 2.7 0 1 0 6.1 0a3 2.7 0 1 0 -6.1 0M155.1 1156.5a5.9 5.8 0 1 0 11.9 0a5.9 5.8 0 1 0 -11.9 0M199.7 1152.6a1.2 1.1 0 1 0 2.5 0a1.2 1.1 0 1 0 -2.5 0M150.9 1142a6.3 5.9 0 1 0 12.6 0a6.3 5.9 0 1 0 -12.6 0M230.6 1161.5a2 1.9 0 1 0 4.1 0a2 1.9 0 1 0 -4.1 0M236.3 1194a1.5 1.3 0 1 0 3 0a1.5 1.3 0 1 0 -3 0M172.3 1136.6a1.8 1.6 0 1 0 3.5 0a1.8 1.6 0 1 0 -3.5 0M180.3 1146.4a1.9 1.6 0 1 0 3.7 0a1.9 1.6 0 1 0 -3.7 0M192.6 1202.6a1.8 1.5 0 1 0 3.6 0a1.8 1.5 0 1 0 -3.6 0M216.6 1171.7a4.9 4.8 0 1 0 9.9 0a4.9 4.8 0 1 0 -9.9 0M278.5 1145.5a2.7 2.5 0 1 0 5.4 0a2.7 2.5 0 1 0 -5.4 0M185.9 1174.5a1.2 1.2 0 1 0 2.4 0a1.2 1.2 0 1 0 -2.4 0M236 1138.1a2 1.7 0 1 0 4 0a2 1.7 0 1 0 -4 0M213.2 1174.7a1.4 1.3 0 1 0 2.7 0a1.4 1.3 0 1 0 -2.7 0M256.6 1201.9a1.3 1.2 0 1 0 2.5 0a1.3 1.2 0 1 0 -2.5 0M256.8 1149.4a3.2 2.8 0 1 0 6.4 0a3.2 2.8 0 1 0 -6.4 0M178.8 1195.9a2.2 2 0 1 0 4.4 0a2.2 2 0 1 0 -4.4 0M259.8 1198.1a1.2 1.2 0 1 0 2.5 0a1.2 1.2 0 1 0 -2.5 0M192.6 1171.9a1.5 1.5 0 1 0 3.1 0a1.5 1.5 0 1 0 -3.1 0M206.6 1179.9a1.3 1.1 0 1 0 2.6 0a1.3 1.1 0 1 0 -2.6 0M237.1 1162.8a1.3 1.1 0 1 0 2.6 0a1.3 1.1 0 1 0 -2.6 0M292.4 1124.3a3.4 3.3 0 1 0 6.9 0a3.4 3.3 0 1 0 -6.9 0M282.5 1139.4a6.1 5.1 0 1 0 12.1 0a6.1 5.1 0 1 0 -12.1 0M229 1175.1a2.7 2.5 0 1 0 5.4 0a2.7 2.5 0 1 0 -5.4 0M210.8 1126.4a1.4 1.3 0 1 0 2.8 0a1.4 1.3 0 1 0 -2.8 0M255.8 1173.7a2.9 2.9 0 1 0 5.8 0a2.9 2.9 0 1 0 -5.8 0M190.9 1144.9a1.7 1.6 0 1 0 3.4 0a1.7 1.6 0 1 0 -3.4 0M265.1 1152.3a5.1 4.5 0 1 0 10.2 0a5.1 4.5 0 1 0 -10.2 0M292 1151.2a2.9 2.9 0 1 0 5.8 0a2.9 2.9 0 1 0 -5.8 0M284.3 1206.1a2.7 2.2 0 1 0 5.3 0a2.7 2.2 0 1 0 -5.3 0M200.8 1180.8a2.3 2.2 0 1 0 4.6 0a2.3 2.2 0 1 0 -4.6 0M154.6 1131.1a2.8 2.6 0 1 0 5.5 0a2.8 2.6 0 1 0 -5.5 0M201.9 1148.5a1.2 1 0 1 0 2.4 0a1.2 1 0 1 0 -2.4 0M286.1 1193.2a2 1.7 0 1 0 4.1 0a2 1.7 0 1 0 -4.1 0M153.4 1192.6a1.7 1.7 0 1 0 3.5 0a1.7 1.7 0 1 0 -3.5 0M172.8 1162.9a2.5 2.1 0 1 0 5 0a2.5 2.1 0 1 0 -5 0M197.5 1127.7a1.7 1.6 0 1 0 3.3 0a1.7 1.6 0 1 0 -3.3 0M226.8 1136.9a2.5 2.4 0 1 0 4.9 0a2.5 2.4 0 1 0 -4.9 0M271.3 1184.6a1.5 1.3 0 1 0 3.1 0a1.5 1.3 0 1 0 -3.1 0M264.8 1184.4a1.6 1.4 0 1 0 3.2 0a1.6 1.4 0 1 0 -3.2 0M260.3 1208.4a2.8 2.6 0 1 0 5.6 0a2.8 2.6 0 1 0 -5.6 0M183.5 1200a1.9 1.7 0 1 0 3.7 0a1.9 1.7 0 1 0 -3.7 0M252.5 1125.7a1.5 1.4 0 1 0 3 0a1.5 1.4 0 1 0 -3 0M274.8 1160.3a1.7 1.4 0 1 0 3.3 0a1.7 1.4 0 1 0 -3.3 0M196.9 1122a2.1 2.1 0 1 0 4.2 0a2.1 2.1 0 1 0 -4.2 0M178.4 1156.8a2.2 1.8 0 1 0 4.3 0a2.2 1.8 0 1 0 -4.3 0M290.4 1171.3a6.2 5.6 0 1 0 12.5 0a6.2 5.6 0 1 0 -12.5 0M241.1 1182.8a1.8 1.5 0 1 0 3.5 0a1.8 1.5 0 1 0 -3.5 0M158.7 1189.3a3.6 3.6 0 1 0 7.3 0a3.6 3.6 0 1 0 -7.3 0M221.8 1159.1a2.7 2.4 0 1 0 5.4 0a2.7 2.4 0 1 0 -5.4 0M188.7 1135.1a2.2 2 0 1 0 4.4 0a2.2 2 0 1 0 -4.4 0M274.6 1137a2.5 2.4 0 1 0 5 0a2.5 2.4 0 1 0 -5 0M173.5 1152.5a1.2 1.1 0 1 0 2.5 0a1.2 1.1 0 1 0 -2.5 0M178.6 1135.6a2.2 1.8 0 1 0 4.4 0a2.2 1.8 0 1 0 -4.4 0M160 1124.5a4.9 4.3 0 1 0 9.8 0a4.9 4.3 0 1 0 -9.8 0M212.3 1150.5a2.9 2.6 0 1 0 5.8 0a2.9 2.6 0 1 0 -5.8 0M243.6 1126.5a1.3 1.1 0 1 0 2.5 0a1.3 1.1 0 1 0 -2.5 0M274.9 1198.7a1.8 1.7 0 1 0 3.6 0a1.8 1.7 0 1 0 -3.6 0M248.6 1156.4a1.2 1.1 0 1 0 2.5 0a1.2 1.1 0 1 0 -2.5 0M189.6 1154.5a3.8 3.3 0 1 0 7.5 0a3.8 3.3 0 1 0 -7.5 0M222.9 1122.6a1.3 1.2 0 1 0 2.6 0a1.3 1.2 0 1 0 -2.6 0M217.9 1199.3a2 1.8 0 1 0 4.1 0a2 1.8 0 1 0 -4.1 0M190.7 1176.8a1.5 1.5 0 1 0 2.9 0a1.5 1.5 0 1 0 -2.9 0M210.6 1193.3a1.2 1 0 1 0 2.4 0a1.2 1 0 1 0 -2.4 0M220 1128.3a1.9 1.6 0 1 0 3.9 0a1.9 1.6 0 1 0 -3.9 0M294.1 1185.4a1.7 1.6 0 1 0 3.4 0a1.7 1.6 0 1 0 -3.4 0M265.6 1169.6a1.2 1.2 0 1 0 2.5 0a1.2 1.2 0 1 0 -2.5 0M203.2 1127.9a1.6 1.5 0 1 0 3.3 0a1.6 1.5 0 1 0 -3.3 0M237.5 1146.6a2 1.9 0 1 0 4.1 0a2 1.9 0 1 0 -4.1 0M186.5 1128.2a2 1.9 0 1 0 4 0a2 1.9 0 1 0 -4 0M258.4 1140.2a1.5 1.3 0 1 0 2.9 0a1.5 1.3 0 1 0 -2.9 0M176.1 1141.1a2.8 2.7 0 1 0 5.5 0a2.8 2.7 0 1 0 -5.5 0M168.8 1158.6a2 1.7 0 1 0 4 0a2 1.7 0 1 0 -4 0M256.7 1126.2a4 3.9 0 1 0 8 0a4 3.9 0 1 0 -8 0M247.8 1187.8a2.1 1.8 0 1 0 4.2 0a2.1 1.8 0 1 0 -4.2 0M225.4 1207.4a6 5.3 0 1 0 12 0a6 5.3 0 1 0 -12 0M183.5 1131.2a1.2 1.1 0 1 0 2.5 0a1.2 1.1 0 1 0 -2.5 0M176.3 1170.5a4.1 4 0 1 0 8.2 0a4.1 4 0 1 0 -8.2 0M206.5 1194.9a1.7 1.4 0 1 0 3.3 0a1.7 1.4 0 1 0 -3.3 0M204.3 1163a1.6 1.4 0 1 0 3.2 0a1.6 1.4 0 1 0 -3.2 0M221.3 1144.3a1.5 1.3 0 1 0 3 0a1.5 1.3 0 1 0 -3 0M268.6 1202.9a1.2 1.1 0 1 0 2.5 0a1.2 1.1 0 1 0 -2.5 0M207.1 1170.5a1.6 1.4 0 1 0 3.2 0a1.6 1.4 0 1 0 -3.2 0M277.6 1204.5a1.4 1.3 0 1 0 2.7 0a1.4 1.3 0 1 0 -2.7 0M184.4 1195.4a1.3 1.2 0 1 0 2.6 0a1.3 1.2 0 1 0 -2.6 0M171.7 1198.3a2.3 2 0 1 0 4.6 0a2.3 2 0 1 0 -4.6 0M246 1174.2a1.4 1.3 0 1 0 2.8 0a1.4 1.3 0 1 0 -2.8 0M202.5 1158.7a1.5 1.3 0 1 0 3 0a1.5 1.3 0 1 0 -3 0M153.1 1204.6a1.2 1.1 0 1 0 2.4 0a1.2 1.1 0 1 0 -2.4 0M297.3 1131.1a1.3 1.2 0 1 0 2.5 0a1.3 1.2 0 1 0 -2.5 0M163 1178.2a1.4 1.4 0 1 0 2.9 0a1.4 1.4 0 1 0 -2.9 0M185.1 1207.7a1.9 1.8 0 1 0 3.8 0a1.9 1.8 0 1 0 -3.8 0M162.9 1171.6a1.4 1.2 0 1 0 2.7 0a1.4 1.2 0 1 0 -2.7 0M152.1 1184.4a2 1.8 0 1 0 4.1 0a2 1.8 0 1 0 -4.1 0M155.3 1197.6a1.9 1.6 0 1 0 3.8 0a1.9 1.6 0 1 0 -3.8 0" fill="#050001" stroke="#D81C1C" stroke-width="0.7" stroke-opacity="0.8" filter="url(#sb)"/></g>
<clipPath id="ic3"><rect x="6.5" y="1213.9" width="145.3" height="82.7"/></clipPath><g clip-path="url(#ic3)"><rect x="6.5" y="1213.9" width="145.3" height="82.7" fill="#030312"/><path transform="scale(.5)" d="M24 2433h0m28-2h0m52-2h0m12 4h0m1-3h0m3 0h0m19 2h0m6-3h0m8 3h0m7 2h0m13 0h0m0-4h0m28 0h0m1-2h0m4 0h0m17 6h0m16 0h0m4-3h0m7 2h0m9-1h0m2 3h0m8-4h0m-255 9h0m22 0h0m3 4h0m2-8h0m0 11h0m8-11h0m3 4h0m41-3h0m1 0h0m25 6h0m49 0h0m50-7h0m2 11h0m14-9h0m37 0h0m19 9h0m-246 1h0m1 9h0m13-3h0m4-1h0m16-1h0m4-2h0m0 7h0m5-9h0m17 0h0m12 11h0m13 0h0m10-1h0m12-1h0m1 1h0m0 0h0m44-1h0m13-6h0m11 5h0m16-7h0m11 4h0m11-1h0m6-4h0m1 4h0m-206 8h0m9 7h0m1 3h0m19-5h0m24-5h0m11 6h0m28-6h0m12 1h0m19 10h0m23 0h0m8-5h0m2-2h0m5-4h0m9 4h0m9-4h0m3 4h0m4-2h0m3 3h0m22 1h0m31 5h0m2-11h0m0 8h0m-247 12h0m3-5h0m6 6h0m7-6h0m7 5h0m2-1h0m7-2h0m9 3h0m12 3h0m4-8h0m8 5h0m10 3h0m8-6h0m4 2h0m6 2h0m5-4h0m2 1h0m9 0h0m13 4h0m3-4h0m10 1h0m35-3h0m1-4h0m14 3h0m0-1h0m4 0h0m18 3h0m1 2h0m0 3h0m-241 13h0m9-3h0m1-7h0m37 0h0m5 2h0m1 2h0m1-1h0m7 3h0m4 2h0m10-8h0m8 9h0m7-3h0m2 2h0m7-9h0m5 9h0m29-5h0m1 3h0m17-4h0m1 5h0m1 3h0m6-2h0m3-1h0m4-4h0m9 0h0m0 4h0m2-7h0m16 5h0m13 0h0m0 4h0m6-7h0m1-1h0m4 6h0m12 1h0m12-8h0m11 8h0m2-1h0m14-8h0m-272 22h0m9-2h0m10 3h0m8-6h0m3 2h0m0-3h0m10 4h0m7 2h0m3-9h0m18 8h0m2 1h0m5-5h0m1 5h0m0-8h0m4 0h0m11 9h0m4-1h0m1-6h0m18 1h0m6 3h0m8 0h0m7 2h0m5-2h0m8-6h0m15 4h0m1 0h0m8-6h0m4 5h0m5-4h0m1 10h0m0-5h0m1 2h0m1-5h0m13 3h0m8-1h0m3-3h0m4-2h0m3 1h0m12 2h0m1-3h0m17 0h0m8 6h0m17 4h0m5 0h0m-261 8h0m13-1h0m15-1h0m6-2h0m15 4h0m2 5h0m8-5h0m0-3h0m10 6h0m7-5h0m3 0h0m1-1h0m5 2h0m5 0h0m5-4h0m0 3h0m1-4h0m4 8h0m0-3h0m8 5h0m9-7h0m8 7h0m1-7h0m7 7h0m11-7h0m8 3h0m6-3h0m6 5h0m11-1h0m2-3h0m9 1h0m0 6h0m11 0h0m7-2h0m12-1h0m4-8h0m8 0h0m6 10h0m5-3h0m0 2h0m3 0h0m5-3h0m10-1h0m11-1h0m-253 16h0m0-1h0m1 0h0m3 0h0m11 2h0m4-4h0m4 1h0m3 1h0m2 3h0m3-4h0m0-3h0m9 0h0m10 1h0m0 4h0m4 3h0m2-7h0m28-4h0m0 4h0m2-3h0m22 9h0m5-10h0m7 1h0m1-1h0m6 8h0m3-5h0m1 2h0m0 0h0m4-4h0m15 7h0m5-6h0m0 8h0m24-9h0m50 10h0m-251 7h0m26-1h0m22 6h0m10-7h0m20 2h0m19-1h0m6 2h0m4 4h0m2-5h0m4 5h0m2-9h0m2 2h0m7 6h0m2-4h0m3 5h0m19 0h0m62-6h0m8 3h0m33 3h0m1-7h0m1 3h0m-257 13h0m11-2h0m5 2h0m14-5h0m5-3h0m2 3h0m19 0h0m23-1h0m3 2h0m16 5h0m10-7h0m6 5h0m1 1h0m1-4h0m1 0h0m3 0h0m6-4h0m1 1h0m12 10h0m2-5h0m1-5h0m5 10h0m2-4h0m25 0h0m9 1h0m31-4h0m7 2h0m-194 8h0m8-1h0m3 0h0m45 10h0m1-7h0m12 4h0m2-8h0m4 11h0m1-11h0m6 6h0m0 0h0m1-6h0m0 2h0m0 8h0m8-1h0m0 0h0m1-5h0m3 0h0m1-1h0m3 7h0m6-8h0m2 4h0m3-6h0m13 11h0m2-6h0m4 6h0m11-4h0m3 0h0m2 1h0m1-1h0m3 3h0m4 0h0m19-5h0m58-1h0m2-3h0m0 3h0m1 4h0m-258 9h0m6 1h0m63 4h0m15-1h0m9-9h0m1 5h0m1 6h0m0-1h0m1-10h0m7 6h0m0 4h0m11-5h0m7-1h0m1 3h0m5 4h0m28-10h0m12 8h0m0-4h0m4 2h0m14-3h0m6 6h0m13-5h0m51 1h0m24 2h0m-274 10h0m5 2h0m14-4h0m3 1h0m27 4h0m6-4h0m3-2h0m26 1h0m11 2h0m14-6h0m5 9h0m0-3h0m19-1h0m11-3h0m13 0h0m33 5h0m27-3h0m36-3h0m10 5h0m-196 6h0m206 0h0" stroke="#2C2CA8" stroke-width="3.4" stroke-linecap="round" fill="none"/><path transform="scale(.5)" d="M104 2429h0m98-1h0m67 3h0m-220 5h0m119 7h0m-90 9h0m61 6h0m13 0h0m112-10h0m-196 19h0m114 4h0m33-7h0m14 0h0m74-4h0m-215 17h0m33 3h0m33-3h0m72-1h0m-156 9h0m18 8h0m141-3h0m46 3h0m-256 13h0m70 0h0m10-8h0m68 0h0m33-1h0m46 2h0m43 7h0m5 0h0m-233 6h0m41 5h0m26-8h0m30 9h0m52-6h0m9 1h0m-156 16h0m4-4h0m9 5h0m3-7h0m99 0h0m1 2h0m19 3h0m5 2h0m-119 6h0m45 3h0m14-3h0m7 6h0m-128 10h0m37-5h0m137 4h0m-91 16h0m13-3h0m2-8h0m4 11h0m1-11h0m15 9h0m4-5h0m45 3h0m5 1h0m87-7h0m0 3h0m-164 8h0m186 8h0m-274 10h0m114 3h0m0-3h0" stroke="#4646D0" stroke-width="4.8" stroke-linecap="round" fill="none"/></g>
<clipPath id="ic4"><rect x="155.8" y="1214.3" width="144.9" height="82.4"/></clipPath><g clip-path="url(#ic4)"><rect x="155.8" y="1214.3" width="144.9" height="82.4" fill="#18240E"/><path filter="url(#sb)" transform="scale(.5)" d="M305 2587l6 2M303 2601l8-12M318 2587l-7 2M318 2587l-1-5M308 2574l9 8M323 2422l-4-13M317 2526l-14-3M317 2526l8 8M302 2523l15 15M302 2523l0 0M317 2538l8-4M302 2523l1 0M304 2419l-33 28M302 2509l0 14M305 2499l-3 10M305 2499l-8-6M318 2587l0 0M303 2601l16-3M318 2587l1 11M318 2587l1 0M319 2587l13 12M335 2602l-1-3M334 2599l-2 0M351 2587l2-4M351 2587l-9-14M353 2583l-9-13M342 2573l2-3M568 2603l-12 5M383 2600l6-2M389 2598l3 1M392 2599l5 13M512 2543l-1 10M512 2543l15 5M527 2548l-3 6M524 2554l0 0M511 2553l13 1M499 2565l-1-2M499 2565l16 5M515 2570l-1-5M514 2565l-10-8M498 2563l6-6M511 2553l-7 3M524 2554l-10 11M504 2556l0 1M585 2431l-6-7M585 2431l2 6M579 2424l-3 2M576 2426l-11 9M577 2442l-7-1M577 2442l10-5M587 2437l0 0M565 2435l5 6M594 2423l-9 8M594 2423l0 7M594 2430l-7 7M576 2426l-9-7M565 2435l0 0M567 2419l-2 16M331 2561l-8-3M331 2561l-3 14M328 2575l-6 1M322 2576l-2-14M320 2562l3-4M317 2538l-2 8M315 2546l-2 0M304 2538l9 8M347 2425l5-7M304 2419l7 3M311 2422l8-13M303 2488l8-11M303 2488l-2 1M311 2477l-2-4M309 2467l-5-20M309 2467l0 6M309 2473l0 0M309 2467l9-4M309 2473l9-6M318 2467l0-4M304 2447l1 0M305 2447l2 1M307 2448l11 8M318 2463l0-7M347 2431l23 2M347 2431l-1 2M356 2454l0 0M356 2454l-11-11M345 2443l1-10M356 2454l14-21M344 2444l-11 3M344 2444l-4 10M333 2447l2 9M340 2454l-5 2M347 2425l0 6M346 2433l-9-2M330 2424l7 7M323 2422l0 2M330 2424l-7 0M311 2422l5 8M323 2424l-7 6M342 2593l-4 0M342 2593l0-19M338 2593l-6-6M332 2587l3-10M335 2577l7-3M350 2595l0 0M350 2595l-8-2M334 2599l4-6M350 2599l0-4M350 2595l1-8M342 2573l0 1M319 2587l13 0M317 2582l5-6M328 2575l7 2M350 2599l13 16M370 2597l2 0M370 2597l-2-1M368 2596l2-14M370 2582l7 3M377 2585l-5 12M372 2597l7 2M383 2600l-3-1M380 2599l-1 0M392 2599l7-7M399 2592l1 0M389 2598l-3-10M380 2599l4-13M386 2588l-2-2M377 2585l5-1M384 2586l-2-2M328 2548l14 0M328 2548l3-13M342 2548l-6-10M331 2535l5 3M325 2534l3-2M315 2546l7 7M322 2553l6-5M328 2532l3 3M354 2533l-5-3M354 2533l-5 10M349 2543l-7 5M342 2548l0 0M349 2530l-13 8M568 2603l4-3M499 2569l12 7M499 2569l0-4M515 2570l0 2M511 2576l4-4M524 2554l7 12M531 2566l-12 7M515 2572l4 1M512 2543l-3-3M504 2556l-5-13M499 2543l10-3M416 2597l0 0M400 2592l14 3M416 2597l-2-2M476 2599l0 0M476 2599l-4-5M489 2561l9 2M489 2561l-5-9M499 2543l-5-2M494 2541l-2-1M490 2539l2 1M490 2539l-2 0M484 2552l4-13M486 2566l2 9M486 2566l-10 2M488 2575l-10 1M478 2576l-2-8M430 2546l-2 13M430 2546l12-6M442 2540l-10 19M428 2559l4 0M526 2583l0-1M526 2583l-4 18M526 2582l8-1M522 2601l1 0M523 2601l14-11M537 2590l-1-7M536 2583l-2-2M511 2576l-3 10M508 2586l18-3M519 2573l7 9M506 2589l2-3M531 2566l0 0M535 2572l-4-6M535 2572l-1 9M543 2595l-6-5M543 2595l10-7M546 2581l7 7M546 2581l-10 2M535 2572l16-4M551 2568l-5 13M478 2530l15-10M478 2530l2 3M490 2539l8-16M480 2533l8 6M493 2520l5 3M556 2424l11-13M556 2424l-12-28M594 2430l5 1M599 2431l7-7M608 2426l-1 13M608 2426l-2-2M587 2437l10 9M599 2431l1 15M597 2446l3 0M577 2442l4 7M581 2449l13 0M597 2446l-3 3M491 2421l6-8M491 2421l10 15M501 2436l3-3M504 2433l-7-20M556 2424l-1 7M543 2421l12 10M565 2435l-9-1M556 2434l-1-1M555 2431l0 2M556 2434l-1 7M555 2441l-9 8M546 2449l-5-13M555 2433l-14 3M609 2494l1-1M304 2538l-8 10M313 2546l-5 3M308 2549l-12-1M407 2431l4 4M407 2431l7-9M411 2435l9-5M414 2422l6 8M432 2428l0-3M432 2428l-6 4M426 2432l-6-2M432 2420l0 5M376 2420l-5 12M371 2432l0 0M370 2433l1-1M331 2494l-1 1M331 2494l17 6M330 2495l5 9M335 2504l12-1M348 2500l-1 3M365 2470l-3 8M365 2470l-8-5M362 2478l-9 2M357 2465l-5 12M353 2480l-1-3M354 2460l3 5M354 2460l-5 2M341 2471l11 6M341 2471l1-3M342 2468l7-6M356 2454l-2 6M345 2443l-1 1M340 2454l3 5M349 2462l-6-3M342 2468l-8-7M343 2459l-9 0M334 2461l0-2M307 2448l22-3M329 2445l2 2M331 2447l-3 5M318 2456l4 1M328 2452l-6 5M331 2447l2 0M335 2456l-1 3M328 2452l6 7M334 2459l0 0M318 2467l5 3M322 2457l6 6M323 2470l5-7M334 2461l-5 2M329 2463l-1 0M341 2471l-4 5M329 2463l8 13M367 2470l-2 0M367 2470l5-13M356 2454l13 1M372 2457l-3-2M371 2432l6 4M369 2455l8-19M393 2450l-7-4M393 2450l9-8M402 2442l-3-7M382 2437l2-2M382 2437l-1 0M399 2435l-15 0M386 2446l-5-9M382 2437l1-18M383 2419l-7 1M381 2437l-4-1M328 2440l7-7M328 2440l-13-7M335 2433l-19-2M315 2433l1-2M329 2445l-1-5M337 2431l-2 2M305 2447l10-14M316 2430l0 1M363 2588l-2 4M363 2588l-2-7M361 2581l-3-1M361 2592l0 0M361 2592l-4-12M358 2580l-1 0M368 2596l-7-4M370 2582l0-1M370 2581l-7 7M370 2581l0 0M370 2581l-9 0M350 2595l11-3M353 2583l4-3M343 2552l12 1M343 2552l-3 9M355 2553l0 15M340 2561l5 7M345 2568l10 0M322 2553l1 5M342 2548l1 4M331 2561l9 0M344 2570l1-2M357 2568l-2 0M357 2568l1 12M399 2592l-2-4M386 2588l8 0M397 2588l-3 0M382 2584l4-10M394 2588l-8-14M499 2569l-4 7M506 2589l-3 0M495 2576l8 13M486 2566l3-5M488 2575l1 1M495 2576l-6 0M432 2524l11 5M432 2524l-1 0M430 2546l-5-3M442 2540l2-1M443 2529l1 10M425 2543l6-19M415 2516l-7 3M415 2516l12 8M408 2521l0-2M408 2521l0 7M408 2528l11 2M419 2530l8-6M393 2540l1 0M393 2540l-5 9M394 2548l-6 1M394 2548l6-2M400 2546l-6-6M428 2560l0-1M428 2560l-16-11M425 2543l-9 1M412 2549l4-5M419 2530l-3 11M431 2524l-4 0M416 2544l0-3M408 2528l-2 3M416 2541l-10-10M471 2589l-9 4M471 2589l-1-5M462 2593l-5-16M470 2584l-8-7M457 2577l5 0M454 2598l8-5M472 2594l-1-3M471 2591l0-2M441 2559l9-4M441 2559l0 10M450 2555l4 5M441 2569l13 1M454 2560l0 10M432 2559l9 0M444 2539l7 8M451 2547l-1 8M475 2556l-5-2M475 2556l-1 11M470 2554l-8 6M462 2560l7 8M474 2567l-5 1M484 2552l-9 4M476 2568l-2-1M457 2577l-1 0M462 2577l7-9M456 2577l-2-7M454 2560l8 0M476 2580l2-4M476 2580l-6 4M487 2486l-23-8M487 2486l1-2M488 2484l-2-3M486 2481l-9-9M477 2472l-11 4M466 2476l-2 2M441 2456l4 12M441 2456l18-4M445 2468l4 2M449 2470l10-18M486 2481l10-9M477 2472l6-4M493 2468l3 4M493 2468l-5-1M488 2467l-5 1M493 2520l0-6M501 2522l-3 1M501 2522l0-7M493 2514l2-2M501 2515l-6-3M474 2497l12 0M474 2497l-9-15M465 2482l-1-4M487 2486l1 8M464 2478l0 0M486 2497l1-1M464 2478l0 0M488 2494l-1 2M473 2521l9-10M473 2521l3 7M478 2529l8-14M478 2529l-2-1M486 2515l-2-4M484 2511l-2 0M472 2503l10 8M472 2503l-5 7M467 2510l6 11M467 2510l-4 0M463 2510l-13 15M465 2530l-15-5M465 2530l11-2M478 2530l0-1M493 2514l-7 1M489 2503l3 2M489 2503l-5 8M492 2505l2 5M494 2510l1 2M474 2497l-2 6M486 2497l3 6M461 2539l-10 8M461 2539l9 4M451 2547l17 2M470 2543l-2 6M443 2529l5-4M465 2530l-4 9M448 2525l2 0M451 2547l0 0M480 2533l-10 10M470 2554l-2-5M441 2456l-1 0M445 2468l-5 4M440 2472l-8 3M425 2454l15 2M425 2454l0 9M425 2463l7 12M607 2439l-3 6M600 2446l1 0M604 2445l-3 1M604 2445l11 3M532 2424l2 2M532 2424l-5 8M534 2426l5 10M527 2432l1 3M528 2435l8 4M536 2439l3-3M543 2421l-9 5M541 2436l-2 0M527 2432l-5 0M522 2432l-2-8M520 2438l0 0M520 2438l0-1M520 2438l-6 0M520 2437l-6-12M514 2438l-3-6M511 2432l0-1M511 2431l1-5M512 2426l2-1M528 2435l-8 3M522 2432l-2 5M520 2424l-6 1M501 2444l6 2M501 2444l10-12M507 2446l7-8M501 2436l-1 7M504 2433l7-2M501 2444l-1-1M524 2442l-4-3M524 2442l-4 13M520 2439l-4 15M520 2455l-4-1M533 2444l3-5M533 2444l-9-2M520 2438l0 1M530 2454l8 6M530 2454l-5 4M538 2460l-13 0M525 2458l0 2M533 2444l1 5M534 2449l-4 5M520 2455l5 3M606 2603l-5-8M606 2603l6-4M601 2595l6-8M611 2588l-4-1M599 2593l-9 3M599 2593l2 2M610 2509l-9 6M610 2509l2 0M603 2521l-1-1M602 2520l-1-5M581 2449l-1 13M590 2455l4-6M590 2455l-9 8M581 2463l-1-1M580 2462l0 0M570 2441l-4 14M580 2462l-14-7M610 2509l-8-6M609 2494l-4 1M605 2495l-3 8M601 2515l-1-1M600 2514l1-10M602 2503l-1 1M315 2563l-7-4M315 2563l-7 8M308 2559l-11 4M308 2571l-11-8M320 2562l-5 1M308 2549l0 10M308 2574l0-3M408 2443l3-4M408 2443l0 1M408 2444l17 7M411 2439l13 3M425 2451l-1-8M424 2442l0 1M402 2442l6 1M407 2431l-4-1M411 2435l0 4M399 2435l4-5M426 2432l-2 10M425 2454l0-1M440 2456l3-10M442 2441l1 5M442 2441l-18 2M425 2453l0-2M432 2428l10 9M442 2437l0 4M403 2430l-2-5M401 2424l0 1M384 2435l1-1M401 2425l-16 9M330 2513l2 7M330 2513l-4-3M326 2510l-1 0M325 2510l-9 8M322 2520l-6-2M322 2520l9 1M331 2521l1-1M330 2495l0 1M335 2504l-5 9M330 2496l-1 1M329 2497l-3 6M326 2503l0 7M312 2517l3-11M312 2517l4 1M315 2506l10 4M317 2526l5-6M303 2523l9-6M328 2532l3-11M349 2530l-6-10M343 2520l-11 0M425 2453l-15 7M408 2444l-2 11M406 2455l4 5M393 2450l0 1M406 2455l-13-4M362 2478l6 11M349 2489l4-9M349 2489l1 2M350 2491l18-2M343 2520l2-3M347 2503l1 7M345 2517l3-7M336 2477l-12-2M336 2477l2 8M333 2489l-12-5M333 2489l5-4M324 2475l-5 6M321 2484l-2-3M319 2481l0 0M323 2470l1 5M337 2476l-1 1M349 2489l-11-4M331 2494l2-5M330 2496l-9-4M321 2492l0-8M348 2500l2-4M350 2491l0 5M311 2477l8 4M303 2488l11 0M314 2488l5-7M374 2458l7-4M374 2458l5 8M381 2454l2 7M379 2466l4-5M372 2457l2 1M386 2446l-5 8M367 2470l12 4M379 2474l0-8M315 2494l4-1M315 2494l-5 6M319 2493l2 7M310 2500l5 5M315 2505l3-2M321 2500l-3 3M314 2488l1 6M321 2492l-2 1M305 2499l5 1M329 2497l-8 3M315 2506l0-1M326 2503l-8 0M370 2581l0-7M357 2568l3 0M370 2574l-10-6M397 2588l0-1M386 2574l0-2M396 2581l1 6M396 2581l-2-6M394 2575l-8-3M381 2569l-11 5M381 2569l5 3M386 2572l0 0M378 2549l-2 8M378 2549l7 1M385 2550l8 10M381 2569l-5-12M386 2572l7-12M394 2548l6 11M388 2549l-3 1M393 2560l7-1M408 2553l-6 6M408 2553l2-4M400 2546l6 0M410 2549l-4-3M402 2559l-2 0M382 2530l7 7M382 2530l9 4M389 2537l1 0M391 2534l-1 3M372 2536l10-7M372 2536l6 12M382 2529l0 1M378 2548l0 0M378 2548l11-11M395 2528l-4 6M395 2528l-1-2M394 2526l-6-6M388 2520l-6 9M393 2540l-3-3M378 2549l0-1M571 2592l-8-15M571 2592l-12 2M563 2577l-8 11M559 2594l-4-6M572 2600l0-8M572 2592l-1 0M553 2588l2 0M531 2566l12-8M551 2568l0 0M551 2568l-8-10M563 2577l1-1M551 2568l0 0M564 2576l-13-8M476 2599l9 3M485 2602l0 0M471 2591l14-2M476 2580l9 5M485 2585l0 4M476 2599l10-9M485 2589l1 1M485 2602l3-10M486 2590l2 2M488 2592l7-1M429 2602l4 3M416 2597l4 7M454 2598l-2-2M456 2577l-2 1M454 2578l-1 5M452 2596l1-13M404 2532l0 9M404 2532l-7-2M404 2541l-7-4M397 2530l0 7M410 2549l2 0M406 2546l-2-5M406 2531l-2 1M395 2528l2 2M394 2526l14-5M394 2540l3-3M393 2516l8-3M393 2516l3-13M401 2513l3-12M396 2503l8-2M432 2524l1-16M415 2516l1-13M433 2508l-17-5M448 2525l-2-14M446 2511l-7-7M433 2508l1-1M439 2504l-5 3M439 2504l1-3M434 2507l-8-15M426 2492l14 6M440 2498l0 3M425 2463l-9 11M432 2475l-8 7M416 2474l8 8M416 2503l-3-6M426 2492l-3-4M423 2488l-10 9M401 2513l7 6M404 2501l4-5M408 2496l5 1M444 2425l5-9M444 2425l3 4M447 2429l2 0M449 2429l3-15M432 2420l17-4M432 2425l12 0M442 2437l3-2M445 2435l1-3M446 2432l1-3M546 2449l-1 4M534 2449l9 4M545 2453l-2 0M538 2460l2 1M543 2453l-3 8M501 2515l5-3M494 2510l13-5M507 2505l0 0M507 2505l-1 7M498 2498l4-3M498 2498l0 4M502 2495l3 8M498 2502l7 1M492 2505l6-3M487 2496l11 2M507 2505l-2-2M502 2489l5 1M502 2489l-2-1M500 2488l-2-9M507 2490l8-2M515 2488l-14-13M498 2479l1-4M499 2475l2 0M509 2504l-2 1M509 2504l-2-14M502 2495l0-6M488 2494l12-6M488 2484l10-5M496 2472l3 3M514 2531l-5-2M514 2531l5-2M519 2529l-10-9M509 2529l-4-2M509 2520l-6 3M503 2523l2 4M494 2541l15-12M509 2540l5-9M524 2528l1-1M524 2528l-5 1M525 2527l-10-12M515 2515l-6 0M509 2515l0 5M492 2540l13-13M501 2522l2 1M506 2512l3 3M527 2548l1-1M524 2528l0 2M528 2547l-4-17M599 2584l8 3M599 2584l-1 0M599 2593l-1-7M598 2584l0 2M584 2596l-6-6M584 2596l5-1M589 2595l1-8M590 2587l-8-4M578 2590l4-7M572 2592l6-2M590 2596l-1-1M598 2586l-8 1M580 2462l-14 9M566 2455l-2 1M564 2456l2 15M560 2487l-3-4M560 2487l-3 6M557 2483l-5 12M557 2493l-5 2M549 2508l1 1M549 2508l0-9M550 2509l10 5M564 2511l-4 3M564 2511l1-2M558 2502l-9-3M558 2502l6 3M565 2509l-1-4M588 2472l-3-1M588 2472l7-4M595 2468l3-5M583 2466l2 5M583 2466l12-5M595 2461l3 2M590 2455l5 6M581 2463l2 3M604 2459l22 10M604 2459l-1 1M603 2460l0 11M608 2478l-5-7M601 2446l3 13M598 2463l5-3M595 2468l8 3M610 2493l-3-15M607 2478l1 0M607 2478l-12 4M595 2482l-7-10M595 2482l0 0M605 2495l-7-4M598 2491l-3-9M396 2422l-6 1M396 2422l-2-41M390 2423l-2-5M401 2424l-5-2M385 2434l5-11M383 2419l5-1M384 2461l6 8M384 2461l8-4M392 2457l2 8M394 2465l-2 3M390 2469l2-1M379 2474l2 2M383 2461l1 0M381 2476l9-7M393 2451l-1 6M410 2460l-1 1M409 2461l-15 4M393 2516l-5 3M388 2520l0 0M388 2519l0 1M350 2496l8 5M348 2510l11 1M359 2511l0-1M358 2501l1 9M356 2519l5-4M356 2519l6 14M361 2515l6 4M367 2519l0 6M367 2525l-2 8M365 2533l-1 0M362 2533l2 0M345 2517l11 2M359 2511l2 4M354 2533l8 0M372 2536l-7-3M388 2520l-21 5M349 2543l9 7M360 2548l-2 2M360 2548l4-15M376 2557l-12 5M360 2568l4-6M364 2562l0 0M355 2553l2-2M364 2562l-7-11M358 2550l0 0M357 2551l1-1M488 2581l12 8M488 2581l-1 0M487 2581l9 10M500 2589l-4 2M489 2576l-1 5M503 2589l-3 0M485 2585l2-4M495 2591l1 0M454 2578l-10 0M453 2583l-12 4M444 2578l-5 6M439 2584l2 3M368 2489l1 0M358 2501l6 0M369 2489l-5 12M359 2510l8-4M364 2501l3 5M486 2452l-8 6M486 2452l1-4M487 2448l-20 5M478 2458l-11-5M467 2453l0 0M488 2467l-2-15M483 2468l-5-10M466 2476l1-23M464 2478l-15-8M459 2452l5-3M464 2449l3 4M491 2421l-5 5M486 2426l-10-5M450 2496l-4 4M450 2496l6 4M446 2500l8 6M456 2500l0 6M456 2506l-2 0M446 2511l8-5M440 2501l6-1M465 2482l-9 18M463 2510l-7-4M453 2486l-3 8M453 2486l-12 2M450 2494l-10-1M440 2493l0-4M441 2488l-1 1M464 2478l-11 8M450 2496l0-2M440 2472l1 16M440 2498l0-5M423 2488l1-3M424 2485l16 4M424 2485l0-3M400 2474l-1 1M400 2474l10-3M399 2475l0 6M410 2471l1 1M411 2472l-6 18M399 2481l6 9M381 2476l0 8M381 2484l18-9M392 2468l8 6M409 2461l1 10M381 2484l0 1M381 2485l18-4M416 2474l-5-2M408 2496l-3-4M405 2492l0-2M505 2462l6-11M505 2462l-6-1M499 2461l0-1M499 2460l10-10M509 2450l2 1M511 2463l4-9M511 2463l-3 2M508 2465l-3-3M515 2454l-4-3M493 2468l6-7M507 2473l-6 2M507 2473l1-8M493 2445l6 15M493 2445l-4-1M489 2444l-2 4M507 2446l2 4M493 2445l7-2M516 2454l-1 0M584 2528l-2-5M584 2528l-2 5M582 2523l-6 6M576 2529l6 4M595 2536l-3-6M595 2536l-12 3M592 2530l-8-2M582 2533l1 6M512 2463l6 5M512 2463l-1 0M507 2473l6 2M513 2475l5-7M551 2480l-15 8M551 2480l5-1M556 2479l1 4M552 2495l-4 3M548 2498l-11-6M537 2492l-1-4M509 2504l5-1M515 2515l3-9M514 2503l4 3M515 2488l2 0M514 2503l3-15M513 2475l7 11M518 2468l4-2M522 2466l1 20M523 2486l-3 0M517 2488l3-2M524 2464l0 0M524 2464l1-3M524 2464l9 23M525 2461l15 7M540 2468l0 0M540 2468l-5 19M535 2487l-2 0M512 2463l12 1M522 2466l2-2M525 2460l0 1M523 2486l10 1M540 2461l0 7M548 2455l-5 13M548 2455l-3-2M543 2468l-3 0M534 2499l-14 7M534 2499l3-7M536 2488l-1-1M520 2506l-2 0M528 2547l6 0M524 2530l18 8M542 2538l-8 9M543 2558l-1-5M542 2553l-8-6M534 2499l-1 20M520 2506l10 15M533 2519l-3 2M549 2508l-4 8M545 2516l-11 3M549 2499l-1-1M533 2519l1 0M525 2527l4-4M530 2521l-1 2M599 2584l15-10M611 2588l7-13M606 2534l9 1M603 2521l-3 14M606 2534l-6 1M595 2536l3 1M593 2549l-5 2M593 2549l6-9M581 2548l7 3M581 2548l1-7M583 2539l-1 2M599 2540l-1-3M592 2524l0 6M592 2524l5-3M597 2521l5-1M598 2537l2-2M598 2584l-1-2M582 2583l-1-7M597 2582l-16-6M555 2467l3-10M555 2467l-7 1M548 2468l-1 0M547 2468l4-13M558 2457l-2-1M556 2456l-5-1M551 2480l-3-12M543 2468l4 0M548 2455l3 0M555 2441l1 15M564 2456l-6 1M578 2487l3 6M578 2487l1-3M582 2485l-3-1M582 2485l6 4M581 2493l3 2M588 2489l-4 6M578 2478l1 6M578 2478l7-7M595 2483l0-1M595 2483l-13 2M595 2483l-7 6M575 2503l-2 6M575 2503l-4-4M573 2509l-8 0M564 2505l5-5M571 2499l-2 1M558 2502l7-6M569 2500l-4-4M557 2493l8 0M565 2496l0-3M578 2478l-5 0M566 2471l0 1M573 2478l-7-6M555 2467l5 7M566 2472l-6 2M556 2479l3-2M560 2474l-1 3M583 2501l-6 14M583 2501l3-1M586 2500l3 2M590 2503l-1-1M590 2503l0 8M590 2512l0-1M590 2512l-5 6M585 2518l-3 0M582 2518l-4-2M578 2516l-1-1M575 2503l8-2M573 2509l4 6M581 2493l-9 2M584 2495l2 5M572 2495l-1 4M598 2491l-9 11M601 2504l-11-1M600 2514l-10-3M597 2521l-7-9M592 2524l-7-6M582 2523l0-5M364 2554l-1-1M364 2554l7-4M363 2553l3-3M371 2550l-5 0M364 2562l0-8M358 2550l5 3M378 2548l-7 2M360 2548l6 2M598 2560l2-3M598 2560l-1 0M600 2557l-7-8M588 2551l0 3M597 2560l-9-6M576 2529l-1 0M578 2516l-4 2M574 2518l1 11M564 2511l6 8M574 2518l-4 1M570 2534l0-1M570 2534l12 7M575 2529l-5 4M550 2509l5 11M545 2516l4 4M549 2520l6 0M560 2514l-1 7M555 2520l4 1M570 2519l-8 8M559 2521l3 6M570 2533l-8-5M562 2527l0 1M551 2568l6-8M557 2560l-1-7M542 2553l8-4M556 2553l-6-4M573 2552l8-4M573 2552l-4-3M570 2534l-1 5M569 2549l0-10M557 2560l15 0M572 2560l1-8M556 2553l7-5M569 2549l-6-1M428 2560l0 0M408 2553l5 8M428 2560l-6 5M422 2565l-3 1M419 2566l-4-2M413 2561l2 3M415 2576l-1-5M415 2576l-6 4M414 2571l-4-3M407 2578l2 1M407 2578l-4-7M409 2580l0-1M403 2571l1-3M404 2568l5 0M409 2568l1 0M422 2565l0 8M419 2566l-5 5M419 2577l3-4M419 2577l-4-1M416 2597l10-10M414 2595l-5-15M419 2577l7 10M415 2564l-5 4M396 2581l11-3M397 2587l12-8M394 2575l9-4M402 2559l2 9M413 2561l-4 7M434 2584l-4 1M434 2584l6-9M430 2585l1-10M431 2575l2-4M433 2571l5 1M438 2572l2 3M444 2578l-4-3M439 2584l-5 0M428 2560l5 11M422 2573l9 2M441 2569l-3 3M445 2597l-1 0M445 2597l-2 2M444 2597l-15-11M443 2599l-8 0M435 2599l-7-12M428 2587l1-1M452 2596l-7 1M441 2587l3 10M430 2585l-1 1M429 2602l6-3M426 2587l2 0M375 2511l7 0M375 2511l-2-3M373 2508l0-19M382 2511l4-9M386 2502l-2-12M384 2490l-3-4M381 2486l-8 3M388 2519l-6-8M367 2519l8-8M367 2506l6 2M369 2489l4 0M396 2503l-10-1M405 2492l-21-2M381 2485l0 1M472 2421l-1 1M471 2422l-12 3M458 2421l1 4M476 2421l-4 0M449 2429l10-1M459 2428l0-3M489 2444l-4-8M464 2449l0-1M485 2436l-21 12M486 2426l-2 7M485 2436l-1-3M443 2446l18-3M461 2443l3 5M597 2582l1-10M581 2576l0-1M598 2572l-17 3M606 2570l-7 0M598 2572l1-2M564 2576l12-6M581 2575l-5-5M572 2560l4 9M576 2570l0-1M572 2480l-7 4M572 2480l-1 9M565 2484l0 3M565 2487l2 3M567 2490l2 0M571 2489l-2 1M573 2478l-1 2M559 2477l6 7M578 2487l-7 2M560 2487l5 0M565 2493l2-3M572 2495l-3-5M534 2519l12 7M529 2523l14 11M546 2526l-3 8M549 2520l-1 5M546 2526l2-1M469 2427l2 6M469 2427l-10 2M471 2433l-10 7M459 2433l0-4M459 2433l1 5M460 2438l1 2M471 2422l-2 5M484 2433l-13 0M459 2428l0 1M461 2443l0-3M446 2432l13 1M445 2435l15 3M608 2552l2-3M610 2549l13-3M606 2570l0-6M606 2564l7-3M606 2555l2-3M606 2555l0 9M600 2557l6-2M599 2540l11 9M588 2554l0 0M576 2569l5-3M581 2566l7-12M597 2560l-6 1M591 2561l-3-7M542 2538l2-2M550 2549l0-4M544 2536l6 9M559 2530l-7-2M559 2530l-2 5M552 2528l-8 8M557 2535l-13 1M544 2536l0 0M562 2528l-3 2M548 2525l4 3M543 2534l1 2M544 2536l0 0M590 2562l-4 3M590 2562l9 7M586 2565l13 4M599 2569l0 0M581 2566l5-1M591 2561l-1 1M598 2560l1 9M599 2570l0-1M557 2536l-5 8M557 2536l3 4M552 2544l9 1M560 2540l1 3M561 2545l0-2M550 2545l2-1M557 2535l0 1M569 2539l-1 0M568 2539l-8 1M563 2548l-2-3M568 2539l-7 4" stroke="#2E8A30" stroke-width="1.8" stroke-opacity="0.45" fill="none"/><path filter="url(#sb)" transform="scale(.5)" d="M310 2589l12 0M309 2588l1-5M309 2588l-29-1M310 2583l-22 0M308 2424l-9 5M307 2444l0-5M323 2572l0 11M323 2572l-9 3M315 2579l-1-1M315 2579l7 6M322 2585l1-2M314 2578l0-3M326 2570l-3 2M326 2570l3 7M329 2577l0 1M329 2578l-6 5M310 2583l5-4M310 2589l-1-1M322 2589l1-2M323 2587l-1-2M321 2456l-4-12M321 2456l-5 5M307 2444l10 0M316 2461l-16-2M314 2426l0 5M314 2426l8-6M314 2431l7 6M322 2420l8 9M321 2437l9-8M308 2424l6 2M307 2439l7-8M317 2444l4-2M321 2442l0-5M497 2451l1-7M497 2451l0 2M497 2453l-16 3M490 2440l-1 0M490 2440l4 1M494 2441l4 3M489 2440l-8 16M497 2453l-5 10M479 2464l13-1M479 2464l0-7M479 2457l2-1M314 2575l0-1M305 2569l9 5M356 2458l-6-1M356 2458l1 0M357 2458l4-14M350 2457l0-1M358 2443l3 1M358 2443l-9 8M349 2451l1 5M345 2459l3-1M345 2459l2 18M348 2458l5 16M347 2477l6-3M344 2480l3-3M344 2480l-6-5M338 2475l2-15M340 2460l5-1M356 2458l2 16M358 2474l-5 0M350 2457l-2 1M470 2507l1 1M470 2507l-13 14M471 2508l-8 18M457 2521l6 5M466 2500l0 0M466 2500l-16 12M466 2500l4 7M450 2512l4 8M454 2520l3 1M450 2512l-17-6M454 2520l-4 5M432 2507l1-1M432 2507l2 15M450 2525l-16-3M424 2536l-5-1M424 2536l9-9M419 2535l5-26M424 2509l8-2M433 2527l1-5M515 2428l-14-16M515 2428l0 6M515 2434l-14-10M521 2420l-6 8M516 2441l-18 3M516 2441l-1-7M494 2441l7-17M489 2440l-1 0M479 2457l-6-8M473 2449l15-9M434 2470l-2 6M434 2470l2-6M448 2468l-12-4M448 2468l1 2M432 2476l17-6M517 2600l-9-1M500 2590l5 2M508 2599l-3-7M533 2597l7 5M465 2530l-2-4M465 2530l5-1M471 2508l1 1M470 2529l2-20M335 2460l5 0M335 2460l-6-7M340 2460l-2-12M329 2453l1-7M330 2446l5-5M335 2441l3 7M338 2475l-4 0M334 2475l-3-11M340 2460l0 0M331 2464l4-4M321 2456l8-3M316 2461l2 4M331 2464l-2 1M318 2465l11 0M350 2456l-12-8M321 2442l9 4M330 2429l11 5M341 2434l-6 7M349 2451l-7-17M341 2434l1 0M342 2434l0 0M361 2482l3-5M361 2482l11 11M364 2477l2 0M372 2493l2-2M374 2491l-8-14M364 2477l-6-3M357 2458l2 0M359 2458l11 13M370 2471l-2 4M366 2477l2-2M375 2511l7-3M375 2511l-5-14M370 2497l2-3M372 2494l14 4M382 2508l4-10M409 2423l11-1M447 2422l-16 9M431 2431l-4-8M434 2470l-13-6M421 2464l-4 9M417 2473l1 2M430 2478l2-2M430 2478l-6-1M424 2477l-6-2M379 2540l-11 5M379 2540l-11-5M368 2535l-2 9M366 2544l2 1M379 2540l12-2M368 2546l0-1M368 2546l18 7M386 2553l5-15M367 2531l1 4M367 2531l12-7M379 2524l7 6M386 2530l7 6M391 2538l2-2M463 2547l-14 10M463 2547l-2-4M449 2557l-4-5M461 2543l-13 5M445 2552l3-4M442 2538l1 4M442 2538l3-4M445 2534l2-1M443 2542l4 2M447 2544l4-8M451 2536l-4-3M428 2543l2 6M428 2543l14-5M430 2549l5 3M435 2552l3 0M438 2552l5-10M424 2536l4 7M433 2527l12 7M450 2525l-3 8M445 2552l-7 0M448 2548l-1-4M461 2543l-1-4M460 2539l-9-3M465 2530l-5 9M521 2420l8-3M516 2441l4 2M520 2443l7-1M527 2442l5-17M497 2451l0 1M520 2443l-3 20M497 2452l20 11M461 2420l5 13M461 2420l-13 3M448 2423l5 10M453 2433l13 1M466 2434l0-1M447 2422l1 1M451 2436l2-3M451 2436l-1 1M450 2437l-20 0M430 2437l1-6M451 2436l2 9M453 2445l13-5M466 2440l0-6M472 2432l-4 0M472 2432l13-10M468 2432l6-11M474 2421l11-3M473 2449l-5-1M488 2440l-16-8M468 2448l-2-8M466 2433l2-1M490 2440l-5-18M472 2419l2 2M450 2437l-10 12M440 2449l2 1M453 2445l-1 2M442 2450l10-3M465 2452l-6 2M465 2452l8 19M469 2473l-12-16M469 2473l3-1M457 2457l2-3M473 2471l-1 1M468 2448l-3 4M452 2447l7 7M479 2464l-6 7M456 2479l-1 0M456 2479l13-6M448 2468l2-5M449 2470l6 9M450 2463l7-6M466 2500l-4-5M466 2500l16-10M482 2482l-10-10M482 2482l0 6M456 2479l4 13M482 2490l0-2M462 2495l-2-3M450 2463l-8-13M482 2482l3-2M492 2463l1 3M493 2466l-8 14M441 2495l-5 6M441 2495l11-14M435 2482l17-1M435 2482l0 19M435 2501l1 0M462 2495l-26 6M460 2492l-19 3M455 2479l-3 2M430 2478l5 4M433 2505l-6-7M433 2505l2-4M424 2477l3 21M433 2505l0 1M323 2557l2 0M323 2557l3 9M325 2557l15 8M326 2566l7 3M333 2569l7-4M321 2557l-6-4M321 2557l2 0M315 2553l9-11M330 2535l-6 7M330 2535l6 12M336 2547l0 0M336 2547l-11 10M326 2570l0-4M314 2574l7-17M344 2566l-4-1M344 2566l-1-11M343 2555l-7-8M334 2573l-5 4M334 2573l-1-4M367 2531l-6-1M361 2530l-7 9M366 2544l-3 1M354 2539l9 6M343 2555l11-1M336 2547l15-7M351 2540l3 14M344 2480l1 9M345 2489l2 2M361 2482l-4 7M347 2491l10-2M357 2517l3-3M357 2517l-1 2M361 2528l-5-9M361 2528l14-12M360 2514l14-1M375 2516l-1-3M339 2524l5 1M339 2524l6-15M344 2525l12-6M345 2509l12 8M344 2525l7 15M361 2530l0-2M354 2539l-3 1M379 2524l-4-8M386 2530l4-20M390 2510l-8-2M375 2511l-1 2M517 2600l5-7M505 2592l13-4M518 2588l4 5M533 2597l-2-3M522 2593l9 1M542 2570l3 20M542 2570l-2 1M540 2602l2-1M540 2571l-9 23M545 2590l-3 11M463 2547l4 3M467 2550l16-9M470 2529l15 1M483 2541l2-11M469 2565l1 7M469 2565l0-1M469 2564l16-8M485 2556l0 21M470 2572l4 3M485 2577l-11-2M449 2557l1 4M450 2561l19 4M467 2550l2 14M483 2541l8 12M491 2553l-6 3M472 2509l1 0M473 2509l8 6M485 2530l2-2M481 2515l6 13M598 2556l6-9M598 2556l13 5M611 2561l9-5M604 2547l2-1M611 2567l24 11M611 2567l0-6M610 2540l-4 6M323 2488l9 4M323 2488l-1-8M340 2490l-8 2M340 2490l-13-12M327 2478l-1 0M326 2478l-4 1M322 2480l0-1M319 2495l4-7M319 2495l7 7M326 2502l5-3M331 2499l1-7M345 2489l-5 1M338 2505l-7-6M338 2505l5-1M343 2504l4-6M347 2491l0 7M334 2475l-7 3M329 2465l-3 13M318 2465l2 11M320 2476l2 3M305 2477l8-3M320 2476l-7-2M305 2478l4 6M305 2478l-34 13M309 2484l-3 10M322 2480l-13 4M305 2477l0 1M354 2432l10 5M354 2432l-3-2M351 2430l8-12M364 2437l0 0M364 2437l9-11M373 2426l0 0M358 2443l-4-11M361 2444l3 0M364 2444l0-7M342 2434l9-4M322 2420l1-12M342 2434l-3-13M388 2456l-1-8M388 2456l-13-3M387 2448l-6-13M375 2453l-4-5M376 2440l-5 8M376 2440l5-5M371 2448l0 0M381 2435l0 0M396 2452l-3 6M396 2452l1-10M397 2442l-10 6M393 2458l-2 0M391 2458l-3-2M397 2439l-7-7M397 2439l0 3M390 2432l-9 3M364 2444l7 4M364 2437l12 3M373 2426l8 9M359 2458l3-1M362 2457l9-9M390 2432l3-5M397 2499l-3 11M397 2499l13 14M394 2510l11 9M410 2513l-5 6M404 2529l1-10M404 2529l-10 7M390 2510l4 0M394 2536l-1 0M418 2535l1 0M418 2535l-14-6M412 2512l12-3M412 2512l-2 1M440 2449l-9-1M430 2437l-1 1M429 2438l2 10M436 2464l-8-10M431 2448l-3 6M421 2464l3-7M417 2473l-5-1M412 2472l-8-14M404 2458l6-6M410 2452l14 5M424 2457l4-3M372 2493l0 1M374 2491l1-1M386 2498l4-4M375 2490l15 4M396 2497l-6-4M396 2497l1 2M390 2494l0-1M412 2472l-16 4M404 2458l-11 0M389 2465l2-7M389 2465l3 6M392 2471l4 5M375 2490l4-7M390 2493l0-7M390 2486l-11-3M396 2497l8-2M395 2479l-5 7M395 2479l10 10M405 2489l-1 6M418 2475l-4 10M395 2479l1-3M405 2489l9-4M427 2498l-10-6M417 2492l-3-7M323 2587l13 4M329 2578l8 3M336 2591l1-10M336 2591l2 2M334 2573l7 2M337 2581l4-6M344 2566l5 6M341 2575l8-3M361 2601l-12 1M435 2552l1 12M450 2562l0-1M450 2562l-10 4M440 2566l-4-2M395 2537l12 18M395 2537l18 12M407 2555l7 1M413 2549l1 7M418 2535l-5 14M394 2536l1 1M386 2553l0 3M386 2556l12 7M407 2555l-6 7M401 2562l-3 1M500 2590l0-1M500 2589l-7 12M493 2601l-6-15M487 2586l-4 8M460 2594l10 7M460 2594l2-6M462 2588l10 5M472 2593l-2 8M470 2601l0 0M454 2596l6-2M463 2578l7-6M463 2578l-1 10M474 2575l0 16M474 2591l-2 2M483 2594l-9-3M607 2452l-9-19M598 2433l7-4M605 2429l2-3M593 2459l14-7M593 2459l-1-2M598 2433l-7-1M591 2432l-2 3M592 2457l-3-22M610 2540l-9-8M601 2532l3-10M591 2462l0 2M591 2462l-21-16M570 2446l-4 3M591 2464l-20-4M566 2449l0 0M571 2460l-5-11M315 2553l-4-1M324 2542l-10-1M314 2541l-3 11M305 2569l-1-16M311 2552l-7 1M304 2553l-10-3M325 2511l0 3M325 2511l-8-11M325 2514l-10-8M317 2500l-2 6M319 2495l-2 1M326 2502l-1 9M317 2496l0 4M339 2524l-7 0M330 2535l0-1M351 2540l0 0M332 2524l-2 10M338 2505l-11 14M343 2504l2 5M332 2524l-5-5M325 2514l1 4M327 2519l-1-1M309 2507l-4 8M309 2507l-2-13M306 2494l1 0M306 2494l-9 23M315 2506l-6 1M323 2519l3-1M323 2519l-18-4M317 2496l-10-2M306 2494l0 0M357 2507l-4-4M357 2507l10-10M353 2503l12-7M367 2497l-2-1M347 2498l6 5M360 2514l-3-7M370 2497l-3 0M357 2489l8 7M540 2571l-12 1M518 2588l-1-10M528 2572l-11 6M500 2589l-4-7M496 2582l19-5M515 2577l2 1M545 2590l13 1M542 2601l15-3M557 2598l1-7M491 2553l3 1M491 2528l-4 0M491 2528l10 12M494 2554l7-14M604 2522l-1-4M606 2514l-3 4M339 2421l0-1M427 2423l-7-1M374 2458l-5 2M374 2458l3 9M369 2460l3 9M372 2469l4-1M377 2467l-1 1M362 2457l7 3M375 2453l-1 5M389 2465l-12 2M370 2471l2-2M409 2423l0 1M429 2438l-7 0M422 2438l-13-14M393 2427l13-1M406 2426l3-2M402 2448l7 1M402 2448l-2-8M409 2449l2-9M400 2440l9-1M409 2439l2 1M396 2452l6-4M410 2452l-1-3M397 2439l3 1M422 2438l-11 2M406 2426l3 13M380 2476l-2 5M380 2476l5-1M385 2475l-7 7M378 2481l0 1M368 2475l10 6M376 2468l4 8M392 2471l-7 4M379 2483l-1-1M410 2505l6-12M410 2505l-4-8M406 2497l10-4M412 2512l-2-7M417 2492l-1 1M404 2495l2 2M338 2593l14-10M349 2602l4-17M352 2583l1 2M361 2601l2-1M363 2600l0-3M353 2585l10 12M442 2573l-5 7M442 2573l9 1M451 2574l5 4M456 2578l-12 12M437 2580l4 8M444 2590l-3-2M450 2562l1 12M440 2566l2 7M463 2578l-7 0M454 2596l-7 1M447 2597l-3-7M427 2601l13 11M408 2596l-2 0M408 2596l7 10M397 2602l9-6M420 2587l-12 9M420 2587l6 6M426 2593l1 8M447 2597l-7 15M426 2593l15-5M490 2579l2 1M490 2579l0 0M492 2580l12-11M490 2579l5-20M495 2559l9 10M496 2582l-4-2M487 2586l3-7M485 2577l5 2M509 2567l6 10M509 2567l-5 2M495 2556l-1-2M495 2556l0 3M582 2427l-10 11M582 2427l-3 11M577 2439l2-1M577 2439l-5 0M572 2439l0-1M577 2419l4 3M577 2419l-11 14M566 2433l6 5M581 2422l2 3M583 2425l-1 2M591 2432l-2-5M589 2435l-10 3M589 2427l-6-2M592 2457l-15-18M591 2462l2-3M570 2446l2-7M545 2436l12 1M545 2436l0-10M545 2426l1-1M546 2425l13 2M557 2437l5-5M562 2432l-3-5M539 2442l6-6M539 2442l13 7M552 2449l5-6M557 2443l0-6M527 2442l5 2M532 2444l7-2M532 2425l13 1M566 2449l-9-6M566 2433l-4-1M604 2547l-4-3M601 2532l-6 2M595 2534l5 10M318 2524l-1 13M318 2524l-9 6M309 2530l0 1M309 2531l5 7M314 2538l3-1M323 2519l-5 5M330 2534l-13 3M314 2541l0-3M557 2598l6 7M528 2572l-8-11M509 2567l1-8M510 2559l10 2M495 2556l13-1M510 2559l-2-4M542 2570l5-3M547 2567l1-5M548 2562l0-1M548 2561l-19-14M520 2561l9-14M349 2572l1 0M352 2583l1-6M353 2577l-1-3M350 2572l2 2M436 2564l-5 3M437 2580l-9-3M428 2577l3-10M430 2549l-7 5M414 2556l0 0M423 2554l-9 2M431 2567l-6-3M423 2554l2 10M414 2556l0 5M425 2564l-2 0M414 2561l9 3M428 2577l-1 0M427 2577l-4-12M423 2565l0-1M404 2578l8-9M404 2578l16 7M420 2585l3-6M423 2579l-6-8M417 2571l-4-2M412 2569l1 0M420 2587l0-2M427 2577l-4 2M423 2565l-6 6M414 2561l-1 8M401 2562l11 7M589 2427l1-12M607 2426l-5-12M589 2427l0 0M581 2422l9-7M482 2488l21-5M485 2480l20-3M503 2483l2-6M493 2466l13 10M506 2476l-1 1M497 2452l14 22M506 2476l5-2M517 2463l1 9M518 2472l-3 2M511 2474l4 0M571 2460l-10 4M566 2449l-10 11M561 2464l-5-3M556 2460l0 1M552 2449l0 5M556 2460l-4-6M532 2444l4 11M552 2454l-16 1M556 2497l3-6M556 2497l16 2M559 2491l10 1M572 2499l-3-7M560 2481l7-5M560 2481l-1 10M567 2476l13 1M578 2484l2-7M578 2484l-9 8M606 2514l2-10M608 2504l5-6M585 2513l-22 9M585 2513l-6-11M575 2503l-17 15M575 2503l4-1M558 2518l5 4M599 2518l-7-4M599 2518l-9 14M590 2532l-7-6M583 2526l5-11M592 2514l-4 1M603 2518l-4 0M595 2534l-4 0M591 2534l-1-2M566 2525l4 3M566 2525l-3-3M585 2513l3 2M583 2526l-9 2M574 2528l-4 0M591 2534l-3 5M574 2528l14 11M547 2567l6 8M558 2591l1-3M559 2588l-1-5M553 2575l5 8M572 2598l10 6M526 2546l-15 4M526 2546l-11-8M511 2550l-3-9M515 2538l-6 3M508 2541l1 0M508 2555l3-5M529 2547l0-1M529 2546l-3 0M501 2540l7 1M491 2528l5-4M496 2524l12-1M508 2523l1 18M608 2504l-9-2M599 2502l-3 1M592 2514l0-3M592 2511l4-8M363 2600l7 2M370 2602l5 3M368 2546l4 13M363 2545l-4 8M372 2559l-13-6M354 2554l1 1M359 2553l-4 2M350 2572l5-11M355 2555l0 6M386 2556l-7 6M372 2559l2 3M379 2562l-5 0M353 2577l14 4M352 2574l19-9M367 2581l4-16M355 2561l18 1M371 2565l2-3M374 2562l-1 0M387 2591l15-3M387 2591l-3-1M384 2590l8-13M392 2577l5 0M397 2577l4 2M401 2579l1 9M397 2602l-10-11M406 2596l-4-8M398 2563l-1 14M382 2570l-3-8M382 2570l10 7M404 2578l-3 1M502 2489l11 14M502 2489l-13 7M513 2503l-17 1M496 2504l-4-2M492 2502l-2-2M489 2496l1 4M520 2500l-5-26M520 2500l0 3M503 2483l-1 6M520 2503l-2 2M518 2505l-5-2M482 2490l7 6M481 2515l11-13M496 2524l0-20M473 2509l17-9M554 2462l-18-2M554 2462l-4 8M550 2470l-2 0M548 2470l-15-2M536 2460l-3 8M556 2461l-2 1M536 2455l0 5M561 2464l6 12M560 2481l-6-2M554 2479l-4-9M554 2479l-13 5M541 2484l7-14M527 2488l-2-16M527 2488l10-6M537 2482l-7-10M525 2472l5 0M518 2472l7 0M520 2500l7-12M540 2485l1-1M540 2485l-3-3M533 2468l-3 4M591 2464l-1 4M580 2477l4-2M590 2468l-6 7M590 2468l10 7M600 2475l0 1M577 2556l3-2M577 2556l-17-4M580 2554l-10-9M560 2552l10-7M548 2562l22 4M551 2557l-3 4M551 2557l3-3M554 2554l6-2M570 2566l7-10M554 2554l12-29M573 2537l-3-9M573 2537l-3 8M581 2554l5 4M581 2554l4-12M585 2542l1 0M586 2558l8 3M588 2542l-2 0M588 2542l10 14M598 2556l-4 5M570 2566l5 4M575 2570l11-12M580 2554l1 0M573 2537l12 5M588 2539l-2 3M600 2544l-12-2M598 2556l0 0M611 2567l-5 3M606 2570l-12-7M594 2563l0-2M553 2575l20 1M558 2583l12-1M570 2582l3-6M575 2570l1 2M576 2572l-3 4M569 2592l3-8M569 2592l4 3M573 2595l8-7M572 2584l9 4M559 2588l10 4M570 2582l2 2M572 2598l1-3M591 2500l-2 1M591 2500l2-6M590 2492l3 2M590 2492l-11 9M589 2501l-10 1M579 2502l0-1M592 2511l-3-10M596 2503l-5-3M599 2502l-2-8M597 2494l-4 0M578 2484l1 17M584 2475l6 17M579 2502l0 0M572 2499l3 4M368 2590l1-8M368 2590l9 3M369 2582l7-1M376 2581l8 9M377 2593l2-1M379 2592l5-1M384 2591l0-1M363 2597l5-7M367 2581l2 1M370 2602l7-9M382 2570l-6 11M384 2590l0 0M508 2523l12-6M515 2538l6-14M520 2517l1 7M518 2505l2 11M520 2517l0-1M529 2546l12-13M529 2546l-4-15M525 2531l16 2M529 2546l0 0M525 2531l-4-7M551 2557l-4-28M547 2529l-6 4M540 2485l1 9M520 2503l14-6M541 2494l-7 3M605 2493l-4-16M605 2493l-8 1M597 2494l4-17M600 2476l1 1M597 2494l0 0M587 2586l-1-8M587 2586l4 5M591 2591l6 2M591 2573l16 7M591 2573l-5 5M601 2593l6-13M601 2593l-4 0M607 2580l0 0M576 2572l10 6M581 2588l6-2M606 2570l1 10M594 2563l-3 10M536 2518l13 5M536 2518l2-9M538 2509l8-12M549 2523l9-5M558 2518l-5-17M553 2501l-7-4M520 2516l16 2M547 2529l2-6M534 2497l4 12M541 2494l5 3M558 2518l0 0M556 2497l-3 4" stroke="#E85020" stroke-width="1.8" stroke-opacity="0.85" fill="none"/><path transform="scale(.5)" d="M314 2432h0m2 2h0m1-4h0m29 4h0m118-2h0m113-1h0m-216 11h0m15 1h0m10 3h0m41-2h0m12-7h0m12 7h0m9-7h0m74 10h0m9-11h0m6 5h0m18-5h0m3 0h0m0 3h0m3 4h0m-249 11h0m8 5h0m1-3h0m32 0h0m4 1h0m7-1h0m2 3h0m8-2h0m1-1h0m17 3h0m5-3h0m3-2h0m4 2h0m11-6h0m12 7h0m17-3h0m2-5h0m29 8h0m37-2h0m-191 11h0m10 4h0m11 0h0m5-5h0m2 3h0m6 3h0m3-4h0m1 2h0m11 0h0m2-5h0m3 4h0m7-1h0m1 1h0m0-3h0m5-5h0m8 10h0m3-3h0m1 0h0m4 2h0m5-6h0m3-1h0m27 2h0m22 0h0m43-2h0m1 8h0m11-4h0m5-5h0m11 0h0m48 0h0m-264 14h0m3 6h0m7 0h0m14-1h0m1-6h0m11 1h0m14 2h0m0-4h0m7 3h0m4 1h0m4 3h0m5 3h0m0-3h0m4 2h0m6 0h0m3-7h0m3-2h0m3 3h0m3 0h0m1-2h0m2 1h0m12-2h0m7 9h0m4-10h0m3 4h0m3 1h0m17 0h0m81 4h0m8-5h0m39-4h0m-281 14h0m17 5h0m17-1h0m1 3h0m2-4h0m14 1h0m2 4h0m11-9h0m0-1h0m8 1h0m1 2h0m6 8h0m3 0h0m16-9h0m2 2h0m1 3h0m5-6h0m6 5h0m7 3h0m3-8h0m7 1h0m22 0h0m61 2h0m12-2h0m31 5h0m6-1h0m-259 16h0m21-1h0m7-8h0m5 5h0m1-3h0m2-3h0m7 10h0m1-10h0m8 8h0m7-3h0m5 5h0m15-4h0m11-3h0m6 5h0m1-5h0m1 7h0m3-9h0m2 7h0m4-5h0m4 0h0m1 7h0m1-10h0m6 9h0m6-4h0m15 6h0m4-4h0m6-7h0m5 3h0m11 3h0m2-5h0m8 0h0m2 3h0m4 0h0m11-4h0m16 4h0m38 0h0m4 7h0m-252 9h0m0-8h0m4 5h0m4-4h0m1 5h0m1-3h0m69 8h0m7-3h0m8-2h0m4-6h0m2 0h0m7 7h0m5-4h0m3 3h0m4 2h0m2-1h0m35-4h0m7 8h0m7-5h0m0-1h0m6-2h0m0 3h0m7-3h0m33 6h0m1-4h0m32 2h0m16-4h0m-263 13h0m13 6h0m45-7h0m2 2h0m2 5h0m20-10h0m15 6h0m1-3h0m8 2h0m5 4h0m10 2h0m0 0h0m3-3h0m1-5h0m0 3h0m2-4h0m0 0h0m1-1h0m11 1h0m0 9h0m10-1h0m6-2h0m0-2h0m0 0h0m4 2h0m4 0h0m1-6h0m16 4h0m1 2h0m11-3h0m1 6h0m3-4h0m6-4h0m34 5h0m8-7h0m9 6h0m4 4h0m14-6h0m-274 15h0m15-2h0m18 0h0m18-5h0m2 4h0m36-4h0m7 6h0m2 0h0m29-5h0m3 5h0m3-7h0m2 1h0m4 2h0m9 4h0m8-2h0m7 5h0m7-3h0m0-6h0m6 1h0m9 9h0m3-2h0m6-9h0m2 0h0m5 6h0m2-2h0m14 7h0m3-2h0m6 2h0m3-2h0m16 0h0m3-2h0m1-6h0m1 5h0m12 5h0m14-9h0m-247 10h0m34 6h0m47 1h0m12 0h0m14-5h0m10 0h0m18 5h0m0-7h0m17 11h0m3 0h0m2-8h0m4 7h0m0-6h0m2 0h0m5 6h0m7-4h0m2 5h0m1 0h0m1 0h0m1-5h0m10 5h0m2-2h0m2-8h0m1 10h0m4-11h0m4 4h0m8 0h0m14 0h0m6 3h0m-264 7h0m3 5h0m7-5h0m0 2h0m41 3h0m1 2h0m4-6h0m18 7h0m17-10h0m22 4h0m18 7h0m29 0h0m16-11h0m2 1h0m0 9h0m1-9h0m4-1h0m1 4h0m1 0h0m5 0h0m1 2h0m4-3h0m4 3h0m4-4h0m6 6h0m7-3h0m2-5h0m5 11h0m8-3h0m0 3h0m3-8h0m8 5h0m6 0h0m8-3h0m10 3h0m0-3h0m13 4h0m2-1h0m-278 13h0m15-8h0m14 10h0m9-4h0m8-3h0m26-4h0m41 0h0m23 11h0m22-9h0m18 3h0m2-2h0m6 0h0m2 7h0m10-3h0m6-6h0m5 7h0m1-7h0m6 9h0m0-7h0m0 3h0m1-4h0m1-1h0m7 1h0m2 1h0m5 2h0m11 5h0m-228 3h0m48 3h0m52-2h0m6 6h0m26 1h0m28-7h0m10 0h0m0 2h0m5 4h0m3-1h0m4 0h0m1 3h0m1-5h0m13-1h0m8-4h0m0 10h0m11-5h0m5 1h0m2 0h0m5 5h0m8-5h0m7 1h0m19-3h0m10 1h0m1 4h0" stroke="#3A5CD8" stroke-width="5.0" stroke-linecap="round" fill="none" opacity="0.9"/><path d="M190.8 1247.4a1.4 1.4 0 1 0 2.8 0a1.4 1.4 0 1 0 -2.8 0M279.9 1226.4a1.5 1.3 0 1 0 3 0a1.5 1.3 0 1 0 -3 0M241.3 1294.8a4.3 3.9 0 1 0 8.6 0a4.3 3.9 0 1 0 -8.6 0M285.3 1274.1a6.5 5.3 0 1 0 12.9 0a6.5 5.3 0 1 0 -12.9 0M282.7 1257.6a5.2 4.5 0 1 0 10.5 0a5.2 4.5 0 1 0 -10.5 0M278.1 1219.8a1.6 1.4 0 1 0 3.2 0a1.6 1.4 0 1 0 -3.2 0M197 1296.7a1.7 1.4 0 1 0 3.3 0a1.7 1.4 0 1 0 -3.3 0M263.7 1237.2a4.4 3.7 0 1 0 8.7 0a4.4 3.7 0 1 0 -8.7 0M216.3 1237.2a5 4.3 0 1 0 10.1 0a5 4.3 0 1 0 -10.1 0M243.2 1257.5a6.8 5.8 0 1 0 13.7 0a6.8 5.8 0 1 0 -13.7 0M197.1 1280.6a6.2 6.1 0 1 0 12.4 0a6.2 6.1 0 1 0 -12.4 0M297.8 1289.6a1.7 1.5 0 1 0 3.3 0a1.7 1.5 0 1 0 -3.3 0M256.3 1285.9a2.4 2.1 0 1 0 4.9 0a2.4 2.1 0 1 0 -4.9 0M199.8 1248.9a1.7 1.6 0 1 0 3.3 0a1.7 1.6 0 1 0 -3.3 0M254.3 1298.3a2.7 2.4 0 1 0 5.5 0a2.7 2.4 0 1 0 -5.5 0M219.9 1248.4a4.9 4.6 0 1 0 9.9 0a4.9 4.6 0 1 0 -9.9 0M199.4 1236a1.4 1.3 0 1 0 2.8 0a1.4 1.3 0 1 0 -2.8 0M159.1 1215.8a1.7 1.7 0 1 0 3.5 0a1.7 1.7 0 1 0 -3.5 0M275.9 1270.8a4.4 3.6 0 1 0 8.7 0a4.4 3.6 0 1 0 -8.7 0M230.8 1295.4a4.5 3.9 0 1 0 9 0a4.5 3.9 0 1 0 -9 0M276.5 1248.8a1.3 1.2 0 1 0 2.6 0a1.3 1.2 0 1 0 -2.6 0M176.4 1251.3a4.6 4.4 0 1 0 9.2 0a4.6 4.4 0 1 0 -9.2 0M284.6 1287.1a3.7 3.2 0 1 0 7.4 0a3.7 3.2 0 1 0 -7.4 0M243.3 1222.8a5.2 4.5 0 1 0 10.4 0a5.2 4.5 0 1 0 -10.4 0M197.8 1228.2a4.5 3.8 0 1 0 9 0a4.5 3.8 0 1 0 -9 0M221.4 1222.3a1.3 1.2 0 1 0 2.7 0a1.3 1.2 0 1 0 -2.7 0M211.2 1265.8a5.5 5.3 0 1 0 10.9 0a5.5 5.3 0 1 0 -10.9 0M195 1261.2a5.5 4.9 0 1 0 10.9 0a5.5 4.9 0 1 0 -10.9 0M182.2 1219.6a1.4 1.2 0 1 0 2.8 0a1.4 1.2 0 1 0 -2.8 0M285.1 1228.6a5.6 5.2 0 1 0 11.3 0a5.6 5.2 0 1 0 -11.3 0M180.1 1224.1a2.4 2.4 0 1 0 4.8 0a2.4 2.4 0 1 0 -4.8 0M300.1 1254.7a1.6 1.4 0 1 0 3.2 0a1.6 1.4 0 1 0 -3.2 0M241.7 1265.9a1.5 1.3 0 1 0 3 0a1.5 1.3 0 1 0 -3 0M289.9 1244.6a3.8 3.2 0 1 0 7.7 0a3.8 3.2 0 1 0 -7.7 0M166.2 1269.2a2.9 2.7 0 1 0 5.7 0a2.9 2.7 0 1 0 -5.7 0M151.9 1227.7a2.8 2.5 0 1 0 5.6 0a2.8 2.5 0 1 0 -5.6 0M155.2 1272.5a5.4 4.4 0 1 0 10.7 0a5.4 4.4 0 1 0 -10.7 0M278.9 1277.8a1.5 1.5 0 1 0 3 0a1.5 1.5 0 1 0 -3 0M183.2 1276.5a3.4 3.1 0 1 0 6.8 0a3.4 3.1 0 1 0 -6.8 0M179.5 1233a1.2 1.1 0 1 0 2.4 0a1.2 1.1 0 1 0 -2.4 0M274.9 1288a4 3.6 0 1 0 8 0a4 3.6 0 1 0 -8 0M181.4 1267.7a1.5 1.4 0 1 0 3.1 0a1.5 1.4 0 1 0 -3.1 0M180.1 1291.5a2.3 2.2 0 1 0 4.5 0a2.3 2.2 0 1 0 -4.5 0M257 1216.2a1.4 1.3 0 1 0 2.8 0a1.4 1.3 0 1 0 -2.8 0M269.7 1270.5a1.4 1.3 0 1 0 2.7 0a1.4 1.3 0 1 0 -2.7 0M192.1 1271.9a2.8 2.5 0 1 0 5.6 0a2.8 2.5 0 1 0 -5.6 0M169.6 1242.5a4.4 4.3 0 1 0 8.8 0a4.4 4.3 0 1 0 -8.8 0M170.3 1252.2a2.5 2.2 0 1 0 5 0a2.5 2.2 0 1 0 -5 0M273.1 1250.8a1.2 1.1 0 1 0 2.5 0a1.2 1.1 0 1 0 -2.5 0M259.1 1261.2a1.8 1.6 0 1 0 3.5 0a1.8 1.6 0 1 0 -3.5 0M153.5 1280.8a1.4 1.1 0 1 0 2.7 0a1.4 1.1 0 1 0 -2.7 0M204.8 1244.6a5.6 4.9 0 1 0 11.2 0a5.6 4.9 0 1 0 -11.2 0M264.5 1285.2a1.7 1.4 0 1 0 3.4 0a1.7 1.4 0 1 0 -3.4 0M186.4 1288.7a5.7 5.2 0 1 0 11.3 0a5.7 5.2 0 1 0 -11.3 0M222.4 1296.7a2.6 2.4 0 1 0 5.2 0a2.6 2.4 0 1 0 -5.2 0M224.7 1230.8a1.8 1.7 0 1 0 3.7 0a1.8 1.7 0 1 0 -3.7 0M223.8 1215a3.7 3.1 0 1 0 7.4 0a3.7 3.1 0 1 0 -7.4 0M252.9 1270.6a1.9 1.8 0 1 0 3.8 0a1.9 1.8 0 1 0 -3.8 0M254.3 1231.9a1.2 1.1 0 1 0 2.5 0a1.2 1.1 0 1 0 -2.5 0M183 1233.3a3.8 3.5 0 1 0 7.6 0a3.8 3.5 0 1 0 -7.6 0M219.9 1280.7a4.6 3.9 0 1 0 9.1 0a4.6 3.9 0 1 0 -9.1 0M236.9 1244.2a2.9 2.6 0 1 0 5.8 0a2.9 2.6 0 1 0 -5.8 0M151.7 1298.1a6.4 6.3 0 1 0 12.9 0a6.4 6.3 0 1 0 -12.9 0M152.8 1262.2a3.7 3.1 0 1 0 7.5 0a3.7 3.1 0 1 0 -7.5 0M292 1213.1a1.8 1.8 0 1 0 3.5 0a1.8 1.8 0 1 0 -3.5 0M193.2 1244.1a1.4 1.4 0 1 0 2.9 0a1.4 1.4 0 1 0 -2.9 0M157.7 1248a3.1 2.8 0 1 0 6.2 0a3.1 2.8 0 1 0 -6.2 0M265.3 1263.2a2.2 2 0 1 0 4.5 0a2.2 2 0 1 0 -4.5 0M173.9 1275.5a2.9 2.6 0 1 0 5.8 0a2.9 2.6 0 1 0 -5.8 0M159.8 1282.6a2.9 2.7 0 1 0 5.8 0a2.9 2.7 0 1 0 -5.8 0M166 1216.2a1.5 1.3 0 1 0 2.9 0a1.5 1.3 0 1 0 -2.9 0M293.7 1296a1.8 1.6 0 1 0 3.5 0a1.8 1.6 0 1 0 -3.5 0M287.2 1213.4a1.2 1 0 1 0 2.4 0a1.2 1 0 1 0 -2.4 0M170.2 1227.7a2 1.6 0 1 0 3.9 0a2 1.6 0 1 0 -3.9 0M174.3 1262.7a1.8 1.6 0 1 0 3.5 0a1.8 1.6 0 1 0 -3.5 0M205.8 1217.5a6.4 5.3 0 1 0 12.8 0a6.4 5.3 0 1 0 -12.8 0M161.3 1255.9a2.7 2.6 0 1 0 5.3 0a2.7 2.6 0 1 0 -5.3 0M184.2 1259.5a1.5 1.2 0 1 0 3 0a1.5 1.2 0 1 0 -3 0M176 1218.7a2 1.9 0 1 0 3.9 0a2 1.9 0 1 0 -3.9 0M263.1 1251.8a3.1 2.9 0 1 0 6.2 0a3.1 2.9 0 1 0 -6.2 0M198.5 1253.3a1.6 1.5 0 1 0 3.2 0a1.6 1.5 0 1 0 -3.2 0M235.2 1219.7a2 1.6 0 1 0 3.9 0a2 1.6 0 1 0 -3.9 0M224 1269.8a1.7 1.6 0 1 0 3.4 0a1.7 1.6 0 1 0 -3.4 0M268.1 1280.3a4.7 3.9 0 1 0 9.3 0a4.7 3.9 0 1 0 -9.3 0M156.1 1240.2a2.7 2.4 0 1 0 5.4 0a2.7 2.4 0 1 0 -5.4 0M280.4 1297.9a2.2 2 0 1 0 4.5 0a2.2 2 0 1 0 -4.5 0M279.9 1215.1a2.3 2.2 0 1 0 4.5 0a2.3 2.2 0 1 0 -4.5 0M260.2 1229.7a2.2 2.2 0 1 0 4.4 0a2.2 2.2 0 1 0 -4.4 0M272.8 1229.8a1.4 1.4 0 1 0 2.8 0a1.4 1.4 0 1 0 -2.8 0M185.9 1222.2a3.7 3.5 0 1 0 7.4 0a3.7 3.5 0 1 0 -7.4 0M227.9 1258a1.2 1.1 0 1 0 2.4 0a1.2 1.1 0 1 0 -2.4 0M175.3 1230.2a1.4 1.2 0 1 0 2.8 0a1.4 1.2 0 1 0 -2.8 0M198.1 1241.3a1.7 1.4 0 1 0 3.3 0a1.7 1.4 0 1 0 -3.3 0M240 1213.5a2.2 1.8 0 1 0 4.4 0a2.2 1.8 0 1 0 -4.4 0M299.2 1220.7a1.6 1.3 0 1 0 3.2 0a1.6 1.3 0 1 0 -3.2 0M185.2 1240a1.3 1.2 0 1 0 2.7 0a1.3 1.2 0 1 0 -2.7 0M211.5 1256.3a1.2 1.1 0 1 0 2.4 0a1.2 1.1 0 1 0 -2.4 0M214.7 1298.1a1.2 1.2 0 1 0 2.4 0a1.2 1.2 0 1 0 -2.4 0M169.8 1291.4a4 3.4 0 1 0 8 0a4 3.4 0 1 0 -8 0M170.7 1216.8a1.4 1.2 0 1 0 2.7 0a1.4 1.2 0 1 0 -2.7 0M293.4 1263.9a3.6 3.4 0 1 0 7.1 0a3.6 3.4 0 1 0 -7.1 0M238.5 1229.9a3.1 2.8 0 1 0 6.2 0a3.1 2.8 0 1 0 -6.2 0M270.2 1245.6a2.9 2.8 0 1 0 5.7 0a2.9 2.8 0 1 0 -5.7 0M163.3 1287.8a1.3 1.1 0 1 0 2.5 0a1.3 1.1 0 1 0 -2.5 0M237.3 1272.3a2.7 2.5 0 1 0 5.5 0a2.7 2.5 0 1 0 -5.5 0M233.6 1282.7a2.1 2.1 0 1 0 4.2 0a2.1 2.1 0 1 0 -4.2 0M270.1 1214.5a2.4 2.4 0 1 0 4.9 0a2.4 2.4 0 1 0 -4.9 0M257.6 1234.5a2.3 2 0 1 0 4.6 0a2.3 2 0 1 0 -4.6 0M183.5 1215.2a2.2 2 0 1 0 4.4 0a2.2 2 0 1 0 -4.4 0M170.3 1274.2a1.2 1.1 0 1 0 2.4 0a1.2 1.1 0 1 0 -2.4 0" fill="#050302" stroke="#E04818" stroke-width="0.7" filter="url(#sb)"/></g>
<clipPath id="ic5"><rect x="255.6" y="1214.3" width="45.1" height="44.8"/></clipPath><g clip-path="url(#ic5)"><rect x="255.6" y="1214.3" width="45.1" height="44.8" fill="#2A6A30"/><path filter="url(#sb)" transform="scale(.5)" d="M545 2507l-24-5M519 2499l2 3M503 2433l13 18M506 2457l10-6M512 2420l-9 13M512 2420l11 10M523 2430l-2 20M521 2450l-5 1M518 2492l1-3M519 2489l-13-32M518 2492l1 7M530 2454l-9-4M530 2454l6 13M536 2467l-17 22M536 2467l17 10M553 2477l2 20M545 2507l5-2M550 2505l5-8M552 2441l-1-20M552 2441l9 7M551 2421l26 15M561 2448l16-12M530 2454l22-13M568 2462l-7-14M568 2462l-15 15M568 2462l8 1M555 2497l27-3M582 2494l-2-29M576 2463l4 2M554 2509l28 8M585 2525l-3-8M550 2505l4 4M582 2494l4 2M586 2496l-4 21M601 2496l-15 0M602 2475l-19-10M602 2475l21-16M583 2465l17-15M601 2496l1-21M580 2465l3 0M584 2436l11 1M584 2436l-3-1M581 2435l0-4M581 2431l4-8M585 2423l1 0M586 2423l17 2M595 2437l8-12M576 2463l8-27M600 2450l-5-13M577 2436l4-1" stroke="#E85020" stroke-width="3.2" stroke-opacity="1" fill="none"/><path transform="scale(.5)" d="M540 2452h0m16-2h0m36 14h0m-62 16h0m40 12h0m-46 12h0m60 0h0" stroke="#4A88E0" stroke-width="13.0" stroke-linecap="round" fill="none" opacity="0.9"/></g>
<rect x="255.6" y="1214.3" width="45.1" height="44.8" fill="none" stroke="#fff" stroke-width="1"/>
<rect x="180.4" y="1247" width="18.2" height="16.3" fill="none" stroke="#fff" stroke-width="0.8"/>
<path d="M198.6 1247L255.6 1214.3M198.6 1249L255.6 1259" stroke="#fff" stroke-width="1.3" stroke-dasharray="4,2.5"/>
<line x1="264" x2="292.5" y1="1287.2" y2="1287.2" stroke="#fff" stroke-width="1.6"/>
<text x="11.2" y="1196" font-size="8.4" text-anchor="start" font-family='"Liberation Serif",serif' font-weight="bold" fill="#fff">Albumin</text>
<text x="164" y="1195.6" font-size="8.4" text-anchor="start" font-family='"Liberation Serif",serif' font-weight="bold" fill="#fff">TIA1</text>
<text x="9.3" y="1287.2" font-size="8.4" text-anchor="start" font-family='"Liberation Serif",serif' font-weight="bold" fill="#fff">DAPI</text>
<text x="164" y="1286.7" font-size="8.4" text-anchor="start" font-family='"Liberation Serif",serif' font-weight="bold" fill="#fff">MERGE</text>
<text x="7" y="1337" font-size="14" text-anchor="start" font-family='"Liberation Serif",serif' font-weight="bold" fill="#000">J</text>
<path d="M85.6 1322.8V1431.5H249.9" stroke="#111" stroke-width="1.2" fill="none"/>
<line x1="82.6" x2="85.6" y1="1431.5" y2="1431.5" stroke="#111" stroke-width="1"/>
<text x="80.6" y="1434.4" font-size="8.2" text-anchor="end" font-family='"Liberation Sans",sans-serif' font-weight="bold" fill="#222">0</text>
<line x1="82.6" x2="85.6" y1="1395.3" y2="1395.3" stroke="#111" stroke-width="1"/>
<text x="80.6" y="1398.2" font-size="8.2" text-anchor="end" font-family='"Liberation Sans",sans-serif' font-weight="bold" fill="#222">100</text>
<line x1="82.6" x2="85.6" y1="1359.2" y2="1359.2" stroke="#111" stroke-width="1"/>
<text x="80.6" y="1362.1" font-size="8.2" text-anchor="end" font-family='"Liberation Sans",sans-serif' font-weight="bold" fill="#222">200</text>
<line x1="82.6" x2="85.6" y1="1323" y2="1323" stroke="#111" stroke-width="1"/>
<text x="80.6" y="1325.9" font-size="8.2" text-anchor="end" font-family='"Liberation Sans",sans-serif' font-weight="bold" fill="#222">300</text>
<line y1="1431.5" y2="1434.5" x1="85.6" x2="85.6" stroke="#111" stroke-width="1"/>
<text x="85.6" y="1446" font-size="8.2" text-anchor="middle" font-family='"Liberation Sans",sans-serif' font-weight="bold" fill="#222">0</text>
<line y1="1431.5" y2="1434.5" x1="140.3" x2="140.3" stroke="#111" stroke-width="1"/>
<text x="140.3" y="1446" font-size="8.2" text-anchor="middle" font-family='"Liberation Sans",sans-serif' font-weight="bold" fill="#222">50</text>
<line y1="1431.5" y2="1434.5" x1="195.1" x2="195.1" stroke="#111" stroke-width="1"/>
<text x="195.1" y="1446" font-size="8.2" text-anchor="middle" font-family='"Liberation Sans",sans-serif' font-weight="bold" fill="#222">100</text>
<line y1="1431.5" y2="1434.5" x1="249.8" x2="249.8" stroke="#111" stroke-width="1"/>
<text x="249.8" y="1446" font-size="8.2" text-anchor="middle" font-family='"Liberation Sans",sans-serif' font-weight="bold" fill="#222">150</text>
<line y1="1431.5" y2="1433" x1="113" x2="113" stroke="#111" stroke-width="0.8"/>
<line y1="1431.5" y2="1433" x1="167.7" x2="167.7" stroke="#111" stroke-width="0.8"/>
<line y1="1431.5" y2="1433" x1="222.5" x2="222.5" stroke="#111" stroke-width="0.8"/>
<line x1="84" x2="85.6" y1="1413.4" y2="1413.4" stroke="#111" stroke-width="0.8"/>
<line x1="84" x2="85.6" y1="1377.2" y2="1377.2" stroke="#111" stroke-width="0.8"/>
<line x1="84" x2="85.6" y1="1341.1" y2="1341.1" stroke="#111" stroke-width="0.8"/>
<text x="167.7" y="1459" font-size="8.8" text-anchor="middle" font-family='"Liberation Sans",sans-serif' font-weight="bold" fill="#222">Distance（μm）</text>
<text transform="translate(59.6,1375) rotate(-90)" font-size="8.8" font-weight="bold" text-anchor="middle" font-family="Liberation Sans" fill="#222">Intensity（a.u.）</text>
<path d="M85.6 1408L86.7 1409.8L87.8 1413.4L88.9 1414.1L90 1415.2L91.1 1413.4L92.2 1415.2L93.3 1413.4L94.4 1411.6L96.5 1410.5L98.7 1409.8L100.9 1411.6L103.1 1413.4L105.3 1415.2L107.5 1413.4L109.7 1413.4L111.9 1415.2L114.1 1415.2L116.3 1413.4L117.4 1417L118.4 1413.4L119.5 1398.9L120.6 1400.8L121.7 1402.6L122.8 1408L123.9 1406.2L125 1404.4L126.1 1404.4L127.2 1409.8L128.3 1417L129.4 1424.3L130.5 1427.9L131.6 1429.7L132.7 1431.5L140.3 1430.8L151.3 1431.5L162.2 1430.4L173.2 1431.5L178.7 1430.8L180.9 1427.9L183.1 1420.6L185.2 1413.4L187.4 1408L189.6 1406.2L191.8 1405.5L194 1406.2L196.2 1408L198.4 1409.8L200.6 1411.6L202.8 1413.4L205 1411.6L207.1 1415.2L209.3 1413.4L211.5 1411.6L213.7 1406.2L215.9 1409.8L218.1 1417L220.3 1408L222.5 1420.6L224.7 1422.5L226.9 1420.6L227.9 1420.6" stroke="#5EC84A" stroke-width="1.1" fill="none" stroke-linejoin="round"/>
<path d="M85.6 1351.9L86.7 1348.3L87.8 1377.2L88.9 1406.2L90 1384.5L91.1 1382.7L92.2 1388.1L93.3 1380.9L94.4 1379.1L95.5 1395.3L96.5 1366.4L97.6 1351.9L98.7 1359.2L99.8 1395.3L100.9 1388.1L102 1391.7L103.1 1389.9L104.2 1402.6L105.3 1406.2L106.4 1409.8L107.5 1404.4L108.6 1411.6L109.7 1409.8L110.8 1413.4L111.9 1411.6L113 1415.2L114.1 1413.4L115.2 1417L116.3 1414.1L117.4 1413.4L118.4 1417L119.5 1402.6L120.6 1397.1L121.7 1409.8L122.8 1366.4L123.9 1348.3L125 1377.2L126.1 1413.4L127.2 1420.6L128.3 1424.3L129.4 1427.9L130.5 1429.7L131.6 1431.5L132.7 1429.7L133.8 1428.6L134.9 1426.4L136 1429.7L137.1 1431.5L139.3 1430.1L141.4 1431.5L143.6 1429.3L145.8 1427.2L146.9 1430.4L149.1 1424.3L151.3 1429.7L153.5 1426.1L155.7 1424.3L157.9 1427.9L160.1 1425L162.2 1424.3L164.4 1429.7L166.6 1427.2L168.8 1429.7L171 1427.9L173.2 1430.4L175.4 1428.6L177.6 1424.3L179.8 1426.1L182 1420.6L184.1 1402.6L185.2 1397.1L186.3 1402.6L187.4 1409.8L188.5 1413.4L189.6 1409.8L190.7 1411.6L191.8 1409.8L192.9 1406.2L194 1377.2L195.1 1341.1L196.2 1359.2L197.3 1395.3L198.4 1406.2L199.5 1408L200.6 1409.8L201.7 1411.6L202.8 1409.8L203.9 1417L205 1418.8L206.1 1420.6L207.1 1418.8L208.2 1417L209.3 1415.2L210.4 1362.8L211.5 1377.2L212.6 1417L213.7 1413.4L214.8 1420.6L215.9 1415.2L217 1418.8L218.1 1413.4L219.2 1417L220.3 1411.6L221.4 1415.2L222.5 1418.8L223.6 1420.6L224.7 1422.5L225.8 1424.3L226.9 1420.6L227.9 1422.5" stroke="#E8262B" stroke-width="1.1" fill="none" stroke-linejoin="round"/>
<line x1="225.4" x2="237.1" y1="1330" y2="1330" stroke="#E8262B" stroke-width="1.3"/>
<line x1="225.4" x2="237.1" y1="1345.4" y2="1345.4" stroke="#5EC84A" stroke-width="1.3"/>
<text x="242.6" y="1332.9" font-size="8" text-anchor="start" font-family='"Liberation Sans",sans-serif' fill="#222">TIA1</text>
<text x="242.6" y="1348.3" font-size="8" text-anchor="start" font-family='"Liberation Sans",sans-serif' fill="#222">Albumin</text>
<text x="302.5" y="1010.5" font-size="14" text-anchor="start" font-family='"Liberation Serif",serif' font-weight="bold" fill="#000">K</text>
<defs><linearGradient id="gk" x1="0" y1="0" x2="0" y2="1"><stop offset="0" stop-color="#3A3C9C"/><stop offset="0.5" stop-color="#8A7CC4"/><stop offset="1" stop-color="#D8D6E4"/></linearGradient></defs>
<text x="413.4" y="1036.2" font-size="9.2" text-anchor="middle" font-family='"Liberation Sans",sans-serif' font-weight="bold" fill="#111">Normal (45 samples, 53032 cells)</text>
<path d="M332.6 1040.3V1140.2H491.9" stroke="#555" stroke-width="0.8" fill="none"/>
<ellipse cx="395" cy="1060.8" rx="12" ry="3.3" transform="rotate(-5 395 1060.8)" fill="#5CB848" fill-opacity="0.6"/><ellipse cx="371.5" cy="1066.5" rx="4.8" ry="5.2" transform="rotate(0 371.5 1066.5)" fill="#30A070" fill-opacity="0.6"/><ellipse cx="438" cy="1075" rx="9.8" ry="6.3" transform="rotate(0 438 1075)" fill="#E066C0" fill-opacity="0.6"/><ellipse cx="432" cy="1121" rx="5.2" ry="3.8" transform="rotate(0 432 1121)" fill="#3A78B8" fill-opacity="0.6"/><ellipse cx="347.2" cy="1094" rx="5.1" ry="3.6" transform="rotate(0 347.2 1094)" fill="#7090C0" fill-opacity="0.6"/><ellipse cx="366" cy="1121" rx="20.2" ry="10.5" transform="rotate(0 366 1121)" fill="#DCA45A" fill-opacity="0.6"/><ellipse cx="376" cy="1124.5" rx="12.8" ry="6.3" transform="rotate(0 376 1124.5)" fill="#C8642E" fill-opacity="0.6"/><ellipse cx="360" cy="1120" rx="11.2" ry="7.5" transform="rotate(0 360 1120)" fill="#A07030" fill-opacity="0.6"/><path transform="scale(.5)" d="M766 2085h0m-21 10h0m2 4h0m1-6h0m2 6h0m0-8h0m0 4h0m2 0h0m0-2h0m1 0h0m1 2h0m1-3h0m0 4h0m2 2h0m0-2h0m1 2h0m0-4h0m0-1h0m1 4h0m1-1h0m0-6h0m0 5h0m1 0h0m0 3h0m0-9h0m1 8h0m0-7h0m1 6h0m0-2h0m2 2h0m0 2h0m1-2h0m1 0h0m0-3h0m2 1h0m3-6h0m4 5h0m-43 11h0m0 3h0m3-4h0m6 1h0m2 5h0m2-5h0m0-2h0m1 3h0m1 0h0m0 4h0m1-5h0m0-4h0m0 1h0m0-1h0m2 11h0m0-7h0m0 6h0m1-8h0m0 9h0m0-4h0m0-4h0m0 4h0m0-5h0m1 6h0m0 3h0m1-10h0m0 9h0m1-5h0m0-3h0m0 5h0m0-5h0m0 9h0m1-3h0m1-4h0m0 2h0m0 0h0m1 5h0m0-6h0m0 0h0m0-1h0m0 0h0m0 1h0m1 1h0m0-2h0m0 1h0m0-2h0m0 3h0m1 5h0m1-11h0m0 7h0m0 1h0m0-4h0m1 6h0m0-8h0m1 4h0m0 0h0m0 0h0m0 2h0m0-2h0m0-5h0m0 7h0m0-8h0m1 7h0m0-5h0m0 2h0m1-2h0m0-1h0m0 5h0m0-5h0m0 1h0m1 2h0m0 0h0m1 2h0m0-3h0m1 1h0m2 4h0m2-4h0m1 7h0m1-7h0m0-3h0m0-1h0m-33 20h0m7-8h0m1 8h0m1 3h0m0-3h0m1 0h0m0-5h0m1 0h0m0-1h0m1 1h0m0-2h0m1 1h0m0 5h0m0-7h0m2 3h0m0 6h0m0-6h0m1-1h0m1 4h0m0 1h0m1-6h0m0 1h0m0 3h0m0-5h0m1 5h0m0-1h0m2-2h0m0 1h0m1-2h0m1 3h0m0-3h0m1 2h0m1-3h0m1 0h0m0 0h0m1 5h0m2-1h0m1 0h0m1-4h0m0 4h0m-12 9h0m1 2h0" stroke="#F0B4D8" stroke-width="2.0" stroke-linecap="round" fill="none"/><path transform="scale(.5)" d="M757 2083h0m-15 16h0m5-1h0m0 1h0m3-4h0m0 0h0m0-4h0m0-2h0m0 2h0m2 8h0m0-8h0m0 8h0m1-2h0m0-5h0m1 6h0m1 0h0m0 1h0m1-4h0m1 3h0m0-3h0m0-3h0m1 7h0m0-1h0m0-10h0m0 7h0m0 2h0m1-5h0m3-2h0m0 8h0m3 0h0m0-5h0m-23 8h0m5 4h0m0-1h0m1 3h0m2-4h0m0-2h0m0 5h0m1 4h0m0-9h0m1 2h0m1 6h0m1-8h0m0 1h0m0 0h0m0-1h0m0 0h0m1 6h0m1-6h0m0 3h0m0 4h0m1-5h0m1 3h0m1 2h0m1-4h0m0 5h0m2-5h0m8 0h0m-21 8h0m4 1h0m175 70h0m-12 4h0m9 3h0m2-1h0m1 2h0m1-4h0m1-1h0m0 0h0m0 9h0m1-2h0m2 1h0m1-7h0m1 5h0m0-1h0m0 1h0m1 3h0m0-1h0m1-4h0m0 0h0m0 1h0m0 4h0m1-2h0m1 1h0m1-1h0m1 2h0m0-10h0m1 3h0m1 7h0m1-7h0m0 2h0m0 5h0m1-6h0m0-1h0m0 7h0m0-4h0m0-1h0m0 0h0m1 0h0m0-1h0m1 2h0m0 0h0m1-1h0m0-3h0m1 3h0m1 0h0m0-1h0m0 0h0m3 6h0m0-2h0m3-1h0m0 3h0m6-4h0m2 3h0m1-8h0m2 3h0m0 0h0m4 0h0m0 2h0m1 4h0m11-11h0m-66 18h0m6-3h0m0-2h0m3 0h0m1 3h0m0 2h0m1-2h0m3 4h0m1-6h0m1 2h0m3-2h0m0 2h0m1-2h0m1 2h0m2-2h0m0 7h0m0-6h0m1-2h0m0 1h0m2 1h0m2 2h0m0-4h0m2 0h0m0 0h0m1 0h0m1 8h0m1-8h0m0 1h0m2 3h0m0-2h0m1-2h0m1 5h0m1-3h0m0 4h0m1-2h0m3-5h0m1 1h0m2 2h0m1-1h0m4 5h0" stroke="#B8B0E0" stroke-width="2.0" stroke-linecap="round" fill="none"/><path transform="scale(.5)" d="M757 2090h0m2 2h0m1 5h0m0 2h0m1-2h0m-18 7h0m3 5h0m2-8h0m1 7h0m1-5h0m2-1h0m0 6h0m0 2h0m1-10h0m0 4h0m0 2h0m0-3h0m1 8h0m1 0h0m2-3h0m0 3h0m1-3h0m0 0h0m1-8h0m1 2h0m0 2h0m1 3h0m0 0h0m0-5h0m0 1h0m1 8h0m0-3h0m1 0h0m1-1h0m1 0h0m0 0h0m1-5h0m-21 11h0m3 2h0m5-3h0m3 3h0m0-1h0m1 2h0m1 2h0m0-1h0m3-4h0m2 0h0m2 2h0m1 0h0m1 2h0" stroke="#8CB8DC" stroke-width="2.0" stroke-linecap="round" fill="none"/><path transform="scale(.5)" d="M797 2110h0m7 1h0m2-1h0m-61 9h0m3 3h0m1-6h0m4 4h0m3-2h0m1 4h0m1-2h0m2-1h0m1-3h0m1 3h0m2 4h0m0 0h0m0-4h0m0 4h0m5 0h0m0-1h0m1 0h0m0-10h0m1 11h0m0-1h0m0 0h0m1-4h0m0 3h0m1 0h0m1-3h0m0 5h0m0-3h0m0 3h0m0-2h0m1-3h0m0 4h0m1-1h0m0 2h0m0-1h0m1-7h0m0 6h0m0-2h0m1 3h0m1-3h0m0 2h0m0 1h0m1-2h0m0 0h0m0 1h0m0-2h0m1-5h0m0 8h0m0-5h0m0-3h0m0 8h0m0-7h0m0 4h0m0-2h0m0-1h0m1 4h0m0 3h0m0-4h0m0-2h0m0 6h0m0-3h0m1-6h0m0 6h0m0 2h0m0-7h0m0 7h0m0-1h0m0 1h0m0-4h0m0 5h0m0-6h0m1 1h0m0 4h0m0-5h0m0 2h0m1 3h0m0-7h0m0-1h0m0 5h0m1 2h0m0-4h0m0 3h0m1-2h0m0 0h0m0 2h0m0 2h0m1-1h0m0-3h0m0 4h0m0-1h0m1-4h0m0 4h0m1-2h0m0 4h0m1 0h0m0-5h0m1 1h0m0 4h0m0-2h0m0-1h0m0 0h0m0-4h0m1 6h0m0-1h0m0-5h0m0 4h0m0 1h0m1-1h0m1 1h0m0-7h0m0 9h0m1-2h0m0-3h0m0 4h0m0-2h0m0-2h0m1-1h0m0 5h0m0-6h0m0 6h0m0 0h0m0-1h0m1-6h0m0 4h0m1-3h0m0 2h0m0 0h0m0-5h0m0 4h0m0 4h0m1-8h0m0 10h0m0-6h0m0 6h0m0-2h0m0 1h0m1-2h0m0 3h0m1-8h0m0 5h0m0 0h0m0 1h0m0-9h0m0 5h0m1 6h0m0-8h0m0 3h0m0 2h0m0 2h0m1 1h0m0-8h0m0 4h0m1-5h0m0 8h0m0-1h0m0 0h0m2-2h0m0-5h0m0 9h0m1-11h0m0 1h0m0 3h0m1 5h0m0-2h0m1-4h0m0 4h0m1-1h0m0-1h0m0-2h0m1 1h0m1 3h0m0 4h0m2-7h0m0 3h0m0-3h0m0 2h0m1 1h0m1 4h0m0-6h0m1 4h0m1-8h0m5 7h0m1 2h0m2-9h0m0 0h0m4 10h0m-91 6h0m2 3h0m2 3h0m2-9h0m4 7h0m1-9h0m0 2h0m4 0h0m0 9h0m1-10h0m2 9h0m0-3h0m1 3h0m0-7h0m1 3h0m1 0h0m1-4h0m0-1h0m0 4h0m1 4h0m0 2h0m1-11h0m0 5h0m0 1h0m0 0h0m1-3h0m1 0h0m0 6h0m1-7h0m2 0h0m0 1h0m0 5h0m0 3h0m1-7h0m0 3h0m1-3h0m0-1h0m1 1h0m0-1h0m0 8h0m1-6h0m1 1h0m0-1h0m2-3h0m1-1h0m0 3h0m1-2h0m0 2h0m1-1h0m0 2h0m0-1h0m0 0h0m1-2h0m0 0h0m0 8h0m0-5h0m2 1h0m1-5h0m0 1h0m0 1h0m0 1h0m1-2h0m0 0h0m0 5h0m1-5h0m0 1h0m1-1h0m0-1h0m0 4h0m0-5h0m0 0h0m0 6h0m1-1h0m0 2h0m1-3h0m0-1h0m1-3h0m0 6h0m0-5h0m0 0h0m0 6h0m2 3h0m0-7h0m0 2h0m1-1h0m1-4h0m0 3h0m2-2h0m1-1h0m0 2h0m1 0h0m0 0h0m1 6h0m0-8h0m1 0h0m0 4h0m1-4h0m1 5h0m1-3h0m0-2h0m0 2h0m1-2h0m1 3h0m0 2h0m1-4h0m0 3h0m2-3h0m1 0h0m2 1h0m2 2h0m0 0h0m-84 15h0m8 0h0m14-2h0m2-5h0m10 8h0m2-3h0m7 2h0m0-4h0m6-1h0m7 1h0m6-2h0" stroke="#5CB848" stroke-width="2.0" stroke-linecap="round" fill="none"/><path transform="scale(.5)" d="M733 2115h0m4 5h0m2-5h0m1 8h0m0-2h0m1 2h0m3-1h0m0 1h0m1-5h0m0-1h0m0 6h0m2-2h0m2-7h0m1 8h0m0-4h0m-40 17h0m21-6h0m1-2h0m3 4h0m0 0h0m1 3h0m0-10h0m0 5h0m0 0h0m0-1h0m1 3h0m0 3h0m0-1h0m0 1h0m1-3h0m0-5h0m0 0h0m0 1h0m1-3h0m0 9h0m0 1h0m0-2h0m0-8h0m1 0h0m0 11h0m0-6h0m1 3h0m0-3h0m0 4h0m0-2h0m1 2h0m0-6h0m1 4h0m0-5h0m0 2h0m1 6h0m1-10h0m0 9h0m0-8h0m0 2h0m1-3h0m0 7h0m0-1h0m0-6h0m0 11h0m0-9h0m1 2h0m0 7h0m0-3h0m0 3h0m1-10h0m0 9h0m0-6h0m0 4h0m1 2h0m1-7h0m0 1h0m1 0h0m0-1h0m0 0h0m1 4h0m0-2h0m0 1h0m1 2h0m1 1h0m0-6h0m3 8h0m2-1h0m0 0h0m-62 5h0m0-2h0m0 0h0m0 2h0m1 0h0m0 1h0m3 1h0m0 0h0m1 3h0m0-5h0m0 3h0m0-1h0m1-2h0m0 1h0m0 1h0m1-1h0m1-2h0m0 3h0m0 2h0m0-3h0m2-2h0m1 3h0m0 2h0m5-3h0m17 1h0m1-2h0m1 5h0m1-6h0m1 4h0m1 1h0m1 3h0m0-8h0m0 0h0m0-2h0m1 3h0m0 0h0m1-1h0m0 8h0m0-5h0m0-4h0m0 3h0m0 5h0m1-8h0m0 0h0m1 0h0m0 4h0m0-3h0m0-2h0m0 9h0m1-9h0m0 2h0m0-2h0m1 6h0m0 1h0m1 3h0m0-1h0m1-5h0m0 2h0m1-2h0m0 4h0m0-3h0m0 0h0m1-4h0m0 0h0m1 5h0m0-4h0m0 7h0m0 0h0m1-8h0m0 6h0m0-6h0m0 2h0m1 0h0m0-3h0m1 8h0m0-8h0m0 4h0m0 1h0m3-5h0m0 4h0m0 1h0m0 3h0m1-6h0m-13 15h0m12-4h0" stroke="#30A070" stroke-width="2.0" stroke-linecap="round" fill="none"/><path transform="scale(.5)" d="M789 2165h0m0 6h0m1 0h0m0-3h0m0 2h0m1-4h0m1-1h0m0 1h0m0 1h0m0 1h0m0-2h0m1 0h0m0 1h0m0 1h0m1-3h0m0 2h0m3-4h0m1 6h0" stroke="#1E6420" stroke-width="2.0" stroke-linecap="round" fill="none"/><path transform="scale(.5)" d="M829 2159h0m0 5h0m1-2h0m2-2h0m0 2h0m0-2h0m1 1h0m0 1h0m0 2h0m0-1h0m0 0h0m1-1h0m2 0h0m0-1h0m0 0h0m0 2h0m2-1h0m0 2h0m21 25h0m1 3h0m1 3h0m3-4h0m0-1h0m3 4h0m1-6h0m1 7h0m0-7h0m1 0h0m0 4h0m1 1h0m0 0h0m1-1h0m1-1h0m0-1h0m0-3h0m1 8h0m0-8h0m1 6h0m1-1h0m0 0h0m0 2h0m0 1h0m1-9h0m0 8h0m0-1h0m0 2h0m1-1h0m0-9h0m0 6h0m0 3h0m1-2h0m2 3h0m4-3h0m0-2h0m0 2h0m0-5h0m1 5h0m0 3h0m0-8h0m1 5h0m3-1h0m3 3h0m0 1h0m-33 8h0m1-3h0m0-2h0m2 0h0m1-2h0m1 2h0m0 0h0m3 1h0m1 0h0m1 4h0m0-3h0m1-3h0m3 4h0m0-1h0m1-3h0m1 6h0m0 1h0m1-8h0m1 1h0m0 0h0m1 3h0m0-4h0m1 5h0m1-4h0m0 2h0m1-1h0m1-1h0m2 8h0m0-6h0m0-2h0m1 1h0m1-1h0m2 2h0m1 4h0m3-4h0" stroke="#A0522D" stroke-width="2.0" stroke-linecap="round" fill="none"/><path transform="scale(.5)" d="M861 2134h0m4-2h0m3-8h0m4 1h0m3 8h0m1 2h0m3-7h0m2 4h0m0 2h0m1 0h0m0-4h0m1 3h0m0 2h0m3-8h0m0 7h0m4-2h0m0 0h0m2 0h0m1-1h0m-57 7h0m9 3h0m4 6h0m0-3h0m1 1h0m1-9h0m1 7h0m1-3h0m1 4h0m0-5h0m0 2h0m0 6h0m0-11h0m2 9h0m1-3h0m0-3h0m0 8h0m1-3h0m0-5h0m0-1h0m1 8h0m1 0h0m1 0h0m0-4h0m0 0h0m0 3h0m0-2h0m1 0h0m0-4h0m0 7h0m1 1h0m0-2h0m0 1h0m0 1h0m0-7h0m0 3h0m1 2h0m0 0h0m0 0h0m1 1h0m1 0h0m0-1h0m0-1h0m1 0h0m0 2h0m0-4h0m0 4h0m0 1h0m0-2h0m1 1h0m0-1h0m0 1h0m0-1h0m1-9h0m0 4h0m0 1h0m0 4h0m0-6h0m0 8h0m0-1h0m0-3h0m0-1h0m0 5h0m1-4h0m0-5h0m0 2h0m0 6h0m1 1h0m0 0h0m0-1h0m1-1h0m0 1h0m0-5h0m0 4h0m1 0h0m0-2h0m0 0h0m0 0h0m1 4h0m0-9h0m0 5h0m0 1h0m1-1h0m0 0h0m0-6h0m1-1h0m0 10h0m0-4h0m0 3h0m0 0h0m0-4h0m0 2h0m1-1h0m0 3h0m0 2h0m0-4h0m0 3h0m0-8h0m1 2h0m0 3h0m0-2h0m0 0h0m1-2h0m0 6h0m0-8h0m1 1h0m0 9h0m0-2h0m0 2h0m0-5h0m0 0h0m1-4h0m0 9h0m0-10h0m0 7h0m0 3h0m0-1h0m1 0h0m0-4h0m0 0h0m0-4h0m1 8h0m0 0h0m0-2h0m0 0h0m0-3h0m1 6h0m0 0h0m0-4h0m0 4h0m0-3h0m1-1h0m0 2h0m0-4h0m0-3h0m1 1h0m0 5h0m1-1h0m0 4h0m0-6h0m0 5h0m1-3h0m0-6h0m0 4h0m0 3h0m0-2h0m1-1h0m0 3h0m0 0h0m0 2h0m0-1h0m0-1h0m1-4h0m0 4h0m0 2h0m1-5h0m0 1h0m0-2h0m0 2h0m1-1h0m0-2h0m0-1h0m1 9h0m0 0h0m0 0h0m0-9h0m1 6h0m0-6h0m0 8h0m0-5h0m0 2h0m0-3h0m0 5h0m0 0h0m0-5h0m0 7h0m1-5h0m0 0h0m1 1h0m0 0h0m0 1h0m0-3h0m0 5h0m0-4h0m1-5h0m0 3h0m0 2h0m0 2h0m1-2h0m1 3h0m0 0h0m1-1h0m0-7h0m1 5h0m1-1h0m0 2h0m1 4h0m0-9h0m0 8h0m1-2h0m1-3h0m2 6h0m0-4h0m0-6h0m1 2h0m0 5h0m2 1h0m-66 7h0m3-1h0m3-1h0m0 5h0m1-4h0m1 2h0m0 4h0m0-2h0m1 1h0m0-7h0m1 7h0m0 0h0m0 2h0m0-2h0m1 0h0m0-4h0m1 3h0m0-7h0m1 6h0m0-6h0m0 6h0m0-5h0m0 8h0m2-2h0m0-7h0m0 9h0m0-3h0m0-6h0m1 5h0m0 0h0m0 5h0m0-7h0m1-1h0m0 4h0m0 0h0m1-6h0m0 10h0m0-7h0m0 0h0m0 3h0m1 2h0m0-8h0m0 3h0m0 3h0m0-6h0m1 4h0m0 4h0m0-7h0m0 10h0m1-1h0m0 0h0m0-2h0m0-8h0m0 11h0m0-1h0m0-10h0m1 0h0m0 8h0m0-1h0m1-7h0m0 11h0m0-10h0m1 8h0m0-5h0m0-2h0m0 5h0m0 1h0m1-2h0m0 0h0m0-4h0m0 7h0m0-6h0m0-3h0m0 4h0m0-4h0m1 11h0m0 0h0m0-11h0m0 0h0m1 11h0m0-1h0m0-7h0m0 6h0m0-3h0m0 0h0m0-2h0m0-4h0m0 8h0m0-5h0m1 7h0m0-6h0m0-1h0m0 2h0m0 2h0m1 3h0m0-4h0m0-5h0m0 10h0m0-7h0m0-4h0m0 11h0m0-7h0m1 1h0m0 3h0m0-6h0m0 0h0m1-2h0m0 3h0m0-3h0m0 7h0m1 4h0m0-7h0m0 4h0m0-7h0m0 8h0m0-6h0m0 5h0m0-4h0m0 0h0m1-2h0m0 6h0m0-5h0m0 2h0m0-3h0m0 3h0m0-4h0m0 3h0m1 3h0m0-3h0m0 5h0m0-1h0m0-6h0m0-1h0m0 6h0m0-6h0m0 6h0m1-7h0m0 0h0m0 9h0m0-5h0m0-4h0m0 2h0m1 7h0m0-6h0m0 3h0m0-1h0m0-5h0m0 1h0m1-1h0m0 9h0m0-5h0m0-1h0m0 0h0m0 5h0m1-4h0m0 2h0m0-1h0m0 2h0m0-1h0m0 3h0m0-8h0m0 2h0m0 4h0m1-5h0m0 8h0m0 1h0m0-4h0m0-5h0m0 2h0m0-1h0m0 1h0m0 7h0m0-11h0m1 3h0m0 8h0m0-1h0m0-7h0m0-2h0m0 7h0m0-2h0m1-4h0m0 0h0m0 9h0m0-6h0m0 1h0m0 2h0m1-6h0m0 1h0m1 0h0m0 4h0m0 0h0m0 3h0m0-8h0m0 2h0m0 7h0m1-8h0m0 1h0m0-2h0m0 0h0m1 5h0m0 1h0m0-3h0m0 2h0m1-2h0m0 6h0m0-10h0m0 4h0m0 3h0m0-2h0m0 5h0m0-8h0m1-3h0m0 4h0m0 6h0m0 0h0m0 0h0m0-8h0m1 1h0m0 5h0m0-5h0m0 2h0m0-4h0m0 0h0m1 7h0m1-1h0m0-3h0m0 1h0m0 6h0m0-10h0m1 0h0m1 1h0m0 5h0m0-1h0m0 0h0m1 3h0m0-8h0m1 2h0m1 4h0m0-6h0m0 0h0m0 9h0m2-8h0m0-1h0m1 3h0m2-2h0m2 6h0m1-7h0m0 0h0m6 0h0m4-1h0m-63 14h0m1 0h0m2 1h0m1 2h0m1-2h0m2 0h0m0 7h0m1-8h0m2-2h0m0 0h0m1 7h0m1-2h0m1-2h0m1 1h0m1-3h0m0-1h0m1 1h0m0-1h0m1 1h0m0 0h0m1 4h0m1 6h0m0-2h0m0-1h0m0 0h0m0 1h0m1-8h0m0 5h0m1-3h0m0 4h0m0-1h0m1-2h0m0 3h0m0-6h0m1 5h0m0-2h0m0-4h0m0 2h0m1 0h0m1 0h0m1 9h0m0-1h0m0 0h0m0-7h0m0 8h0m1-6h0m1-5h0m0 4h0m0 7h0m1-4h0m1 1h0m1-8h0m0 0h0m0 3h0m0 4h0m0-1h0m1 3h0m0-8h0m0 8h0m1 0h0m1-4h0m0 2h0m0-6h0m1 6h0m2-4h0m4 8h0m1-11h0m1 8h0m1-7h0m1 10h0m0-7h0m2 2h0m11 2h0m-43 7h0m2 3h0m5-3h0m0 2h0m1-2h0m0 5h0m1-5h0m0 0h0m0 2h0m1-2h0m1 7h0m0-7h0m1-1h0m0-2h0m1 10h0m0 1h0m0-5h0m0 0h0m0 0h0m0 0h0m1-2h0m0-1h0m1 1h0m0-2h0m0 0h0m0 0h0m0-2h0m1 0h0m0 4h0m0 0h0m1-2h0m1 2h0m0 2h0m0-5h0m1 0h0m0 7h0m0 1h0m0-1h0m0-7h0m1 9h0m1-5h0m0 2h0m0-3h0m1-2h0m1 3h0m1 4h0m-21 6h0m4-3h0m0 0h0m2 0h0m4 2h0m1-1h0m0-1h0m2 0h0m0 4h0m0-3h0m1 7h0m1-5h0m2-3h0" stroke="#E066C0" stroke-width="2.0" stroke-linecap="round" fill="none"/><path transform="scale(.5)" d="M865 2228h0m7 2h0m1 0h0m-27 4h0m2 8h0m1-3h0m0 1h0m3-1h0m0-1h0m0-4h0m1 2h0m1 1h0m1 0h0m1 4h0m1-6h0m0 4h0m0-2h0m0 5h0m0-1h0m0-5h0m0 7h0m1-11h0m0 10h0m0 0h0m0-9h0m0 8h0m0-1h0m0 3h0m1-3h0m0 1h0m0-2h0m0-2h0m0 1h0m1 2h0m0-1h0m0-1h0m0 3h0m0-6h0m0 1h0m0 6h0m0 0h0m0-5h0m1 1h0m0 4h0m0-3h0m0-5h0m0 8h0m1 0h0m0-2h0m0 2h0m0-1h0m0-4h0m0 5h0m0-6h0m1 2h0m0 2h0m0 1h0m0-8h0m0 0h0m0 6h0m0-2h0m0 6h0m0-4h0m1 1h0m0-1h0m0-5h0m0-2h0m0 8h0m0-1h0m0-3h0m0 3h0m1-2h0m0 5h0m0-1h0m0 0h0m0-4h0m0 2h0m0 4h0m0-8h0m1 7h0m0-7h0m0 8h0m0-6h0m0 5h0m0-4h0m0 4h0m0-4h0m0 2h0m0 1h0m1-6h0m0 3h0m0 5h0m0-8h0m0 0h0m0 3h0m0 1h0m0 4h0m0-1h0m0 0h0m0-1h0m1-4h0m0 1h0m0-1h0m0 5h0m0-1h0m1-2h0m0 3h0m0-2h0m0-1h0m0-2h0m0 6h0m0 0h0m0-6h0m0 6h0m0-3h0m0-4h0m1 1h0m0 6h0m0-5h0m0-5h0m1 8h0m0-4h0m0 0h0m0 2h0m1 4h0m0-4h0m0 1h0m0-6h0m1 7h0m1-1h0m0 2h0m0-6h0m0 3h0m0-3h0m2 2h0m1 4h0m1-5h0m0-3h0m0 1h0m0-2h0m1 9h0m0-3h0m0 3h0m3 0h0m0-8h0m2 8h0m0 1h0m0-2h0m1-7h0m0 5h0m1 3h0m1-2h0m0-3h0m1 3h0m0-6h0m0-1h0m0 9h0m1 1h0m0-9h0m2 2h0m1 6h0m2 1h0m2-6h0m1 3h0m1-2h0m0 5h0m1-1h0m0-2h0m0 3h0m1-3h0m4-2h0m1-1h0m1 6h0m1 0h0m3-11h0m4 2h0m10 6h0m1 3h0m8-2h0m4-1h0m-88 15h0m1-10h0m1 6h0m0-6h0m0 1h0m0 0h0m1 0h0m0-1h0m1-1h0m1 1h0m0 0h0m0-1h0m1 4h0m0 1h0m1 3h0m0-7h0m1 0h0m0 6h0m0 1h0m1-6h0m0-1h0m0 5h0m0-3h0m0-2h0m0-1h0m0 5h0m0-4h0m1-1h0m0 2h0m1 5h0m0-6h0m1 0h0m0-1h0m0 2h0m0 1h0m1 0h0m0 0h0m0-1h0m1 4h0m0 0h0m0-6h0m0 4h0m0-3h0m0 4h0m0-4h0m0 0h0m1 4h0m0 2h0m0-2h0m0-4h0m0 1h0m1 0h0m0 9h0m0-4h0m1-7h0m0 2h0m0-1h0m0 2h0m1 3h0m0 2h0m0-8h0m0 0h0m0 6h0m0-6h0m1 8h0m0-6h0m0 8h0m1 1h0m0-5h0m0-6h0m0 2h0m0-2h0m0 1h0m0-1h0m0 3h0m1 4h0m0-2h0m0-5h0m1 5h0m0-1h0m0-1h0m0 0h0m1 2h0m0 5h0m0-10h0m0 5h0m0-3h0m1 9h0m0-7h0m0-3h0m0 6h0m1 1h0m0-2h0m0-5h0m0 3h0m1-4h0m0 10h0m0-5h0m1 0h0m0 1h0m0 0h0m0 2h0m0 0h0m0 3h0m1 0h0m0-6h0m0 5h0m0-6h0m0 1h0m1 6h0m0-1h0m0 0h0m1-10h0m0 9h0m0 1h0m0-10h0m0 4h0m0-1h0m1 7h0m1-5h0m0 3h0m0-2h0m1-3h0m0-1h0m0 2h0m0 4h0m0-1h0m0 3h0m0-3h0m0 0h0m0 3h0m0-4h0m0 1h0m0 2h0m1-1h0m0-2h0m0-1h0m0 1h0m0-3h0m0 1h0m1 2h0m0 1h0m0-2h0m0 1h0m0-2h0m0-1h0m0-1h0m1 7h0m0-8h0m1 5h0m0-2h0m0 4h0m0-7h0m0 10h0m0 0h0m1-8h0m0-1h0m0 8h0m0-7h0m0 7h0m0-4h0m0 0h0m0 5h0m0-11h0m0 11h0m0-7h0m0 5h0m0-8h0m0 6h0m0-3h0m1-2h0m0 3h0m0 0h0m1 3h0m0 2h0m0-7h0m0 4h0m0 4h0m1-1h0m0-1h0m0-5h0m0 4h0m0-6h0m0 4h0m0-3h0m0 0h0m1 5h0m0 1h0m1 2h0m0-2h0m0-7h0m1 8h0m0-2h0m0 3h0m0-7h0m0 1h0m0 3h0m0 3h0m0 0h0m0-5h0m1-4h0m0 1h0m0 2h0m0 1h0m0 1h0m0 0h0m0 3h0m1-4h0m0 0h0m0 4h0m0-3h0m0 1h0m0-6h0m0 9h0m0-2h0m0-2h0m0 1h0m1 3h0m0-5h0m0-3h0m0 5h0m0-2h0m0 4h0m0-10h0m1 3h0m0 3h0m0-1h0m0-1h0m0 7h0m0-6h0m1 0h0m0 4h0m0-2h0m1-6h0m0 3h0m1 2h0m0-6h0m1 7h0m0 0h0m0-2h0m0 3h0m0-5h0m1 8h0m0-11h0m0 10h0m0-3h0m0 0h0m0-7h0m0 5h0m1 3h0m0-7h0m0 6h0m0 1h0m1 2h0m0-2h0m0-4h0m0 1h0m0 2h0m0-1h0m1 2h0m0 1h0m1-5h0m0 1h0m0 0h0m0-2h0m0 4h0m0 1h0m1-1h0m1 0h0m0 4h0m0-6h0m1 3h0m0 2h0m1-3h0m0-4h0m0 8h0m0-3h0m1-4h0m0 2h0m0 1h0m1-1h0m0 0h0m0-6h0m0 3h0m3 0h0m4 6h0m0-7h0m0 5h0m2-4h0m1 2h0m0-4h0m1 6h0m1 0h0m16-4h0m-86 13h0m3 3h0m2-2h0m0-5h0m5 9h0m2-5h0m0-1h0m1 2h0m1 0h0m0 0h0m1 6h0m1-10h0m0-1h0m1 9h0m0-4h0m2-4h0m0 6h0m1-3h0m0-3h0m2 7h0m1-4h0m0 2h0m0 2h0m1-6h0m0 2h0m1-3h0m0 5h0m0 1h0m0 3h0m1-8h0m1 1h0m0 3h0m1 4h0m0-9h0m0-1h0m1 0h0m0 7h0m0 4h0m1-4h0m1-6h0m0-1h0m0 0h0m1 11h0m0-1h0m0-7h0m1-2h0m0 0h0m0 6h0m1-7h0m1 2h0m0-1h0m0-1h0m0 0h0m1 6h0m0-1h0m0-3h0m0-2h0m2 5h0m0-1h0m0 1h0m0 2h0m1-6h0m0 3h0m1-3h0m1 3h0m0 3h0m0-4h0m1-1h0m0 3h0m0 1h0m1 5h0m0-5h0m1-5h0m0 10h0m0-11h0m0 6h0m1-5h0m0 3h0m1 2h0m0 0h0m0 3h0m1-1h0m0-6h0m2 3h0m0-1h0m0 1h0m1-1h0m1 2h0m0-3h0m1-3h0m0 6h0m0-5h0m1 1h0m1 3h0m0 1h0m1-6h0m0 5h0m1 0h0m1 2h0m1-2h0m0-1h0m0 6h0m1-9h0m1 7h0m0-8h0m0 0h0m0 9h0m1-5h0m1 6h0m1-8h0m2 3h0m2 4h0m2-6h0m1-2h0m2 1h0m0-1h0m7-1h0m-62 13h0m9 1h0m8-2h0m8 2h0m10 2h0" stroke="#3A78B8" stroke-width="2.0" stroke-linecap="round" fill="none"/><path transform="scale(.5)" d="M674 2177h0m8 3h0m0 2h0m1-2h0m1 2h0m2 0h0m0-2h0m1 3h0m1 0h0m1 0h0m2 0h0m1-1h0m0-5h0m0 3h0m1 3h0m0 0h0m1-10h0m0 7h0m1 3h0m1 0h0m0-4h0m1 4h0m1-3h0m1-1h0m1 2h0m2 1h0m0 1h0m0-2h0m5 1h0m1-1h0m4-2h0m1 2h0m-37 8h0m5 4h0m2 1h0m0-6h0m0 1h0m1-4h0m0 2h0m1 8h0m0-7h0m0-1h0m0 5h0m1-1h0m0-3h0m1 1h0m0 1h0m0-1h0m0-3h0m0 6h0m1-2h0m0-2h0m0 2h0m1 0h0m0 0h0m0 1h0m1-1h0m0-1h0m0 3h0m0-8h0m0 9h0m1-7h0m0-1h0m0 5h0m0-1h0m0-5h0m0 5h0m0 5h0m0-4h0m1-4h0m0 6h0m0-1h0m0 0h0m0-1h0m0 0h0m0 1h0m0-7h0m1 5h0m0 0h0m0 0h0m0 5h0m0-5h0m0 0h0m0-3h0m0-2h0m1 4h0m0 0h0m0-2h0m0 9h0m0-5h0m0 2h0m0-1h0m0-5h0m0 7h0m1-8h0m0 8h0m0-4h0m0-2h0m0 3h0m0 3h0m0-5h0m0 2h0m0 2h0m0-7h0m1 3h0m0-4h0m0 7h0m0 1h0m0-6h0m0 6h0m0-6h0m0 2h0m0 3h0m1-1h0m0 1h0m0-3h0m0-1h0m0 3h0m0 0h0m0-1h0m0-2h0m1-2h0m0 1h0m0 7h0m0-5h0m0 1h0m0 0h0m0-2h0m0-3h0m0 8h0m0-3h0m0 2h0m1-2h0m0 1h0m0-3h0m0 4h0m0 0h0m0-5h0m0 0h0m1 7h0m0-1h0m0-2h0m0-6h0m1 8h0m0-6h0m0-1h0m0 1h0m1 4h0m0-6h0m0 3h0m1 2h0m1-4h0m0 0h0m1 2h0m1 1h0m1 0h0m3 0h0m0-2h0m1 4h0m-26 6h0m1 2h0m9 0h0" stroke="#7090C0" stroke-width="2.0" stroke-linecap="round" fill="none"/><path transform="scale(.5)" d="M728 2181h0m2-1h0m2-2h0m1 3h0m4-4h0m6 6h0m1-2h0m9 2h0m5-1h0m-45 7h0m1-5h0m2 3h0m4-1h0m0 8h0m1-2h0m2 2h0m1-2h0m0-2h0m1-5h0m2 5h0m0-2h0m1 1h0m0 1h0m1 1h0m0 0h0m0-1h0m0-4h0m0-1h0m1-1h0m0 4h0m0 5h0m1 0h0m0 0h0m1 0h0m0-4h0m0 6h0m1-6h0m1-5h0m0 7h0m0-7h0m0 3h0m0 6h0m2-3h0m0 0h0m0-1h0m0 1h0m1 4h0m1-9h0m0 2h0m1 8h0m0-7h0m0 3h0m0-4h0m0 7h0m1-8h0m0 2h0m0-3h0m0 5h0m0-4h0m1 3h0m0-2h0m1 2h0m1-4h0m0 9h0m0-3h0m0-3h0m1-1h0m0 5h0m0-3h0m1 2h0m1-6h0m0 5h0m1-2h0m1-3h0m1 7h0m0-5h0m1 5h0m0 1h0m1-3h0m0 3h0m0-3h0m1 2h0m0-5h0m0 3h0m1-5h0m1 1h0m1 4h0m0-1h0m3 6h0m4-8h0m1 0h0m-44 13h0m4 5h0m3-7h0m0 0h0m1 2h0m1-2h0m1 2h0m5-3h0m0 0h0m2 6h0m0-7h0m2 4h0m2-2h0m1-1h0m0 1h0m6 1h0m1-3h0m0 4h0m7-4h0m29 23h0m7-1h0m2-7h0m2 7h0m1-3h0m3 4h0m-16 2h0m3 4h0m0-3h0m1 5h0m1-6h0m3 3h0m4 4h0m5-5h0m0 8h0" stroke="#E06040" stroke-width="2.0" stroke-linecap="round" fill="none"/><path transform="scale(.5)" d="M788 2194h0m2-2h0m4 0h0m4-1h0m0 2h0m1-6h0m-29 20h0m1 0h0m2-1h0m0-3h0m1 2h0m0 1h0m1 0h0m1-4h0m1-3h0m0 3h0m1 1h0m0 4h0m1-10h0m0 10h0m1-1h0m0 0h0m0-1h0m0 0h0m1-4h0m0 1h0m1 5h0m0-9h0m0 3h0m1 4h0m1 0h0m1 0h0m0-3h0m1-5h0m0 4h0m1-4h0m3 1h0m0-2h0m2 2h0m4-1h0m0-1h0m-38 17h0m3 4h0m3-2h0m0 4h0m3-2h0m0-4h0m0 1h0m1-1h0m0 2h0m0-4h0m1 5h0m1-5h0m0 3h0m0-1h0m0 4h0m1-6h0m1 1h0m2-4h0m1 4h0m1-4h0m0 0h0m1 0h0m0 0h0m0 5h0m1 0h0m1-3h0m-24 10h0m2 6h0m5-6h0" stroke="#E87890" stroke-width="2.0" stroke-linecap="round" fill="none"/><path transform="scale(.5)" d="M740 2204h0m30 1h0m14-1h0m-107 13h0m3 2h0m5-3h0m8 1h0m4-6h0m1 1h0m2-1h0m7 7h0m3-10h0m0 8h0m8-1h0m7 1h0m1-6h0m3 8h0m3-6h0m1 1h0m0-1h0m4-2h0m1 0h0m1 9h0m1-8h0m0 8h0m4-6h0m3 1h0m12 3h0m-94 4h0m5-1h0m10 7h0m0-3h0m1 3h0m3-3h0m1 6h0m3-6h0m0 2h0m5-4h0m1-1h0m1 6h0m1 4h0m2-8h0m0 1h0m0 2h0m3 5h0m0-9h0m1 7h0m0 2h0m1-4h0m1-1h0m0-1h0m0 4h0m0-6h0m3 6h0m0-9h0m0 1h0m1 5h0m1 3h0m1-3h0m0 1h0m1-3h0m0-2h0m1 8h0m0-2h0m0-3h0m3 6h0m0-7h0m1 2h0m0 1h0m1 0h0m0 2h0m0-4h0m0 4h0m0 2h0m1-4h0m0-2h0m1 5h0m0-5h0m0 4h0m0 0h0m1 1h0m1-1h0m1-3h0m0 1h0m0 1h0m0-2h0m0 2h0m1 2h0m0-4h0m0 1h0m1-4h0m0 6h0m1-3h0m1-3h0m0 8h0m1-10h0m0-1h0m1 10h0m0-3h0m1-6h0m0 10h0m1 0h0m0 0h0m0 0h0m0-6h0m1 5h0m0 1h0m0-11h0m1 8h0m0-2h0m0-4h0m0 8h0m1-3h0m0 0h0m0-2h0m0 6h0m1-3h0m0 2h0m1 0h0m0 1h0m0-2h0m1-6h0m0 2h0m0-1h0m0 5h0m1-6h0m0 3h0m0-4h0m1 1h0m0 2h0m0 4h0m1 2h0m0-6h0m0 0h0m1-1h0m0 1h0m0 4h0m0-4h0m0 5h0m1-2h0m2-2h0m0-5h0m0 9h0m0-3h0m1 0h0m0-2h0m1-2h0m0 7h0m1-8h0m0 2h0m0 1h0m0 6h0m0-1h0m1 0h0m0-8h0m1 6h0m0-5h0m1 5h0m2-8h0m0 6h0m1 0h0m0 3h0m0-6h0m2 5h0m0 3h0m0-10h0m0 5h0m1 3h0m1 0h0m0 2h0m1-6h0m1 3h0m1 1h0m1-2h0m0 3h0m0-7h0m1 8h0m0-3h0m2 0h0m1-6h0m2 4h0m1-4h0m2 9h0m1-2h0m1 2h0m1-8h0m0 8h0m5-5h0m13-1h0m3 2h0m-132 5h0m12 2h0m1 1h0m1-3h0m10 0h0m1 11h0m3-1h0m0-7h0m1-1h0m3-2h0m0 10h0m0-4h0m0 4h0m1-6h0m2-2h0m2 4h0m2 1h0m0-5h0m0-1h0m1 1h0m1 1h0m0 7h0m0-2h0m1-1h0m1-3h0m0-4h0m1 6h0m0 1h0m1-2h0m0-4h0m1 0h0m0 2h0m0 0h0m0-3h0m1 5h0m0 4h0m1 0h0m0 0h0m0-3h0m0-6h0m0 7h0m1 1h0m0-3h0m0 4h0m1-2h0m1 2h0m1 0h0m0-5h0m2-2h0m0 4h0m1 2h0m0-2h0m0-3h0m0 7h0m0-10h0m1 1h0m0 3h0m0 2h0m0 3h0m1 2h0m0-9h0m0-1h0m1 1h0m0 6h0m0 1h0m0-6h0m0 6h0m0-7h0m1 6h0m0-2h0m0 1h0m0 4h0m0-7h0m0-3h0m0 2h0m0-3h0m0 1h0m1 9h0m0-5h0m1-1h0m0 5h0m0-4h0m0-3h0m0 7h0m1-7h0m1 5h0m0-4h0m0 5h0m0-2h0m0-3h0m1 8h0m0-7h0m1 4h0m1-1h0m0-5h0m0 0h0m0 4h0m0 1h0m0 0h0m0-3h0m0-3h0m0 3h0m1 3h0m0-1h0m1-4h0m0 6h0m0-3h0m0-3h0m0 2h0m0 5h0m1 0h0m0-5h0m0 1h0m1 3h0m0 2h0m0-2h0m1-2h0m0-1h0m0-2h0m0-2h0m0 10h0m0-7h0m1-1h0m0 7h0m0-5h0m0-1h0m1-2h0m0 8h0m0-7h0m0 0h0m1 7h0m0-6h0m0 0h0m0 5h0m1-3h0m0-5h0m0 10h0m0-8h0m0 6h0m0 0h0m0-3h0m1 4h0m0 0h0m0-4h0m0-3h0m0-1h0m1 8h0m1 1h0m0-6h0m0 3h0m0 2h0m0 0h0m0-5h0m0 2h0m0-1h0m1 0h0m0-2h0m1 1h0m0 1h0m1-4h0m0 8h0m0-3h0m0-1h0m0-3h0m0 5h0m0-6h0m0 9h0m2 0h0m0-3h0m0-6h0m0 5h0m1-1h0m0-1h0m0 0h0m0-4h0m1 7h0m0-8h0m0 10h0m1-5h0m0-3h0m0 7h0m0 1h0m0-8h0m0 9h0m1-9h0m0-2h0m0 4h0m1 5h0m0-7h0m0 1h0m1 2h0m0 4h0m0-8h0m0 3h0m1 0h0m0-1h0m1-2h0m0 9h0m0 0h0m1-1h0m0-5h0m0 2h0m0-4h0m1 8h0m0-5h0m1-2h0m0 1h0m0 6h0m0 0h0m1-10h0m0 5h0m0-3h0m1 5h0m0-5h0m0 6h0m1 0h0m0-4h0m1-3h0m0 0h0m0-1h0m0 6h0m0-1h0m1-1h0m0 6h0m0-2h0m0 1h0m1-5h0m0 2h0m0-4h0m0 1h0m1 4h0m1 0h0m0 3h0m0-10h0m0 10h0m1-7h0m0 2h0m1 1h0m0-6h0m1 7h0m1 0h0m0 3h0m0-5h0m0 4h0m1 1h0m1-10h0m0 6h0m0 0h0m2 3h0m0-8h0m1 5h0m1-5h0m1 8h0m1-3h0m1 2h0m1-1h0m1-5h0m1-1h0m1 0h0m1 10h0m1-11h0m1 10h0m1-5h0m11-2h0m0 8h0m2-10h0m-128 12h0m11 2h0m2 0h0m0 1h0m4 4h0m2 2h0m0-2h0m2-5h0m1-3h0m0 10h0m2-5h0m1 5h0m1-10h0m1 7h0m1-1h0m0-1h0m1-2h0m0 0h0m1 3h0m1-3h0m0 8h0m1-6h0m0-2h0m2-1h0m0 3h0m0-2h0m0 4h0m1-2h0m0 4h0m0-5h0m0-1h0m3 1h0m0 6h0m0-8h0m0 4h0m1 1h0m1-1h0m0-1h0m0 5h0m2 1h0m1-7h0m1-1h0m0 4h0m1 0h0m1 0h0m0-3h0m1 7h0m0-4h0m0-1h0m1-4h0m0 8h0m0 1h0m1-3h0m0-3h0m0-5h0m1 1h0m0 8h0m0-5h0m1 7h0m0-5h0m1-4h0m0 5h0m0 4h0m1-8h0m0 2h0m1 4h0m0-7h0m0 1h0m0-1h0m0-2h0m1 6h0m0 3h0m1-7h0m0 1h0m0-2h0m1 5h0m0 2h0m0-3h0m1-4h0m0 8h0m0-7h0m0-1h0m1 5h0m1-1h0m1 6h0m0-5h0m0 2h0m1 2h0m0-8h0m0-2h0m1 6h0m1 1h0m0-4h0m0 2h0m0-2h0m1 2h0m0 0h0m1-1h0m0 3h0m0-4h0m1 4h0m0-4h0m0 7h0m1-8h0m1 2h0m1-1h0m0-2h0m1 5h0m0 0h0m0-1h0m1 6h0m1-4h0m0-7h0m0 6h0m0 0h0m0-3h0m0-3h0m1 8h0m1 3h0m0-7h0m0-4h0m1 1h0m0 2h0m0 3h0m0 0h0m0-5h0m1 4h0m1-4h0m0 7h0m0-8h0m1 11h0m0-2h0m1-9h0m0 6h0m1-1h0m0-3h0m0 1h0m1 8h0m0-4h0m0-3h0m1 3h0m0-2h0m1 0h0m0 1h0m1 1h0m0 1h0m0-8h0m0 2h0m0-2h0m1 3h0m0 6h0m1-2h0m0-4h0m0 6h0m0-3h0m1-1h0m0-1h0m0-3h0m2 2h0m1-1h0m0 4h0m2-5h0m1 6h0m1-4h0m0-1h0m1 2h0m1 2h0m0-3h0m0-3h0m2 7h0m0-7h0m0 4h0m2 4h0m1-8h0m0 6h0m1-6h0m1 7h0m0-4h0m2 3h0m0 5h0m4 0h0m1-1h0m1-3h0m0-5h0m3 4h0m1-2h0m7 0h0m-119 9h0m4-1h0m3 0h0m5 3h0m2-2h0m1 1h0m3 9h0m5-10h0m1 8h0m1-1h0m2 0h0m1 1h0m2-3h0m1 1h0m1-5h0m0 3h0m1-1h0m0-1h0m3 5h0m4-2h0m1 2h0m0-4h0m1-2h0m0-2h0m1 10h0m1-1h0m0-6h0m0 0h0m4 2h0m3-2h0m1-3h0m0 8h0m1-6h0m1 2h0m1-2h0m1 4h0m1 3h0m1-2h0m0 3h0m2-8h0m0 1h0m0-1h0m1-2h0m1 3h0m1 5h0m1-2h0m0 0h0m0 2h0m1-2h0m0-5h0m0-1h0m2 5h0m4 5h0m2-4h0m1-2h0m1-2h0m0 0h0m0 3h0m0 3h0m1 3h0m0-9h0m1 2h0m0 1h0m1 2h0m0 3h0m1 1h0m0-10h0m1 3h0m1-1h0m1 5h0m2-6h0m0 0h0m1 2h0m2 0h0m1 3h0m6-6h0m3 9h0m0-6h0m5-1h0m2 1h0m9 6h0m2-9h0m16-1h0m-117 12h0m5 1h0m2 6h0m11-2h0m1-3h0m7 3h0m1-2h0m6-2h0m2 1h0m4-1h0m0 0h0m5 9h0m3-6h0m2 4h0m0-6h0m1 9h0m17 0h0m3-4h0m0-2h0m2 6h0m2-10h0m7 3h0m11 2h0m2-5h0m0 5h0m-45 7h0" stroke="#DCA45A" stroke-width="2.0" stroke-linecap="round" fill="none"/><path transform="scale(.5)" d="M734 2219h0m1 12h0m9-11h0m1 8h0m1-1h0m4-1h0m2-1h0m0 3h0m0-5h0m5 3h0m5 4h0m3-9h0m3 10h0m1 0h0m7-1h0m4-1h0m8 2h0m-78 8h0m4 0h0m3-7h0m0 11h0m1-11h0m5 4h0m1 7h0m0-2h0m0-9h0m0 9h0m0 1h0m1-2h0m2 3h0m2 0h0m0-2h0m3-7h0m0 5h0m0 3h0m0 0h0m0-1h0m0 2h0m2 0h0m1-3h0m3 2h0m2-1h0m0-4h0m0 0h0m1 4h0m1-9h0m0 2h0m1 8h0m0-2h0m1-7h0m1 5h0m0 1h0m0-6h0m1 3h0m0 6h0m0 1h0m0-1h0m1 0h0m0 0h0m0-2h0m0 0h0m0-6h0m1 1h0m0 6h0m1-2h0m0 1h0m0-2h0m0-2h0m0 6h0m0 1h0m1-3h0m1 0h0m0 2h0m2 0h0m0-8h0m0 3h0m0 2h0m0 1h0m0-6h0m0 9h0m0-4h0m1 2h0m0-3h0m0 3h0m1-9h0m0 0h0m0 0h0m0 8h0m1 1h0m0-3h0m0 4h0m0-8h0m1 9h0m0-2h0m0-8h0m2 7h0m0 0h0m0 0h0m1 1h0m1-1h0m1-7h0m0 10h0m0-10h0m0 3h0m0 0h0m1 4h0m0 2h0m1-10h0m0 3h0m0 1h0m1 0h0m0 2h0m1 5h0m1-4h0m0-1h0m0-4h0m0 1h0m1 5h0m0-3h0m1 2h0m0 1h0m0-7h0m0 7h0m2 3h0m1-4h0m0 2h0m1-1h0m1 3h0m0-3h0m0 1h0m0-9h0m1 11h0m0-5h0m0-1h0m0 2h0m1-3h0m1 6h0m0-9h0m1 5h0m1 5h0m3-1h0m0-3h0m1 2h0m0 2h0m1-4h0m2 2h0m0 2h0m1-3h0m2 0h0m1 0h0m5 0h0m-92 5h0m2-1h0m1 9h0m6-3h0m5 3h0m2 1h0m1-3h0m1-7h0m3 5h0m0 2h0m2 2h0m1 2h0m1-1h0m0-6h0m0-1h0m1 3h0m0-1h0m0-3h0m0 3h0m1 0h0m0 0h0m0-2h0m1 0h0m0-2h0m0 10h0m1 0h0m0-5h0m1-4h0m0 3h0m1-5h0m0 5h0m1 1h0m0 2h0m1-2h0m0 0h0m0 1h0m1-1h0m0-4h0m0 6h0m0 2h0m1-7h0m1 7h0m0-1h0m0-8h0m1 9h0m0-5h0m0-3h0m0 1h0m0 8h0m0-6h0m1-1h0m0-3h0m0 0h0m0 9h0m1-3h0m0-7h0m0 4h0m0 2h0m0-4h0m1 6h0m0-6h0m0-2h0m0 11h0m0-6h0m1-1h0m0 0h0m0 0h0m1-3h0m0 2h0m0 3h0m1 0h0m0-5h0m0 4h0m0-1h0m0 5h0m0-5h0m0 1h0m1-2h0m0 5h0m0-2h0m0 3h0m0-3h0m0-1h0m0-3h0m0 0h0m0 2h0m0 4h0m1-6h0m0 2h0m0 2h0m0-2h0m1 0h0m0 3h0m0-4h0m0 2h0m0 3h0m0-5h0m0-3h0m0 5h0m1-4h0m0 3h0m0-3h0m0 1h0m1 3h0m1-2h0m0 5h0m0-5h0m0 2h0m0-5h0m0 5h0m0 3h0m0-8h0m0 2h0m0-2h0m1 7h0m0-5h0m0-1h0m0 6h0m0-7h0m0 3h0m1 1h0m0 2h0m0 0h0m0-5h0m0 5h0m1 2h0m0 0h0m0 0h0m0 3h0m0-3h0m0-2h0m0-1h0m0 3h0m0 3h0m0-7h0m1-4h0m0 4h0m0 5h0m0-5h0m0 1h0m0 0h0m0 6h0m0 0h0m0-2h0m1-3h0m0-5h0m0 1h0m0 5h0m0-6h0m0 8h0m0-3h0m1-2h0m0-1h0m0-3h0m0 10h0m0-9h0m0 5h0m0-5h0m1 10h0m0-10h0m0 10h0m0-2h0m1 2h0m0 0h0m1-4h0m0-7h0m1 2h0m0 4h0m0 2h0m0-4h0m0 5h0m0-4h0m0 0h0m1 5h0m0-9h0m0 5h0m0-1h0m0 4h0m0-3h0m0-5h0m1 4h0m0 4h0m0-7h0m0-1h0m0 5h0m1-6h0m0 11h0m0-2h0m0-5h0m0-3h0m0 1h0m1 3h0m0 0h0m0-5h0m0 0h0m1 3h0m0 3h0m0-6h0m0 3h0m0 1h0m1 4h0m0 3h0m0-7h0m0 1h0m0 6h0m0-7h0m0 2h0m0-4h0m0 5h0m1-3h0m0 3h0m1-2h0m0-5h0m0 9h0m1-1h0m0-2h0m0 1h0m1 2h0m0-6h0m0 3h0m1 2h0m0-3h0m2-2h0m0 2h0m1-4h0m0 3h0m0 7h0m0-3h0m0-2h0m1-2h0m0 5h0m0-1h0m0-7h0m0 8h0m1-7h0m0 2h0m1 5h0m1-4h0m1-5h0m0 2h0m1 4h0m1 3h0m1-2h0m0-1h0m3 5h0m0 0h0m3-9h0m2 0h0m-87 18h0m11-6h0m3 2h0m0-1h0m0 2h0m1 1h0m1-5h0m2 2h0m1-2h0m0 8h0m0-8h0m1 0h0m1 5h0m1-4h0m2 3h0m2-5h0m2 0h0m0 0h0m2 2h0m0-1h0m0 7h0m2-7h0m0 3h0m1 1h0m1 2h0m0-7h0m0 4h0m1-4h0m1 1h0m0 4h0m0-1h0m0 2h0m1 3h0m0-8h0m0 3h0m1 4h0m0-6h0m0 2h0m2 4h0m1 2h0m0-8h0m0 1h0m0 3h0m3-5h0m0 4h0m1-3h0m1-1h0m0 6h0m0-6h0m0 0h0m0 0h0m1 6h0m1-5h0m0 0h0m2 5h0m0-4h0m0-3h0m1 0h0m0 6h0m1-3h0m0 4h0m0-3h0m1 3h0m0-5h0m1 1h0m1 0h0m0 8h0m0-6h0m0-4h0m1 3h0m0-4h0m0 7h0m0-4h0m0 1h0m0-4h0m0 5h0m2-3h0m1 6h0m1-2h0m0-4h0m1 0h0m1-2h0m1 4h0m2 6h0m1-3h0m0 3h0m1-1h0m1-7h0m0 2h0m1 5h0m1 1h0m1-10h0m2 2h0m0 1h0m7 1h0m7-2h0m6 0h0m0 9h0m10-10h0m-67 12h0m9 1h0m4 0h0m3 5h0" stroke="#C8642E" stroke-width="2.0" stroke-linecap="round" fill="none"/><path transform="scale(.5)" d="M683 2219h0m19 0h0m18-7h0m6 7h0m15-8h0m11 2h0m-66 16h0m4 0h0m1-2h0m7 0h0m2 3h0m1-8h0m1 7h0m1 2h0m0-6h0m0 6h0m1-2h0m0-1h0m1 2h0m0-5h0m3 6h0m0-4h0m1-1h0m3-3h0m1 1h0m0 3h0m0 0h0m1 3h0m0-9h0m0 10h0m0-1h0m0 1h0m1 0h0m0-4h0m1 2h0m1 2h0m0-8h0m0 6h0m1-2h0m2-5h0m0 8h0m1 0h0m0-3h0m1 4h0m0-5h0m2 5h0m0-1h0m2-1h0m0 2h0m1-9h0m1 9h0m1-2h0m0 2h0m0-1h0m1-4h0m0-2h0m1 6h0m2 1h0m0-2h0m1-3h0m0 4h0m0-4h0m2 2h0m0 2h0m1 1h0m4-4h0m0 4h0m1-3h0m2 3h0m4-3h0m4 0h0m14 3h0m-83 10h0m1 0h0m0 0h0m1-9h0m0 10h0m1-5h0m0 6h0m6-3h0m1-1h0m0-4h0m1 0h0m0-1h0m3 1h0m1-2h0m1 8h0m0 2h0m0-2h0m1-4h0m0 1h0m0 3h0m0-6h0m0 2h0m1 1h0m0-3h0m0 8h0m0-6h0m0 2h0m0 1h0m2-7h0m0 1h0m0 7h0m2 0h0m0-5h0m0 2h0m0 5h0m2-3h0m0 2h0m2-8h0m0 4h0m0 1h0m1 3h0m0 1h0m0-7h0m0 0h0m1-2h0m0 3h0m0-4h0m0 7h0m1 0h0m0-2h0m1-2h0m0 1h0m1 5h0m0-7h0m0 8h0m0-6h0m0-2h0m0 3h0m1-4h0m0-1h0m0 5h0m1-3h0m0 7h0m0 0h0m1-1h0m0 1h0m0 0h0m1-8h0m0 5h0m0-4h0m0 1h0m0 5h0m0-8h0m0 6h0m0-4h0m0 4h0m1-1h0m0-1h0m1-4h0m0 5h0m0 3h0m0-3h0m1 2h0m0-1h0m0-7h0m0 11h0m0-1h0m1-4h0m0-1h0m0 5h0m0 1h0m0-5h0m1 5h0m0-1h0m0-5h0m0-3h0m0 6h0m1 1h0m0-8h0m0 4h0m1 0h0m0-4h0m1 6h0m0-3h0m0 1h0m0 2h0m1-3h0m0-3h0m1 10h0m0-7h0m0-1h0m0-3h0m0 11h0m0-11h0m0 1h0m0 10h0m0-7h0m0 4h0m0-4h0m0-4h0m1 3h0m0 2h0m0 6h0m0-3h0m0 3h0m0-3h0m0-3h0m1 5h0m0-9h0m0 4h0m0 2h0m0 2h0m0 0h0m1-4h0m0 2h0m0-1h0m0 3h0m2-1h0m1-2h0m0-1h0m1 6h0m0-10h0m0 3h0m0 5h0m0 0h0m0 1h0m0-6h0m0-2h0m0 4h0m0-4h0m0 2h0m0 5h0m1-1h0m0 3h0m1 0h0m0-3h0m2 3h0m1-4h0m0-7h0m0 8h0m1-7h0m1 3h0m2 4h0m0-6h0m1-2h0m0 5h0m1 6h0m2-1h0m1-5h0m5 6h0m2-4h0m1 3h0m-76 6h0m1-3h0m4 4h0m2-2h0m2 7h0m0-10h0m1 5h0m3-2h0m1 7h0m0-9h0m0-1h0m1 7h0m0-3h0m0 1h0m1-2h0m2 3h0m0-1h0m0 6h0m1-11h0m0 1h0m1 3h0m0-4h0m0 6h0m0 1h0m1 0h0m1 4h0m2-7h0m0-4h0m0 2h0m2 6h0m0-8h0m0 5h0m1 1h0m0-2h0m1 0h0m0 2h0m1 0h0m0-6h0m1 0h0m0 4h0m0 5h0m0-4h0m1 2h0m0-6h0m1 8h0m0-2h0m0 1h0m1-1h0m0 0h0m0 0h0m1-7h0m0 6h0m0-4h0m0 4h0m1-1h0m0 6h0m0-1h0m0-8h0m1 2h0m0-2h0m0 1h0m0 5h0m1-5h0m0-3h0m0 8h0m1-7h0m1 0h0m0 3h0m0-4h0m1 10h0m0-8h0m0-2h0m0 1h0m1 1h0m0 0h0m0 0h0m0 0h0m0 3h0m0 1h0m1-2h0m0 2h0m0-1h0m1-1h0m0 2h0m1 0h0m0 0h0m0-2h0m0 4h0m0-5h0m1 2h0m0-2h0m0-2h0m0 7h0m1-6h0m0 9h0m2-9h0m0 0h0m0 8h0m0-10h0m0 5h0m0 2h0m1-1h0m0 4h0m0-8h0m0 1h0m0 0h0m0-1h0m1 5h0m0-6h0m1 7h0m0-4h0m0-2h0m1-2h0m0 5h0m1 3h0m2-6h0m0 7h0m1-5h0m0-3h0m0 5h0m0 2h0m0-3h0m2-4h0m0 1h0m1-1h0m2 5h0m0-1h0m1-5h0m1 4h0m0-3h0m2 3h0m2-3h0m1 7h0m-49 7h0m2 3h0m0-4h0m1-1h0m1 1h0m2 1h0m1-3h0m2 1h0m5 4h0m1-2h0m5-1h0m0-2h0m6 11h0m2-6h0m1-5h0m4 10h0m3-6h0m3-3h0m2 10h0" stroke="#A07030" stroke-width="2.0" stroke-linecap="round" fill="none"/>
<text x="410.9" y="1148.6" font-size="8.2" text-anchor="middle" font-family='"Liberation Sans",sans-serif' font-weight="bold" fill="#222">UMAP1</text>
<text transform="translate(327.6,1086.2) rotate(-90)" font-size="8.2" font-weight="bold" text-anchor="middle" font-family="Liberation Sans" fill="#222">UMAP2</text>
<path d="M514 1028.1V1138.8H669.6" stroke="#555" stroke-width="0.8" fill="none"/>
<ellipse cx="556.5" cy="1042" rx="7.8" ry="7.5" transform="rotate(0 556.5 1042)" fill="#CDCDD4"/><ellipse cx="577" cy="1052.5" rx="10.5" ry="3.9" transform="rotate(0 577 1052.5)" fill="#CDCDD4"/><ellipse cx="557" cy="1063" rx="5.2" ry="5.2" transform="rotate(0 557 1063)" fill="#CDCDD4"/><ellipse cx="566" cy="1049" rx="6" ry="3.8" transform="rotate(0 566 1049)" fill="#CDCDD4"/><ellipse cx="556" cy="1054" rx="3.8" ry="6" transform="rotate(0 556 1054)" fill="#CDCDD4"/><ellipse cx="616" cy="1070" rx="9" ry="7.5" transform="rotate(0 616 1070)" fill="#CDCDD4"/><ellipse cx="620" cy="1088" rx="5.2" ry="9" transform="rotate(0 620 1088)" fill="#CDCDD4"/><ellipse cx="650" cy="1093" rx="10.5" ry="4.5" transform="rotate(0 650 1093)" fill="#CDCDD4"/><ellipse cx="622" cy="1124" rx="13.5" ry="6.3" transform="rotate(0 622 1124)" fill="#CDCDD4"/><ellipse cx="549" cy="1119" rx="21" ry="11.2" transform="rotate(0 549 1119)" fill="#CDCDD4"/><ellipse cx="529" cy="1091" rx="5.2" ry="4.5" transform="rotate(0 529 1091)" fill="#CDCDD4"/><path transform="scale(.5)" d="M1104 2061h0m3-9h0m0 9h0m4 1h0m-19 13h0m3-3h0m1-8h0m4 9h0m0-2h0m2-2h0m0 1h0m1-1h0m1 1h0m1 3h0m0-2h0m0-3h0m3-4h0m2 10h0m0-1h0m1 0h0m0-1h0m0-2h0m1-3h0m1 1h0m0 6h0m0-5h0m0 2h0m1-5h0m0-1h0m1 3h0m0 6h0m1 1h0m1-4h0m1 0h0m2-2h0m1 2h0m1-1h0m2 2h0m3 2h0m1-1h0m3-1h0m1-2h0m6-4h0m6 5h0m-69 11h0m8 1h0m6 2h0m0-3h0m1-1h0m3 3h0m0 2h0m0-6h0m4 5h0m3-3h0m0 2h0m0 1h0m1 2h0m0-4h0m0-1h0m1-6h0m0 9h0m0-6h0m1 3h0m1 4h0m0-7h0m0-1h0m1 9h0m0-2h0m0 1h0m0 1h0m1-2h0m0-6h0m0 8h0m0-10h0m0 9h0m1-3h0m0-7h0m0 10h0m1-5h0m0-4h0m0 0h0m0 5h0m1-6h0m0 11h0m1-9h0m0 3h0m0 1h0m0-2h0m1-2h0m0 8h0m0-9h0m0-1h0m0 9h0m0-1h0m1-7h0m0 5h0m1 4h0m0-5h0m1-4h0m0 7h0m1 1h0m0-6h0m0 8h0m0-11h0m0 4h0m0 0h0m0-3h0m1 7h0m1 1h0m0-5h0m0 6h0m0-6h0m0 2h0m0-6h0m1 2h0m1 5h0m0-3h0m0 4h0m0 1h0m1-5h0m1-1h0m0 6h0m0-3h0m0-2h0m1-3h0m0 9h0m0-9h0m0 5h0m1 4h0m0-3h0m0-1h0m1 4h0m0-1h0m0-6h0m1 1h0m0-3h0m0 8h0m1 0h0m0 0h0m2-3h0m1-2h0m0 0h0m0 6h0m1 1h0m0-8h0m1 0h0m0-3h0m0 7h0m6-6h0m1 10h0m-45 4h0m4 7h0m0-3h0m1-4h0m1 0h0m0-2h0m1 4h0m1-4h0m1 1h0m0-1h0m0 1h0m1 0h0m1-2h0m0 3h0m2 2h0m0-2h0m0 0h0m0 8h0m2-2h0m0 1h0m1-7h0m1-2h0m0 1h0m0 1h0m1 0h0m0 0h0m0-3h0m2 9h0m1-2h0m0-4h0m0 7h0m1-5h0m0-5h0m0 10h0m0-2h0m0-4h0m1 5h0m1 0h0m0-9h0m0 6h0m0 3h0m1-9h0m0 8h0m0-1h0m0-3h0m1 6h0m0-10h0m0 10h0m1-1h0m0-7h0m0-1h0m0 3h0m0 3h0m1-7h0m0 11h0m0-7h0m1-1h0m0 3h0m0 4h0m0-7h0m0-1h0m1 2h0m0 0h0m0-1h0m1 1h0m1 0h0m0 7h0m1 0h0m0-4h0m1 1h0m0 0h0m0 2h0m0 1h0m1-7h0m0 3h0m0-3h0m0 4h0m0 3h0m0-3h0m0 2h0m1 0h0m0 0h0m2-5h0m0 3h0m0-2h0m1 4h0m1-3h0m0 3h0m0-4h0m0 0h0m1 0h0m1 2h0m0-4h0m1 7h0m0-1h0m0-1h0m0-3h0m1 4h0m0-1h0m1 2h0m0-11h0m1 5h0m0 6h0m0-11h0m1 5h0m1 2h0m0-3h0m0 3h0m1 0h0m0 0h0m1 1h0m1 1h0m1-1h0m1-2h0m2 4h0m0-1h0m0 2h0m1 0h0m0 0h0m0-9h0m2 9h0m0 0h0m0-3h0m4-5h0m0 8h0m2-2h0m0 2h0m1-9h0m0 8h0m3 1h0m0 0h0m3-5h0m2 2h0m7 0h0m3 0h0m-85 15h0m4-5h0m1-5h0m4-1h0m1 1h0m0 6h0m1-5h0m2 1h0m0 4h0m1 3h0m2 0h0m0-7h0m1 3h0m0 2h0m0-3h0m0 1h0m0-4h0m1 7h0m0 0h0m1 0h0m0-6h0m1 5h0m1-2h0m0 4h0m1-8h0m0 0h0m0 6h0m0 3h0m0-7h0m0 3h0m0-4h0m1 3h0m0-2h0m0-2h0m1-1h0m0 7h0m0-8h0m0 0h0m1 4h0m1 7h0m0-4h0m1-3h0m0 1h0m0-1h0m1 1h0m1-4h0m0 3h0m0 4h0m1 1h0m0-7h0m0 6h0m0-7h0m1 1h0m0 3h0m1 1h0m1-5h0m1 6h0m1-5h0m1 2h0m0 3h0m1-4h0m0 1h0m1-1h0m0-3h0m0 1h0m1-1h0m1 4h0m2 4h0m0-1h0m1 4h0m0-10h0m0 2h0m0 2h0m1 1h0m0-2h0m0-1h0m1-2h0m0 4h0m0-4h0m0 1h0m1 9h0m0-6h0m2-4h0m0-1h0m0 3h0m1 4h0m0 3h0m0-3h0m0-1h0m1 1h0m0 2h0m0-5h0m1-4h0m0 8h0m0-2h0m0 3h0m0-2h0m0-6h0m1 1h0m0 4h0m0 0h0m0 0h0m0-3h0m0 0h0m1 1h0m0-2h0m0-2h0m0 2h0m0-2h0m1 11h0m1-2h0m0-1h0m1-1h0m0-3h0m0-2h0m0 2h0m1-3h0m0 4h0m1 0h0m0 4h0m0-9h0m1 5h0m0-2h0m0 3h0m0-6h0m1 3h0m0 1h0m0-3h0m0 0h0m0 7h0m1-8h0m0 3h0m2 7h0m0 0h0m0-1h0m1-7h0m0 2h0m0 7h0m0-7h0m0 5h0m1-3h0m0 1h0m0 2h0m1-1h0m1 0h0m0 1h0m1-2h0m1-3h0m0 4h0m0 3h0m0-1h0m0-8h0m0-1h0m1 0h0m0 8h0m0-3h0m0-3h0m0 6h0m1-2h0m0-4h0m0 0h0m1-2h0m0 5h0m0 5h0m1-3h0m0 2h0m1-3h0m0 4h0m2-7h0m0-4h0m0 11h0m1-6h0m0-1h0m1-3h0m1-1h0m1 6h0m2 2h0m1-4h0m0 7h0m3-3h0m2-8h0m2 4h0m1 2h0m1 2h0m1-5h0m1-1h0m-120 19h0m0 2h0m2-1h0m3 0h0m5 0h0m5 1h0m0 0h0m24-10h0m0 9h0m1-4h0m0 1h0m0-5h0m1 2h0m0 7h0m0-3h0m1-7h0m1 9h0m1-5h0m0-2h0m0-2h0m1 7h0m0-7h0m0 1h0m1 7h0m1-1h0m0-2h0m0-4h0m0 0h0m1-2h0m0 6h0m1 1h0m0-3h0m0-3h0m0 0h0m1 9h0m0-3h0m0-7h0m0 0h0m1 8h0m1-4h0m0 3h0m3 3h0m1-1h0m0 1h0m1 0h0m0-1h0m4 1h0m1 1h0m14-10h0m2 1h0m6-2h0m1 0h0m7 1h0m3 0h0m1 1h0m3 2h0m4 1h0m0 0h0m9-3h0m5-2h0m8 4h0m21 4h0m1-4h0m0 6h0m8-2h0m2 2h0m2-2h0m0 3h0m2-3h0m0 2h0m0 0h0m2-4h0m0 4h0m2-4h0m2 1h0m1 1h0m0 0h0m1 0h0m1 2h0m2-7h0m7 5h0m0-1h0m7 1h0m4-5h0m-193 10h0m2 1h0m3-1h0m1 1h0m2-2h0m1 0h0m1 2h0m2-2h0m0 3h0m0-3h0m1 0h0m0 0h0m0 2h0m0-2h0m1 0h0m0 1h0m1-1h0m0 0h0m16 2h0m4 3h0m0 1h0m0 1h0m1 2h0m1-8h0m2 10h0m3-7h0m1-4h0m0 0h0m0 1h0m1 7h0m1-3h0m0-1h0m0-3h0m0 4h0m1-3h0m1-2h0m0 5h0m1-3h0m0 1h0m0 4h0m1-4h0m1-2h0m0 2h0m1-3h0m0 1h0m0 4h0m1-1h0m0 3h0m1-4h0m1-1h0m0-2h0m0 1h0m1-1h0m0 1h0m1 6h0m1 0h0m0 3h0m0-3h0m1 3h0m0-10h0m0 0h0m1 7h0m0-5h0m0-1h0m1 3h0m1 3h0m0-2h0m0-5h0m0 0h0m1 10h0m0-7h0m0-2h0m1 1h0m0 2h0m78 4h0m3-2h0m0 0h0m0 4h0m0-6h0m1 4h0m0 0h0m1-1h0m0 4h0m0-4h0m0 3h0m1-9h0m1 5h0m1 5h0m1-5h0m0-5h0m0 8h0m1-6h0m0 0h0m0-1h0m0 2h0m0 3h0m1-4h0m0 6h0m0 2h0m0-9h0m0-2h0m0 6h0m1-2h0m1 6h0m0 1h0m0-7h0m0-1h0m1-3h0m0 6h0m0-5h0m0 1h0m1 6h0m0 0h0m1-1h0m0 4h0m0-2h0m0-4h0m1 5h0m1-1h0m0-5h0m0 7h0m0-7h0m1 6h0m1 0h0m0-10h0m0 6h0m0-2h0m1 5h0m0-6h0m0 0h0m0 4h0m0 0h0m1 1h0m0-5h0m1 2h0m0 6h0m0 0h0m0-4h0m0 1h0m0-5h0m0-2h0m1 9h0m0-4h0m1 2h0m1-4h0m0-3h0m0 0h0m0 9h0m0-5h0m1-4h0m2 9h0m1-2h0m0 0h0m1-3h0m0 1h0m0 1h0m0 3h0m1-1h0m0-8h0m1 5h0m0 5h0m0-3h0m0 1h0m1 0h0m0 0h0m0-2h0m0 3h0m3 1h0m0-2h0m0-1h0m1 2h0m2 1h0m1-9h0m0 5h0m2-3h0m1 5h0m1-6h0m3 6h0m0 2h0m0-4h0m4-3h0m5 6h0m-157 5h0m2-3h0m2 1h0m3-1h0m0 3h0m4-1h0m0-1h0m2 0h0m4 1h0m83-2h0m4 1h0m0-1h0m1 6h0m2-6h0m1 8h0m1-2h0m0-5h0m2 0h0m1 5h0m0-5h0m0 6h0m0-2h0m0-4h0m0 0h0m0 5h0m0-6h0m2 5h0m0-1h0m0-4h0m1 9h0m0-7h0m0 4h0m2 1h0m0-5h0m1 8h0m0-2h0m0 2h0m0-1h0m0-2h0m0-1h0m1 0h0m0 5h0m0-7h0m0-1h0m0-2h0m0 1h0m0 5h0m1-5h0m0 9h0m0-5h0m1-5h0m1 6h0m0-7h0m0 10h0m0-7h0m0 3h0m1-3h0m1 8h0m2-11h0m0 7h0m0-6h0m0 10h0m1-3h0m0-1h0m0-7h0m0 3h0m1-1h0m0 0h0m0 6h0m1-8h0m0 5h0m0 0h0m1-2h0m0 8h0m0-6h0m0-3h0m1-2h0m0 7h0m1-7h0m0 4h0m0 2h0m1-2h0m0 6h0m0-7h0m1 6h0m0 0h0m0-6h0m0 2h0m1 0h0m0 0h0m0-1h0m0-4h0m0 10h0m1 0h0m0-5h0m1 1h0m0 4h0m1-8h0m1-2h0m0 10h0m1 0h0m1-4h0m0 3h0m0-6h0m0-3h0m0 6h0m1-2h0m1 1h0m1 0h0m1-4h0m0 1h0m1 7h0m0-8h0m1-1h0m0 1h0m2 2h0m1 7h0m1-9h0m0 6h0m5-3h0m-108 15h0m0-6h0m1 2h0m0 2h0m0-1h0m0 0h0m1 4h0m0-2h0m0 1h0m0 0h0m1 2h0m0-5h0m0 4h0m1-2h0m0-3h0m1 5h0m1-3h0m1-2h0m54-2h0m4 2h0m3-3h0m0 4h0m1-2h0m0 5h0m1 0h0m0-1h0m2 3h0m2-5h0m1 5h0m0-6h0m0 2h0m2 4h0m0-6h0m1 4h0m1-1h0m1 3h0m0-9h0m0 4h0m1 1h0m0-5h0m0 7h0m0 2h0m1-4h0m1 1h0m0-6h0m1 3h0m1 2h0m0 2h0m2 3h0m0-7h0m0 7h0m1-4h0m0-5h0m1 3h0m0 4h0m0 3h0m1-11h0m0 5h0m0-3h0m0 0h0m1 0h0m0 0h0m0 9h0m1-8h0m1-3h0m2 2h0m-193 19h0m1 0h0m0 2h0m4-3h0m1-1h0m25 3h0m27-1h0m78-4h0m0-1h0m0 2h0m1-2h0m1 0h0m0 1h0m1 0h0m0 3h0m1-6h0m0 4h0m2-2h0m1-2h0m0 5h0m1-3h0m0-3h0m4-1h0m19 5h0m0-3h0m3 1h0m2 8h0m2-3h0m2 2h0m1-10h0m0 5h0m0 0h0m3 0h0m1-4h0m0 6h0m0 3h0m1-9h0m1 8h0m2-6h0m1 7h0m0-3h0m1 4h0m0-10h0m0 6h0m1 1h0m0-2h0m0 4h0m1-6h0m0 5h0m0-1h0m2-4h0m0 7h0m0-10h0m3 4h0m5 0h0m72 5h0m-278 12h0m1-5h0m0 2h0m1 3h0m0-3h0m0-4h0m1 6h0m1-3h0m0-1h0m0 4h0m1-1h0m0-3h0m0 6h0m0-6h0m0-3h0m1 3h0m0-4h0m1 10h0m0-1h0m0-6h0m0 6h0m0-3h0m0 0h0m1-1h0m0 3h0m0 0h0m1 1h0m0-3h0m1 1h0m0-7h0m0 10h0m0-1h0m0 1h0m0-8h0m1-3h0m0 5h0m1 2h0m0-7h0m0 9h0m0-7h0m0 5h0m0-4h0m0 2h0m0 3h0m0-5h0m1 3h0m0 5h0m0-2h0m0-1h0m1 0h0m0-2h0m0 3h0m1 0h0m1-5h0m0-3h0m1 10h0m0-3h0m3-3h0m1-1h0m1 2h0m0-2h0m2 3h0m1-4h0m9 3h0m4-3h0m1 2h0m0 6h0m2-10h0m0 2h0m2 4h0m0 3h0m2-6h0m0 2h0m0 5h0m1-2h0m0 1h0m0-3h0m1-2h0m0 3h0m0 2h0m1-2h0m1 1h0m0 0h0m0-3h0m1 0h0m0-1h0m0 2h0m0 1h0m1-3h0m0-3h0m1 6h0m1-3h0m0 3h0m0 0h0m1 2h0m1-1h0m1-3h0m0-3h0m0 7h0m1-1h0m0-3h0m1 4h0m0-6h0m0-1h0m0 3h0m1 3h0m1-4h0m1-2h0m0 3h0m1-5h0m1 2h0m1 1h0m1 7h0m0-9h0m0 8h0m1-3h0m0-3h0m1 5h0m2 0h0m4-3h0m2 1h0m105-6h0m1 1h0m1 5h0m0-6h0m1 7h0m0-2h0m1-2h0m0-3h0m1 3h0m0-1h0m1 7h0m0-2h0m2-7h0m0 9h0m0-3h0m0 3h0m1-9h0m1 2h0m0-1h0m0 4h0m0-3h0m0-1h0m0 3h0m1 2h0m0 0h0m1-5h0m0 2h0m1 6h0m0-3h0m0 1h0m0 3h0m0-9h0m1 3h0m0-4h0m1 1h0m0 6h0m0 0h0m0-3h0m0 2h0m1 0h0m1 1h0m0 3h0m0-11h0m1 9h0m1-3h0m1 0h0m1 0h0m0 5h0m0-11h0m3 0h0m1 1h0m0 8h0m1 1h0m0-10h0m1 7h0m0-1h0m1-1h0m4-1h0m13 6h0m1-8h0m2 5h0m9-5h0m1 6h0m3-3h0m1 5h0m1-4h0m1-1h0m0 6h0m0 0h0m1-4h0m2 3h0m0-10h0m1 0h0m1 11h0m1-10h0m1 6h0m0 3h0m3-6h0m1 1h0m0 6h0m0-1h0m1-8h0m0 8h0m3-8h0m0 8h0m1-1h0m0 2h0m0-1h0m3-5h0m0 6h0m1 0h0m2-2h0m2-5h0m5 6h0m8-8h0m4 8h0m2-2h0m-288 8h0m0-2h0m1-1h0m5 4h0m0-3h0m1-2h0m1 0h0m0 4h0m2-3h0m0 6h0m1-1h0m0-2h0m0-4h0m1 5h0m0-4h0m1 2h0m0 2h0m0 6h0m0-7h0m1-2h0m0 1h0m0 3h0m0-1h0m0-5h0m2 4h0m0 1h0m1-1h0m0 0h0m1-1h0m0-2h0m0 2h0m0-3h0m1 1h0m0 2h0m0-3h0m0 2h0m0 1h0m1 0h0m3-3h0m2 11h0m1-7h0m2-3h0m3 2h0m4 3h0m3-1h0m1-1h0m1-2h0m1 0h0m1-1h0m3 2h0m0-1h0m0-2h0m2 8h0m1 0h0m1-6h0m0-1h0m0 10h0m1-10h0m0 8h0m1-6h0m0-2h0m0 2h0m1-2h0m0 3h0m0-1h0m0 3h0m1-2h0m0-4h0m1 0h0m1 2h0m0 7h0m0-5h0m1-1h0m2 8h0m4-10h0m0 1h0m2 1h0m1 5h0m7-7h0m0 8h0m1-9h0m19 11h0m3-5h0m0 1h0m1 4h0m1 0h0m1-2h0m0-3h0m0 1h0m0 2h0m2 1h0m0-4h0m2 3h0m0 2h0m0-3h0m0-5h0m3 8h0m1-4h0m1-7h0m1 0h0m0 11h0m0-5h0m1-4h0m0 5h0m1 2h0m4-3h0m4-5h0m62 7h0m5-2h0m1-1h0m0 1h0m0-3h0m1 4h0m1-7h0m1 5h0m0 1h0m1-3h0m1-3h0m1 4h0m1-3h0m2 3h0m0-3h0m0 5h0m0 2h0m1 2h0m4 0h0m0-10h0m2 9h0m4-8h0m3 4h0m11 6h0m3-7h0m1 0h0m2 5h0m3-9h0m3 0h0m3 11h0m0-2h0m0-9h0m1 0h0m0 11h0m0-4h0m0-4h0m1-2h0m1 2h0m1 4h0m2 2h0m0-1h0m1-2h0m0 0h0m1-1h0m0-3h0m0 5h0m2-2h0m3 2h0m0-4h0m0 1h0m0 0h0m4-2h0m0 8h0m0-6h0m1-1h0m0 3h0m1 0h0m0 3h0m0-1h0m1-3h0m1 3h0m0-7h0m0 2h0m1 0h0m0 0h0m0-1h0m1 5h0m0-4h0m1-2h0m0 6h0m2-1h0m1 2h0m0-2h0m1 4h0m0-2h0m0-3h0m3 1h0m0-4h0m1 5h0m2-2h0m0-4h0m2 7h0m0-7h0m2 4h0m0-5h0m0 3h0m1 1h0m1 2h0m1-1h0m3-3h0m1-1h0m0-1h0m1 0h0m7 10h0m4-10h0m-299 23h0m15-10h0m9-1h0m5 9h0m3 1h0m5-2h0m11 1h0m3 2h0m0-1h0m2-2h0m5-5h0m0-1h0m1 9h0m21 0h0m3-1h0m7 0h0m0-2h0m1 1h0m1 2h0m0-2h0m1 0h0m1 1h0m0-4h0m0 0h0m3 5h0m0-7h0m1 1h0m0 2h0m0-3h0m1 5h0m0-7h0m0 6h0m0-5h0m1 4h0m0-2h0m0-1h0m1-4h0m1 3h0m0-1h0m1 6h0m0-5h0m0 3h0m0-3h0m2-3h0m0 0h0m1 3h0m0-3h0m1 4h0m0 0h0m1 4h0m1-5h0m84 4h0m4-3h0m6-1h0m0-2h0m2 4h0m1 1h0m23-3h0m15 0h0m14-1h0m0 0h0m11-2h0m3 0h0m1 1h0m1 0h0m-288 19h0m2 2h0m38 1h0m2-6h0m2 5h0m2-4h0m1-4h0m10 7h0m3 2h0m0-5h0m2 1h0m1 3h0m0 1h0m1-9h0m0-2h0m1 6h0m1 5h0m1-1h0m0-3h0m1 4h0m1-2h0m1-2h0m1 4h0m1-7h0m2-4h0m0 10h0m3 0h0m1-4h0m0-1h0m2 6h0m5-9h0m0 4h0m3 3h0m0-4h0m0 2h0m3 1h0m0 1h0m1-5h0m1 3h0m1 1h0m5-4h0m2-4h0m1 10h0m0 0h0m0-6h0m4-4h0m0 3h0m2 6h0m1 1h0m0-10h0m0 1h0m1 9h0m1-8h0m0-2h0m1 4h0m1-4h0m3 8h0m110 1h0m-241 6h0m10 6h0m2-3h0m17 3h0m6-7h0m9 4h0m1 1h0m0-6h0m4 6h0m4-7h0m1 9h0m6-7h0m2-1h0m0 3h0m1 3h0m3-6h0m0 8h0m1-5h0m1 2h0m3 3h0m1-6h0m0 5h0m1 3h0m0-6h0m2-4h0m0 5h0m0-5h0m1 2h0m0 6h0m1-1h0m1 2h0m0-4h0m1 4h0m0 1h0m1-11h0m0 6h0m0 3h0m1-8h0m1 8h0m1-2h0m0-2h0m1 4h0m1-3h0m1 5h0m0-4h0m1 2h0m0-1h0m1-2h0m3-6h0m0 8h0m1-6h0m2 5h0m0-4h0m5 2h0m0-3h0m0 8h0m1-6h0m1 5h0m1-7h0m3 3h0m1-4h0m1 8h0m0 2h0m0-4h0m2 4h0m1-9h0m1 7h0m0 2h0m1-6h0m1 1h0m0 2h0m1-6h0m1 8h0m1-8h0m2-2h0m3 1h0m3 8h0m4-4h0m9 5h0m27-5h0m68 5h0m7 1h0m1-1h0m4 0h0m10 1h0m-253 10h0m10-4h0m9-5h0m9 0h0m1 7h0m4 2h0m9 2h0m1-10h0m1 2h0m1-2h0m0 5h0m1-4h0m2 5h0m1 2h0m1-2h0m0-5h0m2 7h0m0-1h0m1-4h0m1 4h0m1 1h0m1-3h0m0 3h0m4 2h0m0-5h0m1 4h0m0-5h0m0-5h0m4 5h0m0-3h0m0 6h0m1-8h0m0 7h0m1-3h0m1 7h0m0-1h0m0-2h0m0 0h0m1 0h0m1-3h0m3 6h0m0-11h0m1 2h0m1 2h0m0 6h0m0-6h0m1-2h0m0 7h0m0 1h0m0-7h0m1 7h0m0 0h0m0-9h0m1 4h0m1-4h0m1 7h0m0-6h0m1-2h0m1 10h0m0-2h0m0 3h0m0-9h0m1 2h0m0-2h0m1 2h0m1 0h0m0 6h0m0-1h0m1-9h0m0 11h0m0-9h0m0 5h0m0 2h0m1 2h0m0-5h0m1-5h0m0 6h0m1 1h0m0-3h0m0-3h0m1 9h0m0 0h0m1-9h0m0-1h0m1 2h0m0 5h0m1-5h0m0-2h0m0 6h0m1-3h0m1 3h0m0-6h0m0 1h0m0 4h0m1 2h0m1 2h0m0-6h0m1 0h0m1 3h0m0 2h0m1-7h0m2 8h0m0-7h0m1 8h0m0-8h0m0 2h0m1-4h0m0 5h0m1 1h0m1 2h0m1-6h0m0-3h0m0 0h0m0 3h0m0 8h0m1-6h0m0 3h0m1-6h0m1 3h0m0 0h0m1-4h0m1 0h0m0 6h0m1-3h0m1-4h0m2 0h0m0 4h0m1 7h0m1-8h0m1 3h0m0 0h0m1-1h0m0-4h0m3 8h0m1-3h0m1-5h0m0 1h0m2 0h0m0 6h0m3-7h0m0 7h0m2-2h0m0-1h0m3 2h0m3-5h0m3 7h0m10-1h0m3 3h0m12-11h0m26 4h0m3 7h0m4-1h0m7-6h0m3 5h0m1-3h0m0 4h0m1-1h0m2 2h0m1 0h0m1-11h0m1 11h0m1-1h0m0 1h0m1-9h0m0 7h0m3-6h0m1 7h0m1 0h0m1-3h0m1-5h0m1 9h0m0-3h0m1 1h0m1-2h0m0-1h0m1-1h0m0 5h0m1 0h0m0-6h0m0 2h0m1-3h0m1 1h0m1-2h0m1 2h0m0 5h0m2 1h0m1 0h0m1 1h0m0-1h0m0-3h0m1-6h0m0 9h0m0-1h0m0-1h0m1-5h0m0 8h0m0-6h0m0 1h0m0 1h0m1 4h0m1-10h0m0 5h0m1 0h0m1-1h0m0 0h0m1 2h0m0 3h0m0-2h0m0-3h0m1-2h0m0 5h0m0 0h0m2-1h0m0-4h0m1 5h0m1 1h0m0 2h0m0 0h0m1-2h0m1-8h0m0 8h0m4-5h0m2 7h0m0-7h0m0 5h0m0-1h0m1 0h0m1-2h0m1 3h0m0-2h0m7 4h0m18-3h0m-272 9h0m4 2h0m10-7h0m6 2h0m6 3h0m1 0h0m1-2h0m1-1h0m4 7h0m1-5h0m0 6h0m0-8h0m2 3h0m2-5h0m0 2h0m1 5h0m1 4h0m4-6h0m2 1h0m3-3h0m1 2h0m0-5h0m1 7h0m0 0h0m0-2h0m1 0h0m1-2h0m0 1h0m3 2h0m3-1h0m0-5h0m1 4h0m0 5h0m0-2h0m0-6h0m0 2h0m0 3h0m1 4h0m0-1h0m0-4h0m0-4h0m2 5h0m0 4h0m1-7h0m0-2h0m0-1h0m1 8h0m2-5h0m2 8h0m0-7h0m0 4h0m0-3h0m1 5h0m1-4h0m2-2h0m1-4h0m0 1h0m0 3h0m1-1h0m1 0h0m2 8h0m1-6h0m1-5h0m3 1h0m0 3h0m0-3h0m0-1h0m1 4h0m1 4h0m1 0h0m0-3h0m0 1h0m1-2h0m0 4h0m1-7h0m0-1h0m1 5h0m0-3h0m2 3h0m2-4h0m2 2h0m2-2h0m2-1h0m1 3h0m0 8h0m1-11h0m0 8h0m1 0h0m1-6h0m1 6h0m2-7h0m0 7h0m0 2h0m1-9h0m2 0h0m0 6h0m3 1h0m1-6h0m1 3h0m0-5h0m3 4h0m1 3h0m0 0h0m1 1h0m3-4h0m5-3h0m10 5h0m13 3h0m5 2h0m22-9h0m5 7h0m0-2h0m1-7h0m1 6h0m1-6h0m0 11h0m4-2h0m3 2h0m0-7h0m1 6h0m0-7h0m0 1h0m1 0h0m1 3h0m1-2h0m1 1h0m0-2h0m1 2h0m1-1h0m0-2h0m1 1h0m1-2h0m2 4h0m0-1h0m1 3h0m0-8h0m0 1h0m1 0h0m0 10h0m1-10h0m0 7h0m0-2h0m1 5h0m0-8h0m0 1h0m0 4h0m1-1h0m0-2h0m0-1h0m0 3h0m1 0h0m0 3h0m1 1h0m0-8h0m1-3h0m0 7h0m1-2h0m0-2h0m1 8h0m0-6h0m0-4h0m1 2h0m0 8h0m0-4h0m1 4h0m0-11h0m1 10h0m0-7h0m0-1h0m0-1h0m0 5h0m0-2h0m0-1h0m1 5h0m0 1h0m1-5h0m0 4h0m1-1h0m1-5h0m0 6h0m0 1h0m0-2h0m0-5h0m0 2h0m1-1h0m0 5h0m0-6h0m1 4h0m0 5h0m2-2h0m0 1h0m0-5h0m0 3h0m1-2h0m0-2h0m1-2h0m0 4h0m1-6h0m0 7h0m0 0h0m0-1h0m0-6h0m0 11h0m1-5h0m0 1h0m0 1h0m1 2h0m0-3h0m1-3h0m0 5h0m0-4h0m0-5h0m2 1h0m0 2h0m0 6h0m0-2h0m0 0h0m0-6h0m0 0h0m1 6h0m0 0h0m1-1h0m0 5h0m0-6h0m0 0h0m0-3h0m1 3h0m0 3h0m0-1h0m0-5h0m1-1h0m0 3h0m0-1h0m1 7h0m0-7h0m1 1h0m0 5h0m0-1h0m1-2h0m0 0h0m0-1h0m0-2h0m1-1h0m0 4h0m2-6h0m0 2h0m1 0h0m1 2h0m0-4h0m0 11h0m1-2h0m0 1h0m0-7h0m0 3h0m1-2h0m1 4h0m0-3h0m1 3h0m1-3h0m3 2h0m2-7h0m8 6h0m-262 15h0m21-5h0m5-3h0m6 6h0m12-7h0m0 9h0m3-9h0m0 6h0m1-5h0m0-1h0m3 7h0m3-3h0m1-4h0m3 0h0m2 3h0m0 6h0m2-1h0m1-4h0m2 2h0m2-1h0m0-5h0m4 5h0m0-2h0m1 3h0m1-5h0m0 2h0m1-3h0m4 8h0m1 0h0m0-6h0m7 0h0m5 2h0m0-1h0m5-3h0m4 4h0m0 0h0m3-4h0m4 1h0m2 1h0m2 1h0m1-1h0m2-2h0m4 0h0m11 4h0m1-2h0m0 1h0m50-2h0m3 5h0m5-6h0m1 5h0m0-1h0m6-3h0m3-1h0m3 5h0m0-5h0m2 1h0m0 7h0m0-5h0m1-1h0m1 2h0m4-3h0m2 4h0m0 2h0m1-6h0m1 1h0m1 4h0m1-4h0m1 6h0m0-8h0m1 8h0m2-5h0m3-3h0m2 2h0m0 3h0m1-5h0m0 2h0m0 1h0m0-1h0m1-1h0m1 2h0m1-1h0m0 6h0m0-7h0m0-1h0m1 11h0m0-8h0m0-3h0m4 0h0m2 9h0m0-6h0m4-3h0m1 4h0m1-1h0m4-2h0m1 1h0m2 0h0m1-1h0m0 4h0m6 2h0m5 3h0m-211 5h0m2-2h0m25 2h0m0-1h0m8 5h0m1 0h0m0 1h0m6 0h0m1-8h0m3 0h0m12 5h0m7 0h0m73-3h0m24-1h0m7-1h0m32 2h0m-179 12h0" stroke="#CDCDD4" stroke-width="2.6" stroke-linecap="round" fill="none"/><path transform="scale(.5)" d="M1112 2064h0m1 7h0m0 3h0m2-8h0m1 9h0m0-8h0m3 5h0m2 1h0m2-4h0m12 2h0m73 48h0m14 1h0m6-1h0m1 1h0m4 2h0m2-2h0m5 2h0m5-3h0m-149 15h0m4-3h0m5 2h0m0 0h0m1-8h0m1 9h0m112-4h0m7-5h0m3 2h0m3 3h0m0-3h0m1 5h0m1 0h0m0-1h0m3 1h0m0 1h0m2-8h0m4 7h0m4 3h0m2-4h0m0 4h0m0 0h0m4-5h0m5 5h0m1-4h0m6 1h0m-50 12h0m8 1h0m5-3h0m3 3h0m2-7h0m1 0h0m1 5h0m6-5h0m2 7h0m2-9h0m0 1h0m2 10h0m1-6h0m13-4h0m3 0h0m-25 13h0m5 5h0m5 0h0m2 4h0m1-11h0m-11 18h0m5 0h0m7-2h0m1 6h0m6-1h0m-9 9h0m35-1h0m11 6h0m-51 2h0m49 1h0" stroke="#5A46B8" stroke-width="2.4" stroke-linecap="round" fill="none"/>
<text x="597.2" y="1148.6" font-size="8.2" text-anchor="middle" font-family='"Liberation Sans",sans-serif' font-weight="bold" fill="#222">UMAP1</text>
<text transform="translate(509,1084.8) rotate(-90)" font-size="8.2" font-weight="bold" text-anchor="middle" font-family="Liberation Sans" fill="#222">UMAP2</text>
<text x="665" y="1045.7" font-size="7.4" text-anchor="start" font-family='"Liberation Sans",sans-serif' font-weight="bold" fill="#222">TIA1</text>
<text x="667.5" y="1061.3" font-size="5.9" text-anchor="start" font-family='"Liberation Sans",sans-serif' font-weight="bold" fill="#222">Expr.</text>
<rect x="668" y="1064.6" width="9" height="47.2" fill="url(#gk)"/>
<text x="680" y="1075.8" font-size="5.2" text-anchor="start" font-family='"Liberation Sans",sans-serif' fill="#333">3</text>
<text x="680" y="1088.4" font-size="5.2" text-anchor="start" font-family='"Liberation Sans",sans-serif' fill="#333">2</text>
<text x="680" y="1101" font-size="5.2" text-anchor="start" font-family='"Liberation Sans",sans-serif' fill="#333">1</text>
<text x="680" y="1113.6" font-size="5.2" text-anchor="start" font-family='"Liberation Sans",sans-serif' fill="#333">0</text>
<text x="415" y="1168.5" font-size="9.2" text-anchor="middle" font-family='"Liberation Sans",sans-serif' font-weight="bold" fill="#111">MASLD (30 samples, 35905 cells)</text>
<path d="M332.6 1169.9V1271.1H491.9" stroke="#555" stroke-width="0.8" fill="none"/>
<ellipse cx="436" cy="1206" rx="18.8" ry="4.9" transform="rotate(-18 436 1206)" fill="#E066C0" fill-opacity="0.6"/><ellipse cx="366" cy="1253" rx="20.2" ry="10.5" transform="rotate(0 366 1253)" fill="#DCA45A" fill-opacity="0.6"/><ellipse cx="376" cy="1256.5" rx="12.8" ry="6.3" transform="rotate(0 376 1256.5)" fill="#C8642E" fill-opacity="0.6"/><ellipse cx="360" cy="1252" rx="11.2" ry="7.5" transform="rotate(0 360 1252)" fill="#A07030" fill-opacity="0.6"/><path transform="scale(.5)" d="M738 2350h0m0 1h0m2-7h0m1 1h0m4 0h0m1 1h0m0 4h0m4-3h0m6 1h0m9-2h0m2-3h0m0 0h0m2 4h0m0-1h0m-51 16h0m15-8h0m1 6h0m1 1h0m2-4h0m1 2h0m3 4h0m2-9h0m0 2h0m0 3h0m1 3h0m0-8h0m0 5h0m0-5h0m0 4h0m1 0h0m1 2h0m0-4h0m1 3h0m0 0h0m1 2h0m0-1h0m0 1h0m0-5h0m0 6h0m0-1h0m1-4h0m0 6h0m0-4h0m1 2h0m0 1h0m1-10h0m0 9h0m1 0h0m0-4h0m0 0h0m1 3h0m0 3h0m0-4h0m0-3h0m2-1h0m0 0h0m0-3h0m0 9h0m1-8h0m0 7h0m1-4h0m0 2h0m0-1h0m2 4h0m1 2h0m0-6h0m0 2h0m0-2h0m1 5h0m0-6h0m3 0h0m3-1h0m-37 15h0m0 1h0m2 2h0m2-8h0m3 7h0m0-3h0m2-3h0m1 3h0m2 2h0m0 0h0m0-4h0m1 5h0m0 1h0m2-5h0m0 2h0m1-4h0m0 4h0m0-3h0m1 4h0m1-2h0m0 1h0m1-5h0m0 1h0m0 0h0m0 7h0m1-4h0m0 3h0m0-6h0m1 8h0m0-4h0m0-3h0m2 4h0m0-2h0m1-2h0m0 4h0m0-2h0m1-1h0m2-3h0m5-1h0m2 7h0m1-7h0m2 0h0m0 3h0m5-3h0m-31 19h0m5-6h0m4 3h0m8-4h0" stroke="#8CB8DC" stroke-width="2.0" stroke-linecap="round" fill="none"/><path transform="scale(.5)" d="M750 2350h0m-12 11h0m4-7h0m2 9h0m0-9h0m2 1h0m0 4h0m3 0h0m0-2h0m0 6h0m1-4h0m0 3h0m1-3h0m0-1h0m2-1h0m0-1h0m0 7h0m3 0h0m1-1h0m2 1h0m1-4h0m-23 13h0m2-6h0m0-2h0m1 3h0m0 3h0m1 1h0m2-1h0m0 3h0m1 1h0m0-5h0m1-2h0m0 4h0m1 1h0m2 0h0m1 2h0m1-8h0m0-2h0m0 6h0m1-6h0m1 4h0m0 4h0m1-5h0m0 1h0m0-4h0m1 4h0m0-2h0m2 6h0m0-4h0m1 2h0m0-1h0m0 3h0m0-2h0m0-5h0m2 10h0m1 0h0m0-2h0m3-5h0m1-4h0m-14 12h0" stroke="#F0B4D8" stroke-width="2.0" stroke-linecap="round" fill="none"/><path transform="scale(.5)" d="M747 2374h0m14-2h0m5 0h0m13-2h0m19 4h0m2-1h0m-62 9h0m1 4h0m12 0h0m7-2h0m0-2h0m1 5h0m4-9h0m0 6h0m4-3h0m3 6h0m1-4h0m0 0h0m1-1h0m4-1h0m1 3h0m1-6h0m0 9h0m2-1h0m3 1h0m0-5h0m0 1h0m2-3h0m0 1h0m1 2h0m3-6h0m1 0h0m1 2h0m1 8h0m1-2h0m2-4h0m2 3h0m0-6h0m1 5h0m1 0h0m2-1h0m1 5h0m9-10h0m1 7h0m1 3h0m-66 6h0m3 5h0m2-7h0m3 6h0m2-6h0m1-3h0m0 7h0m4-6h0m1 5h0m2-3h0m0-1h0m4 0h0m1 1h0m2-3h0m1 5h0m1-4h0m0 0h0m0 8h0m1-9h0m1 10h0m2-3h0m1 2h0m0-2h0m3 3h0m3-6h0m0-4h0m0 5h0m3-5h0m1 7h0m0 1h0m0-5h0m1 5h0m0 0h0m2-8h0m0 4h0m1 5h0m0 2h0m1-11h0m2 6h0m0-1h0m0 5h0m6-8h0m0 2h0m1-4h0m0 0h0m4 4h0m6 3h0m3 3h0m2-8h0m-57 12h0m5 2h0m2-3h0m1 1h0m6 0h0m1 0h0m3 0h0m2 1h0m2 3h0m4-3h0m4-3h0m1 0h0m4 2h0m6 3h0m14-4h0m6 8h0m8 11h0m2-2h0m1-4h0m2 9h0m2-2h0m1-1h0m1-2h0m1 4h0m3-3h0m0-5h0m1 1h0m0 0h0m1 7h0m1-8h0m1 9h0m1-9h0m7-1h0m-32 11h0m10 4h0m7 1h0m2-1h0m3-1h0m2-1h0m1-1h0m4 0h0" stroke="#5CB848" stroke-width="2.0" stroke-linecap="round" fill="none"/><path transform="scale(.5)" d="M740 2384h0m8 3h0m3-1h0m-12 4h0m0 3h0m1 6h0m1-5h0m1-1h0m1 4h0m2-5h0m1 3h0m0-5h0m0 4h0m0 4h0m0-4h0m1 4h0m1-5h0m0 5h0m1-5h0m0 4h0m1-5h0m0 6h0m0 1h0m1-6h0m0 0h0m1 6h0m0-1h0m0-3h0m3-1h0m-56 7h0m1 1h0m0 0h0m1-1h0m0 0h0m0 0h0m1 1h0m0-1h0m1-1h0m1 0h0m0 1h0m0 1h0m1-2h0m0 2h0m0-1h0m1 0h0m1 0h0m0 1h0m1 1h0m8-1h0m21 1h0m1 4h0m4 3h0m0-1h0m1-5h0m0-4h0m0 8h0m1 2h0m0-9h0m0 6h0m0-7h0m0 2h0m2 2h0m0-4h0m1 7h0m0-6h0m0 4h0m0-5h0m0 3h0m1 0h0m0 0h0m0-3h0m0 10h0m0-6h0m1-4h0m1 2h0m0-2h0m1 6h0m1-2h0m0 5h0m1-4h0m1-5h0m0 5h0m1-1h0m0 2h0m7-2h0m-18 10h0m4 0h0m1 5h0m0-5h0m2 1h0" stroke="#30A070" stroke-width="2.0" stroke-linecap="round" fill="none"/><path transform="scale(.5)" d="M797 2423h0m-11 7h0m3 0h0m2 0h0m0 2h0m0-4h0m1-1h0m1 2h0m0 0h0m0 0h0m2-2h0m0-1h0m1-1h0m2-1h0m1 1h0" stroke="#1E6420" stroke-width="2.0" stroke-linecap="round" fill="none"/><path transform="scale(.5)" d="M886 2387h0m9-1h0m8-2h0m14 3h0m27-7h0m-77 12h0m7 4h0m5 0h0m4-1h0m0 4h0m2 0h0m2 0h0m1 0h0m2-5h0m1 3h0m2-2h0m0 4h0m1-8h0m0 5h0m0 3h0m2-7h0m2 1h0m0 1h0m0-4h0m0 6h0m1 1h0m3-3h0m1 0h0m0-2h0m1-1h0m0 6h0m1-4h0m0 3h0m0-2h0m2 0h0m0 2h0m1 3h0m2-4h0m3 2h0m0-7h0m1 7h0m1-2h0m2 1h0m3-1h0m0 3h0m1-4h0m4-4h0m2 2h0m1 5h0m2-2h0m2 2h0m3-6h0m-99 13h0m4 5h0m1 2h0m5 0h0m0 0h0m1-9h0m2 8h0m2-10h0m1 11h0m0-1h0m0 1h0m2-8h0m0 6h0m0 0h0m0 2h0m1 0h0m2-1h0m1-1h0m0-3h0m1 1h0m1 2h0m0 2h0m2-11h0m0 7h0m2 3h0m1-2h0m0 2h0m1 1h0m0-3h0m0-3h0m1 3h0m0-7h0m0 8h0m1-2h0m0-2h0m0-4h0m1 4h0m0 0h0m1 2h0m0 0h0m0 2h0m0-3h0m0 5h0m0-11h0m1 0h0m0 7h0m0-2h0m0 2h0m0-5h0m0 3h0m0 2h0m1 1h0m0 1h0m0-6h0m0 0h0m0-3h0m0 8h0m1 3h0m0-7h0m0 7h0m0-8h0m0-3h0m0 8h0m2 3h0m0-2h0m0-5h0m0 7h0m0-2h0m0-4h0m0 0h0m0 4h0m0 1h0m1-8h0m1 7h0m0 2h0m0-6h0m0-1h0m0-2h0m0 6h0m1 2h0m0-7h0m0 3h0m0-2h0m0 6h0m0-4h0m0-5h0m0 10h0m1-5h0m0 1h0m0-4h0m0 7h0m0-6h0m0 2h0m1 0h0m0 3h0m0-4h0m1 2h0m0 0h0m0 4h0m1-11h0m0 9h0m0-7h0m1 5h0m0 0h0m0 1h0m0 0h0m1-8h0m1 7h0m0-1h0m0-1h0m0 5h0m0-4h0m0-4h0m0 6h0m1 1h0m0-8h0m0 6h0m0-4h0m1 3h0m0-1h0m0-1h0m0 1h0m0 2h0m1 1h0m0 1h0m0-7h0m0 8h0m0-5h0m0-2h0m0 3h0m0-6h0m0 7h0m1 3h0m0-2h0m0 3h0m0-2h0m1 0h0m0 0h0m0-3h0m0-6h0m0 10h0m0-5h0m0-3h0m1 7h0m0-7h0m0 3h0m0-5h0m1 1h0m1 0h0m0 0h0m0-1h0m0 2h0m0 0h0m1 9h0m0 0h0m0 0h0m1-3h0m1-5h0m0 4h0m0 2h0m0-7h0m1 4h0m0 3h0m0-8h0m0 10h0m0-9h0m1 4h0m0-2h0m0-1h0m1 1h0m1-3h0m0 4h0m0 0h0m1 0h0m0-3h0m1 6h0m0-1h0m1-4h0m1 5h0m2-8h0m0 5h0m0 3h0m0-1h0m1-3h0m1-3h0m0-1h0m0 3h0m1-3h0m1 2h0m1 0h0m0 7h0m1-4h0m3 2h0m2-5h0m0 3h0m1-1h0m0-2h0m1 4h0m5-5h0m3 3h0m4-2h0m-113 20h0m3-3h0m3 0h0m0 4h0m2 0h0m1-4h0m0 4h0m4-3h0m1-1h0m1 4h0m0-1h0m1-2h0m1 3h0m2-11h0m0 8h0m0 2h0m1 0h0m0-8h0m2 0h0m1 7h0m0 2h0m0-3h0m0-3h0m1 3h0m0 3h0m0-6h0m0 0h0m0 2h0m0-1h0m1-2h0m1 1h0m0 6h0m0-6h0m0 3h0m1-7h0m0 4h0m0-5h0m0 6h0m1-5h0m0 8h0m1-3h0m0 5h0m0-3h0m0 3h0m0-4h0m0 1h0m0-8h0m0 9h0m0-5h0m1 2h0m0 3h0m0-3h0m1 2h0m0 0h0m0-1h0m0-3h0m1 1h0m0-3h0m0 3h0m0 1h0m1 0h0m0 3h0m0-6h0m1 3h0m0-3h0m1 6h0m0-5h0m0 3h0m0-2h0m0 6h0m0-8h0m0 1h0m1 3h0m0-6h0m0 7h0m0 2h0m0-7h0m0 3h0m0 0h0m0-1h0m1 5h0m0-7h0m0-1h0m1 2h0m0 3h0m0 2h0m0-8h0m1 7h0m0-3h0m0-4h0m0 8h0m1-5h0m0 7h0m0-2h0m0-8h0m0 6h0m0-3h0m1 5h0m1-7h0m0-1h0m0 9h0m0-6h0m0-2h0m1-2h0m0 1h0m0 4h0m0-3h0m0 0h0m0 6h0m1 3h0m0-4h0m0-3h0m0 6h0m0-8h0m0-1h0m1 5h0m0 5h0m0-2h0m0-5h0m1 0h0m0 6h0m0-1h0m0-4h0m0 5h0m0-1h0m0-1h0m0-3h0m0-2h0m1-1h0m0 8h0m0-7h0m0 1h0m0 2h0m0 4h0m0-10h0m0 3h0m0 5h0m0-6h0m1 5h0m0 4h0m0-11h0m1 0h0m0 5h0m0-2h0m0 4h0m0-6h0m0 0h0m1 8h0m0-3h0m0-3h0m0 3h0m0-3h0m1-3h0m0 6h0m0-2h0m1 4h0m0-6h0m0 3h0m0-4h0m0 6h0m0-1h0m0-3h0m0-2h0m0 5h0m0-3h0m1 1h0m0 0h0m0-2h0m0 7h0m0-9h0m1 4h0m0 7h0m0-8h0m0 1h0m0 3h0m0-7h0m1 3h0m0 5h0m0-2h0m0-2h0m0-1h0m1-3h0m0 0h0m0 4h0m0 0h0m1-3h0m0 0h0m0 9h0m0-10h0m0 2h0m0 5h0m1 4h0m0-10h0m0 1h0m0-1h0m1 2h0m0 2h0m0-2h0m1-3h0m0 5h0m0-4h0m0 4h0m0 4h0m0-7h0m0 6h0m1-3h0m0-2h0m0-3h0m0 11h0m1-10h0m0-1h0m0 3h0m1 1h0m0-2h0m0 2h0m0 5h0m0 0h0m1-6h0m0 6h0m1-8h0m0 3h0m0-4h0m1 2h0m0 5h0m0-1h0m0 1h0m0 3h0m1-2h0m0-6h0m0 5h0m0-2h0m0-1h0m0 0h0m0 3h0m2 0h0m1-2h0m0 2h0m3-4h0m1 3h0m0 1h0m1-3h0m0-2h0m0 6h0m0-4h0m1-4h0m0 4h0m1 5h0m1-9h0m2 1h0m0 2h0m0 0h0m2-3h0m0 2h0m1-2h0m1 3h0m2 5h0m3-8h0m3 7h0m2-5h0m1 1h0m-100 16h0m0 3h0m6-9h0m0 1h0m4 4h0m1-5h0m1-1h0m1 2h0m1 0h0m0 3h0m3 2h0m0 1h0m1-6h0m2-2h0m0 3h0m2 4h0m0-6h0m0 1h0m1 2h0m0 4h0m4-1h0m0-4h0m1 4h0m0-5h0m1-1h0m0 7h0m0-6h0m1-2h0m1 9h0m1-2h0m0-7h0m1 8h0m3-8h0m1 0h0m1 0h0m1 1h0m0-1h0m1 4h0m0 0h0m1-4h0m0 1h0m1 0h0m1 1h0m0 2h0m0-4h0m3 2h0m1 4h0m1 0h0m1-4h0m0 2h0m0-3h0m1 9h0m0-6h0m0 3h0m2 1h0m0 0h0m1-8h0m2 0h0m0 4h0m2-1h0m1 0h0m3 2h0m2 5h0m1-1h0m1-3h0m2 2h0m0-2h0m0 0h0m1 0h0m1-4h0m4 3h0m3-1h0m1 4h0m1 2h0m-90 7h0m10-4h0m11 4h0m4-1h0m7 3h0m5-7h0m2 0h0m30 2h0m2 5h0m0 4h0m2-6h0m0 3h0m3-5h0m1 1h0m0-2h0m1 9h0m0 0h0m1-3h0m0-6h0m0 1h0m0 5h0m1 3h0m0-11h0m0 3h0m1 7h0m0 1h0m1-7h0m0-4h0m1 10h0m1 1h0m2-3h0m0-2h0m1 1h0m1 2h0m1-2h0m1-6h0m1 2h0m-75 11h0m56 6h0m0-7h0m0 1h0m2 5h0m0 4h0m0-7h0m0-4h0m1 11h0m1-3h0m2-4h0m2-2h0m2-1h0m1 2h0m1 1h0m0 2h0m0-3h0m1 0h0m0-1h0m0 9h0m1-11h0m2 5h0m3 4h0m6-5h0m-28 14h0m7-6h0m2 8h0m0-8h0m0 7h0m0-5h0m4 6h0m0 1h0m1 2h0m1-6h0m0-1h0m1-3h0m4 0h0m2 1h0m2-1h0m2 0h0m-14 20h0m8-6h0" stroke="#E066C0" stroke-width="2.0" stroke-linecap="round" fill="none"/><path transform="scale(.5)" d="M923 2447h0m23-1h0m1-3h0m9 3h0m-47 12h0m7 0h0m2 1h0m3-6h0m2 2h0m5-2h0m2 1h0m0 0h0m1-1h0m0-1h0m2-4h0m1 5h0m1-2h0m1 5h0m0 2h0m1-1h0m1-3h0m0-3h0m0 7h0m1-6h0m2 7h0m0-3h0m0 2h0m1-1h0m0-2h0m0-3h0m2 1h0m1 3h0m1 3h0m0-5h0m0 2h0m2-2h0m0-4h0m2 1h0m0 0h0m0 0h0m1 0h0m0 8h0m3-3h0m0 1h0m5-2h0m3-3h0m1 6h0m-66 2h0m21 6h0m10-4h0m3 2h0m2-2h0m3 3h0m1-4h0m31 1h0" stroke="#B8B0E0" stroke-width="2.0" stroke-linecap="round" fill="none"/><path transform="scale(.5)" d="M680 2439h0m4 8h0m1-5h0m2 2h0m3 1h0m2 2h0m2-1h0m1-8h0m0 9h0m1-2h0m2 1h0m0 1h0m1-1h0m4-3h0m0 4h0m2-1h0m4-2h0m3 2h0m-30 10h0m1-7h0m1 4h0m0 3h0m0-2h0m0-2h0m2 6h0m1-10h0m0 6h0m0-6h0m0 9h0m0 1h0m1-7h0m0 4h0m0-6h0m0-1h0m1 1h0m0 3h0m1 1h0m1 2h0m0-6h0m0 6h0m1 4h0m0-3h0m0-8h0m0 10h0m1-7h0m0 5h0m0-7h0m0 5h0m1 2h0m0 0h0m1-7h0m0-1h0m1 11h0m0-10h0m2 2h0m0-3h0m1 6h0m0-4h0m0 5h0m1-7h0m0 5h0m2 0h0m0 4h0m0-3h0m1-1h0m0 1h0m0 2h0m4 2h0m2-6h0m-25 13h0m3 3h0m1-6h0m1-1h0m1-1h0m0 1h0m4 1h0m0 1h0m1-1h0m8-2h0m3 0h0" stroke="#7090C0" stroke-width="2.0" stroke-linecap="round" fill="none"/><path transform="scale(.5)" d="M701 2431h0m35 3h0m-18 8h0m4 2h0m5-3h0m1 2h0m3 3h0m1-1h0m2-6h0m2 4h0m0 0h0m1-6h0m1 8h0m1-9h0m3 6h0m3 4h0m0-1h0m1-7h0m1 5h0m3 3h0m1-2h0m6 3h0m0-4h0m2-5h0m-38 10h0m1 2h0m1 1h0m4-2h0m2 0h0m0 1h0m1 9h0m1-10h0m1-1h0m1 3h0m0 5h0m0-1h0m1 2h0m2-9h0m1 10h0m0-1h0m1-1h0m0-5h0m0-1h0m4 2h0m0-2h0m1 8h0m1-6h0m1 6h0m0-3h0m0-7h0m1 5h0m0 0h0m0 2h0m1-7h0m1 3h0m1-3h0m0 8h0m2-7h0m3 3h0m0-4h0m1 4h0m0 0h0m1-1h0m-30 10h0m5 6h0m3 0h0m8-4h0m0 2h0m1-3h0m15-1h0" stroke="#E06040" stroke-width="2.0" stroke-linecap="round" fill="none"/><path transform="scale(.5)" d="M788 2459h0m7 0h0m8-3h0m3-1h0m-38 16h0m1 0h0m6-1h0m1 1h0m1-2h0m1-8h0m1 9h0m3-5h0m1 2h0m0-3h0m0 4h0m1-3h0m0 0h0m0 1h0m0 5h0m1-4h0m0 0h0m0 1h0m1-6h0m0 5h0m0 2h0m0-4h0m1-1h0m0 4h0m0-4h0m1-1h0m2-2h0m9-1h0m-48 22h0m11-1h0m3 0h0m0-1h0m1-3h0m0 2h0m1-6h0m1 0h0m0 6h0m1-7h0m1 10h0m1-8h0m1 2h0m0 2h0m2-4h0m0-1h0m1 4h0m1-4h0m0 1h0m0-1h0m1 1h0m1 1h0m1 0h0m2-2h0m-29 19h0m4-4h0m2-4h0m3 5h0" stroke="#E87890" stroke-width="2.0" stroke-linecap="round" fill="none"/><path transform="scale(.5)" d="M856 2483h0m3 11h0m2-8h0m1 9h0m0-1h0m1-1h0m1 1h0m0 1h0m1-2h0m0-5h0m3 3h0m1-4h0m2 1h0m6 0h0m6-4h0m3 11h0m0-6h0m2 3h0m3-1h0m5-4h0m17 3h0m-65 13h0m4 4h0m1-6h0m2 5h0m0-1h0m2-3h0m0 3h0m0 2h0m1-2h0m1-6h0m0 2h0m0-3h0m1 7h0m0-1h0m0 3h0m1 0h0m0 0h0m1-7h0m0 3h0m0 4h0m0-6h0m1 0h0m0-2h0m0 7h0m0-10h0m0 0h0m1 10h0m0 0h0m0-1h0m0-4h0m0 4h0m0-8h0m0 4h0m1 5h0m0-10h0m0 1h0m1 7h0m0 0h0m0-4h0m0 4h0m1-7h0m1 2h0m1 0h0m0-3h0m0 2h0m0 2h0m1 6h0m0-5h0m1-2h0m1 3h0m1-5h0m1-1h0m1 7h0m1 1h0m0 2h0m2-8h0m1 7h0m0 1h0m0 1h0m2-5h0m1 3h0m1-8h0m0 10h0m0-3h0m1-1h0m0 2h0m1-4h0m0 6h0m4-6h0m2 4h0m0-3h0m1-5h0m4 4h0m3 3h0m3-1h0m0 1h0m0 3h0m5-4h0m0-6h0m4 8h0m-60 12h0m1-1h0m4-8h0m2 4h0m0-3h0m1 0h0m1 8h0m0-9h0m1 3h0m1 8h0m1-5h0m1 2h0m0 1h0m0-4h0m1 1h0m1 0h0m1-6h0m1 6h0m1-4h0m1 6h0m1-5h0m1 2h0m1-3h0m2 9h0m0-5h0m0-2h0m3-1h0m1-2h0m0 8h0m0 0h0m0-7h0m1 9h0m1-10h0m0 10h0m1-2h0m0-6h0m1 2h0m0 0h0m1 5h0m1-2h0m0-5h0m1 4h0m2 4h0m0-7h0m1 7h0m3-8h0m0 7h0m1 0h0m1-4h0m1-3h0m2 2h0m1-5h0m0 10h0m10-6h0m3 7h0m1-11h0m3 9h0m-60 8h0m2-1h0m0-2h0m6 1h0m1-1h0m2 1h0m0 2h0m1-2h0m9 1h0m0 0h0m3 2h0m2-6h0m1 7h0m2-3h0m0-3h0m1-1h0m1 0h0m7 2h0m1 2h0m0 2h0m0 2h0m4-5h0m1-3h0m3 8h0m0-7h0m3 3h0m3-1h0m13-2h0m2-1h0m-37 15h0m2-1h0m15 1h0" stroke="#3A78B8" stroke-width="2.0" stroke-linecap="round" fill="none"/><path transform="scale(.5)" d="M884 2483h0m2-5h0m0-5h0m3 6h0m2 4h0m1 0h0m-7 1h0m1 5h0m0-5h0m0 3h0" stroke="#A0522D" stroke-width="2.0" stroke-linecap="round" fill="none"/><path transform="scale(.5)" d="M718 2456h0m-35 10h0m36 2h0m-18 13h0m1-2h0m3 0h0m0-2h0m6 0h0m6 5h0m4-6h0m4 3h0m6 3h0m2-2h0m0-4h0m5 4h0m2-3h0m0-1h0m5 7h0m3-11h0m3 8h0m6 0h0m0 1h0m2-2h0m0-3h0m22 4h0m3 1h0m-108 6h0m3 7h0m3 1h0m7-2h0m1 0h0m0 2h0m2-1h0m3-7h0m1 1h0m1 3h0m3-7h0m0 0h0m1 0h0m2 7h0m0-1h0m3 3h0m2-5h0m0 7h0m1-5h0m3 3h0m2-1h0m0 0h0m1 1h0m2-7h0m0 8h0m1-3h0m0-1h0m0 1h0m1 3h0m2-4h0m0 2h0m0-2h0m0 1h0m1-5h0m0 5h0m0-5h0m0 4h0m1-5h0m0 5h0m0-3h0m0 3h0m0 5h0m0-2h0m0 2h0m2 0h0m0-3h0m1-4h0m0 1h0m1 6h0m0-4h0m0-2h0m0 3h0m1-2h0m0-2h0m0 6h0m1-3h0m1 4h0m0-6h0m1 0h0m0 2h0m0 0h0m0 4h0m1-3h0m0-5h0m0 7h0m0-2h0m1 1h0m0-1h0m0-1h0m1-2h0m2 4h0m0 0h0m1-7h0m0 4h0m0 5h0m0-11h0m1 0h0m0 7h0m0-1h0m0 4h0m1-6h0m0-1h0m0 6h0m0 2h0m1-4h0m0 2h0m0 0h0m0 1h0m1 1h0m0-5h0m0 3h0m1 0h0m0-1h0m0 0h0m0 1h0m0 2h0m1 0h0m1-4h0m1 4h0m2 0h0m2-1h0m0 0h0m0-4h0m1-1h0m0 2h0m0-2h0m1 0h0m1-1h0m1 7h0m0-1h0m0-3h0m1-4h0m0 3h0m1-2h0m1 4h0m1-6h0m0-2h0m1 1h0m0 8h0m1-7h0m1-2h0m2 0h0m2 2h0m1 9h0m2-5h0m0-4h0m2 3h0m1 2h0m1-1h0m0 3h0m10-4h0m1 5h0m1-1h0m0 2h0m0-6h0m3 6h0m10-5h0m12 3h0m-154 5h0m11 6h0m2-1h0m1-7h0m9 3h0m1 7h0m2-3h0m3-3h0m1 1h0m2-5h0m2 2h0m1 7h0m2 1h0m1-5h0m1 6h0m1-10h0m3 8h0m1-9h0m0 7h0m1-7h0m0 5h0m0-3h0m1-2h0m0 10h0m0-6h0m1 3h0m1 1h0m1 0h0m0 3h0m0-10h0m1 6h0m0 1h0m0 1h0m2-4h0m1 6h0m1 0h0m1-6h0m1-2h0m0 4h0m0-4h0m0 1h0m1 4h0m0-5h0m0 3h0m0-4h0m0 0h0m1-2h0m0 10h0m1-4h0m0-4h0m0 0h0m0 0h0m0-2h0m1 4h0m0-4h0m0 5h0m0-2h0m0 5h0m1-5h0m1 1h0m0-4h0m0 9h0m0 2h0m1-8h0m0 1h0m2 3h0m0 1h0m0-8h0m1 2h0m0 6h0m0-5h0m0 3h0m0 1h0m1-4h0m0 3h0m0-1h0m0-1h0m1 1h0m0-1h0m0-3h0m0 0h0m0 3h0m1 4h0m1 3h0m0-1h0m1-3h0m0-2h0m0-4h0m0 10h0m0 0h0m0-6h0m0 1h0m0-4h0m1 5h0m0-5h0m0 7h0m0-2h0m0-6h0m1 5h0m0-4h0m0 6h0m0-5h0m0-1h0m1 0h0m0-1h0m0 0h0m0 0h0m0 3h0m0 1h0m1-3h0m0 0h0m0-2h0m0 0h0m0 0h0m1 11h0m0-3h0m0 0h0m0-6h0m0 1h0m1 8h0m0-10h0m0 9h0m0-10h0m1 6h0m0-4h0m0 3h0m0 0h0m1 4h0m0-1h0m0-1h0m1-7h0m0 6h0m0 2h0m0-8h0m0 2h0m1 7h0m0-4h0m0-1h0m0-3h0m0 5h0m0-1h0m1 5h0m0 1h0m0-1h0m0-3h0m0-6h0m1 6h0m0 1h0m0-6h0m0 9h0m0-1h0m0-7h0m0-1h0m1 0h0m0-1h0m0 9h0m0 0h0m0-3h0m0-5h0m0 3h0m1 5h0m0-2h0m0 2h0m1-7h0m0 0h0m0 2h0m0-1h0m0-1h0m0-3h0m1 4h0m0 4h0m0-1h0m0 2h0m1 2h0m0-9h0m1 9h0m0-4h0m0 3h0m0-10h0m0 6h0m0-5h0m1-1h0m0 11h0m0-8h0m1 3h0m0-5h0m0 0h0m0 4h0m1-4h0m0 7h0m0-7h0m0 9h0m0 0h0m0-6h0m0 0h0m1-3h0m0 8h0m1-2h0m0-5h0m0 6h0m0-7h0m1 8h0m0-4h0m0 1h0m0-5h0m1 10h0m0-5h0m1 1h0m0 3h0m0-4h0m1-4h0m0 7h0m0-6h0m0-1h0m0 4h0m0 1h0m0-6h0m1 1h0m0 9h0m0-10h0m0 3h0m0 0h0m1 3h0m0 3h0m0-8h0m0-1h0m1 9h0m0-5h0m0-3h0m0 3h0m0-1h0m1 2h0m0 3h0m0-4h0m0-5h0m0 2h0m0-1h0m1 9h0m0-1h0m0-5h0m0 0h0m0 1h0m0-5h0m0 8h0m1-8h0m0 3h0m1 8h0m0-8h0m1 1h0m0 2h0m0 5h0m0-7h0m4 7h0m1-9h0m0-2h0m0 5h0m1 2h0m0-4h0m0 3h0m0 4h0m1-2h0m0 1h0m0-3h0m1-2h0m1 5h0m0 0h0m1-4h0m2 5h0m2-2h0m3 1h0m2-2h0m0-3h0m1 4h0m1 0h0m4-6h0m1 5h0m0-5h0m6 5h0m1-6h0m1 3h0m1 5h0m-136 4h0m10 7h0m4-7h0m0 0h0m2 9h0m0-7h0m2 2h0m1 0h0m4 2h0m1 0h0m1 0h0m2 1h0m4 1h0m1 1h0m3-9h0m2 0h0m1 6h0m2-1h0m1-6h0m0 2h0m0 8h0m0-3h0m0-3h0m0-3h0m4 5h0m0-1h0m1 3h0m0-7h0m0 5h0m0 0h0m2 0h0m0-6h0m0 0h0m1 1h0m0-1h0m0 10h0m0-5h0m0 3h0m0 3h0m1-6h0m0 4h0m1-2h0m1-2h0m1 4h0m0-2h0m0 3h0m1-9h0m0 5h0m1 0h0m1 4h0m0-6h0m1 6h0m0-7h0m1 3h0m0-3h0m0-1h0m0 4h0m1 5h0m0-10h0m1 6h0m1-7h0m0 10h0m0-4h0m1-2h0m1-2h0m0 6h0m0-7h0m1-1h0m0 8h0m0-6h0m0 9h0m1-2h0m0-2h0m1-2h0m1 6h0m0-2h0m1-7h0m0 5h0m0 1h0m0-6h0m0 0h0m0 4h0m1-3h0m0 8h0m0-8h0m0 1h0m1-2h0m0 2h0m0 1h0m1-2h0m0 3h0m1 5h0m0-4h0m0 4h0m0-3h0m2 1h0m0-6h0m0-1h0m1 4h0m0 1h0m0-7h0m0 0h0m0 4h0m0 1h0m1-3h0m0 8h0m0-6h0m0-2h0m1 7h0m0-9h0m2 3h0m0 5h0m0 1h0m1-8h0m0-1h0m1 2h0m1 0h0m1 1h0m1 8h0m0-5h0m0 0h0m0 1h0m1 3h0m0-1h0m1-4h0m0-4h0m2 4h0m0 6h0m0-3h0m1 0h0m1-8h0m1 3h0m0-1h0m1 6h0m0 1h0m0-6h0m0 3h0m1 2h0m0-1h0m1-6h0m0 1h0m0 3h0m1 2h0m0-7h0m0 4h0m1 1h0m1 1h0m1-3h0m1 2h0m0 0h0m0 0h0m1 3h0m0-1h0m0 2h0m1-9h0m0 6h0m0-1h0m0-4h0m1 2h0m1 4h0m3-5h0m0 6h0m1 1h0m2-6h0m0 4h0m1-6h0m2 7h0m0 1h0m5-4h0m0-2h0m1-2h0m3 9h0m0 1h0m0-7h0m1 5h0m2-6h0m1-3h0m0 0h0m0 9h0m0-9h0m10 2h0m-113 10h0m1 4h0m7-4h0m1 5h0m1 1h0m0 1h0m0 2h0m3-8h0m0 4h0m1-2h0m1 1h0m0 2h0m1 2h0m0 0h0m1-4h0m5 2h0m0-2h0m1 5h0m3-7h0m0 7h0m1-6h0m2 6h0m2-3h0m0-6h0m1 10h0m1-7h0m1-2h0m1 8h0m0 0h0m0 1h0m0-6h0m1 5h0m0-5h0m1-1h0m1-3h0m0 1h0m2 1h0m0 7h0m2-1h0m0-1h0m0-3h0m2 5h0m0-8h0m0-1h0m0 5h0m1 1h0m2-4h0m0 9h0m0-8h0m0 7h0m2-8h0m1 3h0m1 6h0m2-5h0m1-5h0m0 0h0m1 3h0m0-4h0m2 6h0m1 4h0m0-1h0m1-4h0m0-2h0m1 3h0m0 0h0m0-5h0m0 9h0m2-1h0m2-8h0m0 7h0m2-6h0m0-1h0m2 0h0m1 7h0m2-8h0m0 11h0m0-9h0m3 7h0m0-7h0m3 1h0m2-2h0m1 2h0m2 1h0m1 4h0m1-8h0m1 0h0m2 4h0m3-1h0m0 4h0m1 2h0m0 1h0m0-9h0m3 0h0m1 0h0m1 6h0m1-2h0m0-5h0m3 0h0m1 6h0m21-3h0m4 3h0m-120 16h0m10 1h0m2-3h0m4-3h0m1-5h0m3 5h0m1 1h0m1 0h0m5-6h0m0 3h0m8-2h0m13-1h0m1 0h0m4 9h0m1-6h0m1 4h0m1 0h0m9-6h0m4 10h0m1-3h0m7-6h0m14 5h0m10-5h0m-63 12h0m29 4h0" stroke="#DCA45A" stroke-width="2.0" stroke-linecap="round" fill="none"/><path transform="scale(.5)" d="M723 2491h0m0-4h0m13 6h0m8 1h0m0-6h0m8 6h0m7 1h0m0-3h0m1 3h0m16-1h0m-70 13h0m6-3h0m3-8h0m2 8h0m0 3h0m3-2h0m2 2h0m1-3h0m2 3h0m2-3h0m0 1h0m4-4h0m0-2h0m1 8h0m1-4h0m1-6h0m0 3h0m0 5h0m1-6h0m0 3h0m0 0h0m0 3h0m0 1h0m2-2h0m0-7h0m1 5h0m1 0h0m2 4h0m0-5h0m0 0h0m0-2h0m1 8h0m0-7h0m1 5h0m0-6h0m0 6h0m0-2h0m1-4h0m0 6h0m0-4h0m0 4h0m0-4h0m1 3h0m0-8h0m1 10h0m1 1h0m0-7h0m1 7h0m0 0h0m0 0h0m0-2h0m0 0h0m1 2h0m0 0h0m1-2h0m0-3h0m1 2h0m0 2h0m0 0h0m0 1h0m0 0h0m0 0h0m1-1h0m0-5h0m0 4h0m0-1h0m1 0h0m0 1h0m0-9h0m1 7h0m0 2h0m0 2h0m1-11h0m0 5h0m1 0h0m0-4h0m0 1h0m0 1h0m1 4h0m1 1h0m0-8h0m0 9h0m2-3h0m0 4h0m0-5h0m0-2h0m0-2h0m1 5h0m0 1h0m1 4h0m0-5h0m1 5h0m0-10h0m0 0h0m1-1h0m0 8h0m0-2h0m0 2h0m0-6h0m1 7h0m0-7h0m1 1h0m0 7h0m0 0h0m0-7h0m0 5h0m0-7h0m1 10h0m0 0h0m0-7h0m1 4h0m1-2h0m1 5h0m0-6h0m1 1h0m0 4h0m2-4h0m1-5h0m1-1h0m0 7h0m1 3h0m1 1h0m0-3h0m2 2h0m1 0h0m0-8h0m1 8h0m1 1h0m9-2h0m2-7h0m-95 16h0m2-2h0m11-3h0m4 8h0m1-1h0m0-3h0m0 4h0m1-9h0m1 6h0m2 4h0m1-3h0m0 3h0m0-4h0m2 1h0m0 4h0m1-8h0m1 5h0m0-6h0m2 0h0m2 8h0m0-8h0m0 0h0m1 3h0m2 4h0m0 2h0m1-4h0m0 1h0m1-3h0m0 2h0m1-2h0m0 5h0m0 1h0m0-4h0m1-2h0m0-4h0m0 8h0m0-2h0m1-5h0m1 3h0m0-3h0m0 4h0m0-2h0m0 1h0m1 2h0m0-4h0m0 6h0m1-9h0m0 7h0m0 2h0m0 2h0m0-4h0m0 2h0m0-8h0m0 10h0m0 0h0m1-9h0m0 8h0m0-10h0m0 2h0m0 4h0m0-1h0m1-4h0m0 10h0m0-2h0m0-2h0m0-2h0m1 5h0m0-2h0m0 3h0m0-7h0m0-4h0m0 5h0m0 5h0m1-2h0m0 0h0m1-4h0m0-2h0m0 3h0m0-1h0m0-1h0m0-2h0m1 10h0m0-1h0m0-7h0m1 8h0m0-5h0m0 0h0m0 3h0m0-5h0m1 2h0m0 2h0m0-4h0m0 7h0m0-2h0m0-5h0m0 2h0m1-4h0m0 2h0m0-2h0m0 6h0m0-4h0m0 2h0m0-4h0m1 5h0m0 4h0m0-2h0m0-5h0m0 0h0m1 5h0m0-6h0m0 7h0m0-4h0m0 2h0m0 1h0m1-1h0m0-3h0m0-3h0m0 5h0m0 3h0m1-10h0m0 10h0m0 0h0m0-10h0m0 3h0m0 2h0m0 4h0m0-5h0m1 2h0m0 3h0m0-6h0m0 2h0m0-5h0m0 11h0m1-3h0m0-7h0m0 3h0m0-2h0m0-2h0m0 9h0m0-5h0m1-4h0m0 2h0m0 9h0m0-9h0m0 5h0m0 3h0m0 0h0m0-7h0m1 7h0m0-5h0m0-1h0m0-3h0m0 9h0m0 1h0m0-2h0m0 0h0m0-3h0m0 2h0m0-8h0m0 9h0m1-9h0m0 1h0m0 3h0m0 2h0m0-2h0m0 3h0m1 4h0m0-11h0m0 1h0m0 1h0m1 3h0m0 2h0m0-2h0m0-3h0m0-1h0m1 1h0m0 1h0m0 6h0m0-7h0m0 4h0m0 4h0m0-7h0m1-2h0m0 10h0m0-8h0m0 6h0m1-7h0m0-2h0m0 7h0m0 2h0m0-7h0m0 2h0m1 4h0m0 1h0m1-4h0m0-1h0m0-4h0m0 3h0m0 0h0m1 0h0m0 0h0m0 0h0m0-2h0m1 6h0m0-6h0m0 3h0m0 3h0m0 2h0m0-1h0m1 0h0m0-6h0m1 6h0m0 3h0m0-8h0m0-3h0m0 2h0m1 0h0m0 6h0m0-1h0m0-4h0m0 7h0m0-8h0m0 6h0m1-7h0m0 6h0m0 4h0m1-11h0m0 4h0m1 4h0m0 1h0m0 1h0m0-9h0m1 4h0m0 3h0m1-7h0m0 9h0m0-10h0m1 3h0m0 3h0m0 3h0m0-2h0m1 2h0m1-8h0m0 4h0m0-3h0m0 8h0m0-8h0m0 0h0m1 4h0m0 3h0m1 1h0m1 0h0m3-3h0m1 3h0m7-5h0m9 5h0m-94 13h0m5-6h0m0 0h0m5-3h0m5 0h0m0 1h0m2-1h0m2-1h0m1 1h0m0 1h0m1 0h0m0 2h0m0-3h0m1 5h0m0-7h0m4 0h0m1 3h0m0-3h0m2 6h0m2-3h0m0 0h0m3 2h0m0-5h0m0 1h0m0 1h0m0 1h0m1-1h0m0-2h0m1 1h0m1 0h0m0 4h0m0 2h0m1-7h0m0 0h0m1 0h0m0 1h0m0 3h0m0-3h0m0 1h0m1 0h0m0 3h0m1-1h0m0 0h0m1-1h0m0-1h0m0 7h0m1-8h0m0-1h0m1 4h0m0 2h0m1 4h0m1-7h0m0-1h0m0-2h0m0 4h0m0-3h0m2 1h0m0 8h0m2-10h0m0 3h0m2 3h0m0-4h0m0-1h0m0 1h0m0-2h0m0 6h0m4-3h0m1 6h0m0-6h0m1 3h0m0-3h0m0 1h0m0 1h0m1-5h0m1 1h0m1 7h0m0-8h0m0 9h0m1-6h0m1 4h0m0-3h0m1 1h0m1 5h0m1-5h0m0 2h0m0-4h0m1 1h0m1-2h0m0 7h0m0-3h0m4-6h0m1 5h0m0-3h0m8 0h0m6-1h0m4 6h0m-69 6h0m14-1h0m17 3h0m1-3h0m5 8h0m1-2h0m0-5h0m3 1h0m3-2h0m1 8h0" stroke="#C8642E" stroke-width="2.0" stroke-linecap="round" fill="none"/><path transform="scale(.5)" d="M696 2483h0m12-1h0m2-3h0m1 4h0m9-2h0m3-4h0m3-1h0m1 6h0m6 0h0m-50 6h0m7 7h0m0-3h0m1-7h0m1 2h0m1 2h0m6 4h0m1-5h0m1 4h0m2 2h0m0 1h0m1-8h0m1 6h0m1 0h0m0 2h0m0 0h0m1-2h0m4 1h0m2-1h0m0-2h0m1 4h0m1-8h0m1 1h0m1 2h0m0-1h0m1 6h0m0-4h0m1 4h0m0-6h0m1 4h0m1-7h0m0 8h0m1-1h0m1 0h0m0-1h0m1 3h0m0 0h0m0-3h0m1 1h0m0 0h0m0 0h0m1-4h0m0 3h0m0 3h0m1-1h0m1 0h0m2-5h0m2 6h0m0-1h0m0-9h0m0 8h0m1 0h0m1-3h0m1 3h0m0-5h0m1 6h0m1 1h0m2-6h0m3 6h0m3-2h0m1 1h0m1 0h0m4-1h0m-71 7h0m6 4h0m2-3h0m0 3h0m3 2h0m0-9h0m1 8h0m1-1h0m0-5h0m1-2h0m0 8h0m1-7h0m0 1h0m2 5h0m0-5h0m1 0h0m0 8h0m0-2h0m1-3h0m0 1h0m1 1h0m0-2h0m1 4h0m0-8h0m1 4h0m0 3h0m1 0h0m0-7h0m0 9h0m1-4h0m0 0h0m1 1h0m0 1h0m0-8h0m0 6h0m1-1h0m0-6h0m0 4h0m1 7h0m0-10h0m0 2h0m0 5h0m1-1h0m0-4h0m0 1h0m0 4h0m0-6h0m1 9h0m0-9h0m0 2h0m0-2h0m1-2h0m0 11h0m0-10h0m0-1h0m0 0h0m1 2h0m0 9h0m1-1h0m0-4h0m0 0h0m0 5h0m1 0h0m0-5h0m1 0h0m0 2h0m0-1h0m1-6h0m0 8h0m0-7h0m1-2h0m0 10h0m0-7h0m0 6h0m0-5h0m1 3h0m0 1h0m0-5h0m0 6h0m1-4h0m0 5h0m0-1h0m0-2h0m0-6h0m1 7h0m0 2h0m1-3h0m0 3h0m0-8h0m1 3h0m0-5h0m0 7h0m0-6h0m0-1h0m0 0h0m0 5h0m1 1h0m1-6h0m0 0h0m0 1h0m0 4h0m1 6h0m0 0h0m1-9h0m0-2h0m0 9h0m1-4h0m0-5h0m0 7h0m0-3h0m0-4h0m1 5h0m1-3h0m0 6h0m1 2h0m0-6h0m0 5h0m0 2h0m0-3h0m0-7h0m1 9h0m0-1h0m0 2h0m1-4h0m0 4h0m0-8h0m0 1h0m0 6h0m1 0h0m0-1h0m1-1h0m0 1h0m0-2h0m1-5h0m0 2h0m0 0h0m1 7h0m0-11h0m0 2h0m1 8h0m0-1h0m0-6h0m0 7h0m1-7h0m0-1h0m1 4h0m0-6h0m0 7h0m1 0h0m0-6h0m0 0h0m1 7h0m0-6h0m0 1h0m1 2h0m0 3h0m0-1h0m1-6h0m2 1h0m0 0h0m1 1h0m0 4h0m0-6h0m1 2h0m0 1h0m0-1h0m5 7h0m0-3h0m1 1h0m4 3h0m0-6h0m2-2h0m3 0h0m-72 19h0m2-8h0m1-2h0m2 2h0m3 8h0m0-1h0m1-8h0m2 0h0m0 10h0m1-2h0m0-6h0m1 0h0m1-2h0m0-1h0m1 5h0m0-4h0m0 4h0m0 2h0m0-7h0m1 0h0m0 11h0m1-2h0m0-4h0m1-5h0m0 2h0m2-1h0m0 3h0m0-3h0m0 4h0m0-1h0m1-1h0m1 6h0m1-6h0m0 6h0m1-5h0m0 2h0m1 1h0m0 4h0m0-5h0m1 2h0m0 0h0m0-7h0m0 5h0m0 2h0m0-4h0m0-2h0m1 0h0m0 6h0m0-7h0m1 4h0m0-5h0m0 9h0m0-9h0m1 10h0m0-9h0m0-1h0m1 7h0m1 0h0m0-2h0m0 1h0m0-4h0m1 4h0m1 1h0m0-1h0m0 3h0m0-3h0m0 0h0m0-5h0m1 2h0m0 0h0m0 5h0m0 0h0m1-2h0m0 1h0m0 3h0m1-5h0m0-5h0m0 4h0m0 2h0m1-4h0m0-1h0m0 0h0m0 3h0m0 1h0m1 2h0m0 2h0m1-6h0m0 3h0m0 3h0m1-6h0m0-2h0m1 2h0m0 0h0m0 4h0m0-2h0m0-4h0m0-1h0m1 11h0m0-11h0m0 3h0m0 7h0m1-9h0m0 1h0m1 2h0m0 1h0m0-4h0m1-1h0m0 0h0m1 1h0m1 7h0m0-5h0m1-1h0m1-2h0m0 11h0m1-9h0m0 1h0m1-2h0m1 0h0m0 6h0m1-7h0m1 2h0m2 2h0m0 5h0m4-5h0m2-2h0m0-2h0m-48 16h0m8 2h0m0-3h0m0 1h0m1-3h0m2 3h0m1-4h0m1 2h0m0 5h0m1-3h0m0 4h0m0-5h0m2 3h0m2-1h0m2-5h0m0 1h0m1 3h0m6 4h0m0-2h0m9-6h0m5 1h0m16 1h0m-57 11h0m11 6h0m25-7h0" stroke="#A07030" stroke-width="2.0" stroke-linecap="round" fill="none"/>
<text x="409.5" y="1279.5" font-size="8.2" text-anchor="middle" font-family='"Liberation Sans",sans-serif' font-weight="bold" fill="#222">UMAP1</text>
<text transform="translate(327.6,1223.9) rotate(-90)" font-size="8.2" font-weight="bold" text-anchor="middle" font-family="Liberation Sans" fill="#222">UMAP2</text>
<path d="M514.9 1159V1270.6H669.6" stroke="#555" stroke-width="0.8" fill="none"/>
<ellipse cx="556.5" cy="1173" rx="7.5" ry="6.9" transform="rotate(0 556.5 1173)" fill="#CDCDD4"/><ellipse cx="612" cy="1199" rx="16.5" ry="4.8" transform="rotate(-15 612 1199)" fill="#CDCDD4"/><ellipse cx="550" cy="1252" rx="21" ry="10.5" transform="rotate(0 550 1252)" fill="#CDCDD4"/><path transform="scale(.5)" d="M1099 2327h0m12-4h0m1 2h0m3-3h0m-23 14h0m7-2h0m1 0h0m1 4h0m3-4h0m0 3h0m2-5h0m1 3h0m1-1h0m0 2h0m0-4h0m1 7h0m2-11h0m0 6h0m3-1h0m0 2h0m0 2h0m1 0h0m0 0h0m0 1h0m1-4h0m0 5h0m1-8h0m0 2h0m1 3h0m1 1h0m0-6h0m0-1h0m0 7h0m3-6h0m0 7h0m0-1h0m0 2h0m2-7h0m1 6h0m0-1h0m0-1h0m1 0h0m1-2h0m0 2h0m2 2h0m2 1h0m0-5h0m2-2h0m-42 18h0m1-9h0m5 6h0m0 1h0m2-7h0m2 7h0m2-3h0m0-5h0m0 1h0m1-1h0m0 8h0m0-4h0m0 2h0m1-2h0m0 0h0m0-2h0m0 9h0m1-10h0m1 5h0m0 3h0m0-4h0m0 1h0m1 3h0m0-8h0m0 7h0m0 0h0m1-1h0m0-1h0m0 0h0m0-4h0m1-1h0m0 1h0m0 1h0m1 7h0m1-3h0m0 3h0m0-6h0m0 3h0m1 3h0m0-3h0m0-2h0m1-5h0m0 3h0m0 6h0m0-4h0m0-2h0m1 7h0m0-10h0m0 8h0m0-5h0m0-2h0m0 5h0m0 1h0m1-4h0m0 3h0m0 5h0m0-1h0m1-6h0m0 1h0m0-2h0m0 0h0m0 2h0m0 6h0m1-9h0m0 0h0m0 7h0m0-8h0m1 7h0m0 0h0m0 0h0m0-4h0m0 6h0m0-2h0m0-8h0m0 11h0m1-5h0m0 3h0m0 2h0m1-4h0m0 0h0m0-6h0m0 3h0m1 6h0m0 1h0m1-6h0m0 3h0m0-3h0m1-5h0m0 9h0m0-4h0m1-4h0m1 9h0m1-5h0m1 5h0m0-7h0m2 0h0m1-2h0m1 6h0m0 4h0m1-2h0m0 1h0m1-4h0m1-2h0m1 5h0m2-7h0m0 7h0m5 2h0m-50 7h0m1 4h0m0-4h0m1-5h0m2 1h0m0 9h0m4-8h0m1 3h0m0-5h0m1 5h0m2 0h0m0-6h0m1 11h0m0-6h0m1 6h0m1-5h0m0-1h0m0 0h0m1-4h0m1-1h0m1 5h0m0-5h0m2 0h0m1 2h0m0 1h0m0 2h0m0 1h0m0 3h0m4-8h0m0 2h0m0 1h0m1-3h0m0 5h0m0 2h0m0-7h0m1 9h0m2-8h0m0 6h0m0-4h0m1-2h0m0 8h0m1-7h0m0-1h0m2 3h0m0 1h0m0 2h0m0 1h0m1-4h0m0 3h0m0 3h0m3-4h0m0-1h0m0 1h0m1 0h0m0-1h0m1 2h0m0-1h0m0-4h0m1 7h0m1 0h0m1 1h0m1-11h0m2 4h0m0 4h0m1-6h0m0 4h0m0 0h0m1-4h0m0 7h0m0-4h0m0 4h0m1-7h0m0 6h0m1-3h0m6 3h0m0-6h0m0 8h0m1-8h0m0 9h0m2-4h0m1-1h0m1-4h0m0 7h0m0-1h0m0 2h0m2-2h0m0 1h0m0-3h0m8 5h0m1-9h0m1 5h0m2 3h0m3-2h0m3 1h0m2 2h0m8-6h0m-79 8h0m2 1h0m0 1h0m1 8h0m1-10h0m0 2h0m0 8h0m1-8h0m1 0h0m0 4h0m3-6h0m0 5h0m1-6h0m1 0h0m2 3h0m0 4h0m1-4h0m0-3h0m0 3h0m1 1h0m0 0h0m2-1h0m2 2h0m1 1h0m0 4h0m1-6h0m1-2h0m0-1h0m0 9h0m0-7h0m1 0h0m0 4h0m1-5h0m1-1h0m0 7h0m2-1h0m1-5h0m0 6h0m1-2h0m0-1h0m0 0h0m1-2h0m0 2h0m2-5h0m2 7h0m1-4h0m2 7h0m1-7h0m0 5h0m1-8h0m0 2h0m1-1h0m0 6h0m1-6h0m0 5h0m1-6h0m0 1h0m0 3h0m1 0h0m0-4h0m1 0h0m1 0h0m0 3h0m1 3h0m0 0h0m0 0h0m1 0h0m1-1h0m0-1h0m0 6h0m3-8h0m0 3h0m1-5h0m1 4h0m0 0h0m1 3h0m0-5h0m4 4h0m3-3h0m0 3h0m2-5h0m0 1h0m2 0h0m5-2h0m0 2h0m0 7h0m2-6h0m2-2h0m1 8h0m3-7h0m0 2h0m-121 19h0m1-2h0m3 0h0m1 0h0m0 0h0m0 0h0m1 0h0m1 0h0m0 0h0m0 2h0m1-1h0m0-1h0m2 0h0m0-2h0m0 3h0m0-1h0m2 1h0m3 1h0m3-1h0m18-10h0m3 9h0m6-6h0m0 2h0m2 0h0m0-2h0m1 1h0m1-3h0m0 8h0m1-6h0m0-3h0m1 7h0m0 1h0m1-6h0m0 7h0m0-1h0m0-6h0m1 4h0m1-3h0m1 5h0m0-4h0m0 5h0m1-1h0m0-2h0m1 2h0m0-5h0m0-2h0m1 5h0m0-5h0m1 9h0m0-3h0m0-1h0m1 0h0m0-2h0m1-1h0m0-1h0m1 6h0m0-8h0m0 11h0m0-5h0m1 4h0m2-6h0m0 2h0m2-4h0m1 7h0m0-9h0m1 11h0m2-10h0m23 2h0m62 2h0m1 6h0m6-1h0m1 1h0m2-1h0m2-5h0m1 5h0m2-3h0m2 1h0m1 2h0m2-4h0m1 2h0m2 2h0m0-4h0m1-2h0m2 5h0m2-4h0m4 4h0m1-3h0m0-2h0m5 7h0m3-4h0m0 4h0m3-7h0m13 4h0m4-3h0m12 0h0m-225 7h0m38 0h0m4 5h0m1 0h0m1 0h0m1-4h0m1 1h0m0 2h0m1 3h0m1-2h0m0-4h0m0 1h0m1 6h0m0-5h0m0 3h0m3-5h0m1-1h0m0 4h0m1-3h0m2 9h0m0-5h0m1-3h0m2 1h0m0 4h0m2-6h0m1 2h0m7 1h0m62 5h0m3 2h0m1 0h0m1-5h0m1 1h0m1-1h0m1-4h0m0 9h0m1-3h0m0 1h0m2 0h0m0 0h0m1-5h0m0 6h0m0-2h0m2-7h0m0 8h0m2 0h0m0 0h0m1-5h0m1 4h0m0 2h0m1-10h0m0 7h0m1-2h0m0 2h0m2-6h0m1 6h0m0 2h0m0-3h0m1 3h0m0-5h0m1 2h0m0 0h0m0-5h0m1 8h0m1-5h0m2 3h0m0-1h0m1 3h0m0-1h0m0 0h0m1-7h0m0 7h0m0-3h0m0-2h0m1 2h0m0 3h0m0 2h0m0 1h0m0-10h0m0 4h0m1 5h0m2-9h0m1 0h0m0 6h0m0 1h0m1-1h0m0-2h0m0-3h0m0 5h0m1 3h0m0 0h0m0-5h0m0 4h0m1-7h0m0 0h0m0 3h0m1-1h0m0 3h0m1-2h0m1-3h0m1 6h0m1-8h0m0 11h0m0-1h0m1-4h0m2 0h0m1-4h0m0 9h0m1-6h0m0 4h0m1-5h0m0 4h0m0-1h0m2 2h0m0 2h0m0-11h0m1 6h0m1 1h0m1 3h0m1-4h0m2 0h0m1 3h0m3 1h0m2-2h0m-157 7h0m2 2h0m15-1h0m29 7h0m2-1h0m2-1h0m0 0h0m1-1h0m0 2h0m0 0h0m1 1h0m1-3h0m0 2h0m1 0h0m0 1h0m20-10h0m1 4h0m0-1h0m4 0h0m2 0h0m1-4h0m1 9h0m1-2h0m3 1h0m2-3h0m1 0h0m0 5h0m1-6h0m3 5h0m0-3h0m1-4h0m1 4h0m0-2h0m0 7h0m1-7h0m2 5h0m0-4h0m1 3h0m0 1h0m1-2h0m0-7h0m1 8h0m0-8h0m1 8h0m0-6h0m0 9h0m1-9h0m0 7h0m0 0h0m0-7h0m0 5h0m1-4h0m0 7h0m0-10h0m1 0h0m0 0h0m0 8h0m0-2h0m1-2h0m1 2h0m1 3h0m0-3h0m0-3h0m0-3h0m1 3h0m1 1h0m1-3h0m0 4h0m0-3h0m1-2h0m0 2h0m0 2h0m1 5h0m0 0h0m1-8h0m2 4h0m2-4h0m0-1h0m1 5h0m0 4h0m1-8h0m0 3h0m1 0h0m1 1h0m1-3h0m0 0h0m1 6h0m1 0h0m1-5h0m0-3h0m2 10h0m0-9h0m0 9h0m1-9h0m1-1h0m0 2h0m1 3h0m0-4h0m0 4h0m1-5h0m1 1h0m0 0h0m0 0h0m0 10h0m1-6h0m1-4h0m0-1h0m1 1h0m2 3h0m1-4h0m1 5h0m0-5h0m0 1h0m0 3h0m1-2h0m3 1h0m1 0h0m5-2h0m16 0h0m-181 21h0m73-4h0m2-4h0m0 0h0m7 6h0m8-8h0m5 1h0m4 4h0m3-3h0m6 0h0m0 1h0m5-2h0m3 3h0m12-1h0m1-2h0m0 0h0m2 0h0m0 5h0m4 3h0m9-4h0m1 0h0m0 0h0m1 5h0m3-4h0m2-3h0m0 4h0m1-7h0m1 9h0m0 2h0m-195 8h0m1 4h0m7-11h0m3 11h0m0-2h0m2 2h0m1-3h0m1 3h0m2 0h0m1-4h0m20-3h0m1-3h0m0 5h0m4 4h0m0-1h0m5 1h0m0 1h0m0-3h0m1-2h0m1 3h0m0-5h0m2 1h0m1 5h0m3-3h0m4 4h0m6 0h0m0-2h0m113 2h0m3-8h0m1-3h0m0 9h0m1-2h0m2-5h0m0 2h0m0-3h0m1 8h0m1-2h0m0 4h0m0-11h0m1 1h0m0 3h0m1 0h0m0 3h0m2-1h0m1-2h0m0-1h0m1 7h0m0-6h0m1 7h0m1-10h0m1 1h0m0 1h0m1-2h0m0 7h0m2-1h0m0 1h0m2 3h0m2-10h0m31 10h0m19-1h0m1 0h0m14 1h0m-271 4h0m1 7h0m1-10h0m0 0h0m2 8h0m0-2h0m0 0h0m1-5h0m0 10h0m1-1h0m1-4h0m0 3h0m0-5h0m2 0h0m1 2h0m0-5h0m0 4h0m1 4h0m0 1h0m0 0h0m0-10h0m0 6h0m0 0h0m1-1h0m0 0h0m1 0h0m0-5h0m1 8h0m0-2h0m0 2h0m0-4h0m1 0h0m0-4h0m2 11h0m0-5h0m0-4h0m0 1h0m0 1h0m1 1h0m0 3h0m0-8h0m1 9h0m1-3h0m0 3h0m0-9h0m0 0h0m1 5h0m1-4h0m0 4h0m0-2h0m0 5h0m1-5h0m1-1h0m2 0h0m1 9h0m2 0h0m5-1h0m0-5h0m4 5h0m2-1h0m1-7h0m1 6h0m1-2h0m2-3h0m1-1h0m0 6h0m0 0h0m1-8h0m2 5h0m0 1h0m0-1h0m0-1h0m1 4h0m1 2h0m0-5h0m0-1h0m0 4h0m0-5h0m1 2h0m1-2h0m0 1h0m1 7h0m0-2h0m1-8h0m0 5h0m0-4h0m2 3h0m0 6h0m0-3h0m1-2h0m0-6h0m2 6h0m0-2h0m3-3h0m1 7h0m1 1h0m1 0h0m0-2h0m1 4h0m1-7h0m31 6h0m4-1h0m5-1h0m3-4h0m0 1h0m5-3h0m0 6h0m4-7h0m5 2h0m59 5h0m0-8h0m0 9h0m0-4h0m1-2h0m1 1h0m1-3h0m0-1h0m1 4h0m0 3h0m0-3h0m0 7h0m0-10h0m4 5h0m0 2h0m1-2h0m0-1h0m1 3h0m0 2h0m0-3h0m0-3h0m1-4h0m1 0h0m0 11h0m1-10h0m0 0h0m1 4h0m0 6h0m2-6h0m1 5h0m0 1h0m0-11h0m1 0h0m0 8h0m2-5h0m18 5h0m9 1h0m0 1h0m1-6h0m4 1h0m1 3h0m0-1h0m2-6h0m1 9h0m0-1h0m1-3h0m1 1h0m0 0h0m1-2h0m5 6h0m0-2h0m0 2h0m0-6h0m2 4h0m1-5h0m0 7h0m1-10h0m0 6h0m0 4h0m2-4h0m0-1h0m1-6h0m0 10h0m0-6h0m1 1h0m0-3h0m2-1h0m0 4h0m0 1h0m0 4h0m2-2h0m0 2h0m2-4h0m0 0h0m1-1h0m1-1h0m0 3h0m1 2h0m1 2h0m1-7h0m2 6h0m0-3h0m3-7h0m1 5h0m0-3h0m10 7h0m-284 11h0m1-5h0m4 2h0m2-4h0m2-1h0m0 0h0m4 0h0m1 5h0m0-4h0m2 2h0m0-3h0m1 2h0m0-2h0m0 3h0m2 0h0m1-1h0m0-2h0m0 6h0m0-5h0m1 3h0m0 2h0m3-6h0m3 3h0m17 1h0m1-2h0m2 1h0m3 0h0m2 1h0m1 0h0m1 1h0m3 4h0m0-1h0m2-5h0m1 2h0m2 2h0m5-2h0m1-5h0m1 1h0m21 10h0m0 0h0m2-2h0m1 1h0m1-1h0m1 1h0m0-4h0m0 5h0m0-8h0m1 5h0m1 0h0m0-4h0m0 4h0m2 3h0m1-5h0m0-1h0m1-4h0m0 6h0m0 4h0m0 0h0m3-10h0m0 7h0m0-7h0m1 3h0m1 1h0m2 1h0m71-4h0m4 5h0m1 1h0m2-2h0m1-6h0m0 9h0m2-9h0m1 0h0m0 1h0m1 8h0m4-7h0m2 3h0m1 4h0m2-8h0m2 4h0m1-5h0m0 1h0m23 0h0m11 3h0m12-4h0m0 3h0m0-1h0m2 0h0m1 4h0m2-6h0m1 2h0m5 0h0m3-1h0m1 3h0m1 1h0m2-3h0m2-2h0m-255 12h0m18 10h0m15-10h0m5 1h0m0 10h0m6-3h0m8 3h0m3-11h0m11 9h0m1 2h0m3-3h0m2-2h0m2 1h0m1 3h0m0-2h0m1-6h0m0 4h0m0-5h0m1 2h0m0-2h0m0 4h0m1-1h0m0 2h0m0-4h0m0 5h0m0-4h0m0-3h0m1 4h0m1 1h0m1-5h0m8 0h0m1 0h0m83 8h0m9-8h0m-219 17h0m33 4h0m4 2h0m5 0h0m7-1h0m1-1h0m1-1h0m12-2h0m3 4h0m3-1h0m1-2h0m1 3h0m6-4h0m5 1h0m2-4h0m3 1h0m4 7h0m3-9h0m3 8h0m2-1h0m6-7h0m0 9h0m5-10h0m0 5h0m2 3h0m6 2h0m6-10h0m34 6h0m44-3h0m2-2h0m2-1h0m29 10h0m-230 9h0m20 2h0m1 0h0m4 1h0m1-6h0m1-3h0m1 7h0m5-1h0m1 0h0m3-1h0m1 2h0m6 1h0m0-7h0m0 4h0m1-3h0m0 4h0m0-3h0m0 5h0m1-9h0m1 8h0m1 2h0m1-9h0m1-2h0m1 11h0m0-1h0m0-1h0m1-2h0m1-4h0m0 2h0m1 4h0m3 1h0m0-3h0m1 2h0m1-1h0m1-5h0m0 7h0m1-5h0m0 6h0m0-8h0m0 1h0m0 3h0m2-4h0m1 8h0m0-5h0m2-4h0m0 5h0m0-6h0m1 10h0m0-8h0m3 4h0m0 1h0m1-8h0m0 1h0m0 0h0m0 5h0m2 2h0m0 1h0m2 0h0m0-5h0m1 6h0m0-9h0m0 7h0m0-7h0m1 0h0m0 10h0m1-10h0m1 6h0m1-2h0m0-2h0m1-1h0m4 3h0m0-3h0m1-1h0m1 3h0m2 1h0m0 3h0m1-5h0m0 3h0m0-5h0m1 2h0m2 0h0m0-1h0m0 4h0m2 3h0m1-1h0m0-5h0m1 0h0m1 8h0m0-2h0m0-4h0m4 5h0m0-9h0m1 6h0m0-5h0m1 1h0m1 6h0m3-4h0m5-1h0m5-2h0m2 9h0m1-4h0m1-1h0m5-1h0m0 5h0m3-8h0m4 0h0m7 9h0m54-4h0m0 4h0m1 0h0m0-3h0m1-2h0m1-3h0m1 3h0m0 1h0m0 3h0m1-6h0m0 1h0m0-1h0m0 5h0m0-5h0m1-2h0m0 4h0m1-1h0m0 6h0m0 0h0m1-6h0m0 2h0m1-4h0m2 2h0m0 0h0m0 5h0m0-7h0m4 2h0m8 3h0m1 3h0m6-3h0m2 2h0m4-2h0m5 3h0m5-5h0m2 3h0m0 2h0m14-5h0m-247 12h0m9-1h0m0 1h0m1-1h0m3-2h0m0 2h0m3 0h0m2-5h0m5 10h0m2-10h0m0 5h0m3-4h0m2 6h0m1 3h0m0-2h0m1-6h0m0-1h0m1 5h0m0-5h0m2 8h0m0-2h0m2 1h0m0 0h0m0-6h0m1 7h0m1 0h0m2-4h0m2 1h0m1-6h0m0 9h0m1-6h0m0 4h0m0-4h0m2 2h0m1 0h0m0 3h0m1-6h0m0 5h0m0 4h0m1-5h0m0 1h0m0 1h0m1 1h0m1-5h0m0 7h0m0-5h0m0-4h0m0 8h0m1-6h0m0 2h0m0 4h0m1-10h0m1 6h0m0 5h0m0-2h0m1-8h0m0 4h0m0 5h0m0-1h0m1 2h0m1-2h0m1 1h0m0 1h0m1-10h0m0 1h0m1 5h0m0-1h0m1 2h0m0 3h0m0-11h0m1 2h0m0-1h0m0 7h0m1-3h0m1 2h0m0-1h0m1 5h0m0-1h0m1-9h0m0 6h0m0 1h0m0-6h0m0 9h0m1-9h0m0 2h0m0 0h0m0 7h0m1-5h0m1 1h0m0-4h0m1 3h0m0 2h0m1-1h0m0-6h0m0 9h0m0 0h0m0-5h0m1-4h0m0 7h0m0 1h0m1 1h0m1-2h0m0 2h0m3-8h0m0 0h0m2 1h0m0-3h0m1 11h0m1-10h0m0 8h0m0-9h0m1 4h0m1 3h0m2 3h0m1 0h0m0-5h0m0 2h0m0 3h0m1-10h0m0 7h0m2-7h0m0 3h0m1 6h0m0-1h0m0-4h0m0-4h0m1 9h0m0 1h0m3-3h0m0 0h0m1 0h0m0 4h0m1-5h0m6 5h0m5-2h0m7-6h0m1 1h0m0 3h0m4-6h0m4 2h0m60 3h0m0-4h0m1 7h0m1-1h0m0-7h0m0 6h0m3-1h0m0-3h0m0 3h0m0 1h0m1-1h0m0-5h0m0-1h0m0 4h0m1 1h0m1 2h0m1 0h0m0-2h0m1-5h0m0 0h0m1 4h0m2 2h0m1-4h0m0 6h0m1-7h0m0 8h0m1-3h0m1 3h0m0-1h0m2-5h0m0 2h0m1 6h0m2-3h0m0 3h0m0-1h0m1 1h0m2-4h0m0-2h0m0 1h0m1 1h0m0 2h0m1-3h0m0 2h0m1 1h0m1 1h0m0 0h0m0-10h0m1 3h0m0 3h0m0 4h0m1-8h0m1 9h0m1-4h0m3 2h0m0-2h0m2 2h0m2-4h0m1 3h0m4 2h0m1-4h0m0 1h0m10 2h0m0-6h0m0 2h0m5 4h0m7-5h0m-250 11h0m1 8h0m3-6h0m5-4h0m4 10h0m0-3h0m1-8h0m1 3h0m3-2h0m2 8h0m2-8h0m4 7h0m0-2h0m1-4h0m0 8h0m0-10h0m1 5h0m3 1h0m3-6h0m0 4h0m1 1h0m0 3h0m1-1h0m2-1h0m0 0h0m2 4h0m0-3h0m1 3h0m0-10h0m0 7h0m1-4h0m0 1h0m0-4h0m0 4h0m0 3h0m1-2h0m1-4h0m3 10h0m1-8h0m2 8h0m1 0h0m0-11h0m0 0h0m2 6h0m1-2h0m0-4h0m0 1h0m0 1h0m1-1h0m0 2h0m0 8h0m0-7h0m1 1h0m0 2h0m1-4h0m0-2h0m1 1h0m0 2h0m1 6h0m0-9h0m1 7h0m0 0h0m0-8h0m1 8h0m0-7h0m0 4h0m1 2h0m0-2h0m0-1h0m1 3h0m0-6h0m2 5h0m0-1h0m0 3h0m1-8h0m1 7h0m2 1h0m0-6h0m0 0h0m1 3h0m1 2h0m0 3h0m0-9h0m1 4h0m0-3h0m0 2h0m0 5h0m1-4h0m1-4h0m0 2h0m1 5h0m0 1h0m0 1h0m0-5h0m1-2h0m0-2h0m0 0h0m2 9h0m4-10h0m3 1h0m0-1h0m1 4h0m0 5h0m0-1h0m0-4h0m1 6h0m1-3h0m3 1h0m0-1h0m0-2h0m0-3h0m1 1h0m1-2h0m1 7h0m1-2h0m0 5h0m1-9h0m0 1h0m0 4h0m1 3h0m4-7h0m2 3h0m2-4h0m0 6h0m0-6h0m1 3h0m0 1h0m1 0h0m5-5h0m6 5h0m2-4h0m19 3h0m37 1h0m0-2h0m2 2h0m1-4h0m0 5h0m5 3h0m1-10h0m1 5h0m2-5h0m1 7h0m0 2h0m1 1h0m1 0h0m0 0h0m0-10h0m1 6h0m0-3h0m1-1h0m1 0h0m2-1h0m0 3h0m0-1h0m0-3h0m3 3h0m0 4h0m0-1h0m1-2h0m1 3h0m0 3h0m0-1h0m0-1h0m1-6h0m1 3h0m0-1h0m0 3h0m0-3h0m1 2h0m0-4h0m0-1h0m0 6h0m1-6h0m0 3h0m1 6h0m1-8h0m0-2h0m2 11h0m0-7h0m2-4h0m0 11h0m0 0h0m0-5h0m0-6h0m1 4h0m0 0h0m0 2h0m4 1h0m0 1h0m1-6h0m0 4h0m2 2h0m0-8h0m1 10h0m1-3h0m1 1h0m1-1h0m2-4h0m1 3h0m3 3h0m0-3h0m1-1h0m2 0h0m0-2h0m3 8h0m0-11h0m2 5h0m4-1h0m-226 8h0m17 1h0m5 5h0m2 1h0m2 1h0m0-1h0m2-3h0m4-3h0m1-1h0m3 1h0m1 6h0m1-5h0m2 5h0m5-6h0m2 4h0m2-4h0m0 0h0m0 9h0m1-8h0m0 6h0m0-5h0m1 8h0m1-11h0m3 5h0m5-2h0m2-2h0m1 2h0m3 5h0m9-7h0m4 5h0m3-5h0m2 9h0m1-8h0m2 2h0m9 2h0m4-5h0m6 2h0m0-1h0m3-2h0m60 5h0m4-2h0m2-2h0m1 1h0m0 5h0m2-7h0m2 11h0m1-11h0m1 3h0m2-1h0m1-1h0m1 6h0m4-7h0m1 1h0m2 10h0m2-8h0m4 7h0m4-7h0m0 2h0m1 6h0m0-8h0m2 3h0m5-4h0m-187 10h0m0 0h0m18 2h0m6 2h0m1-4h0m3 8h0m5-1h0m11-5h0m6 6h0m34-7h0m69 1h0m9 0h0m12 3h0m30-1h0m-199 9h0" stroke="#CDCDD4" stroke-width="2.6" stroke-linecap="round" fill="none"/><path transform="scale(.5)" d="M1113 2326h0m20 1h0m-48 6h0m8-3h0m4 8h0m8 0h0m8-5h0m3-3h0m0 6h0m2 0h0m0 1h0m4-1h0m4-1h0m1-3h0m0 7h0m5-7h0m2-4h0m0 3h0m-5 20h0m-26 2h0m7-1h0m0 10h0m2-9h0m3-1h0m93 32h0m14 3h0m1-6h0m0 5h0m4 0h0m3-1h0m1-2h0m1 2h0m3-1h0m0 0h0m2 0h0m6-1h0m7 0h0m1 0h0m2 3h0m2-3h0m11 2h0m3 2h0m0-2h0m-143 4h0m0 10h0m86-10h0m4 1h0m1 1h0m1 7h0m2-5h0m3-5h0m0 8h0m2-5h0m1 2h0m1-3h0m0 8h0m1 0h0m2-5h0m1 3h0m1 2h0m1-4h0m1 2h0m1-2h0m0 2h0m1-3h0m1 1h0m1 0h0m0-2h0m0 3h0m3-2h0m1 6h0m1-3h0m2-3h0m1-1h0m1-4h0m1 4h0m1-2h0m0 5h0m4 3h0m0-3h0m2 0h0m1-4h0m1 1h0m4 0h0m5 0h0m7 4h0m12-8h0m-169 17h0m3-2h0m11-3h0m79 1h0m12-1h0m19 0h0m1 7h0m5-7h0m5 1h0m5-1h0m11 0h0m0 2h0m-40 18h0m3-3h0m2 5h0m1-9h0m-10 17h0m1-2h0m3 1h0m3 2h0m1 4h0m4-1h0m39 8h0m4-3h0m1 0h0m7 5h0" stroke="#5A46B8" stroke-width="2.4" stroke-linecap="round" fill="none"/>
<text x="597.2" y="1279" font-size="8.2" text-anchor="middle" font-family='"Liberation Sans",sans-serif' font-weight="bold" fill="#222">UMAP1</text>
<text transform="translate(509.8,1213) rotate(-90)" font-size="8.2" font-weight="bold" text-anchor="middle" font-family="Liberation Sans" fill="#222">UMAP2</text>
<text x="667.1" y="1179.8" font-size="7.4" text-anchor="start" font-family='"Liberation Sans",sans-serif' font-weight="bold" fill="#222">TIA1</text>
<text x="669.6" y="1195.7" font-size="5.9" text-anchor="start" font-family='"Liberation Sans",sans-serif' font-weight="bold" fill="#222">Expr.</text>
<rect x="670.1" y="1199.6" width="9" height="47.2" fill="url(#gk)"/>
<text x="682.1" y="1210.8" font-size="5.2" text-anchor="start" font-family='"Liberation Sans",sans-serif' fill="#333">3</text>
<text x="682.1" y="1223.4" font-size="5.2" text-anchor="start" font-family='"Liberation Sans",sans-serif' fill="#333">2</text>
<text x="682.1" y="1236" font-size="5.2" text-anchor="start" font-family='"Liberation Sans",sans-serif' fill="#333">1</text>
<text x="682.1" y="1248.6" font-size="5.2" text-anchor="start" font-family='"Liberation Sans",sans-serif' fill="#333">0</text>
<text x="414.2" y="1305.7" font-size="9.2" text-anchor="middle" font-family='"Liberation Sans",sans-serif' font-weight="bold" fill="#111">HCC (133 samples, 152790 cells)</text>
<path d="M332.6 1302.2V1402.9H491.9" stroke="#555" stroke-width="0.8" fill="none"/>
<ellipse cx="394" cy="1330" rx="15" ry="6" transform="rotate(-4 394 1330)" fill="#5CB848" fill-opacity="0.6"/><ellipse cx="374" cy="1334.5" rx="6.6" ry="5.7" transform="rotate(0 374 1334.5)" fill="#30A070" fill-opacity="0.6"/><ellipse cx="438" cy="1341" rx="11.7" ry="14.2" transform="rotate(0 438 1341)" fill="#E066C0" fill-opacity="0.6"/><ellipse cx="420" cy="1339" rx="4.5" ry="3.6" transform="rotate(0 420 1339)" fill="#C8642E" fill-opacity="0.6"/><ellipse cx="468" cy="1359" rx="13.5" ry="5.1" transform="rotate(0 468 1359)" fill="#B8B0E0" fill-opacity="0.6"/><ellipse cx="347" cy="1355.5" rx="6" ry="7.5" transform="rotate(0 347 1355.5)" fill="#7090C0" fill-opacity="0.6"/><ellipse cx="370" cy="1358" rx="8.2" ry="5.7" transform="rotate(0 370 1358)" fill="#E06040" fill-opacity="0.6"/><ellipse cx="452" cy="1389" rx="9.8" ry="6.3" transform="rotate(0 452 1389)" fill="#3A78B8" fill-opacity="0.6"/><ellipse cx="366" cy="1382" rx="20.2" ry="10.5" transform="rotate(0 366 1382)" fill="#DCA45A" fill-opacity="0.6"/><ellipse cx="376" cy="1385.5" rx="12.8" ry="6.3" transform="rotate(0 376 1385.5)" fill="#C8642E" fill-opacity="0.6"/><ellipse cx="360" cy="1381" rx="11.2" ry="7.5" transform="rotate(0 360 1381)" fill="#A07030" fill-opacity="0.6"/><path transform="scale(.5)" d="M761 2637h0m-11 11h0m3 3h0m4-5h0m0 4h0m1 0h0m0 1h0m1-6h0m0 3h0m2-1h0m2 4h0m0-3h0m2-3h0m1 5h0m2-8h0m0 8h0m2 0h0m1-3h0m1 0h0m1 2h0m2 0h0m1 0h0m0 1h0m0-8h0m0 7h0m1 1h0m1 1h0m2-1h0m0-7h0m1-2h0m0 8h0m0 1h0m1 0h0m1-2h0m0-6h0m1 0h0m0 3h0m0 3h0m0-2h0m1 3h0m0 2h0m1-2h0m0 1h0m0 1h0m1-6h0m1 5h0m0-2h0m0-5h0m1 6h0m0 1h0m0-3h0m0 3h0m0-1h0m2-1h0m1 0h0m0 1h0m0-8h0m2 4h0m0 4h0m1-5h0m0 4h0m0 3h0m0-6h0m1 1h0m1 5h0m0-1h0m1-1h0m0-2h0m0 4h0m1-7h0m0 7h0m1-10h0m0 10h0m1-2h0m0 2h0m0-2h0m1 2h0m0-1h0m2 0h0m1-8h0m0 7h0m2-5h0m0-1h0m1 7h0m3 1h0m0-11h0m1 1h0m0 9h0m6-7h0m1 2h0m1 3h0m10 1h0m1 0h0m1-1h0m6 3h0m6-2h0m14 2h0m-128 6h0m6 2h0m1-2h0m5-4h0m1 0h0m0 8h0m1 1h0m4-7h0m4 3h0m1 1h0m1 1h0m1-5h0m1-1h0m0 9h0m1-1h0m1-6h0m0 0h0m1 3h0m1-6h0m0 1h0m1 7h0m1-3h0m0 5h0m0-11h0m0 10h0m1-3h0m0-7h0m0 11h0m0-5h0m0 4h0m1-10h0m0 9h0m0-6h0m2 1h0m0 0h0m0 4h0m1-8h0m0 3h0m0 2h0m1 3h0m0-7h0m1 10h0m0-7h0m0 3h0m0 4h0m1-2h0m0-2h0m0-3h0m0 4h0m0 3h0m0-2h0m0-1h0m0-2h0m0 4h0m1-3h0m0-6h0m1 9h0m0-9h0m0 2h0m0 7h0m0 0h0m1 0h0m0-6h0m0 7h0m0-5h0m0 5h0m0-9h0m0-2h0m1 10h0m0-6h0m0 0h0m1 1h0m0-3h0m1 4h0m0 2h0m0-5h0m0 8h0m0-9h0m1 0h0m0 6h0m0-3h0m0-5h0m0 5h0m0-3h0m1 9h0m1 0h0m0-2h0m0 2h0m0-5h0m0 0h0m0-5h0m0 8h0m0-7h0m0 2h0m1 2h0m0 0h0m0-5h0m0 10h0m0 0h0m0-5h0m0-2h0m0 4h0m1-2h0m0 5h0m0-3h0m0 0h0m1 3h0m0-11h0m1 10h0m0 0h0m0-9h0m0 4h0m0 6h0m0-11h0m1 7h0m0 3h0m0-3h0m0-5h0m0 5h0m1-3h0m0-4h0m0 2h0m1 4h0m0-3h0m0 3h0m0-6h0m0 3h0m0 8h0m0-5h0m0-1h0m0 4h0m0 1h0m0-5h0m0-1h0m0 6h0m0-10h0m1 4h0m0-1h0m0 8h0m0-2h0m0 2h0m0-3h0m0-6h0m0 6h0m1 0h0m0 3h0m0 0h0m0-9h0m0 0h0m0 6h0m0 0h0m0 1h0m1-6h0m0 5h0m0-7h0m0 9h0m0 1h0m0 0h0m0-9h0m0 5h0m0-7h0m0 9h0m0 1h0m0-6h0m1 6h0m0 0h0m0-2h0m0-7h0m1 3h0m0 6h0m0-8h0m0 3h0m0 6h0m0-8h0m0 3h0m1 1h0m0-3h0m0 5h0m0 1h0m0-4h0m0 4h0m1 0h0m0-6h0m0-3h0m0 10h0m0-4h0m0-3h0m0 2h0m1 2h0m0 1h0m0 0h0m0-2h0m0-4h0m0 7h0m0-2h0m0 0h0m0 1h0m0 0h0m1-6h0m0 8h0m0-10h0m0 5h0m0 0h0m0-2h0m1 1h0m0-5h0m0 3h0m0 1h0m0 0h0m0-1h0m0-3h0m0 10h0m0 0h0m0-1h0m0 2h0m1-6h0m0 5h0m0-4h0m0 0h0m0 5h0m1-2h0m0 0h0m0-5h0m0 4h0m0-4h0m0 3h0m0 4h0m1-2h0m0 0h0m0-5h0m0 0h0m0 6h0m1-2h0m0 0h0m0-2h0m0-3h0m1 0h0m0 6h0m1-2h0m0 3h0m0-6h0m0-1h0m0 7h0m0 0h0m0-3h0m1 1h0m0 2h0m0-2h0m0-4h0m0 2h0m0-5h0m0 2h0m1 8h0m0-11h0m0 11h0m0 0h0m0-7h0m1 2h0m0-5h0m1 3h0m0-3h0m0 10h0m0-1h0m0-8h0m0-1h0m1 4h0m0-5h0m0 2h0m0 7h0m0 2h0m1-4h0m0 2h0m0-8h0m0 2h0m1 0h0m1 5h0m0-3h0m0 5h0m0 0h0m1-2h0m0-3h0m0 0h0m0-4h0m0-1h0m0 0h0m1 5h0m0 5h0m1-3h0m0 0h0m0 0h0m0-2h0m0 0h0m0 0h0m1 3h0m0 3h0m1-9h0m0 1h0m1 8h0m1-1h0m0-8h0m0 2h0m0-1h0m1 3h0m0 4h0m1-6h0m1 4h0m0 0h0m1 3h0m0-11h0m0 1h0m1 7h0m0-2h0m1 1h0m0 0h0m3-3h0m0-1h0m1 2h0m1 0h0m0-2h0m1-2h0m1 10h0m1-10h0m2 8h0m2 0h0m2-7h0m2 9h0m1-2h0m1 2h0m-104 1h0m4 3h0m1 6h0m2-8h0m2 3h0m1-2h0m0-1h0m0 4h0m5-3h0m2 2h0m0 7h0m0-4h0m1-1h0m2-6h0m0 0h0m0 2h0m3-1h0m1 1h0m1 5h0m2-5h0m0 1h0m1-1h0m0 0h0m0 6h0m1 0h0m0 2h0m0-8h0m1 4h0m0-5h0m0 4h0m0 0h0m1-5h0m0 7h0m0-4h0m0-1h0m0 3h0m1 0h0m0-4h0m1 0h0m1 4h0m0-5h0m0 5h0m1 2h0m0-7h0m0 4h0m1-1h0m0-2h0m0 1h0m0 8h0m0-10h0m0 11h0m0-8h0m0 1h0m0-3h0m0-1h0m1 3h0m0-3h0m1 6h0m1-6h0m0 1h0m1 1h0m0-2h0m1 3h0m0 8h0m1-9h0m0 3h0m0-4h0m0-1h0m1 7h0m1-7h0m0 0h0m0 10h0m0-2h0m0-3h0m0-1h0m1 1h0m0 1h0m0-1h0m0-5h0m0 9h0m1-8h0m0 0h0m0 4h0m0-3h0m0 1h0m0 7h0m1-5h0m0 2h0m0-6h0m0 0h0m1 3h0m0 7h0m0-11h0m0 10h0m0-7h0m1 5h0m0-7h0m0-1h0m1 1h0m0 5h0m0 0h0m0-2h0m1 5h0m0-7h0m0 2h0m0 1h0m0-1h0m1 4h0m0-6h0m1 2h0m0-4h0m0 3h0m0 3h0m1-4h0m0 3h0m0 3h0m1-7h0m0 10h0m1-3h0m1 2h0m0-8h0m0-2h0m0 4h0m1 4h0m0-3h0m1-4h0m0 2h0m0-3h0m1 1h0m0 2h0m1-3h0m1 4h0m0-1h0m1 5h0m0-7h0m1-1h0m0 1h0m0-1h0m1 3h0m1-3h0m0 5h0m0-3h0m1 2h0m1-4h0m0 4h0m0 0h0m0 0h0m0-4h0m0 5h0m2-5h0m0 1h0m1 7h0m0-7h0m0 1h0m1-1h0m0 1h0m0-1h0m1 1h0m0 4h0m1-5h0m1 6h0m1-3h0m1-1h0m0-3h0m0 2h0m1 0h0m2 2h0m1-3h0m5-1h0m21 9h0m-108 11h0m7-7h0m2-1h0m2 4h0m10-4h0m8 1h0m11 2h0m1 2h0m0-3h0m4 0h0m1 1h0m3 1h0m7-3h0m1 1h0m7 2h0m3-3h0m7 0h0" stroke="#5CB848" stroke-width="2.0" stroke-linecap="round" fill="none"/><path transform="scale(.5)" d="M743 2650h0m0-1h0m7 2h0m1-1h0m-54 13h0m3 0h0m0-1h0m2 1h0m4 0h0m2 0h0m1 0h0m1 0h0m1-1h0m1 0h0m5 0h0m2 0h0m8 1h0m4-1h0m2 0h0m3-3h0m0-3h0m0 3h0m1 2h0m0-3h0m0-1h0m0-2h0m1 7h0m0 0h0m0-1h0m1 2h0m0-2h0m1 2h0m1-3h0m0-2h0m1-3h0m0 2h0m0 0h0m0 3h0m0 1h0m0 0h0m1 0h0m1 0h0m0-1h0m0-3h0m0 6h0m1-5h0m0-2h0m1 4h0m0-3h0m1 4h0m0-6h0m1 5h0m0-3h0m1 6h0m0 0h0m0 0h0m0-3h0m1 1h0m0 2h0m1-2h0m0 0h0m1-4h0m0 6h0m0-9h0m1 9h0m0-2h0m1 0h0m0 1h0m0-2h0m1 1h0m0 1h0m1-4h0m1 5h0m1-2h0m0-4h0m0 0h0m4 0h0m1 5h0m0-3h0m0 3h0m5 1h0m-70 1h0m6 1h0m1 0h0m0-1h0m1 1h0m1 0h0m1 1h0m3-1h0m1-1h0m1 0h0m1 0h0m1 1h0m0 0h0m1 0h0m3-1h0m1 0h0m4 0h0m1 0h0m2 0h0m1 9h0m1-4h0m0 4h0m1-3h0m0-6h0m1 9h0m0 2h0m0-8h0m2 3h0m1 3h0m1 0h0m0-4h0m0-2h0m0 0h0m1 5h0m0-3h0m0 2h0m0-7h0m1 9h0m0-2h0m0 1h0m0-2h0m0-1h0m0 3h0m1-4h0m0 1h0m0 4h0m1-2h0m1 3h0m0-1h0m0-3h0m0-2h0m1-4h0m0 7h0m0 0h0m0-2h0m0-1h0m0 3h0m1-6h0m0 8h0m0-4h0m1 2h0m0-3h0m0 3h0m0-5h0m0 3h0m0 6h0m1-3h0m0-3h0m0 2h0m0-7h0m0 10h0m0-4h0m1 4h0m0-2h0m0-5h0m0 6h0m0 1h0m0 1h0m0-9h0m0 6h0m1-3h0m0-5h0m0 6h0m0-5h0m0 2h0m0 8h0m0-7h0m0-1h0m1 1h0m0 4h0m0-2h0m0-3h0m1-2h0m0 5h0m0 5h0m0-8h0m0 4h0m0-7h0m1 5h0m0 1h0m0 0h0m0 0h0m0 4h0m0-2h0m0 3h0m1-7h0m0-1h0m0 1h0m0 6h0m1-9h0m0 3h0m0-4h0m0 3h0m0 7h0m0-3h0m0-4h0m0 3h0m0 4h0m1-6h0m0 7h0m0-5h0m0 0h0m0-1h0m0-2h0m0 3h0m1 2h0m0 3h0m0-6h0m0 2h0m0 0h0m0 3h0m0-10h0m0 8h0m1-1h0m0-2h0m0 3h0m0-1h0m0 0h0m0-1h0m0-4h0m0-1h0m0 7h0m1 0h0m0 1h0m0-7h0m0 7h0m0-4h0m0 0h0m0 1h0m0 4h0m0-10h0m0 5h0m1-3h0m0-2h0m0 5h0m0 0h0m0-1h0m1 1h0m0 2h0m0-5h0m0 5h0m1 4h0m0-2h0m0-1h0m0-8h0m0 3h0m0 6h0m1 0h0m0-9h0m0 10h0m0-6h0m1 6h0m0-10h0m0 5h0m0-4h0m1-1h0m1 5h0m0-4h0m0 3h0m1 0h0m0-3h0m1 7h0m2-1h0m0-7h0m0 10h0m3 1h0m-38 2h0m4 2h0m2 0h0m2-3h0m1 2h0m0-1h0m0 3h0m1 3h0m0-4h0m1 0h0m0-3h0m0 2h0m0-2h0m1 3h0m0 3h0m0-1h0m1 0h0m0 1h0m0-4h0m0-1h0m0 4h0m1-5h0m0 4h0m0 1h0m0-2h0m1-2h0m0 1h0m1-1h0m1 3h0m0-4h0m0 2h0m0-2h0m0 1h0m1 2h0m0 1h0m0-4h0m1 4h0m0-3h0m2 1h0m0-2h0m0 1h0m0-1h0m0 0h0m1 9h0m0-9h0m1 0h0m3 0h0m1 3h0m1-2h0m0 7h0m1-8h0m1 0h0m1 2h0m0 1h0m0 4h0m-5 6h0" stroke="#30A070" stroke-width="2.0" stroke-linecap="round" fill="none"/><path transform="scale(.5)" d="M803 2687h0m-12 6h0m1-1h0m0 1h0m1 1h0m0-2h0m0 1h0m1 0h0m1-2h0m1 5h0m0-4h0m0 1h0m1 1h0m0-3h0m0 2h0m0-3h0m0 0h0m2 2h0m0-3h0m3 4h0m0 0h0m1 0h0m0-3h0m0 0h0m2 3h0" stroke="#1E6420" stroke-width="2.0" stroke-linecap="round" fill="none"/><path transform="scale(.5)" d="M886 2621h0m-57 18h0m23-6h0m3 0h0m12 6h0m5 0h0m18-4h0m8 0h0m14 3h0m-60 12h0m5-7h0m2 7h0m0-7h0m3 8h0m0-5h0m2 3h0m0 2h0m2 0h0m3-5h0m6 0h0m0 0h0m0-5h0m1 9h0m0-3h0m2 2h0m0-5h0m1 6h0m4-1h0m1-7h0m0 6h0m0-5h0m1 4h0m1-3h0m0 4h0m1 0h0m0-7h0m1 8h0m2-1h0m2-5h0m7 3h0m4 2h0m7 3h0m1-3h0m5-8h0m-76 18h0m5 3h0m0 2h0m1-7h0m1 5h0m2-5h0m5 1h0m2 3h0m0 3h0m2-9h0m0 7h0m1-6h0m0 7h0m1-4h0m0 1h0m1 4h0m0-9h0m0 9h0m2-3h0m0 3h0m1-8h0m1 4h0m0-3h0m1 4h0m1-5h0m0 3h0m0-6h0m0 5h0m0-5h0m0 6h0m1 3h0m0-9h0m1 4h0m1 2h0m0 3h0m1-8h0m1 9h0m0-10h0m0 11h0m0-2h0m1-8h0m1 9h0m0 1h0m0-1h0m0-7h0m1 3h0m0 4h0m1-3h0m0-1h0m1-3h0m0 7h0m1-10h0m0 5h0m1-1h0m1 6h0m0-2h0m0-2h0m0 0h0m1-1h0m0 1h0m0 2h0m0 2h0m0-6h0m2 4h0m0 3h0m2-3h0m0 3h0m0 0h0m1 0h0m0-3h0m1-2h0m0 2h0m0 3h0m1-4h0m0-3h0m1 6h0m0-6h0m1 5h0m1-2h0m0 3h0m1-7h0m0 8h0m1 0h0m0-11h0m1 10h0m0-1h0m0-1h0m0-1h0m1 2h0m1-6h0m0 7h0m1-2h0m1-3h0m0 3h0m8-7h0m2 2h0m0 7h0m2-5h0m-74 15h0m0-4h0m2 2h0m1 1h0m5-2h0m2 4h0m0 0h0m2 2h0m2-7h0m4 3h0m0-3h0m0-1h0m1 2h0m1 5h0m0-9h0m0 10h0m1-6h0m0 2h0m0 0h0m1 4h0m0 0h0m0-5h0m0 2h0m1-1h0m0 2h0m0-9h0m0 2h0m0 0h0m1 6h0m1-4h0m0 6h0m0-10h0m1 0h0m0 1h0m1 4h0m1 5h0m0-8h0m0 8h0m1-5h0m0 6h0m0-4h0m0-2h0m1-5h0m0 8h0m0-1h0m1-3h0m0 1h0m0 1h0m0-6h0m0 4h0m1 7h0m0-1h0m0-9h0m0 9h0m1-10h0m0 0h0m0 9h0m0-9h0m0 8h0m0 0h0m0 0h0m1-7h0m0 2h0m0 8h0m0-5h0m0-1h0m0 0h0m0-5h0m0 9h0m2-5h0m0-4h0m0 4h0m0-3h0m0 3h0m0-3h0m0-1h0m0 10h0m1-9h0m0 5h0m0-1h0m0 5h0m1 1h0m0-4h0m0-1h0m0 5h0m1-8h0m0-3h0m0 2h0m0 7h0m0-7h0m0-2h0m0 11h0m2-11h0m0 1h0m0 1h0m0 9h0m0-2h0m0-1h0m0 3h0m1-8h0m0 8h0m0-5h0m1 4h0m0-5h0m0 3h0m0-8h0m0 5h0m0-4h0m2 8h0m0-9h0m0 6h0m0-3h0m0 4h0m0 3h0m1-7h0m1 6h0m0 1h0m0-9h0m0 2h0m1 5h0m0 1h0m0-2h0m1 2h0m1-4h0m0 1h0m0 4h0m0-4h0m1 5h0m0-6h0m0-2h0m0 7h0m0 1h0m1-9h0m1 9h0m0-7h0m0-2h0m1 2h0m0-1h0m0-2h0m0 7h0m0-2h0m1 3h0m0 1h0m0 0h0m1-1h0m0-3h0m0-6h0m1 4h0m0-2h0m0 1h0m0 4h0m1-6h0m0 6h0m0-7h0m0 6h0m1 0h0m0 2h0m0 0h0m0 0h0m1 3h0m0-6h0m0-1h0m1-4h0m0 7h0m1 0h0m1 3h0m1-1h0m1-9h0m0 9h0m1-8h0m0 9h0m4-4h0m0-1h0m8 4h0m-79 14h0m2-5h0m2 1h0m0 2h0m3 0h0m1-5h0m1 6h0m4-6h0m0-1h0m0 0h0m2 3h0m2-6h0m1 11h0m0-7h0m1 0h0m1 5h0m0-6h0m1 8h0m0-3h0m1-8h0m0 11h0m0-10h0m0 9h0m1-10h0m0 8h0m1-1h0m0 0h0m1-7h0m0 11h0m0-4h0m0-1h0m0 3h0m1-4h0m0 0h0m0-3h0m0 2h0m1 6h0m0-9h0m0 7h0m0-7h0m1 8h0m1 0h0m0-5h0m0-2h0m0 0h0m0 4h0m0-3h0m0 0h0m0 2h0m0-3h0m0 2h0m1 6h0m0-1h0m0 0h0m0-7h0m0 1h0m0 6h0m1 0h0m0-9h0m0 5h0m0-1h0m0 1h0m0 3h0m0-2h0m0-6h0m0 3h0m0-2h0m1 4h0m0-3h0m0 8h0m0 1h0m0-3h0m0-7h0m0 7h0m0-2h0m1 0h0m0 1h0m1 4h0m0-1h0m0 1h0m1-2h0m0-3h0m0 1h0m1-4h0m0 3h0m0-5h0m1 7h0m0-8h0m0 10h0m0-1h0m0-3h0m0 1h0m0 4h0m0-7h0m0 2h0m0 1h0m1-5h0m0 6h0m0 1h0m1 2h0m0-1h0m0-4h0m0 5h0m0-8h0m0 6h0m0-1h0m0-5h0m1 2h0m0 3h0m0-7h0m1 10h0m0-10h0m0 5h0m1-2h0m0 5h0m0-5h0m0 5h0m1-1h0m0-6h0m0 8h0m1-7h0m0 6h0m0-4h0m0 4h0m0-4h0m0 4h0m1-5h0m0 3h0m0-2h0m0 1h0m1 3h0m0 2h0m0-11h0m1 3h0m0 3h0m0-2h0m0-4h0m0 3h0m1-3h0m0 5h0m0-5h0m0 0h0m1 9h0m0-2h0m0-1h0m0 2h0m1 1h0m0-6h0m0-1h0m0 5h0m0-1h0m1-6h0m0 8h0m0-6h0m1 3h0m0 0h0m0-3h0m0 4h0m0-3h0m1 7h0m0-6h0m1 3h0m0-6h0m0 0h0m0 0h0m0 5h0m1-1h0m0 0h0m0-3h0m0 4h0m1 0h0m0-3h0m1-1h0m0 1h0m1 7h0m0-10h0m0 3h0m0 7h0m0-3h0m0-3h0m1 3h0m0-4h0m0 5h0m3-2h0m0 0h0m0-4h0m1 9h0m0-6h0m0-5h0m0 3h0m1 1h0m0-3h0m1 1h0m0 0h0m0 1h0m1 8h0m0 0h0m2-7h0m1 1h0m2-2h0m3-2h0m5-1h0m1 10h0m4-9h0m9 5h0m-91 9h0m1 3h0m2 4h0m5-6h0m0-4h0m1 8h0m1-3h0m3 2h0m0-5h0m1-2h0m1 0h0m1 2h0m0 9h0m2-9h0m0 1h0m1-1h0m1 0h0m0 4h0m1 3h0m0-8h0m1 3h0m0 0h0m0 5h0m1-3h0m1 4h0m0 0h0m0-9h0m1 1h0m0 2h0m1-1h0m0-2h0m0 10h0m1-6h0m2-3h0m0-1h0m2 0h0m1 5h0m0-6h0m0 10h0m0-10h0m0 5h0m0 0h0m1-5h0m0 6h0m1-5h0m0 3h0m0 2h0m0-3h0m1-1h0m0 1h0m0 0h0m0 5h0m0-2h0m1 2h0m0 3h0m0-6h0m1-4h0m0 1h0m0 3h0m0 1h0m1 1h0m0 1h0m0-4h0m1-1h0m0 1h0m0 6h0m0-3h0m0 4h0m0-11h0m1 6h0m0-1h0m0-2h0m1 4h0m0-5h0m1 5h0m0-2h0m0-1h0m0 7h0m0-7h0m0 3h0m0-4h0m0 2h0m0-3h0m1-1h0m0 1h0m0 8h0m0-5h0m1 0h0m0-4h0m0 8h0m0 2h0m0-2h0m0 2h0m1-7h0m0 2h0m0-5h0m0 4h0m0 6h0m0-1h0m0-8h0m0-2h0m1 11h0m0-3h0m0-6h0m0 8h0m0-6h0m0-2h0m1 2h0m1-3h0m0 3h0m0 3h0m0 1h0m0-1h0m0-7h0m0 7h0m1-2h0m0 0h0m1 4h0m0-3h0m0-2h0m0-2h0m1 2h0m0-3h0m0 0h0m0 4h0m0-3h0m1 0h0m0-1h0m0 3h0m0-3h0m1-1h0m0 9h0m0 0h0m1-6h0m0-2h0m0 6h0m0-6h0m2 9h0m1-5h0m0-3h0m0 7h0m0 2h0m1-9h0m0 2h0m0 3h0m1-7h0m2 5h0m2 3h0m0-7h0m1-1h0m2 2h0m2-1h0m0 1h0m1 3h0m1 3h0m1-6h0m1 2h0m1 3h0m8-6h0m-90 21h0m2-8h0m11 1h0m6-1h0m2 6h0m2-8h0m1 4h0m2 1h0m1-4h0m0 4h0m1-1h0m1 6h0m0-5h0m0-2h0m0-1h0m3 1h0m1 1h0m0 4h0m0 0h0m1-8h0m0 8h0m1 0h0m0-1h0m1 2h0m1-5h0m0 2h0m1 5h0m0-8h0m1 0h0m0 3h0m1 2h0m0-5h0m2-2h0m0 10h0m1-9h0m0-2h0m0 5h0m0 2h0m0-1h0m1 0h0m0 1h0m0-6h0m1 6h0m0-6h0m0 8h0m1-7h0m0-1h0m1 3h0m0 0h0m0 0h0m0-1h0m0 5h0m0 1h0m1-9h0m0 5h0m1-3h0m1 4h0m0 2h0m2 0h0m0-7h0m0-1h0m1 10h0m0-4h0m0-5h0m0 3h0m1-1h0m0 1h0m0-2h0m1-2h0m0 10h0m0-10h0m0 9h0m1-3h0m2 1h0m0-2h0m1-3h0m0 9h0m0-6h0m1-5h0m0 0h0m1 1h0m1 4h0m1-4h0m0 7h0m1-1h0m0-2h0m1 6h0m0-11h0m1 10h0m0-2h0m4-6h0m0 8h0m1-1h0m0-1h0m1-1h0m0 3h0m1-10h0m1 4h0m1-2h0m3 0h0m8 6h0m-72 7h0m4 7h0m3-5h0m2 2h0m1-3h0m2 6h0m4-7h0m7 5h0m0-4h0m1 4h0m4-8h0m0 2h0m0 5h0m1-4h0m3-2h0m0 4h0m1-5h0m2 3h0m1 0h0m0 0h0m0 5h0m5-2h0m2-5h0m0 5h0m0 2h0m3 1h0m0-8h0m2 0h0m1 5h0m4 2h0m2-1h0m1-5h0m0-1h0m2 6h0m2-4h0m15-2h0m-59 18h0m7-6h0m2 0h0m7 9h0m3-9h0m1 0h0m8-1h0m4 1h0m4 0h0m9 1h0m-16 27h0" stroke="#E066C0" stroke-width="2.0" stroke-linecap="round" fill="none"/><path transform="scale(.5)" d="M831 2674h0m3 1h0m1-1h0m1-2h0m0-1h0m0 4h0m1-6h0m0 6h0m1-1h0m0-3h0m1-7h0m0 10h0m0-6h0m1 6h0m0 1h0m0-1h0m0 1h0m0-4h0m1 0h0m0 4h0m0-8h0m1 5h0m0-4h0m1 2h0m2-6h0m0 10h0m0 1h0m1-3h0m1 2h0m1-1h0m0 1h0m0-3h0m0 3h0m7 1h0m-31 7h0m1-4h0m1-1h0m2 4h0m3-1h0m0 1h0m2-4h0m1 2h0m0 0h0m0 1h0m0 4h0m1-8h0m0 1h0m0 7h0m0-2h0m0-2h0m0-4h0m0 4h0m1-2h0m0 3h0m0 0h0m0 2h0m1-5h0m1 0h0m0 0h0m0 3h0m0-4h0m0 3h0m1 3h0m0-2h0m0 0h0m0-5h0m1 10h0m0-10h0m1 5h0m0-1h0m0 0h0m0 2h0m0-5h0m1-1h0m0 7h0m0-7h0m0 1h0m0 9h0m1-8h0m0 1h0m0-2h0m0 2h0m0 3h0m1-2h0m0-4h0m2 0h0m0 8h0m0 3h0m0-11h0m0 0h0m1 2h0m0-2h0m1 8h0m0-3h0m0-2h0m1-2h0m0 1h0m1 4h0m0 0h0m1-1h0m0 0h0m0-3h0m2 1h0m2 5h0m-21 6h0m6-2h0m1 1h0m2 4h0m-103 54h0m-47 9h0m11-3h0m11 5h0m14 0h0m2-1h0m0-9h0m7 11h0m7 0h0m0-2h0m0 1h0m0 1h0m1-4h0m1 1h0m1 3h0m0-1h0m0 1h0m1-4h0m1 4h0m0-5h0m1 1h0m1 3h0m0 0h0m4 0h0m2-8h0m2 1h0m1 8h0m4 0h0m0-3h0m2 3h0m0 0h0m0-3h0m2 1h0m1-1h0m0 1h0m1-5h0m0 0h0m0 6h0m2-5h0m0 4h0m1 1h0m0 0h0m1 1h0m2-1h0m1-4h0m2 0h0m4 5h0m1-1h0m-87 3h0m20 5h0m1 3h0m1-3h0m2 0h0m0-1h0m0-1h0m0 0h0m1 6h0m0-7h0m0 4h0m2-6h0m0 6h0m0 2h0m0-6h0m1 8h0m0-6h0m1-2h0m0 8h0m1-5h0m0-3h0m0 7h0m0-1h0m1 0h0m0-7h0m0 0h0m0 5h0m1-3h0m0 5h0m2-4h0m2 4h0m0-2h0m0 1h0m0 2h0m1-8h0m0 7h0m0-1h0m0 3h0m1-1h0m0-2h0m0-7h0m1-1h0m1 10h0m0 1h0m1-3h0m0 1h0m0-7h0m0-2h0m1 7h0m0 1h0m1-2h0m1-2h0m0 1h0m0 5h0m1 0h0m0-4h0m0 3h0m1 0h0m0-6h0m0 7h0m0-1h0m0-5h0m1-3h0m0 2h0m0 7h0m0-4h0m1 2h0m0-3h0m0 3h0m0-3h0m1 6h0m0-4h0m0 4h0m0-1h0m0-2h0m0-3h0m1 6h0m0-1h0m0-6h0m0 3h0m0-4h0m0 3h0m1-1h0m0 3h0m0 0h0m0-1h0m0-4h0m0-1h0m1 7h0m0 1h0m0-1h0m0 0h0m0-8h0m1 7h0m0-4h0m0 2h0m1 2h0m0 2h0m0 0h0m0-4h0m0 4h0m0-1h0m1 1h0m0-4h0m0-3h0m0-2h0m0 7h0m0-5h0m0 7h0m1-1h0m0-2h0m0-2h0m0 0h0m0 4h0m1-7h0m0 8h0m0-3h0m0-1h0m0-6h0m1 7h0m0-3h0m0 3h0m0 1h0m1-6h0m0 7h0m0 0h0m0-2h0m0-7h0m0 9h0m0-8h0m1 2h0m0 6h0m0-8h0m0 0h0m0 8h0m0-5h0m1 5h0m0-1h0m0-5h0m0 1h0m1 6h0m0-10h0m0 7h0m0-4h0m0 7h0m0-6h0m0 2h0m1 2h0m1-7h0m0 10h0m0-9h0m0 9h0m0-6h0m0 4h0m0-5h0m1 2h0m0 2h0m0 2h0m0-3h0m0 2h0m0 0h0m0 1h0m1 0h0m0-1h0m0-9h0m0 7h0m0 1h0m0-2h0m1-1h0m0 4h0m0-1h0m0-5h0m0 6h0m0 0h0m0-6h0m0 5h0m0 2h0m1-8h0m0 5h0m0 0h0m0 4h0m0-2h0m0 1h0m1-4h0m0 5h0m0-8h0m0-3h0m1 8h0m0-4h0m1 6h0m1-6h0m1 4h0m0-2h0m0-4h0m0-2h0m0 5h0m0-3h0m1 7h0m1-3h0m0 1h0m1-2h0m1-4h0m0 7h0m2-2h0m0-5h0m0 8h0m0-3h0m0-2h0m1 5h0m0 2h0m0-2h0m0-3h0m1-6h0m0 10h0m0-2h0m0-7h0m1 9h0m1 0h0m2-6h0m2-2h0m2 9h0m0-6h0m2 1h0m2-1h0m2 2h0m8-7h0m2 10h0m-95 6h0m3 3h0m6 4h0m0-2h0m2 2h0m5-9h0m1 2h0m3 7h0m0-10h0m2 6h0m0-7h0m0 2h0m0 2h0m1-2h0m0 0h0m0 7h0m1-9h0m0 7h0m0-2h0m0-3h0m0 3h0m0 6h0m0-7h0m1 2h0m0-3h0m0 8h0m1-10h0m0 2h0m0-1h0m0 4h0m0 1h0m2-5h0m0 4h0m0-2h0m0-2h0m1-1h0m0 6h0m1 0h0m0-6h0m0 1h0m0 4h0m0-2h0m0 2h0m1 0h0m1 2h0m0-5h0m0 6h0m1-3h0m0-2h0m0 0h0m0-2h0m0 2h0m1 6h0m0-9h0m0 7h0m0-7h0m1 1h0m0 2h0m0-1h0m0-1h0m0 2h0m0 1h0m0-1h0m0 7h0m1-1h0m0-10h0m0 2h0m1-2h0m0 6h0m0 5h0m1-10h0m0 2h0m0 6h0m0-3h0m0 0h0m0 1h0m0 4h0m1 0h0m0-6h0m0-4h0m0 5h0m1-4h0m0 5h0m0 0h0m1-7h0m0 0h0m0 10h0m1-7h0m0-1h0m0 9h0m0-3h0m1-3h0m0 0h0m0 5h0m0-5h0m0-1h0m1 4h0m0 0h0m0-7h0m1 2h0m0 3h0m0 0h0m0 4h0m1-3h0m0-2h0m0-4h0m0 5h0m0 3h0m0-7h0m0-2h0m0 4h0m0 3h0m0 4h0m0-7h0m0 0h0m0-3h0m1 0h0m0 1h0m0 4h0m0 1h0m0-4h0m0-3h0m1 8h0m0-5h0m0 4h0m0-1h0m0 3h0m0-9h0m0 6h0m1-2h0m0 7h0m0-5h0m1-6h0m0 5h0m0 2h0m0-6h0m1 0h0m1 8h0m0 1h0m0-9h0m0 0h0m1 10h0m0-8h0m0 2h0m0-2h0m1-3h0m1 0h0m0 5h0m0 3h0m0-6h0m0 5h0m0-5h0m1 6h0m0-2h0m1 0h0m0-6h0m0 2h0m0 9h0m1-5h0m0-3h0m0-2h0m0 0h0m2 4h0m0-5h0m0 4h0m0-3h0m0 5h0m0-5h0m1 2h0m0-3h0m0 3h0m0-3h0m0 3h0m0-3h0m0 10h0m0-3h0m1-7h0m0 4h0m1-1h0m0 4h0m0-5h0m1 3h0m0-2h0m0 3h0m0-6h0m2 6h0m0 2h0m1-1h0m0-4h0m0-2h0m1 5h0m0 3h0m3-9h0m1 10h0m0-7h0m0 1h0m1-2h0m2 1h0m4 0h0m5-3h0m1 1h0m-77 18h0m5-5h0m7 0h0m1 0h0m1-1h0m4 10h0m1-6h0m2-4h0m4-1h0m5 3h0m1-1h0m6 1h0m0-3h0m0 2h0m1 2h0m0-3h0m0 1h0m2 3h0m3 2h0m0-4h0m0-1h0m1-2h0m3 0h0m3 0h0m2 5h0m30 3h0" stroke="#C8642E" stroke-width="2.0" stroke-linecap="round" fill="none"/><path transform="scale(.5)" d="M843 2710h0m2-7h0m0 8h0m3 0h0m4-1h0m1 1h0m0-1h0m5 0h0m2-1h0m1 1h0m1-2h0m5 3h0m0 0h0m2-1h0m0 0h0m2-1h0m2 1h0m3-6h0m0 3h0m4 4h0m1-6h0m1 6h0m8-1h0m10 1h0m-62 5h0m5-3h0m0 3h0m4-2h0m0 3h0m1-1h0m2 7h0m0-3h0m1-8h0m1 8h0m4-4h0m0 5h0m0-5h0m1 5h0m0-8h0m1 0h0m1 5h0m0-5h0m1 4h0m0 0h0m0 0h0m0 0h0m2-1h0m0-2h0m0 5h0m1 1h0m0-5h0m0 3h0m0-6h0m0 5h0m1 5h0m0-2h0m1-6h0m0-2h0m2 2h0m0-1h0m0 5h0m0-1h0m0-1h0m0-4h0m0 7h0m0-5h0m1 4h0m1-3h0m0 0h0m1 5h0m2 0h0m1-4h0m0 7h0m0-7h0m1-3h0m1 6h0m0-2h0m1-3h0m0 9h0m1-5h0m1-6h0m1 11h0m0-6h0m1 1h0m0 4h0m3-1h0m1-2h0m2 2h0m3 0h0m0-9h0m0 4h0m1 5h0m1-7h0m1 7h0m13-9h0m-47 13h0m8 1h0m10 0h0m0 1h0m6-1h0" stroke="#A0522D" stroke-width="2.0" stroke-linecap="round" fill="none"/><path transform="scale(.5)" d="M943 2697h0m-48 11h0m8-4h0m0 4h0m1-3h0m0 5h0m1 1h0m1-1h0m4 1h0m1 0h0m2-5h0m1 2h0m1 3h0m2-1h0m1-1h0m1-1h0m1 3h0m0-5h0m0 5h0m0-2h0m1-4h0m1 4h0m0-4h0m0 4h0m0 0h0m2 0h0m0-5h0m0 4h0m0-3h0m2 1h0m0 5h0m2-4h0m0 2h0m0-1h0m2-6h0m0 1h0m2 8h0m0-2h0m0 2h0m0-8h0m1 8h0m0 0h0m0-1h0m1-5h0m0 0h0m1 2h0m0 3h0m0 1h0m0-7h0m1 7h0m0 0h0m0-5h0m1 4h0m1-3h0m1 4h0m1-4h0m1 4h0m0-1h0m2-9h0m0 8h0m5 1h0m0 1h0m1-11h0m0 6h0m1 1h0m1-6h0m0 7h0m0 1h0m0 1h0m1-2h0m2 1h0m2 1h0m1 0h0m0-9h0m2 10h0m0-8h0m3 5h0m15 0h0m5-6h0m0 0h0m3 7h0m4-2h0m-97 15h0m6-10h0m2 5h0m0 4h0m1 1h0m3-5h0m1 1h0m1 1h0m1 0h0m0-1h0m1-1h0m1-2h0m1 0h0m0 5h0m1-2h0m0-1h0m0 4h0m0-7h0m0-2h0m0 9h0m0-8h0m1-1h0m0 11h0m1-8h0m0 1h0m0-3h0m0 9h0m2-4h0m0 0h0m1 0h0m0 1h0m1 1h0m0-4h0m0 4h0m0-1h0m0-6h0m0 5h0m0 0h0m0-5h0m0 6h0m0 4h0m1 0h0m0-8h0m0-2h0m0 6h0m1-5h0m0 5h0m0 0h0m0-3h0m1 1h0m0-3h0m0-2h0m1 6h0m0 0h0m0 1h0m1-3h0m0-4h0m0 4h0m1-2h0m0 8h0m0-3h0m1-1h0m0-5h0m0 2h0m0 0h0m0-3h0m0 9h0m0-3h0m1-5h0m0 7h0m0 3h0m0-2h0m0 1h0m0-8h0m1-1h0m0 9h0m0-8h0m0 9h0m0-3h0m0 0h0m0-6h0m0 9h0m1-3h0m0-5h0m0-2h0m0 3h0m0 6h0m0-5h0m0 2h0m1 1h0m0 2h0m0-1h0m1-6h0m0 2h0m0-3h0m0-1h0m0 5h0m1 0h0m0 4h0m0 1h0m0-8h0m0 8h0m0-7h0m0 7h0m0-3h0m0-4h0m0 7h0m1-5h0m0-1h0m0 0h0m0 0h0m0 2h0m0-5h0m0 7h0m1 1h0m0-5h0m0 6h0m0-9h0m0-1h0m0 10h0m0-11h0m0 10h0m0-1h0m1-3h0m0 2h0m0 2h0m0-3h0m0-6h0m0 1h0m0 5h0m0-6h0m0 8h0m0-1h0m0-4h0m1 3h0m0-6h0m0 8h0m1-2h0m0-6h0m0 1h0m0 7h0m1-5h0m0 7h0m1-8h0m0 7h0m0 0h0m0-10h0m1 7h0m0 0h0m0-1h0m0-3h0m0 8h0m0-4h0m1-7h0m0 11h0m0 0h0m1-10h0m0 9h0m0-1h0m0-3h0m0 3h0m0-1h0m1 3h0m0 0h0m0-5h0m0-1h0m0 0h0m0 3h0m1-6h0m0 3h0m0 4h0m0 0h0m0 2h0m1 0h0m0-11h0m0 3h0m1 4h0m0-3h0m0 4h0m0-3h0m1-2h0m0 1h0m0 5h0m1-7h0m0 5h0m0-3h0m0-1h0m0 0h0m0-2h0m1 1h0m0-2h0m0 6h0m0 1h0m0 2h0m1-3h0m0-1h0m1 0h0m0 2h0m0 0h0m0-1h0m0-6h0m1 7h0m0-2h0m0-3h0m0 5h0m0 3h0m1-8h0m0 0h0m0 5h0m1-1h0m0 0h0m0-4h0m0 5h0m0-1h0m0-3h0m0 5h0m0-5h0m0 0h0m1 8h0m0-6h0m0 4h0m0-2h0m1-6h0m0 7h0m0-7h0m0 1h0m0 2h0m1-1h0m0 4h0m0 1h0m1 0h0m1-2h0m0 3h0m0 2h0m0-3h0m0 3h0m0-6h0m1-4h0m0 6h0m1 4h0m0-2h0m0-4h0m1 5h0m0-7h0m0-2h0m2 5h0m0-2h0m1 2h0m0 3h0m0-8h0m1 6h0m0 2h0m1-4h0m0 6h0m1-5h0m2-1h0m3-4h0m2 2h0m0-2h0m2 5h0m2 2h0m0 0h0m1-3h0m1 0h0m1 2h0m-87 6h0m5 3h0m1-2h0m2-1h0m6 0h0m3 0h0m3 4h0m2 0h0m1-3h0m1 1h0m1 0h0m0-1h0m2-2h0m0 1h0m1 0h0m0 1h0m0-1h0m0 2h0m1 0h0m0-1h0m1 3h0m3 1h0m1-5h0m1-1h0m0 2h0m0 0h0m2 5h0m1-5h0m1-1h0m0 3h0m1-4h0m1 6h0m0-5h0m1 8h0m0-5h0m1 0h0m1-1h0m0-2h0m0 1h0m1 0h0m0 6h0m0-8h0m1 6h0m0-6h0m0 0h0m0 1h0m1-1h0m0 3h0m4 0h0m0-1h0m1 0h0m1-2h0m0 7h0m0-6h0m1 7h0m0-7h0m1 5h0m0 4h0m1-4h0m0-1h0m0-5h0m0 1h0m1-1h0m0 8h0m0-8h0m1 4h0m3-4h0m1 5h0m1-3h0m1-1h0m3 0h0m1 0h0m2 1h0m1 9h0m1-11h0m7 0h0m3 1h0m0 6h0m1 0h0m10-6h0m2 0h0m-66 13h0m6-2h0m13 1h0m10 1h0" stroke="#B8B0E0" stroke-width="2.0" stroke-linecap="round" fill="none"/><path transform="scale(.5)" d="M689 2687h0m1-7h0m11 4h0m-21 14h0m1-1h0m4 1h0m2-8h0m0 5h0m0 4h0m2-1h0m4 0h0m0-5h0m1 1h0m1 3h0m1 1h0m0 1h0m0-1h0m0-7h0m1 6h0m1-4h0m2-1h0m1 7h0m1-2h0m1-1h0m2 1h0m4-5h0m2 3h0m-35 12h0m2 0h0m3-7h0m0 4h0m1-3h0m0 0h0m1 1h0m0 5h0m0 2h0m0-8h0m0 7h0m1-7h0m0 9h0m0-3h0m0-7h0m0 3h0m0-3h0m1 1h0m0 4h0m0 6h0m0-6h0m0 5h0m0 0h0m0-2h0m1-7h0m1 5h0m0-2h0m0 4h0m1 1h0m0-9h0m0 5h0m0 1h0m2 5h0m0-7h0m0 3h0m0-6h0m1 6h0m0 2h0m0-4h0m0 3h0m0 1h0m0-7h0m1 8h0m0-1h0m0 0h0m1-2h0m0 1h0m0 1h0m1-7h0m0 7h0m0-2h0m0-6h0m0 1h0m0 7h0m0-7h0m0 5h0m0 2h0m1 0h0m0-9h0m0 8h0m0-8h0m1 6h0m0-1h0m0 3h0m0-4h0m1 5h0m0-6h0m0 2h0m0 2h0m0-3h0m0 4h0m0 2h0m0-5h0m1 1h0m0-2h0m0-4h0m0 1h0m0 7h0m1 2h0m0-10h0m0 9h0m0-8h0m0 3h0m1 3h0m0-7h0m0 10h0m0-2h0m3 2h0m0 0h0m0-4h0m2 2h0m0 3h0m0-11h0m1 5h0m1 2h0m2-2h0m0 5h0m1-2h0m0 1h0m1 2h0m-37 10h0m1-9h0m3 2h0m2 6h0m0-1h0m3-6h0m0-1h0m1 3h0m1 2h0m0 1h0m1 0h0m0-4h0m0 8h0m0-4h0m0 3h0m0-4h0m1-3h0m0-1h0m0 5h0m0 2h0m1 0h0m0 1h0m1 1h0m0-6h0m1 2h0m0-4h0m0-1h0m1 5h0m1-5h0m0-1h0m0 2h0m0 1h0m0 0h0m1-3h0m0 9h0m0-8h0m0-1h0m0 1h0m1 1h0m0 2h0m0-4h0m0 3h0m1 2h0m0-2h0m1-2h0m0 0h0m0 2h0m0 2h0m1 4h0m0-2h0m0-1h0m0 0h0m0-2h0m0-3h0m1 3h0m0 7h0m0-7h0m0-2h0m0 1h0m0-1h0m1-2h0m0 8h0m0-1h0m0-2h0m1-4h0m0 4h0m0-1h0m1 4h0m0-7h0m0 6h0m1-2h0m0-4h0m0 2h0m1 7h0m0-3h0m0-6h0m0 1h0m1 9h0m0-4h0m1 0h0m1-4h0m2 7h0m1-4h0m2-5h0m3 7h0m-47 15h0m11-5h0m5 2h0m1-8h0m3 5h0m2 2h0m1-7h0m0 0h0m1 0h0m1 6h0m0-3h0m2-3h0m1 1h0m3 0h0m0 4h0m2-3h0m1 7h0m0-7h0m5 1h0m1 0h0m-25 9h0m29 1h0" stroke="#7090C0" stroke-width="2.0" stroke-linecap="round" fill="none"/><path transform="scale(.5)" d="M730 2699h0m1-1h0m1-10h0m8 11h0m8 0h0m6-4h0m3 3h0m-45 6h0m2 6h0m9 0h0m1-7h0m0 3h0m1 0h0m1 1h0m0 0h0m0-5h0m1 9h0m0-10h0m1 0h0m0 4h0m0 3h0m1-4h0m0 1h0m1 6h0m0-3h0m0-3h0m1 1h0m0 5h0m0-3h0m1-4h0m0 4h0m1 2h0m0-5h0m0 4h0m1-1h0m0-4h0m1 3h0m0-3h0m0 1h0m0 6h0m0-2h0m0-1h0m1 1h0m0-4h0m0 4h0m0-3h0m1 3h0m0 2h0m0 0h0m0-4h0m0 3h0m0-2h0m1-2h0m0 5h0m0 0h0m1-2h0m0-2h0m0 1h0m0-1h0m0 2h0m0-1h0m2 1h0m0-4h0m1 1h0m0 5h0m0-1h0m1 0h0m0-2h0m0 0h0m1 2h0m0-5h0m0 1h0m0 5h0m1-3h0m0-5h0m0 8h0m1-6h0m0 4h0m0-3h0m0-1h0m1-3h0m0 6h0m0 1h0m1-5h0m0 6h0m0-2h0m0-4h0m0 6h0m0-2h0m1-1h0m0-1h0m0 0h0m0 2h0m0-1h0m1-5h0m1 0h0m1 9h0m1-1h0m1-1h0m1 2h0m0-1h0m0-8h0m0 8h0m2-2h0m0 0h0m0 3h0m0 0h0m1-6h0m1 1h0m0-1h0m2 6h0m0-3h0m0-2h0m2 4h0m1-6h0m1 7h0m-56 8h0m0-4h0m3 5h0m1-1h0m2-7h0m0 3h0m1-2h0m1 9h0m1-9h0m0-1h0m0 7h0m2-1h0m1 2h0m0-8h0m0 10h0m1-7h0m1-2h0m0 4h0m0 4h0m1-6h0m1-1h0m0 0h0m0 6h0m1-3h0m0 0h0m0 4h0m1-2h0m0-4h0m0-2h0m1 7h0m0-2h0m0-1h0m1 0h0m0-5h0m1 7h0m0 1h0m0 0h0m1-6h0m0 7h0m0 1h0m0-8h0m0 1h0m0 0h0m0-1h0m1 6h0m0-4h0m0 0h0m0 7h0m0-8h0m1-3h0m0 11h0m0-11h0m1 11h0m0-11h0m1 7h0m0-2h0m0 2h0m0-4h0m0 4h0m0 0h0m0 0h0m0 2h0m1 1h0m0-2h0m0 1h0m0-1h0m0-1h0m0-4h0m0-2h0m1 2h0m0 2h0m0 6h0m0-10h0m0-1h0m0 4h0m0 4h0m0-1h0m1-5h0m0 5h0m0 1h0m0 1h0m0-9h0m0 10h0m0-7h0m0 8h0m0-10h0m0 6h0m0-2h0m0 3h0m1-3h0m0 3h0m0-2h0m0-2h0m0 1h0m0 3h0m0 1h0m0-3h0m1-6h0m0 2h0m0 0h0m0 7h0m0 0h0m0-4h0m0-5h0m0 5h0m1-1h0m0 7h0m0-8h0m0 3h0m0 4h0m0-9h0m0 7h0m0-5h0m1-2h0m0-1h0m0 3h0m1 2h0m0 4h0m0-4h0m0-4h0m0 6h0m0 2h0m0-1h0m0-5h0m0 1h0m0-3h0m1 4h0m0-5h0m0 3h0m0 1h0m0-2h0m0 3h0m0 3h0m0-6h0m1 6h0m0 2h0m0 0h0m0-2h0m0-8h0m0 0h0m0 11h0m1-6h0m0-3h0m0 5h0m0-7h0m0 4h0m0-3h0m0 2h0m0 7h0m1-5h0m0-3h0m0 7h0m0-4h0m0-2h0m0 5h0m1-2h0m0-5h0m0 2h0m0 3h0m0 3h0m0-8h0m0 3h0m0-1h0m0 1h0m0 0h0m0-2h0m1 8h0m0-5h0m0 2h0m1 4h0m0-3h0m0-6h0m0 9h0m0-3h0m1-6h0m0 1h0m0-2h0m0 0h0m1 6h0m0-2h0m1 1h0m1-2h0m1-2h0m0 7h0m1-6h0m0-3h0m0 6h0m1 1h0m0-2h0m1 1h0m1-4h0m0 9h0m2-8h0m0 8h0m2-6h0m1-4h0m3 1h0m2-1h0m4 0h0m-53 20h0m3-9h0m1 8h0m1-6h0m1 7h0m0-3h0m3-1h0m0-5h0m1 1h0m0 0h0m2 8h0m2-4h0m0-4h0m3-1h0m2 0h0m0 3h0m1 4h0m0-7h0m1 0h0m0 4h0m1 1h0m2-5h0m0 4h0m0-2h0m0 0h0m1-2h0m0 7h0m0-2h0m1-4h0m0-1h0m0 11h0m1-3h0m0 0h0m2-2h0m0-5h0m0 2h0m0 0h0m0 0h0m0-3h0m0 5h0m0-1h0m0 5h0m2-4h0m0 6h0m1-7h0m0 0h0m1-4h0m0 4h0m1 1h0m0 5h0m0-5h0m0 3h0m1-1h0m1-5h0m1 1h0m5 4h0m1 4h0m-26 1h0m7 8h0m1-7h0m1 5h0m0-4h0m0 5h0m0 2h0m1-3h0m1-5h0m1 6h0m0-1h0m1-3h0m1-1h0m1 6h0m1 3h0m0-4h0m0 4h0m0-10h0m1 3h0m0-4h0m0 11h0m1-9h0m0 3h0m0 1h0m0-5h0m1 10h0m1-6h0m2-3h0m1 1h0m0-1h0m2 1h0m1-3h0m1 1h0m3 5h0m-23 9h0m3 2h0m2-1h0m1-3h0m1 7h0m1-6h0m0 6h0m0 0h0m0-7h0m2 2h0m1-2h0m-2 11h0m5 1h0m0-1h0" stroke="#E06040" stroke-width="2.0" stroke-linecap="round" fill="none"/><path transform="scale(.5)" d="M794 2711h0m4-3h0m5 0h0m4-1h0m2 3h0m-35 13h0m4-2h0m3-3h0m0 3h0m1-4h0m0 3h0m0 0h0m2-1h0m0 4h0m0 0h0m1-5h0m0 2h0m0-4h0m0 5h0m1-1h0m1-2h0m0 0h0m1 3h0m0-1h0m0-1h0m0-3h0m2 2h0m1 1h0m0-4h0m0-3h0m0 2h0m0 5h0m1-4h0m0 1h0m0 4h0m1-1h0m0-4h0m1 1h0m0-1h0m2 2h0m1-5h0m1 6h0m1-4h0m3-1h0m-38 21h0m0 0h0m0-3h0m4 3h0m1 1h0m1-10h0m0 7h0m1-7h0m1 2h0m0 1h0m1-3h0m0 6h0m0-5h0m1 2h0m1 3h0m1-5h0m1-2h0m1 2h0m1 2h0m1-4h0m1 1h0m0-1h0m0 2h0m1-2h0m1 1h0m3 0h0" stroke="#E87890" stroke-width="2.0" stroke-linecap="round" fill="none"/><path transform="scale(.5)" d="M863 2759h0m1-1h0m5-1h0m1-2h0m9 1h0m4-1h0m4 3h0m5 0h0m0 0h0m7 0h0m9-2h0m1 3h0m-62 6h0m3 2h0m2-6h0m1 1h0m1 7h0m0-9h0m1 5h0m0 2h0m1-3h0m0 2h0m1 1h0m1-6h0m2 7h0m0-7h0m2 6h0m0-7h0m0 10h0m1 1h0m0 0h0m1-2h0m0 0h0m1 2h0m0-2h0m0-1h0m1-5h0m0 3h0m0 1h0m0 3h0m2 0h0m0-5h0m0 0h0m1-1h0m0 1h0m0 5h0m2-2h0m1 1h0m1-2h0m0 1h0m0 1h0m1 1h0m0-7h0m0 1h0m0 5h0m0-5h0m1 7h0m1-8h0m1 7h0m0-6h0m1 4h0m0 3h0m1-3h0m1-2h0m0 1h0m0-4h0m1 4h0m0 4h0m0-9h0m1 4h0m0-5h0m1 5h0m0 3h0m0 0h0m0-2h0m2 2h0m1-3h0m0 2h0m2-2h0m0 2h0m0-7h0m1 5h0m0 0h0m0 2h0m0-1h0m0-7h0m1 7h0m1 4h0m0 0h0m1-5h0m0 2h0m0-1h0m1-2h0m0 4h0m0 2h0m0-2h0m1-3h0m1 1h0m0-1h0m0-6h0m0 7h0m1 0h0m1 4h0m1-8h0m0 0h0m0 7h0m1-3h0m0 0h0m0 1h0m0 1h0m1-4h0m0 0h0m0 0h0m0 4h0m1 1h0m0 0h0m0 0h0m1 0h0m0 1h0m0 0h0m0-7h0m1 5h0m0-1h0m1 0h0m0-5h0m1 8h0m0-4h0m0-2h0m1 4h0m0-1h0m0-1h0m0 0h0m0-5h0m0 8h0m1-9h0m0 4h0m0 5h0m0-5h0m0 0h0m1 5h0m0 1h0m0-10h0m0 8h0m0 2h0m1-2h0m0-3h0m1 2h0m0 3h0m1-4h0m0 0h0m0-5h0m2 8h0m0 1h0m0 0h0m0-3h0m1-1h0m0 0h0m0-1h0m1 5h0m0-3h0m0-2h0m0 4h0m0 0h0m2 1h0m0 0h0m0-3h0m1-2h0m1-1h0m1 1h0m0-3h0m1-2h0m4 7h0m3-4h0m0 5h0m3-2h0m2 1h0m2 3h0m6-3h0m-92 9h0m5 3h0m5-5h0m0 2h0m1 2h0m1-6h0m1 1h0m1 8h0m0-9h0m0 8h0m0-1h0m1-5h0m0 1h0m1-4h0m0 6h0m1 4h0m0-9h0m2 1h0m1 8h0m0-8h0m0 2h0m0-1h0m1 2h0m1 6h0m0-7h0m0 1h0m0-2h0m0 6h0m1-6h0m1 4h0m0-5h0m1-2h0m0 9h0m0-8h0m1 4h0m0 1h0m0-1h0m0 3h0m0-8h0m0 3h0m1-1h0m1 1h0m1 3h0m0-5h0m0 6h0m0-4h0m0-3h0m1 4h0m0 6h0m0-6h0m1 1h0m0 2h0m0 2h0m0-6h0m0 1h0m1 3h0m0-5h0m0 0h0m1 0h0m0 9h0m0-11h0m0 11h0m0-3h0m0-7h0m1 0h0m0 1h0m1 5h0m0-6h0m0 1h0m1 2h0m0 3h0m0 2h0m0-5h0m1 7h0m0-6h0m0-1h0m1-1h0m0 7h0m0-5h0m0 2h0m0 4h0m1-11h0m0 9h0m1 0h0m0-7h0m0-1h0m0-1h0m0 4h0m0-1h0m0-1h0m1-1h0m0 4h0m0 0h0m0-5h0m0 0h0m1 11h0m0-9h0m0 9h0m0-8h0m0-3h0m0 11h0m0-4h0m1 1h0m0-8h0m0 5h0m0 3h0m0 2h0m1-7h0m0 6h0m0 1h0m0-6h0m0-2h0m0-2h0m0 9h0m0-5h0m1 6h0m0-5h0m0 1h0m0-3h0m0 0h0m1 7h0m0-9h0m0 7h0m0 3h0m0-8h0m0 7h0m0-4h0m0 2h0m0-7h0m0 9h0m0-2h0m1-5h0m0-3h0m0 6h0m0 0h0m0 5h0m0-3h0m0-2h0m0-4h0m0 2h0m0 3h0m0-3h0m1 1h0m0 1h0m0 0h0m0 4h0m0 0h0m0-10h0m1 4h0m0 4h0m0-3h0m0 0h0m1-1h0m0-2h0m0 8h0m0-2h0m0 2h0m0-8h0m0 2h0m0-4h0m1 4h0m0 4h0m0-4h0m0 0h0m0 4h0m0-8h0m0 5h0m0-5h0m0 6h0m0-2h0m1 1h0m0-3h0m0 6h0m0 2h0m0-3h0m0 2h0m0-2h0m0 4h0m0-5h0m1 2h0m0 0h0m0-2h0m0 5h0m0 0h0m0-2h0m0-5h0m0 5h0m0 1h0m0-5h0m0 6h0m1-1h0m0-6h0m0 6h0m0-1h0m0-4h0m0-5h0m0 4h0m0 3h0m0 2h0m0-8h0m0 5h0m0 2h0m1-5h0m0 8h0m0-8h0m0 3h0m0-5h0m0 8h0m0-2h0m1 3h0m0 0h0m0-3h0m0-4h0m0 3h0m0 1h0m0-3h0m0-3h0m0 2h0m0 4h0m0 4h0m0-4h0m0 0h0m0 3h0m0-10h0m1 6h0m0 4h0m0 1h0m0-3h0m0-1h0m0-1h0m0-6h0m0 1h0m1 6h0m0 2h0m0 1h0m0-4h0m0-4h0m0 1h0m0 3h0m0-2h0m0 2h0m0-4h0m0 1h0m0-3h0m0 5h0m1 6h0m0-3h0m0-3h0m0 2h0m0-4h0m0 5h0m0-1h0m1 1h0m0-6h0m0 9h0m0-4h0m0-5h0m0 2h0m0 3h0m0 4h0m0-10h0m0 0h0m1 0h0m0 7h0m0 0h0m0-7h0m0 8h0m0-9h0m0 10h0m1-4h0m0 3h0m0-9h0m0 6h0m0-4h0m0 1h0m1 1h0m0 3h0m0-4h0m0 2h0m0 1h0m0-4h0m0 3h0m1 4h0m0 2h0m0 0h0m0-1h0m0 0h0m0-4h0m1 0h0m0 2h0m0 3h0m0-3h0m1 3h0m0-7h0m0 0h0m0-1h0m0 5h0m0 1h0m1-6h0m0 1h0m0-4h0m1 0h0m1 11h0m0-6h0m0 3h0m0-5h0m0 6h0m0-8h0m1 8h0m0-3h0m0-1h0m0 5h0m0-2h0m0-6h0m0 4h0m1 3h0m0-4h0m0-4h0m0 9h0m0 1h0m1-10h0m0 0h0m0 6h0m0-3h0m0-3h0m1 0h0m0 7h0m0-5h0m1 2h0m0-4h0m1 3h0m0-2h0m0 8h0m0-1h0m0 2h0m1-3h0m0-4h0m1-2h0m0 0h0m3 3h0m0 4h0m1-7h0m0-1h0m1 7h0m1-2h0m3 5h0m1-2h0m1-4h0m3 1h0m2-3h0m-75 9h0m4 5h0m2-5h0m1 9h0m3-9h0m2 4h0m2 2h0m1-2h0m1 5h0m2-1h0m0 3h0m2-10h0m0 1h0m2 3h0m0 5h0m1-8h0m0-2h0m0 2h0m0 3h0m0-5h0m0 0h0m0 0h0m1 1h0m0-1h0m0 6h0m1 0h0m0 0h0m0-2h0m0-1h0m1 2h0m0 6h0m0-5h0m1-5h0m0 8h0m1-9h0m0 1h0m0 0h0m1 5h0m0-3h0m0 4h0m1-7h0m0 7h0m1 0h0m0-6h0m1 3h0m0 1h0m1 2h0m0-5h0m0 0h0m1-1h0m0 6h0m0-7h0m0 6h0m1 5h0m0-3h0m0-8h0m0 1h0m1 2h0m0-3h0m0 6h0m0-2h0m1-3h0m0 4h0m0 0h0m0-4h0m1 4h0m0 4h0m1-9h0m0 3h0m0 3h0m0-1h0m1-2h0m0-3h0m1 0h0m0 2h0m2 5h0m0 1h0m0-4h0m1-4h0m0 8h0m0-5h0m0 2h0m0-2h0m0 0h0m1 1h0m0-1h0m0-2h0m1 0h0m0 0h0m0 0h0m0 4h0m0 0h0m0-4h0m0 0h0m1 5h0m0-5h0m1 4h0m0 4h0m0-8h0m1 3h0m0 4h0m0-6h0m1-2h0m0 2h0m0-2h0m0 0h0m1 9h0m0-1h0m0 0h0m1-1h0m1 0h0m3-7h0m0 11h0m2-4h0m1-2h0m2-5h0m2 0h0m5 2h0m1-1h0m6 5h0m-57 7h0m0 3h0m3 1h0m1 2h0m12-6h0m5 0h0m1-1h0m4 1h0m1 4h0m2 0h0m3-5h0m5 1h0" stroke="#3A78B8" stroke-width="2.0" stroke-linecap="round" fill="none"/><path transform="scale(.5)" d="M691 2730h0m1-1h0m23 3h0m2 1h0m3-3h0m8-1h0m3 3h0m0 3h0m5-2h0m3-1h0m0 0h0m8 3h0m17-3h0m7-2h0m1 0h0m58 5h0m-178 3h0m42 8h0m1-10h0m5 8h0m3 1h0m4 2h0m0-1h0m3-9h0m0 6h0m4-1h0m0 4h0m2-3h0m2-5h0m0 6h0m1-4h0m0 3h0m2-4h0m4 7h0m0-3h0m1 1h0m2 3h0m1-4h0m1 2h0m1 0h0m0 0h0m0-6h0m0 4h0m4 4h0m1-11h0m0 10h0m1-6h0m0 4h0m0-1h0m0-4h0m1 5h0m1-8h0m1 7h0m0-1h0m1 2h0m0 2h0m1-6h0m2 5h0m1 0h0m0 0h0m2 2h0m1-3h0m0-7h0m0 4h0m1 6h0m1-3h0m1 0h0m0 3h0m0-5h0m2-1h0m0 0h0m1-4h0m0 9h0m0-5h0m1 4h0m2 1h0m4-6h0m1-3h0m4 2h0m1 2h0m0 6h0m2-5h0m3 3h0m1 2h0m3-4h0m-135 15h0m15-2h0m4-4h0m7 0h0m7-1h0m2 0h0m3 5h0m1-4h0m1 0h0m2 0h0m0 0h0m1-3h0m0 8h0m0-6h0m0 4h0m5-5h0m1-2h0m0 7h0m2-1h0m2 1h0m0-7h0m0 10h0m0-8h0m7 3h0m0-2h0m3 4h0m0-4h0m1 4h0m0-5h0m1 1h0m1 8h0m1-8h0m0 2h0m0-4h0m1 10h0m0-7h0m1-4h0m1 10h0m1-5h0m0 2h0m1 0h0m0 3h0m0-1h0m0 1h0m1-1h0m0 0h0m0-7h0m1 2h0m0 4h0m0 1h0m1-1h0m0 3h0m0-6h0m0 3h0m1 1h0m1 2h0m0-2h0m0-8h0m1 7h0m0-4h0m0 4h0m0-1h0m1-2h0m0 2h0m1 2h0m0-3h0m0 3h0m0-5h0m1 6h0m0-5h0m0 6h0m0-8h0m1 7h0m0-1h0m1 2h0m0-1h0m0-6h0m0 7h0m0-8h0m1 1h0m0-2h0m0 7h0m0-7h0m0 4h0m1-2h0m0-3h0m0 6h0m0 1h0m1-3h0m1 4h0m0-4h0m0 5h0m1-2h0m0-3h0m0 1h0m0 1h0m0 0h0m0-5h0m0 7h0m1-5h0m0 6h0m0-1h0m0 1h0m1 0h0m0-1h0m0-5h0m0 4h0m0 3h0m0-10h0m0 9h0m1-3h0m1-1h0m0 5h0m0-4h0m0 0h0m0 1h0m1-4h0m0-3h0m0 3h0m1 0h0m0 2h0m0 0h0m0-3h0m0-1h0m0 6h0m1 0h0m0-4h0m0 5h0m0-2h0m1-2h0m0-2h0m0 8h0m1-8h0m0 0h0m0 1h0m0 4h0m0-3h0m0 2h0m1-2h0m0-5h0m0 8h0m1-3h0m0 3h0m0-3h0m0-2h0m1 6h0m1-6h0m0 7h0m0-1h0m0-6h0m1 7h0m0-2h0m0 1h0m0-4h0m0 2h0m0 1h0m1-5h0m0-1h0m0 7h0m0 1h0m1-9h0m0 2h0m0 7h0m1-9h0m1 3h0m0 7h0m0-9h0m1 5h0m0 0h0m0 2h0m0-2h0m0 4h0m0-5h0m0 1h0m0-1h0m1 4h0m1 0h0m0-8h0m1 2h0m0 6h0m0-6h0m1-3h0m0 0h0m0 9h0m1-1h0m0-1h0m1-2h0m0 1h0m1 2h0m0-6h0m0-1h0m1-1h0m0 4h0m0 0h0m1 3h0m0-1h0m0-5h0m0 5h0m0 2h0m1 1h0m0-5h0m0 6h0m1 0h0m0-5h0m0-4h0m1 3h0m0 0h0m0 6h0m1-8h0m0 1h0m1-1h0m0 1h0m0 6h0m1-1h0m0 1h0m0-2h0m0 0h0m0-1h0m1 1h0m1 0h0m1 2h0m0-3h0m0-2h0m1 3h0m1-2h0m1 1h0m0 1h0m0-2h0m0-3h0m0 8h0m1-8h0m0 8h0m4-10h0m3 2h0m1 4h0m2 3h0m0 0h0m1 1h0m0 0h0m3-10h0m3 3h0m2 1h0m10 5h0m-126 13h0m2-3h0m0-6h0m1 7h0m5 1h0m0-3h0m2-1h0m1-4h0m0 5h0m4 4h0m0-2h0m1-8h0m1-1h0m1 8h0m1 1h0m1-4h0m1 2h0m0-7h0m0 2h0m0-2h0m1 3h0m1-1h0m0 1h0m0-1h0m1 1h0m1 7h0m1 0h0m0-4h0m2-3h0m0 3h0m0 1h0m1-5h0m0-2h0m1 4h0m2 6h0m1-5h0m0-2h0m1 4h0m0-7h0m0 1h0m1 6h0m1-7h0m0 11h0m0-9h0m1 5h0m0-4h0m0-3h0m0 7h0m0-2h0m1 5h0m1-4h0m0-3h0m0-2h0m1 6h0m0-4h0m0 7h0m0-8h0m0 2h0m1 5h0m0 2h0m1-11h0m0 1h0m0 9h0m0-4h0m0-3h0m0 1h0m1 6h0m0 0h0m1 0h0m0-7h0m1 6h0m0-7h0m0 2h0m0 1h0m1 5h0m0-6h0m1 7h0m0-5h0m0 4h0m1-1h0m0-8h0m0 7h0m0-2h0m0-3h0m0 3h0m1-4h0m0-2h0m1 11h0m0-9h0m0 0h0m1 9h0m0-1h0m0-8h0m0 6h0m1-5h0m0 5h0m0-3h0m0 1h0m0-1h0m0-3h0m1 1h0m0 3h0m0 0h0m0 0h0m0 2h0m1-2h0m0 1h0m1 2h0m0-8h0m0 2h0m0 5h0m0-4h0m0-3h0m0-1h0m1 9h0m0-9h0m0 1h0m1 5h0m0-1h0m0 1h0m1-2h0m1 0h0m1-1h0m0 5h0m0-2h0m1 3h0m0-8h0m0 2h0m1 2h0m0 4h0m0-8h0m0 3h0m0 2h0m0-6h0m0 7h0m1-2h0m0 2h0m0-3h0m1 4h0m0-8h0m1 9h0m2-9h0m0 2h0m1 6h0m0 1h0m0 1h0m0-4h0m1 3h0m0 1h0m0-5h0m0 4h0m0-3h0m0 0h0m1 3h0m0-8h0m0 2h0m0 2h0m0-2h0m0 4h0m1-2h0m1 3h0m0-6h0m0 4h0m0-4h0m0 4h0m1 5h0m0-7h0m0 2h0m0-3h0m1 1h0m0-2h0m1 6h0m0-4h0m1-4h0m1 2h0m0 1h0m0-3h0m0 0h0m1 4h0m0-1h0m0 5h0m0-1h0m1 2h0m0 2h0m0-9h0m1 1h0m0-3h0m1 2h0m1 8h0m0 1h0m0-10h0m2 4h0m0 5h0m1 1h0m0-8h0m1 2h0m0 3h0m0 3h0m0-3h0m0-1h0m1 3h0m0-8h0m1 4h0m2-4h0m0 0h0m1 4h0m2-5h0m1 4h0m0-4h0m1 8h0m1-9h0m2 3h0m2 4h0m3 3h0m0-6h0m0 1h0m0 2h0m1 1h0m1-7h0m0 5h0m1-5h0m0 8h0m5 2h0m0-4h0m4-2h0m8-5h0m4 1h0m15 0h0m-139 13h0m7 9h0m4-6h0m1 0h0m1 3h0m5-5h0m1 1h0m4-1h0m0-1h0m1 9h0m1-4h0m3 4h0m0-9h0m0 4h0m0-2h0m3 1h0m1-4h0m0 0h0m0 1h0m1-1h0m0 9h0m1-10h0m0 7h0m0 3h0m0-5h0m1 6h0m1-8h0m0 7h0m1-10h0m0 10h0m2-10h0m1 1h0m0-1h0m1 4h0m0-1h0m0 6h0m1-1h0m1-7h0m0 5h0m0-5h0m1 2h0m0 1h0m0-3h0m0 2h0m0 7h0m1-10h0m1 2h0m0 7h0m2-2h0m0-3h0m0-1h0m0-3h0m1 5h0m0-1h0m0 1h0m1 4h0m0-6h0m0 8h0m2-9h0m0 5h0m0-6h0m0 6h0m1-5h0m1-2h0m0 0h0m1 10h0m0-3h0m0 0h0m0-1h0m1-4h0m2 9h0m0-5h0m0-3h0m0-1h0m1 3h0m0 3h0m1-6h0m0 5h0m0 4h0m1-4h0m0-2h0m0 0h0m0 3h0m2-2h0m0-2h0m1-3h0m0 10h0m1-2h0m0-9h0m1 2h0m0 4h0m0-3h0m0 3h0m1 5h0m2-7h0m1-2h0m1 3h0m1 2h0m0-5h0m1 1h0m1 1h0m0 4h0m1-1h0m1-5h0m1 0h0m1 9h0m0-9h0m2 3h0m0-2h0m1 2h0m1 3h0m1-1h0m0 2h0m0-3h0m2-3h0m1 4h0m0-3h0m1-1h0m1 3h0m1 2h0m0-8h0m2 8h0m0-2h0m4 1h0m3-2h0m0-3h0m2 3h0m5-1h0m2 6h0m3-4h0m1-1h0m0 3h0m4 3h0m-113 3h0m5 0h0m0-1h0m2 0h0m4 8h0m7-5h0m2-4h0m7 7h0m0 1h0m4-7h0m2 3h0m2-4h0m1 0h0m0 9h0m1-4h0m0-4h0m5 0h0m2 0h0m2-1h0m1 0h0m0 0h0m2 9h0m2-5h0m2-3h0m1 1h0m0 0h0m0 3h0m4-3h0m0-2h0m1 4h0m2-4h0m1 1h0m4 4h0m1-1h0m3 5h0m0-7h0m0 4h0m1 2h0m0-7h0m2-1h0m4 10h0m0-9h0m1 2h0m0-3h0m3 0h0m3 0h0m2 0h0m2 0h0m0 9h0m1-5h0m0-1h0m4-3h0m4 8h0m5 2h0m-76 3h0m6 8h0m10-9h0m23 3h0m0-3h0m16 2h0m8 1h0m6-1h0m-30 16h0" stroke="#DCA45A" stroke-width="2.0" stroke-linecap="round" fill="none"/><path transform="scale(.5)" d="M707 2733h0m-10 9h0m8-3h0m3 7h0m1 0h0m1-1h0m2-1h0m4 1h0m0 2h0m1-3h0m1 0h0m1 1h0m1 2h0m1-6h0m3 5h0m3-6h0m1 0h0m2-1h0m0-3h0m0 10h0m1-3h0m1 1h0m0 2h0m2 0h0m3-1h0m3-2h0m0-3h0m6-4h0m15 5h0m-86 9h0m1 6h0m10 0h0m4-2h0m1 1h0m3 1h0m2-5h0m1 1h0m1 6h0m1-2h0m1-3h0m1 1h0m0-2h0m0 2h0m1 5h0m0 0h0m0-5h0m1-6h0m1 4h0m0-4h0m1 5h0m0 0h0m1-4h0m0 2h0m1 4h0m1-7h0m0 1h0m1-1h0m0 9h0m0 2h0m0-11h0m0 0h0m0 5h0m1 3h0m0 1h0m0 0h0m0 2h0m0-5h0m0-1h0m1 5h0m0-1h0m0-7h0m1-2h0m0 6h0m1 5h0m0-4h0m1-2h0m0 4h0m1-8h0m0 6h0m1-5h0m1 0h0m0 9h0m0-3h0m0 0h0m0-3h0m1-1h0m0 5h0m0 2h0m0 0h0m1-3h0m0 0h0m0-3h0m1 3h0m1-3h0m0 6h0m0-7h0m0 4h0m1-7h0m0 2h0m0 6h0m0-3h0m0 0h0m0 1h0m1-4h0m0 4h0m0 2h0m0 2h0m0-6h0m0-1h0m0 4h0m1-6h0m0-2h0m0 8h0m0-2h0m0 2h0m1-1h0m0 4h0m0-6h0m0 5h0m0-5h0m1-5h0m0 0h0m0 7h0m0-5h0m1 2h0m0 2h0m0-2h0m1 3h0m0 3h0m0-4h0m1-5h0m0 9h0m1-2h0m0-2h0m0 1h0m1-1h0m0-2h0m0 7h0m0-6h0m0-2h0m1 6h0m0-2h0m0-6h0m0 1h0m0 2h0m0 4h0m1-1h0m0-1h0m0 1h0m0-6h0m1 8h0m0-5h0m1 4h0m0 1h0m0 0h0m0 1h0m1-1h0m2 0h0m1 0h0m0-3h0m0 1h0m1 1h0m0 1h0m1 2h0m0-3h0m1 3h0m1-9h0m1 3h0m2 4h0m3 1h0m1 0h0m0-7h0m2 3h0m1-2h0m0 7h0m3-2h0m5 0h0m-83 4h0m1 3h0m6-2h0m4 8h0m3-4h0m1-3h0m1-3h0m1 6h0m1-3h0m1 1h0m0-2h0m1 9h0m2-5h0m0-4h0m1 3h0m0 1h0m0-2h0m0 3h0m0-5h0m0 4h0m1 1h0m0 2h0m0-3h0m1-6h0m0 9h0m2-5h0m0 5h0m0-4h0m0-2h0m1 7h0m0-3h0m0-3h0m1-4h0m0 10h0m0-2h0m1 2h0m0-9h0m0 2h0m0 7h0m1-7h0m0 1h0m0 1h0m1 6h0m0-7h0m0 2h0m1 1h0m0 4h0m0-10h0m0 5h0m0 0h0m0-3h0m0 8h0m1-2h0m0-3h0m0 2h0m0-8h0m0 0h0m0 1h0m1 0h0m0 7h0m0-5h0m1-2h0m0 1h0m0 3h0m0-3h0m1-2h0m0 8h0m0 1h0m0-7h0m1 4h0m0 0h0m0-4h0m1-2h0m0 10h0m0-9h0m1 7h0m0 0h0m0-8h0m1 5h0m1 3h0m0 2h0m0-1h0m0-7h0m0 0h0m1 9h0m0 0h0m0-4h0m0-2h0m1-1h0m0 4h0m0 0h0m0-2h0m1-1h0m0-4h0m0-1h0m0 6h0m1 3h0m0-2h0m0-3h0m1 4h0m0 2h0m1-4h0m0-5h0m0 9h0m0-6h0m1 5h0m0-9h0m0 3h0m0-3h0m0 7h0m0-7h0m1 1h0m0-1h0m1 6h0m0-6h0m0 10h0m0-4h0m1 3h0m0-4h0m0-5h0m0 6h0m2-6h0m0 7h0m1 3h0m0-3h0m0-4h0m0 7h0m1-7h0m0-1h0m0 7h0m0 1h0m2 0h0m1-2h0m0-8h0m0 9h0m1-7h0m1 2h0m0 1h0m2-3h0m1 6h0m0-7h0m2 2h0m0-3h0m1 9h0m1-2h0m0-4h0m2 6h0m1-8h0m10 3h0m-73 9h0m0 4h0m9-2h0m1 3h0m6-6h0m0 4h0m1-2h0m2-1h0m1 3h0m1-4h0m0 9h0m1-6h0m0 7h0m0-10h0m0 4h0m0-2h0m1 5h0m1-3h0m1 0h0m1-3h0m0 4h0m0-5h0m0 6h0m1-2h0m0-2h0m2 3h0m1-4h0m0 0h0m1 7h0m0-1h0m0-6h0m1 0h0m2 2h0m0 3h0m2 1h0m1 0h0m0-6h0m1 10h0m0-9h0m0-1h0m2 3h0m2-4h0m0 0h0m1 1h0m0 3h0m1-3h0m1 0h0m0 1h0m0 0h0m0 8h0m0-6h0m1-3h0m1 7h0m1-5h0m1-1h0m1 3h0m0-5h0m1 3h0m1 8h0m1-9h0m4-1h0m0 6h0m3-1h0m0-6h0m0 3h0m4 8h0m-45 2h0m9 6h0m7-6h0m12-1h0" stroke="#A07030" stroke-width="2.0" stroke-linecap="round" fill="none"/>
<text x="409.5" y="1411.3" font-size="8.2" text-anchor="middle" font-family='"Liberation Sans",sans-serif' font-weight="bold" fill="#222">UMAP1</text>
<text transform="translate(327.6,1351.6) rotate(-90)" font-size="8.2" font-weight="bold" text-anchor="middle" font-family="Liberation Sans" fill="#222">UMAP2</text>
<path d="M514 1291.4V1401.3H668.8" stroke="#555" stroke-width="0.8" fill="none"/>
<ellipse cx="556" cy="1307" rx="9.8" ry="9.8" transform="rotate(0 556 1307)" fill="#CDCDD4"/><ellipse cx="576" cy="1318" rx="14.2" ry="6" transform="rotate(0 576 1318)" fill="#CDCDD4"/><ellipse cx="565" cy="1314" rx="6" ry="6" transform="rotate(0 565 1314)" fill="#CDCDD4"/><ellipse cx="557" cy="1325" rx="6" ry="4.5" transform="rotate(0 557 1325)" fill="#CDCDD4"/><ellipse cx="612" cy="1338" rx="12" ry="15" transform="rotate(0 612 1338)" fill="#CDCDD4"/><ellipse cx="646" cy="1354" rx="12" ry="5.4" transform="rotate(0 646 1354)" fill="#CDCDD4"/><ellipse cx="527" cy="1350" rx="5.1" ry="7.5" transform="rotate(0 527 1350)" fill="#CDCDD4"/><ellipse cx="545" cy="1352" rx="8.2" ry="6.8" transform="rotate(0 545 1352)" fill="#CDCDD4"/><ellipse cx="548.5" cy="1381" rx="21" ry="12" transform="rotate(0 548.5 1381)" fill="#CDCDD4"/><ellipse cx="626" cy="1387" rx="12.8" ry="7.5" transform="rotate(0 626 1387)" fill="#CDCDD4"/><path transform="scale(.5)" d="M1093 2585h0m2-1h0m4 6h0m9-2h0m0-3h0m9 6h0m1 0h0m2-6h0m4-4h0m-39 21h0m5-2h0m4-5h0m2 4h0m0-5h0m1 1h0m1 4h0m0-4h0m1 7h0m1-4h0m2 4h0m1-7h0m0-2h0m0 0h0m1-1h0m0 0h0m2 9h0m0-9h0m0 5h0m2-1h0m1-2h0m1 7h0m0-4h0m1 3h0m0 3h0m0-2h0m1 0h0m0-6h0m3 5h0m1-1h0m0 4h0m0-5h0m0 4h0m1-1h0m0-8h0m1 5h0m1-3h0m3 7h0m2 1h0m0-6h0m1 5h0m1-5h0m7 4h0m2 0h0m1-2h0m-56 11h0m6-3h0m0 4h0m4 0h0m1 4h0m2-6h0m0-4h0m1 3h0m1-1h0m0 0h0m0-2h0m2 10h0m0-11h0m1 6h0m2-4h0m0 9h0m0-4h0m0-1h0m0-5h0m1 10h0m1 0h0m0-10h0m0 10h0m0-1h0m1-7h0m0 0h0m0 1h0m1-2h0m0 3h0m0 3h0m0 0h0m1-6h0m0 9h0m0 0h0m0-2h0m1-4h0m0-4h0m0 9h0m0-6h0m0 7h0m1-4h0m0 3h0m0 0h0m0 0h0m1 1h0m0-5h0m0 5h0m0 0h0m1-7h0m0 1h0m0-1h0m1 7h0m1-3h0m0-4h0m0 7h0m0-8h0m0 3h0m0 3h0m1-1h0m0-8h0m0 11h0m0 0h0m1 0h0m0-1h0m1-9h0m0 0h0m0 5h0m0 4h0m0-7h0m1-3h0m0 6h0m0 2h0m0-3h0m0 0h0m1 5h0m0 0h0m1-2h0m0-1h0m0-1h0m1 0h0m0-1h0m0 0h0m1-5h0m0 2h0m0-1h0m0 3h0m0 4h0m1-4h0m1 1h0m0 6h0m1-2h0m0-6h0m0 8h0m0-3h0m1-4h0m0-3h0m0 8h0m0-6h0m0-3h0m0 8h0m0-5h0m0 4h0m1-5h0m0 9h0m1-9h0m0 5h0m0-1h0m2 1h0m1 2h0m1-4h0m1 2h0m1 3h0m0-6h0m0-4h0m0 7h0m1 2h0m1-1h0m1 1h0m0-7h0m3 7h0m1-1h0m1-2h0m0 4h0m7-1h0m-69 12h0m7-2h0m1-3h0m2-1h0m2 3h0m0-6h0m0 4h0m1-2h0m2 0h0m4 3h0m1 2h0m1 3h0m0-2h0m1 2h0m0-9h0m0 8h0m1-2h0m1-3h0m0-4h0m1 8h0m1-1h0m0-5h0m1 4h0m0-5h0m1 3h0m1 2h0m0 4h0m1-9h0m0 2h0m0 1h0m0 0h0m2 2h0m0-5h0m0 1h0m0-1h0m1 2h0m1 6h0m0-3h0m0 3h0m1 2h0m0-6h0m0 3h0m0-4h0m0-4h0m1 0h0m1 11h0m0-1h0m1-1h0m0-7h0m0 2h0m0-3h0m1 8h0m0-4h0m0-3h0m1 0h0m0 9h0m0-2h0m1-2h0m0 1h0m0-7h0m0 0h0m0 0h0m1 2h0m0 6h0m1-9h0m0 6h0m1 2h0m0 0h0m1-3h0m0 0h0m0 2h0m0 3h0m1-3h0m1-7h0m0 10h0m0-9h0m0 2h0m0 8h0m1-8h0m0 5h0m0 2h0m0-9h0m0 7h0m0 2h0m1 1h0m0-6h0m0 4h0m0 0h0m0 2h0m0-3h0m1 2h0m0-2h0m1 3h0m0-4h0m0-6h0m0 0h0m0-1h0m1 10h0m0 1h0m0-1h0m2 1h0m0-4h0m0 3h0m0-1h0m0 1h0m1-3h0m0 4h0m0-5h0m0 5h0m0-2h0m0-5h0m1 3h0m0 3h0m0-7h0m0 5h0m0-4h0m1-2h0m0 9h0m0-1h0m0-3h0m1-6h0m1 1h0m0 8h0m0-1h0m1-2h0m0 2h0m0-7h0m0 4h0m1-4h0m0 9h0m1-11h0m1 10h0m0 1h0m1-8h0m0 2h0m1 3h0m1 0h0m0 2h0m0-10h0m3 10h0m2-4h0m2-4h0m3 4h0m0 2h0m2 1h0m1-2h0m1 4h0m7-1h0m1 0h0m6 0h0m1-1h0m1 1h0m1-3h0m3-6h0m0 8h0m2-2h0m0-2h0m6 6h0m26-2h0m10 2h0m18-4h0m2 2h0m-178 4h0m29 8h0m0-3h0m1 3h0m1-4h0m1-1h0m1-2h0m2 8h0m1-8h0m5 1h0m2-1h0m2-2h0m0 10h0m1-1h0m0-3h0m0 1h0m0-2h0m0 6h0m1-10h0m0 3h0m0 1h0m2-4h0m1 2h0m1-2h0m1 1h0m0-2h0m2 9h0m1-8h0m0 3h0m0 7h0m0-8h0m1-3h0m0 5h0m1-2h0m1-1h0m0 1h0m0 7h0m1-10h0m0 4h0m0 0h0m0-1h0m0 8h0m1-11h0m0 7h0m0-3h0m0-3h0m1 0h0m0 10h0m1-6h0m0-4h0m1 3h0m0 7h0m0-11h0m1 0h0m0 0h0m0 9h0m1-5h0m0 4h0m0 0h0m0-8h0m1 4h0m0-3h0m0 0h0m0 6h0m0-2h0m1 2h0m0 0h0m0 1h0m1-4h0m0-4h0m0 0h0m1 10h0m0-9h0m0 3h0m0 1h0m0 4h0m1-6h0m0 6h0m1-9h0m0 7h0m0-5h0m0 1h0m0-1h0m1 5h0m0-5h0m0-2h0m1 0h0m0 7h0m0 3h0m0 0h0m0-4h0m0-4h0m1-2h0m0 5h0m0 6h0m0-4h0m0-6h0m0 8h0m0-4h0m1-3h0m0 3h0m0-3h0m1 7h0m0-1h0m0 3h0m0-7h0m0 2h0m1 4h0m0-8h0m1-2h0m1 3h0m0-2h0m1 4h0m0-1h0m0 3h0m1-1h0m1 2h0m0-8h0m1 3h0m0-2h0m0 8h0m0 0h0m1-4h0m1 4h0m0-1h0m1 0h0m0-3h0m0 2h0m1 2h0m0-2h0m0 0h0m1-4h0m1 4h0m1 0h0m0-2h0m0 3h0m0 0h0m1-4h0m0 5h0m0-4h0m1 1h0m0 0h0m0 3h0m0-3h0m0 4h0m0-3h0m2 2h0m0-4h0m0-2h0m1-3h0m0 1h0m0 7h0m0 2h0m1 1h0m1-11h0m0 3h0m1 5h0m0 0h0m0 1h0m1-6h0m2 2h0m0 4h0m0-4h0m0 0h0m1 5h0m0-5h0m1 2h0m1 3h0m0-3h0m0 0h0m1 1h0m0 0h0m1 1h0m0-4h0m1 5h0m0 0h0m0-1h0m0-3h0m1-6h0m1 7h0m3 4h0m2-3h0m1-2h0m1-2h0m0 4h0m1 1h0m2-1h0m2 3h0m0-7h0m2 1h0m0 2h0m1-2h0m4 4h0m0-7h0m3 9h0m5-4h0m8 0h0m4 4h0m7 0h0m6-3h0m2-4h0m1 7h0m0-7h0m5-2h0m1 8h0m0-7h0m2-3h0m4 0h0m2 5h0m-178 15h0m1 3h0m0-2h0m1-1h0m1 0h0m0 0h0m0 0h0m1 0h0m1 0h0m0 0h0m0 0h0m1-1h0m0-1h0m2 1h0m0 0h0m2 1h0m2 2h0m0-2h0m1-7h0m1 7h0m0 3h0m0-2h0m4 0h0m1-3h0m0 2h0m0 1h0m2-2h0m1 1h0m4 0h0m3 0h0m5 1h0m8 1h0m1-3h0m0 3h0m1-7h0m0 6h0m1-7h0m1 2h0m0-2h0m0 6h0m2 0h0m0 3h0m1-3h0m1 2h0m0-2h0m1-1h0m0 3h0m1 0h0m0-2h0m0-7h0m1 10h0m0 0h0m0 0h0m1-8h0m0 8h0m0 0h0m0-6h0m0 2h0m1-2h0m0 6h0m0-1h0m0-8h0m1 7h0m0-9h0m1 1h0m1 3h0m0 4h0m0 2h0m0-6h0m0 5h0m1-8h0m0 0h0m0 7h0m0 3h0m0-1h0m1-6h0m0 7h0m0 0h0m1-10h0m0 3h0m1 5h0m0-8h0m1 9h0m1-3h0m0-3h0m0 3h0m1 2h0m0-9h0m1 11h0m1-5h0m0-3h0m0-2h0m2-1h0m1 1h0m0 9h0m1-7h0m1-2h0m1 5h0m0-4h0m1-2h0m1 6h0m0-6h0m0 7h0m1-7h0m0 6h0m1 2h0m0 0h0m1-6h0m0 3h0m0-4h0m3 3h0m1 2h0m0 4h0m1-10h0m1 1h0m0 8h0m2 1h0m0-7h0m2 4h0m1-6h0m0-1h0m0 2h0m1-2h0m1 4h0m0 2h0m0-6h0m1 0h0m1 3h0m1 1h0m0-4h0m0 3h0m0-3h0m1 7h0m1-7h0m0 1h0m1 2h0m0 5h0m0-2h0m1 2h0m0-7h0m4 9h0m4 0h0m1-8h0m2-1h0m2-1h0m1 4h0m2-2h0m0 5h0m1-1h0m0 0h0m7 3h0m3-5h0m1 2h0m1-2h0m3-1h0m0 7h0m8-4h0m3 1h0m0-3h0m2-3h0m1 5h0m2 5h0m3-6h0m2 0h0m1 3h0m0-4h0m1 4h0m2-4h0m1 3h0m3-2h0m1 4h0m1 2h0m1-2h0m0-2h0m6-3h0m5 6h0m1-8h0m3 5h0m1 3h0m4-4h0m1-1h0m-144 7h0m0 9h0m3 1h0m1-6h0m1-4h0m0 6h0m0-6h0m1 11h0m1-11h0m0 0h0m0 0h0m1 0h0m1 0h0m0 3h0m2 6h0m0 2h0m1-4h0m1-5h0m0 0h0m0 6h0m1-6h0m0-1h0m1 6h0m0-1h0m1-3h0m0 0h0m2-1h0m1 3h0m1 4h0m0-1h0m2-5h0m2 1h0m1-1h0m4 1h0m7 3h0m13-6h0m1 6h0m1-7h0m2 2h0m0-2h0m4 0h0m9 5h0m8-1h0m4-3h0m0 4h0m2-4h0m1 8h0m5 0h0m2 2h0m1-3h0m0 0h0m1-8h0m0 10h0m2 0h0m2-2h0m1-1h0m0 3h0m2-4h0m0 0h0m0 4h0m1 0h0m0-2h0m1 0h0m1-2h0m0 1h0m2 0h0m2 3h0m0 1h0m1-4h0m0 0h0m3-2h0m2 5h0m0-9h0m0-1h0m1 10h0m0-1h0m0-6h0m1 4h0m1-3h0m4 4h0m0-8h0m0 5h0m1 2h0m0 0h0m0 4h0m1-8h0m1 8h0m0-10h0m2 6h0m0-3h0m0-2h0m1 4h0m0 3h0m0 1h0m1-9h0m0 1h0m1 4h0m0 3h0m0-7h0m0 5h0m1 0h0m0 4h0m4 0h0m1-5h0m0-5h0m1 10h0m1-4h0m1-6h0m1 4h0m0 4h0m1-5h0m0-3h0m1 4h0m0 3h0m2 1h0m0-4h0m0 6h0m1-6h0m2-5h0m0 7h0m1 2h0m0-5h0m0 6h0m1-3h0m0 0h0m0-5h0m1 9h0m1-1h0m0-5h0m0 5h0m2-1h0m3 2h0m1-10h0m-201 20h0m1 2h0m8-4h0m45-7h0m68 8h0m0-5h0m2-1h0m3-1h0m0 1h0m2 4h0m1-2h0m2 1h0m1-3h0m1 2h0m0-3h0m1 0h0m2 4h0m2 1h0m0-2h0m0 5h0m1-4h0m0 1h0m0-3h0m1 6h0m1-9h0m0 5h0m0 2h0m1-3h0m0-2h0m1 5h0m0-3h0m1 4h0m0-4h0m1-1h0m0-1h0m1 6h0m0-8h0m1 2h0m1 1h0m1 2h0m0 6h0m0-2h0m0-8h0m2 5h0m1-4h0m0 9h0m0-4h0m2-6h0m0 7h0m0 0h0m0-4h0m0 3h0m1-2h0m1 2h0m0-7h0m0 1h0m1 0h0m1 0h0m0 3h0m1 6h0m0 0h0m0-1h0m0-8h0m1 4h0m0 3h0m1-6h0m1 7h0m0 0h0m0-8h0m0 7h0m1 1h0m0-5h0m1-3h0m0 10h0m1-10h0m1 7h0m0-5h0m0 6h0m1-5h0m0 6h0m1-1h0m0-4h0m1 5h0m1-7h0m0 8h0m1-6h0m0 2h0m1-1h0m0-4h0m1 7h0m0-2h0m1 2h0m0-4h0m0 3h0m1-6h0m0 3h0m1 4h0m0 0h0m1-6h0m0 2h0m0 0h0m0 3h0m1-2h0m0 4h0m0-1h0m1 0h0m2 0h0m0-2h0m1 0h0m0 2h0m1-6h0m1 6h0m1-1h0m0-2h0m1 1h0m2-2h0m0-1h0m0 6h0m2 1h0m3-5h0m3-5h0m11 1h0m4 7h0m1 1h0m2-6h0m-224 9h0m2 4h0m1-4h0m1 7h0m0 2h0m2-2h0m1 0h0m3 2h0m3 1h0m3-2h0m10 2h0m3-1h0m6-8h0m4 9h0m2-1h0m1 1h0m3-9h0m0 7h0m10-5h0m2 2h0m2 0h0m1 3h0m46-3h0m0-3h0m3-1h0m0 6h0m0-3h0m1 2h0m1-3h0m0-2h0m1 1h0m0 1h0m0 1h0m0-1h0m1-2h0m0-1h0m1-1h0m0 1h0m1 2h0m0 3h0m2-4h0m2-2h0m21 0h0m3 0h0m2 10h0m0-1h0m2-7h0m1 0h0m0 1h0m2 8h0m1-7h0m1 7h0m4-4h0m4-3h0m1 6h0m1-1h0m1 0h0m0-1h0m1-1h0m0-7h0m1 7h0m1 0h0m0-6h0m0 9h0m1-7h0m0 4h0m0 3h0m1-7h0m0 0h0m0-2h0m1 0h0m1 9h0m0-10h0m1 0h0m0 6h0m0-6h0m1 4h0m0 3h0m1-3h0m0-2h0m1 7h0m0-3h0m0 1h0m0 1h0m1-4h0m0 3h0m0 2h0m1 1h0m3-6h0m0-4h0m0 9h0m1-5h0m0 0h0m0 7h0m1-6h0m0 0h0m1-3h0m0 3h0m2 4h0m0-5h0m1 3h0m0 0h0m1-4h0m0-2h0m1 1h0m0-2h0m0 0h0m0 7h0m0 4h0m2-3h0m0 2h0m0 0h0m1-8h0m0 1h0m0 0h0m1 6h0m1 0h0m0-8h0m1 4h0m2-3h0m0 3h0m0 2h0m1-3h0m0 5h0m0-1h0m2 2h0m0 1h0m0-11h0m3 4h0m2 4h0m2-3h0m6 3h0m1-8h0m5 6h0m1-4h0m5 4h0m-227 14h0m2-2h0m0 4h0m1-5h0m1 6h0m0-7h0m0 1h0m0 3h0m1 1h0m1-2h0m0-3h0m0 3h0m1 2h0m1-5h0m0 7h0m1-11h0m0 6h0m1-6h0m0 11h0m0-7h0m0 0h0m1 2h0m0-3h0m1 1h0m0 5h0m3 0h0m0-2h0m1-6h0m1 8h0m0-4h0m0-1h0m0 2h0m0-3h0m0 2h0m1 5h0m0-9h0m2 10h0m0-2h0m1-7h0m0 2h0m0 4h0m0-5h0m3 8h0m2 0h0m0 0h0m1-1h0m8 0h0m3-7h0m0-3h0m1 9h0m0 2h0m1-1h0m2-2h0m1-5h0m1 4h0m3-1h0m1 1h0m0 1h0m1 2h0m0-4h0m0-5h0m0 7h0m0 2h0m0 1h0m0-4h0m1 3h0m0-7h0m0 8h0m0-2h0m0 1h0m1-10h0m1 7h0m0-2h0m1-3h0m0 2h0m2 6h0m0-7h0m1 4h0m1 2h0m1-1h0m1-6h0m0 7h0m0-2h0m1-3h0m2 3h0m1 3h0m1-8h0m2 9h0m0-5h0m1 5h0m0-5h0m3-4h0m2 0h0m2 8h0m35 0h0m40-5h0m3 1h0m3 4h0m2-9h0m1 7h0m0-6h0m0 1h0m1 6h0m2 1h0m2-4h0m1-6h0m1 3h0m1-3h0m0 2h0m3 6h0m2 0h0m0-3h0m0-5h0m0 8h0m1 1h0m0-9h0m0 5h0m0-2h0m0 1h0m2 7h0m0-6h0m0 6h0m3-6h0m1 4h0m1-8h0m0 2h0m1 2h0m0-3h0m1 4h0m0-3h0m0 4h0m1 0h0m0 0h0m1-4h0m0 0h0m1 6h0m0 2h0m1-4h0m0-4h0m1 0h0m3 1h0m0 2h0m0-1h0m0-4h0m1 4h0m0 0h0m1-4h0m1-1h0m1 10h0m0-4h0m0 0h0m1 4h0m2-5h0m0 5h0m1-1h0m1-8h0m1 5h0m0-1h0m1 2h0m0-2h0m2 4h0m1-7h0m0 4h0m0-4h0m2 6h0m1-7h0m1-1h0m2 11h0m2-6h0m2-1h0m3 3h0m6-6h0m8 6h0m1 0h0m3-1h0m7 5h0m0 0h0m0-3h0m2 3h0m2-1h0m0 0h0m1-2h0m3 2h0m2 1h0m2-7h0m0 7h0m0-3h0m1 3h0m0-5h0m2 4h0m2 1h0m1-1h0m2-4h0m0 4h0m2 1h0m1-1h0m0 0h0m5-5h0m2 6h0m3 0h0m2 0h0m1-2h0m15 0h0m-292 3h0m6 1h0m0 6h0m1-5h0m1 6h0m0-8h0m1 3h0m0 1h0m0-3h0m2 2h0m1-3h0m0 2h0m0 3h0m1 2h0m0 1h0m0-7h0m0-1h0m1 3h0m0-1h0m0-2h0m0 2h0m1 3h0m0-2h0m2-3h0m0 8h0m0-7h0m0 2h0m0 6h0m1 2h0m0-8h0m1 1h0m1 0h0m0 3h0m0 1h0m1-3h0m1 5h0m0-9h0m0 9h0m0-6h0m0-3h0m1 5h0m1-6h0m0 1h0m0 6h0m1 0h0m1 3h0m0-1h0m6 0h0m2-9h0m0 9h0m3-6h0m1 1h0m2 3h0m1-5h0m0 6h0m0-4h0m0 1h0m1-4h0m0-1h0m0 2h0m2 0h0m0 9h0m0-2h0m0-7h0m0 4h0m1 3h0m0 1h0m0-2h0m0-8h0m0 11h0m1-6h0m0-1h0m0 3h0m1 2h0m0 2h0m1-8h0m0 0h0m0 2h0m1-3h0m0 0h0m0 2h0m0 0h0m0 3h0m1-3h0m0 4h0m0-8h0m1 7h0m0 0h0m0 1h0m0-3h0m1 6h0m0-11h0m0 8h0m1-1h0m1-5h0m0-1h0m0 0h0m1 1h0m0 5h0m1 4h0m0-8h0m0-2h0m1-1h0m0 2h0m1 9h0m0-7h0m1 7h0m1-10h0m1 4h0m1 5h0m0-8h0m1 7h0m0-6h0m0-1h0m0 3h0m1 1h0m1-3h0m0 5h0m1 2h0m2-6h0m0 1h0m1 3h0m1-4h0m1 0h0m8 0h0m3 0h0m2 6h0m1-8h0m4 5h0m2 3h0m0-2h0m0 2h0m1-2h0m0-4h0m0 5h0m1-7h0m0 2h0m0 0h0m3 6h0m1-6h0m5 0h0m2-4h0m0 3h0m49 7h0m1-5h0m6 2h0m7-4h0m2-3h0m2 1h0m2 9h0m0-7h0m0 8h0m1-8h0m0 0h0m1 8h0m3-5h0m1 1h0m1-4h0m1-3h0m0 3h0m0 2h0m1 3h0m3-7h0m2 3h0m0-2h0m1 4h0m0-1h0m2-1h0m2-2h0m1 1h0m0-3h0m0 6h0m1-2h0m2-1h0m5 6h0m1-4h0m2 1h0m2-1h0m5 6h0m3-4h0m1-4h0m4 5h0m0-2h0m3-5h0m2 8h0m3 0h0m2-7h0m0-2h0m0 1h0m1 2h0m1 2h0m0 6h0m1-6h0m0 4h0m0 1h0m1-10h0m0 3h0m1 4h0m1 1h0m0-2h0m0-5h0m0 3h0m1 0h0m1 7h0m0-9h0m0 8h0m1-1h0m0-6h0m1 3h0m0 4h0m1-9h0m0 8h0m1 1h0m0-7h0m0 8h0m1-2h0m0 1h0m2-6h0m0-3h0m0 8h0m0-9h0m1 3h0m0-1h0m0 9h0m1-8h0m1 6h0m0-2h0m0-1h0m0-3h0m1-1h0m0 2h0m1 2h0m0-3h0m1-3h0m0 2h0m1-1h0m0 6h0m0 3h0m1-4h0m1-3h0m0-2h0m0 9h0m0-6h0m1 3h0m0-7h0m0 5h0m0 6h0m0-3h0m0-7h0m1 7h0m0 0h0m0-2h0m1 4h0m0-7h0m0 2h0m0 2h0m0 0h0m2 0h0m0-2h0m0 0h0m1 0h0m0-3h0m0 5h0m0-1h0m1 1h0m0-1h0m0-2h0m1 2h0m0 2h0m0 0h0m1-5h0m0 0h0m0 1h0m0 1h0m0 3h0m0 0h0m1-3h0m0 4h0m0 0h0m0-8h0m1 5h0m0-4h0m0 5h0m0-1h0m0-2h0m1 4h0m1-4h0m0 3h0m0 0h0m1 0h0m1 2h0m0-5h0m1 4h0m0-4h0m0 6h0m0-6h0m0-4h0m1 6h0m0 2h0m1-2h0m0-5h0m1 0h0m0 5h0m3 5h0m2-10h0m0 3h0m0-1h0m2 4h0m4-7h0m0 5h0m1 5h0m2-9h0m4 6h0m1-6h0m2 10h0m-297 2h0m10 2h0m2 0h0m3 5h0m0-2h0m3-6h0m1 6h0m2 1h0m1-1h0m1 3h0m1 1h0m0-3h0m0-2h0m1-1h0m1-3h0m2 6h0m1-2h0m4 6h0m3-11h0m2 4h0m0 2h0m1-2h0m5 2h0m0-5h0m0 2h0m0-3h0m1 10h0m1-2h0m1-4h0m1-4h0m2 3h0m1 4h0m1 2h0m0-2h0m2 2h0m1-4h0m2-2h0m2 1h0m0 2h0m5 4h0m1-3h0m11-4h0m0 5h0m1 2h0m0-1h0m1-1h0m1 2h0m0-1h0m0 1h0m1-4h0m0 4h0m0-5h0m1 6h0m0-2h0m0-5h0m0 3h0m1 0h0m0 4h0m0-2h0m1-4h0m0 2h0m0-5h0m1 6h0m0-7h0m1 3h0m0-2h0m1 6h0m0 0h0m0-2h0m1 0h0m1-1h0m0-5h0m0 1h0m0 2h0m1 7h0m0-6h0m0 0h0m4-4h0m1 1h0m1 3h0m1 1h0m1-4h0m6-1h0m17 10h0m21-10h0m35 2h0m5 8h0m1-8h0m2-1h0m1 1h0m0 2h0m3 2h0m0-4h0m4 8h0m1-7h0m8 6h0m3-7h0m10-2h0m7 0h0m8 6h0m2-3h0m6-1h0m1 2h0m0-3h0m0 2h0m0-1h0m0 7h0m1-7h0m3 4h0m1 1h0m1-2h0m0-4h0m0 2h0m3-3h0m2 4h0m0-4h0m1 2h0m0 0h0m0 2h0m2-3h0m1-1h0m0 3h0m0 5h0m1-4h0m3 4h0m0-4h0m1-3h0m0 1h0m0 1h0m1 2h0m1-1h0m0 4h0m0-5h0m0-2h0m0 3h0m1-2h0m0-1h0m0-1h0m1 4h0m0-2h0m1 0h0m0 1h0m0-3h0m1 4h0m1 5h0m0-1h0m1-8h0m0 0h0m2 0h0m3 3h0m1 4h0m1-7h0m1 1h0m1 1h0m0-1h0m1 1h0m1 0h0m1 1h0m2-2h0m0 10h0m1-6h0m4-2h0m0-2h0m0 1h0m1 5h0m1-3h0m20-1h0m-282 12h0m6-3h0m2 11h0m0-5h0m5-2h0m3 6h0m0-7h0m5 4h0m2-4h0m4-3h0m8 6h0m3-2h0m5 5h0m1-3h0m0 4h0m3 0h0m1-5h0m3-4h0m1 0h0m0-1h0m1 4h0m2-4h0m4 0h0m2 1h0m0-1h0m4 4h0m13 3h0m74-2h0m4-5h0m4 2h0m13-2h0m43 0h0m10 0h0m14 4h0m-282 12h0m22-2h0m7 3h0m1 5h0m1-4h0m3 0h0m3 5h0m1 0h0m2-9h0m1 0h0m10 4h0m1-2h0m0 3h0m2 0h0m0 0h0m0-2h0m2 1h0m0-1h0m1 0h0m4-4h0m1 5h0m2 5h0m3-8h0m0 1h0m1-2h0m0 8h0m1-1h0m0-9h0m1 9h0m1-6h0m0 5h0m2-4h0m1-3h0m0 6h0m1-1h0m2 5h0m1-4h0m1-5h0m1 0h0m1 2h0m1 2h0m0-4h0m0 4h0m1 0h0m1-3h0m4-2h0m2 3h0m0 7h0m4-9h0m1-2h0m1 2h0m0 0h0m1 9h0m2-4h0m1 1h0m2-7h0m3 5h0m0 5h0m2-7h0m3 3h0m2-7h0m1 10h0m0-4h0m2 0h0m6-4h0m6 8h0m3-9h0m11 10h0m114 0h0m-255 5h0m12-4h0m7 6h0m5 4h0m0 0h0m3-6h0m4 5h0m1 1h0m7-5h0m2 1h0m1-5h0m1 2h0m0 8h0m2-11h0m2 4h0m0 6h0m1-9h0m0-1h0m1 8h0m1-7h0m1 1h0m1 5h0m0 0h0m1-2h0m1 3h0m1-2h0m1-4h0m1 6h0m0-4h0m0 0h0m0 6h0m1-10h0m0 7h0m0 1h0m1-2h0m0 1h0m1 3h0m0-9h0m1 10h0m0-11h0m0 11h0m1-5h0m0 0h0m1-5h0m0 3h0m1 5h0m0 0h0m1 1h0m0-10h0m2 1h0m0 10h0m1 0h0m0-1h0m1-9h0m2 6h0m5 3h0m0-3h0m0-5h0m0 0h0m1 5h0m1 4h0m1-6h0m0 5h0m2 0h0m0-10h0m1 9h0m0-7h0m1 3h0m1-2h0m1 7h0m1-6h0m0-2h0m1 0h0m0 7h0m0-3h0m0 0h0m1 4h0m0-9h0m2 2h0m0 2h0m1 1h0m0-5h0m1 3h0m1 7h0m0-9h0m0 6h0m2-1h0m1 1h0m1 1h0m2-2h0m2 2h0m3-4h0m1-3h0m1-1h0m0 6h0m2 4h0m1-11h0m2 8h0m1-1h0m2 3h0m5-9h0m2 7h0m4-1h0m6-7h0m12 9h0m16 0h0m27-7h0m10 8h0m0 1h0m1-4h0m2 3h0m0 0h0m2-1h0m1 2h0m1-6h0m1 6h0m0 0h0m0 0h0m1-5h0m0 0h0m1 5h0m1 0h0m8-1h0m3-4h0m3 2h0m1-2h0m1 4h0m2-2h0m0 2h0m1 0h0m1-4h0m1 5h0m1-1h0m1 0h0m1-6h0m1 3h0m1 4h0m6-8h0m0 7h0m3 0h0m2-5h0m1 6h0m1 0h0m1-6h0m4-1h0m1 4h0m3 3h0m13-2h0m-296 10h0m25-2h0m11-2h0m4 4h0m4-6h0m7 8h0m0-7h0m4 7h0m4-7h0m4 0h0m0 7h0m3-8h0m1 10h0m1-8h0m1 2h0m1-5h0m2 8h0m1-4h0m0 6h0m2-4h0m1-3h0m0 3h0m1-5h0m1 0h0m0 4h0m1-1h0m1 0h0m1 1h0m1-4h0m0 0h0m1 6h0m0 2h0m0 2h0m1-4h0m0-5h0m1 2h0m2 0h0m0 4h0m1 1h0m2 0h0m0-6h0m1-3h0m0 4h0m0 7h0m1-5h0m1-3h0m0 8h0m1-8h0m2 8h0m1-5h0m0-4h0m1 7h0m0-3h0m0-5h0m1 4h0m0-4h0m1 4h0m1 0h0m0 6h0m1-7h0m0-1h0m1 1h0m1 6h0m0-10h0m1 3h0m0 1h0m1-2h0m2 0h0m0 0h0m0 4h0m0-5h0m1 0h0m0 0h0m1 3h0m0 3h0m0-2h0m0 2h0m1 1h0m0 0h0m1-5h0m1 8h0m0-6h0m0 5h0m0 0h0m1-5h0m1 0h0m0 6h0m0-3h0m1-1h0m0-6h0m0 10h0m0-7h0m0-3h0m0 5h0m1 0h0m1-6h0m0 3h0m0 7h0m0-10h0m2 4h0m1 2h0m1-3h0m1 4h0m0-3h0m1-1h0m0 5h0m0-4h0m0 1h0m2-2h0m1 2h0m2 3h0m1 3h0m1-5h0m2-3h0m0 1h0m6 0h0m3-3h0m0 3h0m0-3h0m5 4h0m2 4h0m0 0h0m0-6h0m0-1h0m6 8h0m2-1h0m4-8h0m5 10h0m1-10h0m4 9h0m35-5h0m6 1h0m0-3h0m1 4h0m2 0h0m1 4h0m2-7h0m1 7h0m2-9h0m0 6h0m0 2h0m1-10h0m0 10h0m1-4h0m0-2h0m0 5h0m1-8h0m1 3h0m1 2h0m1 4h0m1-10h0m1 10h0m0-7h0m0 2h0m0 1h0m0 0h0m0 1h0m1-5h0m1 1h0m0-3h0m0 4h0m0 1h0m1 3h0m0-2h0m1 5h0m0-2h0m1-9h0m0 6h0m1 5h0m0-2h0m0 0h0m1 1h0m1-8h0m0 2h0m1 6h0m0 1h0m0-4h0m1 3h0m0-8h0m0 8h0m1-9h0m0 5h0m0 0h0m0 2h0m1-4h0m0 7h0m0 0h0m1 0h0m0-10h0m1 5h0m0 0h0m1-1h0m0-2h0m0 1h0m0 7h0m0-6h0m1 2h0m0-1h0m0-4h0m0 0h0m1 9h0m0-3h0m0-7h0m1 7h0m1-4h0m1 7h0m0-5h0m0 2h0m1-2h0m0 1h0m0-6h0m1 0h0m0 9h0m0 1h0m1-6h0m0 3h0m1-4h0m1 2h0m0-6h0m0 4h0m2 2h0m0-1h0m1 0h0m0 3h0m0-6h0m1 5h0m0 3h0m2-6h0m0-2h0m2 3h0m0 6h0m0-1h0m1-10h0m0 9h0m1-3h0m0 3h0m0 2h0m0-4h0m1 1h0m0-3h0m2 1h0m0 4h0m0 1h0m1-5h0m0 4h0m0-4h0m0-4h0m1 0h0m0 2h0m1-1h0m1 8h0m0-2h0m0 0h0m1-7h0m1-1h0m1 4h0m0 4h0m1 2h0m0-7h0m2 7h0m0-1h0m1 0h0m0 0h0m2-1h0m1 1h0m0-7h0m1 5h0m1-6h0m2 4h0m0 2h0m0 2h0m1 1h0m2 0h0m1-2h0m1 2h0m4 0h0m2-6h0m3-2h0m15 1h0m-279 17h0m16-7h0m2 0h0m7 3h0m3 3h0m1-5h0m4 5h0m0-4h0m2-3h0m2 4h0m1-4h0m2 4h0m2-3h0m3 8h0m1-9h0m1 9h0m2-10h0m1 2h0m1-1h0m1-1h0m1 2h0m0 1h0m4 2h0m1 4h0m1-3h0m0-3h0m1 6h0m1-2h0m2-3h0m0 2h0m0 4h0m3-5h0m0-5h0m1 0h0m1 3h0m2 3h0m5-6h0m1 9h0m2-8h0m2 6h0m0-7h0m0 7h0m1-6h0m2 4h0m2-4h0m2 1h0m0 3h0m0-3h0m1 8h0m1-7h0m0 0h0m1 5h0m0-8h0m1 2h0m3 3h0m1-2h0m1 8h0m1-6h0m1-3h0m2-2h0m1 1h0m3 0h0m1 1h0m0-2h0m0 3h0m3 8h0m6-3h0m2-7h0m2 5h0m4 5h0m0-2h0m1-2h0m11 2h0m2-7h0m7 0h0m35 4h0m0-5h0m7-1h0m0 6h0m0-4h0m1-1h0m1 8h0m1-4h0m2-4h0m0 0h0m1 4h0m1-5h0m0 3h0m0 3h0m0-4h0m0-1h0m0-1h0m1 7h0m1-6h0m1 3h0m0-4h0m0 8h0m1-5h0m0-3h0m1 0h0m1 3h0m0-2h0m0-1h0m1 7h0m3 2h0m1-2h0m0-3h0m1 5h0m1-9h0m0 3h0m2 2h0m1 4h0m0-5h0m1 5h0m0-4h0m0 6h0m1-10h0m0 8h0m0-4h0m1-3h0m0 1h0m1 1h0m0 0h0m0 6h0m1-6h0m0 4h0m0-5h0m1 0h0m0-3h0m0 4h0m1 0h0m0-4h0m2 2h0m0 6h0m0 2h0m0-7h0m0-2h0m1 5h0m0 1h0m0-4h0m0-1h0m0 2h0m1-2h0m0 3h0m0-5h0m0 1h0m1 2h0m0 7h0m0-9h0m1 8h0m0-6h0m0 1h0m1 1h0m1-4h0m0 7h0m0-2h0m1 3h0m0-3h0m1-2h0m0-1h0m0-2h0m0 3h0m0-3h0m0 0h0m1 5h0m0-5h0m1 6h0m0-5h0m0 4h0m1-2h0m0 2h0m0 3h0m0-4h0m0-5h0m0 8h0m1 1h0m0-4h0m0 6h0m1-5h0m0-1h0m0 1h0m0-5h0m0-1h0m1 1h0m3 0h0m0 5h0m1 4h0m0-10h0m2 2h0m0-1h0m1 3h0m1-2h0m0 3h0m0-1h0m1 1h0m1-2h0m0 7h0m1-10h0m0 0h0m1 8h0m0-6h0m0 3h0m0 4h0m2 0h0m0-5h0m2-2h0m3 3h0m1 4h0m1-3h0m2 3h0m1-9h0m2 4h0m0 6h0m1 0h0m2-1h0m1-8h0m-225 21h0m1-3h0m6 4h0m3-8h0m3 4h0m6-4h0m6 0h0m4 7h0m5-3h0m2-4h0m1 0h0m1 4h0m0 3h0m2-4h0m3 1h0m4 4h0m6-8h0m1 1h0m23 0h0m6 2h0m12-4h0m2 3h0m64-4h0m3 1h0m1-1h0m2 4h0m0-2h0m3 6h0m2-5h0m1-1h0m2 1h0m0 4h0m1-4h0m6-4h0m3 2h0m1 1h0m0 5h0m4-2h0m2-3h0m1 2h0m1 2h0m2-6h0m0 4h0m1-2h0m1-2h0m3 2h0m1-3h0m1 9h0m2 1h0m1-8h0m3 2h0m0-3h0m6 1h0m-229 20h0m8-5h0m14-1h0m7-2h0m55-2h0m107 0h0m2 5h0m1-4h0m4 0h0m13-1h0m10 1h0m2 0h0" stroke="#CDCDD4" stroke-width="2.6" stroke-linecap="round" fill="none"/><path transform="scale(.5)" d="M1129 2591h0m-14 11h0m7-3h0m0-4h0m2 5h0m-21 14h0m2-10h0m0 9h0m2-3h0m1-4h0m0 0h0m1 9h0m2-7h0m0 2h0m4-1h0m15 2h0m-39 6h0m19 5h0m0-2h0m12 6h0m16 0h0m-43 8h0m15-2h0m3 5h0m6 2h0m4-6h0m2 1h0m9 4h0m14 3h0m9 4h0m43 6h0m2-9h0m20 0h0m2 8h0m3 0h0m5-2h0m1-6h0m1 8h0m1-4h0m-142 7h0m12 3h0m2-4h0m1 4h0m0 4h0m2-4h0m1-4h0m3 6h0m3-2h0m2 0h0m0 0h0m1 4h0m79-7h0m9 9h0m1-6h0m1 6h0m4-8h0m5 4h0m3 4h0m0 0h0m1-1h0m2-3h0m0 5h0m0-1h0m0-10h0m1 0h0m1 7h0m4 1h0m1 1h0m2-1h0m3-7h0m5 8h0m7 0h0m-53 6h0m2 2h0m1 0h0m8 6h0m2-7h0m3 6h0m2-5h0m7 3h0m2-1h0m5 4h0m1-6h0m4 0h0m0 1h0m0-6h0m9 6h0m0-5h0m1 0h0m1 7h0m2-1h0m3 0h0m-198 6h0m8 8h0m123-6h0m9 7h0m10-8h0m2 4h0m1 1h0m1 1h0m1-5h0m4 3h0m1-5h0m1 10h0m0-6h0m1-3h0m3 6h0m1 1h0m1 0h0m1-1h0m1 2h0m1-8h0m2 6h0m1-1h0m3-5h0m1 8h0m1-7h0m2 2h0m2 1h0m2-3h0m1 5h0m0-7h0m0 5h0m2 4h0m0-7h0m8 4h0m0 1h0m2-6h0m1 8h0m2-1h0m-199 7h0m153-1h0m1 2h0m5-5h0m13 9h0m0-4h0m1-4h0m3 4h0m3 1h0m1 3h0m0 2h0m1 0h0m11-11h0m-194 12h0m1 0h0m1 1h0m6 2h0m5-1h0m150 5h0m1-7h0m3 5h0m7-5h0m6 7h0m3-3h0m2-1h0m1 6h0m-18 7h0m10-2h0m5 5h0m14-6h0m-161 37h0m3-1h0m15 3h0m5 6h0m150-1h0m-184 8h0m28-1h0m4-2h0m148 6h0m7 2h0m3-1h0m-184 14h0m10-4h0m0-2h0m138-1h0m8 1h0m8-4h0m3 1h0m4-1h0m6 10h0m0-3h0m4-1h0m5 4h0m-8 10h0" stroke="#5A46B8" stroke-width="2.4" stroke-linecap="round" fill="none"/>
<text x="598.6" y="1410.5" font-size="8.2" text-anchor="middle" font-family='"Liberation Sans",sans-serif' font-weight="bold" fill="#222">UMAP1</text>
<text transform="translate(509.8,1341.3) rotate(-90)" font-size="8.2" font-weight="bold" text-anchor="middle" font-family="Liberation Sans" fill="#222">UMAP2</text>
<text x="667.1" y="1314.3" font-size="7.4" text-anchor="start" font-family='"Liberation Sans",sans-serif' font-weight="bold" fill="#222">TIA1</text>
<text x="669.6" y="1329.9" font-size="5.9" text-anchor="start" font-family='"Liberation Sans",sans-serif' font-weight="bold" fill="#222">Expr.</text>
<rect x="670.1" y="1333.2" width="9" height="45.9" fill="url(#gk)"/>
<text x="682.1" y="1344.2" font-size="5.2" text-anchor="start" font-family='"Liberation Sans",sans-serif' fill="#333">3</text>
<text x="682.1" y="1356.4" font-size="5.2" text-anchor="start" font-family='"Liberation Sans",sans-serif' fill="#333">2</text>
<text x="682.1" y="1368.7" font-size="5.2" text-anchor="start" font-family='"Liberation Sans",sans-serif' fill="#333">1</text>
<text x="682.1" y="1380.9" font-size="5.2" text-anchor="start" font-family='"Liberation Sans",sans-serif' fill="#333">0</text>
<text x="369.6" y="1440.8" font-size="6.3" text-anchor="start" font-family='"Liberation Sans",sans-serif' font-weight="bold" fill="#222">Cell Type</text>
<circle cx="405.1" cy="1425.4" r="1.9" fill="#E066C0"/>
<text x="412.6" y="1427.4" font-size="5.9" text-anchor="start" font-family='"Liberation Sans",sans-serif' fill="#333">Hepatocyte</text>
<circle cx="405.1" cy="1433.6" r="1.9" fill="#A0522D"/>
<text x="412.6" y="1435.6" font-size="5.9" text-anchor="start" font-family='"Liberation Sans",sans-serif' fill="#333">Cholangiocyte</text>
<circle cx="405.1" cy="1441.8" r="1.9" fill="#DCA45A"/>
<text x="412.6" y="1443.8" font-size="5.9" text-anchor="start" font-family='"Liberation Sans",sans-serif' fill="#333">CD4T cell</text>
<circle cx="405.1" cy="1450" r="1.9" fill="#A07030"/>
<text x="412.6" y="1452" font-size="5.9" text-anchor="start" font-family='"Liberation Sans",sans-serif' fill="#333">CD8T cell</text>
<circle cx="457.2" cy="1425.4" r="1.9" fill="#E87890"/>
<text x="465.1" y="1427.4" font-size="5.9" text-anchor="start" font-family='"Liberation Sans",sans-serif' fill="#333">Non-conventional T cell</text>
<circle cx="457.2" cy="1433.6" r="1.9" fill="#C8642E"/>
<text x="465.1" y="1435.6" font-size="5.9" text-anchor="start" font-family='"Liberation Sans",sans-serif' fill="#333">NK-like cell</text>
<circle cx="457.2" cy="1441.8" r="1.9" fill="#7090C0"/>
<text x="465.1" y="1443.8" font-size="5.9" text-anchor="start" font-family='"Liberation Sans",sans-serif' fill="#333">B cell</text>
<circle cx="457.2" cy="1450" r="1.9" fill="#E06040"/>
<text x="465.1" y="1452" font-size="5.9" text-anchor="start" font-family='"Liberation Sans",sans-serif' fill="#333">Plasma cell</text>
<circle cx="534.3" cy="1425.4" r="1.9" fill="#F0B4D8"/>
<text x="541.8" y="1427.4" font-size="5.9" text-anchor="start" font-family='"Liberation Sans",sans-serif' fill="#333">Monocyte</text>
<circle cx="534.3" cy="1433.6" r="1.9" fill="#5CB848"/>
<text x="541.8" y="1435.6" font-size="5.9" text-anchor="start" font-family='"Liberation Sans",sans-serif' fill="#333">Macrophage</text>
<circle cx="534.3" cy="1441.8" r="1.9" fill="#30A070"/>
<text x="541.8" y="1443.8" font-size="5.9" text-anchor="start" font-family='"Liberation Sans",sans-serif' fill="#333">Dendritic cell</text>
<circle cx="534.3" cy="1450" r="1.9" fill="#8CB8DC"/>
<text x="541.8" y="1452" font-size="5.9" text-anchor="start" font-family='"Liberation Sans",sans-serif' fill="#333">Neutrophil</text>
<circle cx="583.4" cy="1425.4" r="1.9" fill="#1E6420"/>
<text x="590.8" y="1427.4" font-size="5.9" text-anchor="start" font-family='"Liberation Sans",sans-serif' fill="#333">Mast cell</text>
<circle cx="583.4" cy="1433.6" r="1.9" fill="#3A78B8"/>
<text x="590.8" y="1435.6" font-size="5.9" text-anchor="start" font-family='"Liberation Sans",sans-serif' fill="#333">Endothelial</text>
<circle cx="583.4" cy="1441.8" r="1.9" fill="#B8B0E0"/>
<text x="590.8" y="1443.8" font-size="5.9" text-anchor="start" font-family='"Liberation Sans",sans-serif' fill="#333">Fibroblast</text>
<circle cx="583.4" cy="1450" r="1.9" fill="#E86070"/>
<text x="590.8" y="1452" font-size="5.9" text-anchor="start" font-family='"Liberation Sans",sans-serif' fill="#333">Erythroid</text>
</svg></body></html>
